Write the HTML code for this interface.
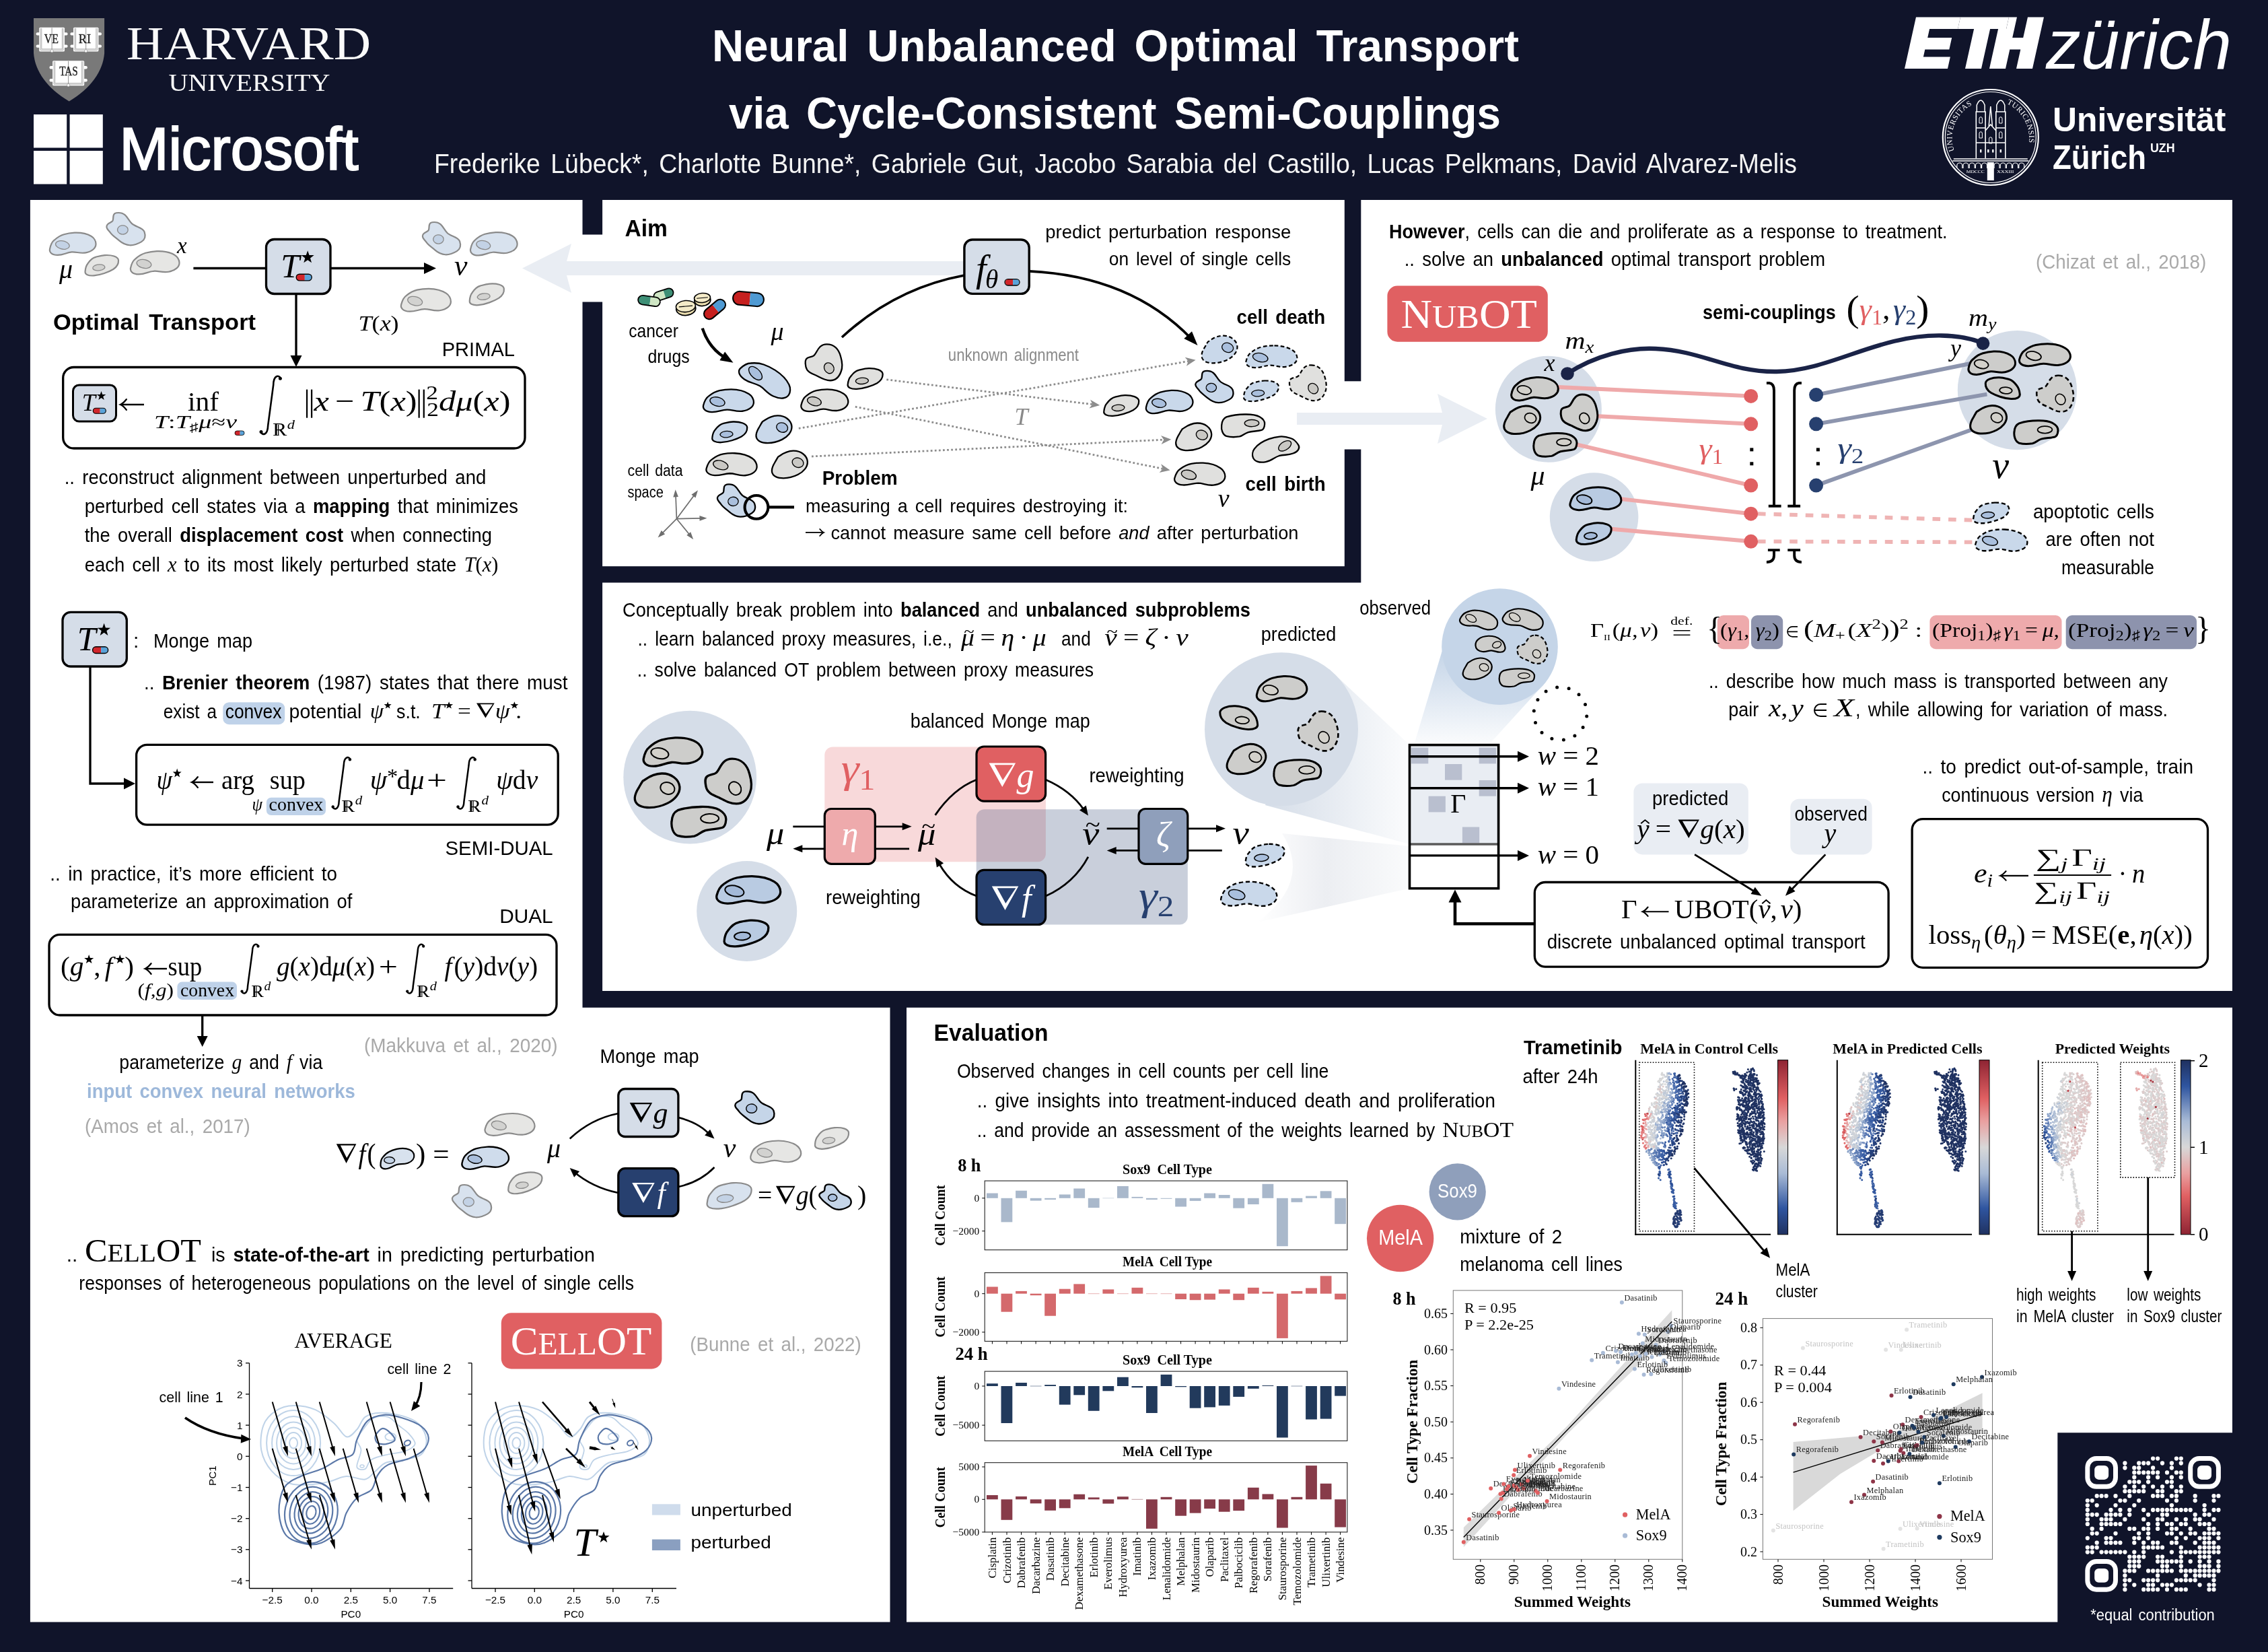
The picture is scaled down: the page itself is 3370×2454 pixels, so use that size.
<!DOCTYPE html>
<html lang="en"><head><meta charset="utf-8"><title>Neural Unbalanced Optimal Transport via Cycle-Consistent Semi-Couplings</title>
<style>
html,body{margin:0;padding:0;background:#10142a;}
body{width:3370px;height:2454px;overflow:hidden;font-family:"Liberation Sans",sans-serif;}
svg{display:block;will-change:transform;transform:translateZ(0);}
text{white-space:pre;}
</style></head><body>
<svg width="3370" height="2454" viewBox="0 0 3370 2454">
<defs></defs>
<path d="M44.9,297 H865.5 V1496.8 H1322.5 V2409.6 H44.9 Z" fill="#ffffff" />
<rect x="895.1" y="297.0" width="1102.7" height="544.2" fill="#ffffff" />
<path d="M2022.3,297 H3317 V1472.1 H895.1 V865.6 H2022.3 Z" fill="#ffffff" />
<rect x="864.5" y="348.5" width="31.6" height="100.0" fill="#ffffff" />
<rect x="1996.8" y="566.3" width="26.5" height="101.2" fill="#ffffff" />
<path d="M1347,1496.8 H3317 V2128.3 H3057.3 V2409.6 H1347 Z" fill="#ffffff" />
<path d="M1435,388 H842 L849,362 L776,398.5 L849,435 L842,409 H1435 Z" fill="#e9edf3" />
<path d="M1927,613 H2143 L2136,585 L2210,622 L2136,659 L2143,631 H1927 Z" fill="#e9edf3" />
<path d="M50,27 H155.1 V79 C153,106 135,131 102.7,150.5 C70,131 52,106 50,79 Z" fill="#797979" />
<rect x="53.6" y="48.2" width="47.0" height="4.4" fill="#fff" rx="2" />
<rect x="53.6" y="66.4" width="47.0" height="4.4" fill="#fff" rx="2" />
<rect x="58.2" y="40.8" width="37.8" height="35.6" fill="#fff" rx="1.5" />
<path d="M60.2,41.8 V74.4 H94.0 V41.8" fill="none" stroke="#8f8f8f" stroke-width="0.7" />
<path d="M61.800000000000004,41.8 V72.80000000000001 H92.4 V41.8" fill="none" stroke="#8f8f8f" stroke-width="0.7" />
<line x1="77.1" y1="41.3" x2="77.1" y2="73.4" stroke="#777" stroke-width="0.8" />
<circle cx="77.1" cy="75.8" r="2.1" fill="#fff" stroke="#888" stroke-width="0.6" />
<text x="65.8" y="63.6" font-family='"Liberation Serif", serif' font-size="19.4" font-weight="normal" font-style="normal" fill="#1c1c1c" text-anchor="start" textLength="21.2" lengthAdjust="spacingAndGlyphs" stroke="#1c1c1c" stroke-width="0.35">VE</text>
<rect x="104.4" y="48.2" width="46.6" height="4.4" fill="#fff" rx="2" />
<rect x="104.4" y="66.4" width="46.6" height="4.4" fill="#fff" rx="2" />
<rect x="109.0" y="40.8" width="37.4" height="35.6" fill="#fff" rx="1.5" />
<path d="M111.0,41.8 V74.4 H144.4 V41.8" fill="none" stroke="#8f8f8f" stroke-width="0.7" />
<path d="M112.6,41.8 V72.80000000000001 H142.8 V41.8" fill="none" stroke="#8f8f8f" stroke-width="0.7" />
<line x1="127.7" y1="41.3" x2="127.7" y2="73.4" stroke="#777" stroke-width="0.8" />
<circle cx="127.7" cy="75.8" r="2.1" fill="#fff" stroke="#888" stroke-width="0.6" />
<text x="116.7" y="63.6" font-family='"Liberation Serif", serif' font-size="19.4" font-weight="normal" font-style="normal" fill="#1c1c1c" text-anchor="start" textLength="18.3" lengthAdjust="spacingAndGlyphs" stroke="#1c1c1c" stroke-width="0.35">RI</text>
<rect x="73.5" y="98.1" width="56.3" height="4.4" fill="#fff" rx="2" />
<rect x="73.5" y="117.0" width="56.3" height="4.4" fill="#fff" rx="2" />
<rect x="78.1" y="90.3" width="47.1" height="36.9" fill="#fff" rx="1.5" />
<path d="M80.1,91.3 V125.19999999999999 H123.19999999999999 V91.3" fill="none" stroke="#8f8f8f" stroke-width="0.7" />
<path d="M81.69999999999999,91.3 V123.6 H121.6 V91.3" fill="none" stroke="#8f8f8f" stroke-width="0.7" />
<line x1="101.6" y1="90.8" x2="101.6" y2="124.2" stroke="#777" stroke-width="0.8" />
<circle cx="101.6" cy="126.6" r="2.1" fill="#fff" stroke="#888" stroke-width="0.6" />
<text x="88.3" y="112.4" font-family='"Liberation Serif", serif' font-size="19.4" font-weight="normal" font-style="normal" fill="#1c1c1c" text-anchor="start" textLength="27.5" lengthAdjust="spacingAndGlyphs" stroke="#1c1c1c" stroke-width="0.35">TAS</text>
<text x="188.0" y="88.0" font-family='"Liberation Serif", serif' font-size="70.5" font-weight="normal" font-style="normal" fill="#fafafa" text-anchor="start" textLength="363.0" lengthAdjust="spacingAndGlyphs" >HARVARD</text>
<text x="250.5" y="134.8" font-family='"Liberation Serif", serif' font-size="36.5" font-weight="normal" font-style="normal" fill="#fafafa" text-anchor="start" textLength="240.0" lengthAdjust="spacingAndGlyphs" >UNIVERSITY</text>
<rect x="50.0" y="170.0" width="49.2" height="49.5" fill="#fff" />
<rect x="50.0" y="224.0" width="49.2" height="49.5" fill="#fff" />
<rect x="103.6" y="170.0" width="49.2" height="49.5" fill="#fff" />
<rect x="103.6" y="224.0" width="49.2" height="49.5" fill="#fff" />
<text x="177.5" y="252.0" font-family='"Liberation Sans", sans-serif' font-size="88.7" font-weight="normal" font-style="normal" fill="#fff" text-anchor="start" textLength="355.0" lengthAdjust="spacingAndGlyphs" stroke="#fff" stroke-width="2.2">Microsoft</text>
<text x="1058.0" y="91.4" font-family='"Liberation Sans", sans-serif' font-size="66.58" font-weight="bold" font-style="normal" fill="#fff" text-anchor="start" textLength="1199.0" lengthAdjust="spacingAndGlyphs" word-spacing="9.0" >Neural Unbalanced Optimal Transport</text>
<text x="1083.0" y="191.4" font-family='"Liberation Sans", sans-serif' font-size="66.58" font-weight="bold" font-style="normal" fill="#fff" text-anchor="start" textLength="1147.0" lengthAdjust="spacingAndGlyphs" word-spacing="9.0" >via Cycle-Consistent Semi-Couplings</text>
<text x="645.0" y="257.0" font-family='"Liberation Sans", sans-serif' font-size="40.05" font-weight="normal" font-style="normal" fill="#f4f4f4" text-anchor="start" textLength="2025.0" lengthAdjust="spacingAndGlyphs" word-spacing="5.4" >Frederike Lübeck*, Charlotte Bunne*, Gabriele Gut, Jacobo Sarabia del Castillo, Lucas Pelkmans, David Alvarez-Melis</text>
<g transform="translate(2830,102) skewX(-12.5)" fill="#fff">
<path d="M0,0 V-76.6 H66 V-59.099999999999994 H24 V-46.05 H60 V-28.549999999999997 H24 V-17.5 H64 V0 Z"/>
<path d="M66,-76.6 H138 V-59.099999999999994 H114 V0 H90 V-59.099999999999994 H66 Z"/>
<path d="M126,-59.099999999999994 V0 H150 V-28.549999999999997 H166 V0 H190 V-76.6 H166 V-46.05 H150 V-76.6 H138 V-59.099999999999994 Z"/>
</g>
<text x="3040.0" y="102.0" font-family='"Liberation Sans", sans-serif' font-size="104" font-weight="normal" font-style="italic" fill="#fff" text-anchor="start" textLength="276.0" lengthAdjust="spacingAndGlyphs" >zürich</text>
<circle cx="2957.8" cy="204.0" r="71.0" fill="none" stroke="#fff" stroke-width="2.2" />
<circle cx="2957.8" cy="204.0" r="67.5" fill="none" stroke="#fff" stroke-width="1.2" />
<path d="M2936.3,235 V166 H2950.1000000000004 V235 M2965.8,235 V166 H2979.8 V235 M2950.1000000000004,235 V194 L2957.8,185 L2965.8,194 V235" fill="none" stroke="#fff" stroke-width="1.6" />
<path d="M2937.3,166 V156 Q2943.2000000000003,142 2949.1000000000004,156 V166 M2966.8,166 V156 Q2972.8,142 2978.8,156 V166 M2955.2000000000003,187 L2957.8,158 L2960.4,187" fill="none" stroke="#fff" stroke-width="1.5" />
<path d="M2936.3,190 H2950.1000000000004 M2965.8,190 H2979.8 M2936.3,212 H2979.8 M2902.8,236 H3012.8 M2901.3,239 H3014.3" fill="none" stroke="#fff" stroke-width="1.3" />
<path d="M2907.8,250 V246 A4,4 0 0 1 2915.8,246 V250" fill="none" stroke="#fff" stroke-width="1.2" />
<path d="M2917.0,250 V246 A4,4 0 0 1 2925.0,246 V250" fill="none" stroke="#fff" stroke-width="1.2" />
<path d="M2926.2000000000003,250 V246 A4,4 0 0 1 2934.2000000000003,246 V250" fill="none" stroke="#fff" stroke-width="1.2" />
<path d="M2935.4,250 V246 A4,4 0 0 1 2943.4,246 V250" fill="none" stroke="#fff" stroke-width="1.2" />
<path d="M2944.6000000000004,250 V246 A4,4 0 0 1 2952.6000000000004,246 V250" fill="none" stroke="#fff" stroke-width="1.2" />
<path d="M2963.0,250 V246 A4,4 0 0 1 2971.0,246 V250" fill="none" stroke="#fff" stroke-width="1.2" />
<path d="M2972.2000000000003,250 V246 A4,4 0 0 1 2980.2000000000003,246 V250" fill="none" stroke="#fff" stroke-width="1.2" />
<path d="M2981.4,250 V246 A4,4 0 0 1 2989.4,246 V250" fill="none" stroke="#fff" stroke-width="1.2" />
<path d="M2990.6000000000004,250 V246 A4,4 0 0 1 2998.6000000000004,246 V250" fill="none" stroke="#fff" stroke-width="1.2" />
<path d="M2999.8,250 V246 A4,4 0 0 1 3007.8,246 V250" fill="none" stroke="#fff" stroke-width="1.2" />
<path d="M2941.0000000000005,183 V176 A2.2,2.2 0 0 1 2945.4,176 V183 Z" fill="none" stroke="#fff" stroke-width="1" />
<path d="M2970.6000000000004,183 V176 A2.2,2.2 0 0 1 2975.0,176 V183 Z" fill="none" stroke="#fff" stroke-width="1" />
<path d="M2941.0000000000005,205 V198 A2.2,2.2 0 0 1 2945.4,198 V205 Z" fill="none" stroke="#fff" stroke-width="1" />
<path d="M2970.6000000000004,205 V198 A2.2,2.2 0 0 1 2975.0,198 V205 Z" fill="none" stroke="#fff" stroke-width="1" />
<path d="M2955.6000000000004,213 V206 A2.2,2.2 0 0 1 2960.0,206 V213 Z" fill="none" stroke="#fff" stroke-width="1" />
<rect x="2942.0" y="222.0" width="2.4" height="4.5" fill="#fff" />
<rect x="2971.6" y="222.0" width="2.4" height="4.5" fill="#fff" />
<rect x="2953.1" y="222.0" width="2.4" height="4.5" fill="#fff" />
<rect x="2960.1" y="222.0" width="2.4" height="4.5" fill="#fff" />
<rect x="2952.8" y="241.0" width="10.0" height="27.0" fill="#fff" />
<path id="uzharc1" d="M2903.8,224 A56,56 0 0 1 2933.8,154" fill="none"/><path id="uzharc2" d="M2981.8,154 A56,56 0 0 1 3011.8,224" fill="none"/>
<text font-family='"Liberation Serif", serif' font-size="11.5" fill="#fff" letter-spacing="0.5"><textPath href="#uzharc1">UNIVERSITAS</textPath></text>
<text font-family='"Liberation Serif", serif' font-size="11.5" fill="#fff" letter-spacing="0.5"><textPath href="#uzharc2">TURICENSIS</textPath></text>
<text x="2921.8" y="256.8" font-family='"Liberation Serif", serif' font-size="6.2" font-weight="normal" font-style="normal" fill="#fff" text-anchor="start" textLength="27.0" lengthAdjust="spacingAndGlyphs" >MDCCC</text>
<text x="2967.3" y="256.8" font-family='"Liberation Serif", serif' font-size="6.2" font-weight="normal" font-style="normal" fill="#fff" text-anchor="start" textLength="25.0" lengthAdjust="spacingAndGlyphs" >XXXIII</text>
<text x="3050.0" y="194.8" font-family='"Liberation Sans", sans-serif' font-size="50.5" font-weight="bold" font-style="normal" fill="#fff" text-anchor="start" textLength="257.4" lengthAdjust="spacingAndGlyphs" >Universität</text>
<text x="3050.0" y="251.0" font-family='"Liberation Sans", sans-serif' font-size="50.5" font-weight="bold" font-style="normal" fill="#fff" text-anchor="start" textLength="139.0" lengthAdjust="spacingAndGlyphs" >Zürich</text>
<text x="3195.0" y="226.0" font-family='"Liberation Sans", sans-serif' font-size="17.5" font-weight="bold" font-style="normal" fill="#fff" text-anchor="start" textLength="36.6" lengthAdjust="spacingAndGlyphs" >UZH</text>
<g transform="translate(108.0,362.0) rotate(-1) scale(34.50,16.50)"><path d="M0.09,-0.99 C0.4,-1.0 0.65,-0.85 0.8,-0.65 C0.92,-0.5 1.0,-0.2 1.0,0.05 C1.0,0.4 0.85,0.72 0.56,0.83 C0.3,0.92 0.15,0.72 -0.05,0.75 C-0.3,0.8 -0.4,1.0 -0.65,1.0 C-0.9,1.0 -1.02,0.75 -0.99,0.45 C-0.96,0.15 -0.92,-0.15 -0.79,-0.35 C-0.68,-0.55 -0.55,-0.75 -0.37,-0.85 C-0.2,-0.95 -0.05,-0.98 0.09,-0.99 Z" fill="#d8e2ee" stroke="#8a8a8a" stroke-width="2.2" vector-effect="non-scaling-stroke" stroke-linejoin="round"/><ellipse cx="-0.44" cy="0.1" rx="0.28" ry="0.4" transform="rotate(-20 -0.44 0.1)" fill="#c3d2e5" stroke="#8a8a8a" stroke-width="1.32" vector-effect="non-scaling-stroke"/></g>
<g transform="translate(187.0,340.0) rotate(0) scale(29.00,24.50)"><path d="M-0.49,-0.97 C-0.3,-1.0 -0.15,-0.95 -0.05,-0.85 C0.1,-0.7 0.15,-0.5 0.3,-0.33 C0.5,-0.1 0.85,-0.1 0.95,0.18 C1.03,0.45 0.98,0.65 0.8,0.78 C0.6,0.92 0.4,1.0 0.2,0.99 C0.0,0.98 -0.2,0.85 -0.33,0.72 C-0.5,0.55 -0.7,0.4 -0.8,0.22 C-0.9,0.05 -1.02,0.0 -0.98,-0.18 C-0.95,-0.35 -0.72,-0.38 -0.67,-0.5 C-0.62,-0.65 -0.7,-0.93 -0.49,-0.97 Z" fill="#d8e2ee" stroke="#8a8a8a" stroke-width="2.2" vector-effect="non-scaling-stroke" stroke-linejoin="round"/><ellipse cx="-0.16" cy="0.06" rx="0.27" ry="0.27" transform="rotate(35 -0.16 0.06)" fill="#c3d2e5" stroke="#8a8a8a" stroke-width="1.32" vector-effect="non-scaling-stroke"/></g>
<g transform="translate(151.0,394.0) rotate(-2) scale(25.50,15.00)"><path d="M0.2,-0.98 C0.6,-1.0 0.98,-0.8 0.99,-0.44 C1.0,-0.1 0.9,0.2 0.67,0.44 C0.4,0.7 -0.1,0.98 -0.47,1.0 C-0.8,1.02 -1.0,0.85 -0.97,0.55 C-0.95,0.25 -0.92,0.0 -0.8,-0.22 C-0.68,-0.5 -0.55,-0.75 -0.33,-0.83 C-0.1,-0.92 0.0,-0.97 0.2,-0.98 Z" fill="#e6e6e4" stroke="#8a8a8a" stroke-width="2.2" vector-effect="non-scaling-stroke" stroke-linejoin="round"/><ellipse cx="-0.17" cy="0.22" rx="0.36" ry="0.3" transform="rotate(-15 -0.17 0.22)" fill="#d2d2d0" stroke="#8a8a8a" stroke-width="1.32" vector-effect="non-scaling-stroke"/></g>
<g transform="translate(230.0,390.0) rotate(-1) scale(36.50,17.00)"><path d="M0.09,-0.99 C0.4,-1.0 0.65,-0.85 0.8,-0.65 C0.92,-0.5 1.0,-0.2 1.0,0.05 C1.0,0.4 0.85,0.72 0.56,0.83 C0.3,0.92 0.15,0.72 -0.05,0.75 C-0.3,0.8 -0.4,1.0 -0.65,1.0 C-0.9,1.0 -1.02,0.75 -0.99,0.45 C-0.96,0.15 -0.92,-0.15 -0.79,-0.35 C-0.68,-0.55 -0.55,-0.75 -0.37,-0.85 C-0.2,-0.95 -0.05,-0.98 0.09,-0.99 Z" fill="#e6e6e4" stroke="#8a8a8a" stroke-width="2.2" vector-effect="non-scaling-stroke" stroke-linejoin="round"/><ellipse cx="-0.44" cy="0.1" rx="0.28" ry="0.4" transform="rotate(-20 -0.44 0.1)" fill="#d2d2d0" stroke="#8a8a8a" stroke-width="1.32" vector-effect="non-scaling-stroke"/></g>
<g transform="translate(263.0,376.0) scale(1.0000,1)"><text x="0.0" y="0.0" font-family='"Liberation Serif", serif' font-size="33" font-weight="normal" font-style="italic" fill="#000" text-anchor="start" >x</text></g>
<g transform="translate(88.0,413.0) scale(1.0000,1)"><text x="0.0" y="0.0" font-family='"Liberation Serif", serif' font-size="40" font-weight="normal" font-style="italic" fill="#000" text-anchor="start" >μ</text></g>
<line x1="287.4" y1="398.5" x2="396.0" y2="398.5" stroke="#000" stroke-width="3.3" />
<line x1="491.0" y1="398.5" x2="633.0" y2="398.5" stroke="#000" stroke-width="3.3" />
<polygon points="648.0,398.5 630.0,407.0 630.0,390.0" fill="#000"/>
<rect x="395.5" y="355.5" width="95.5" height="81.0" fill="#d5dde8" rx="12" stroke="#000" stroke-width="3.3" />
<text x="417.3" y="412.2" font-family='"Liberation Serif", serif' font-size="50" font-weight="normal" font-style="italic" fill="#000" text-anchor="start" >T</text>
<polygon points="457.2,372.2 459.5,379.0 466.7,379.1 461.0,383.4 463.0,390.3 457.2,386.2 451.3,390.3 453.3,383.4 447.6,379.1 454.8,379.0" fill="#000"/>
<g transform="rotate(0 451.7 412.0)"><path d="M445.0,407.2 H452.8 V416.9 H445.0 A4.8,4.8 0 0 1 445.0,407.2 Z" fill="#d1262b"/><path d="M452.8,407.2 H458.3 A4.8,4.8 0 0 1 458.3,416.9 H452.8 Z" fill="#5aa3d9"/><rect x="440.2" y="407.2" width="23.0" height="9.7" rx="4.8" fill="none" stroke="#000" stroke-width="1.38"/></g>
<line x1="440.0" y1="436.0" x2="440.0" y2="530.0" stroke="#000" stroke-width="3.3" />
<polygon points="440.0,545.0 431.5,528.0 448.5,528.0" fill="#000"/>
<g transform="translate(675.0,409.0) scale(1.0000,1)"><text x="0.0" y="0.0" font-family='"Liberation Serif", serif' font-size="44" font-weight="normal" font-style="italic" fill="#000" text-anchor="start" >ν</text></g>
<g transform="translate(656.0,354.0) rotate(0) scale(28.50,24.50)"><path d="M-0.49,-0.97 C-0.3,-1.0 -0.15,-0.95 -0.05,-0.85 C0.1,-0.7 0.15,-0.5 0.3,-0.33 C0.5,-0.1 0.85,-0.1 0.95,0.18 C1.03,0.45 0.98,0.65 0.8,0.78 C0.6,0.92 0.4,1.0 0.2,0.99 C0.0,0.98 -0.2,0.85 -0.33,0.72 C-0.5,0.55 -0.7,0.4 -0.8,0.22 C-0.9,0.05 -1.02,0.0 -0.98,-0.18 C-0.95,-0.35 -0.72,-0.38 -0.67,-0.5 C-0.62,-0.65 -0.7,-0.93 -0.49,-0.97 Z" fill="#d8e2ee" stroke="#8a8a8a" stroke-width="2.2" vector-effect="non-scaling-stroke" stroke-linejoin="round"/><ellipse cx="-0.16" cy="0.06" rx="0.27" ry="0.27" transform="rotate(35 -0.16 0.06)" fill="#c3d2e5" stroke="#8a8a8a" stroke-width="1.32" vector-effect="non-scaling-stroke"/></g>
<g transform="translate(733.6,362.0) rotate(-1) scale(35.00,17.00)"><path d="M0.09,-0.99 C0.4,-1.0 0.65,-0.85 0.8,-0.65 C0.92,-0.5 1.0,-0.2 1.0,0.05 C1.0,0.4 0.85,0.72 0.56,0.83 C0.3,0.92 0.15,0.72 -0.05,0.75 C-0.3,0.8 -0.4,1.0 -0.65,1.0 C-0.9,1.0 -1.02,0.75 -0.99,0.45 C-0.96,0.15 -0.92,-0.15 -0.79,-0.35 C-0.68,-0.55 -0.55,-0.75 -0.37,-0.85 C-0.2,-0.95 -0.05,-0.98 0.09,-0.99 Z" fill="#d8e2ee" stroke="#8a8a8a" stroke-width="2.2" vector-effect="non-scaling-stroke" stroke-linejoin="round"/><ellipse cx="-0.44" cy="0.1" rx="0.28" ry="0.4" transform="rotate(-20 -0.44 0.1)" fill="#c3d2e5" stroke="#8a8a8a" stroke-width="1.32" vector-effect="non-scaling-stroke"/></g>
<g transform="translate(633.0,446.0) rotate(2) scale(37.00,17.50)"><path d="M0.09,-0.99 C0.4,-1.0 0.65,-0.85 0.8,-0.65 C0.92,-0.5 1.0,-0.2 1.0,0.05 C1.0,0.4 0.85,0.72 0.56,0.83 C0.3,0.92 0.15,0.72 -0.05,0.75 C-0.3,0.8 -0.4,1.0 -0.65,1.0 C-0.9,1.0 -1.02,0.75 -0.99,0.45 C-0.96,0.15 -0.92,-0.15 -0.79,-0.35 C-0.68,-0.55 -0.55,-0.75 -0.37,-0.85 C-0.2,-0.95 -0.05,-0.98 0.09,-0.99 Z" fill="#e6e6e4" stroke="#8a8a8a" stroke-width="2.2" vector-effect="non-scaling-stroke" stroke-linejoin="round"/><ellipse cx="-0.44" cy="0.1" rx="0.28" ry="0.4" transform="rotate(-20 -0.44 0.1)" fill="#d2d2d0" stroke="#8a8a8a" stroke-width="1.32" vector-effect="non-scaling-stroke"/></g>
<g transform="translate(723.0,437.0) rotate(-3) scale(26.50,15.50)"><path d="M0.2,-0.98 C0.6,-1.0 0.98,-0.8 0.99,-0.44 C1.0,-0.1 0.9,0.2 0.67,0.44 C0.4,0.7 -0.1,0.98 -0.47,1.0 C-0.8,1.02 -1.0,0.85 -0.97,0.55 C-0.95,0.25 -0.92,0.0 -0.8,-0.22 C-0.68,-0.5 -0.55,-0.75 -0.33,-0.83 C-0.1,-0.92 0.0,-0.97 0.2,-0.98 Z" fill="#e6e6e4" stroke="#8a8a8a" stroke-width="2.2" vector-effect="non-scaling-stroke" stroke-linejoin="round"/><ellipse cx="-0.17" cy="0.22" rx="0.36" ry="0.3" transform="rotate(-15 -0.17 0.22)" fill="#d2d2d0" stroke="#8a8a8a" stroke-width="1.32" vector-effect="non-scaling-stroke"/></g>
<text x="79.0" y="490.0" font-family='"Liberation Sans", sans-serif' font-size="33.77" font-weight="bold" font-style="normal" fill="#000" text-anchor="start" textLength="301.0" lengthAdjust="spacingAndGlyphs" word-spacing="4.5" >Optimal Transport</text>
<g transform="translate(532.6,491.0) scale(1.1617,1)"><text x="0.0" y="0.0" font-family='"Liberation Serif", serif' font-size="31" font-weight="normal" font-style="italic" fill="#000" text-anchor="start" >T</text><text x="17.2" y="0.0" font-family='"Liberation Serif", serif' font-size="31" font-weight="normal" font-style="normal" fill="#000" text-anchor="start" >(</text><text x="27.6" y="0.0" font-family='"Liberation Serif", serif' font-size="31" font-weight="normal" font-style="italic" fill="#000" text-anchor="start" >x</text><text x="41.3" y="0.0" font-family='"Liberation Serif", serif' font-size="31" font-weight="normal" font-style="normal" fill="#000" text-anchor="start" >)</text></g>
<text x="656.7" y="529.0" font-family='"Liberation Sans", sans-serif' font-size="29.6" font-weight="normal" font-style="normal" fill="#000" text-anchor="start" textLength="108.3" lengthAdjust="spacingAndGlyphs" >PRIMAL</text>
<rect x="93.7" y="545.5" width="686.3" height="120.5" fill="#fff" rx="16" stroke="#000" stroke-width="3.3" />
<rect x="108.5" y="572.0" width="64.0" height="54.0" fill="#d5dde8" rx="9" stroke="#000" stroke-width="3" />
<text x="121.8" y="609.8" font-family='"Liberation Serif", serif' font-size="36" font-weight="normal" font-style="italic" fill="#000" text-anchor="start" >T</text>
<polygon points="150.5,581.0 152.2,585.9 157.4,586.0 153.2,589.1 154.7,594.0 150.5,591.1 146.3,594.0 147.8,589.1 143.7,586.0 148.8,585.9" fill="#000"/>
<g transform="rotate(0 147.8 610.2)"><path d="M142.3,606.2 H148.7 V614.2 H142.3 A4.0,4.0 0 0 1 142.3,606.2 Z" fill="#d1262b"/><path d="M148.7,606.2 H153.3 A4.0,4.0 0 0 1 153.3,614.2 H148.7 Z" fill="#5aa3d9"/><rect x="138.3" y="606.2" width="19.0" height="8.0" rx="4.0" fill="none" stroke="#000" stroke-width="1.14"/></g>
<line x1="180.0" y1="601.0" x2="214.0" y2="601.0" stroke="#000" stroke-width="2.4" />
<path d="M187.8,593.3 Q182.8,599.5 179.0,601.0 Q182.8,602.5 187.8,608.7" fill="none" stroke="#000" stroke-width="2.4" stroke-linecap="round"/>
<g transform="translate(279.0,610.4) scale(1.0618,1)"><text x="0.0" y="0.0" font-family='"Liberation Serif", serif' font-size="39" font-weight="normal" font-style="normal" fill="#000" text-anchor="start" >inf</text></g>
<g transform="translate(229.0,636.3) scale(1.4083,1)"><text x="0.0" y="0.0" font-family='"Liberation Serif", serif' font-size="27" font-weight="normal" font-style="italic" fill="#000" text-anchor="start" >T</text><text x="15.0" y="0.0" font-family='"Liberation Serif", serif' font-size="27" font-weight="normal" font-style="normal" fill="#000" text-anchor="start" >:</text><text x="22.5" y="0.0" font-family='"Liberation Serif", serif' font-size="27" font-weight="normal" font-style="italic" fill="#000" text-anchor="start" >T</text><text x="37.5" y="4.6" font-family='"Liberation Serif", serif' font-size="18.9" font-weight="normal" font-style="normal" fill="#000" text-anchor="start" >♯</text><text x="47.0" y="0.0" font-family='"Liberation Serif", serif' font-size="27" font-weight="normal" font-style="italic" fill="#000" text-anchor="start" >μ</text><text x="60.5" y="0.0" font-family='"Liberation Serif", serif' font-size="27" font-weight="normal" font-style="normal" fill="#000" text-anchor="start" >≈</text><text x="75.4" y="0.0" font-family='"Liberation Serif", serif' font-size="27" font-weight="normal" font-style="italic" fill="#000" text-anchor="start" >ν</text></g>
<g transform="rotate(0 356.0 643.2)"><path d="M352.2,640.0 H356.7 V646.5 H352.2 A3.2,3.2 0 0 1 352.2,640.0 Z" fill="#d1262b"/><path d="M356.7,640.0 H359.8 A3.2,3.2 0 0 1 359.8,646.5 H356.7 Z" fill="#5aa3d9"/><rect x="349.0" y="640.0" width="14.0" height="6.5" rx="3.2" fill="none" stroke="#000" stroke-width="0.8"/></g>
<path d="M387.5,641.9 C389.7,646.7 397.7,647.2 398.2,632.1 L406.2,571.6 C406.6,556.5 414.6,557.0 416.8,561.8" fill="none" stroke="#000" stroke-width="2.6" stroke-linecap="round"/>
<circle cx="388.0" cy="641.4" r="2.5" fill="#000" />
<circle cx="416.4" cy="562.3" r="2.5" fill="#000" />
<g transform="translate(405.0,647.4) scale(1.1866,1)"><text x="0.0" y="0.0" font-family='"Liberation Serif", serif' font-size="27" font-weight="normal" font-style="normal" fill="#000" text-anchor="start" >R</text><line x1="7.3" y1="-16.7" x2="7.3" y2="-0.8" stroke="#000" stroke-width="1.08" /><text x="18.4" y="-10.8" font-family='"Liberation Serif", serif' font-size="18.9" font-weight="normal" font-style="italic" fill="#000" text-anchor="start" >d</text></g>
<g transform="translate(453.0,610.4) scale(1.1732,1)"><line x1="2.6" y1="-31.8" x2="2.6" y2="10.3" stroke="#000" stroke-width="1.9349999999999998" /><line x1="8.6" y1="-31.8" x2="8.6" y2="10.3" stroke="#000" stroke-width="1.9349999999999998" /><text x="11.6" y="0.0" font-family='"Liberation Serif", serif' font-size="43" font-weight="normal" font-style="italic" fill="#000" text-anchor="start" >x</text><text x="38.4" y="0.0" font-family='"Liberation Serif", serif' font-size="43" font-weight="normal" font-style="normal" fill="#000" text-anchor="start" >−</text><text x="70.4" y="0.0" font-family='"Liberation Serif", serif' font-size="43" font-weight="normal" font-style="italic" fill="#000" text-anchor="start" >T</text><text x="94.3" y="0.0" font-family='"Liberation Serif", serif' font-size="43" font-weight="normal" font-style="normal" fill="#000" text-anchor="start" >(</text><text x="108.7" y="0.0" font-family='"Liberation Serif", serif' font-size="43" font-weight="normal" font-style="italic" fill="#000" text-anchor="start" >x</text><text x="127.7" y="0.0" font-family='"Liberation Serif", serif' font-size="43" font-weight="normal" font-style="normal" fill="#000" text-anchor="start" >)</text><line x1="144.6" y1="-31.8" x2="144.6" y2="10.3" stroke="#000" stroke-width="1.9349999999999998" /><line x1="150.7" y1="-31.8" x2="150.7" y2="10.3" stroke="#000" stroke-width="1.9349999999999998" /><text x="153.7" y="-17.2" font-family='"Liberation Serif", serif' font-size="30.099999999999998" font-weight="normal" font-style="normal" fill="#000" text-anchor="start" >2</text><text x="154.5" y="7.3" font-family='"Liberation Serif", serif' font-size="30.099999999999998" font-weight="normal" font-style="normal" fill="#000" text-anchor="start" >2</text><text x="169.6" y="0.0" font-family='"Liberation Serif", serif' font-size="43" font-weight="normal" font-style="italic" fill="#000" text-anchor="start" >dμ</text><text x="212.7" y="0.0" font-family='"Liberation Serif", serif' font-size="43" font-weight="normal" font-style="normal" fill="#000" text-anchor="start" >(</text><text x="227.0" y="0.0" font-family='"Liberation Serif", serif' font-size="43" font-weight="normal" font-style="italic" fill="#000" text-anchor="start" >x</text><text x="246.1" y="0.0" font-family='"Liberation Serif", serif' font-size="43" font-weight="normal" font-style="normal" fill="#000" text-anchor="start" >)</text></g>
<text x="95.7" y="719.0" font-family='"Liberation Sans", sans-serif' font-size="28.95" font-weight="normal" font-style="normal" fill="#000" text-anchor="start" textLength="626.6" lengthAdjust="spacingAndGlyphs" word-spacing="3.9" >.. reconstruct alignment between unperturbed and</text>
<text x="125.7" y="762.0" font-family='"Liberation Sans", sans-serif' font-size="28.95" font-weight="normal" font-style="normal" fill="#000" text-anchor="start" textLength="644.3" lengthAdjust="spacingAndGlyphs" word-spacing="3.9" >perturbed cell states via a <tspan font-weight="bold">mapping</tspan> that minimizes</text>
<text x="125.7" y="805.0" font-family='"Liberation Sans", sans-serif' font-size="28.95" font-weight="normal" font-style="normal" fill="#000" text-anchor="start" textLength="605.3" lengthAdjust="spacingAndGlyphs" word-spacing="3.9" >the overall <tspan font-weight="bold">displacement cost</tspan> when connecting</text>
<text x="125.7" y="848.5" font-family='"Liberation Sans", sans-serif' font-size="28.95" font-weight="normal" font-style="normal" fill="#000" text-anchor="start" textLength="614.6" lengthAdjust="spacingAndGlyphs" word-spacing="3.9" >each cell <tspan font-style="italic" font-family='"Liberation Serif", serif' font-size="32">x</tspan> to its most likely perturbed state <tspan font-style="italic" font-family='"Liberation Serif", serif' font-size="32">T</tspan><tspan font-family='"Liberation Serif", serif' font-size="32">(</tspan><tspan font-style="italic" font-family='"Liberation Serif", serif' font-size="32">x</tspan><tspan font-family='"Liberation Serif", serif' font-size="32">)</tspan></text>
<rect x="93.0" y="909.3" width="95.3" height="80.7" fill="#d5dde8" rx="12" stroke="#000" stroke-width="3.3" />
<text x="114.7" y="965.8" font-family='"Liberation Serif", serif' font-size="50" font-weight="normal" font-style="italic" fill="#000" text-anchor="start" >T</text>
<polygon points="154.6,925.8 156.9,932.6 164.1,932.7 158.4,937.0 160.4,943.9 154.6,939.8 148.7,943.9 150.7,937.0 145.0,932.7 152.2,932.6" fill="#000"/>
<g transform="rotate(0 149.1 965.6)"><path d="M142.4,960.8 H150.2 V970.4 H142.4 A4.8,4.8 0 0 1 142.4,960.8 Z" fill="#d1262b"/><path d="M150.2,960.8 H155.7 A4.8,4.8 0 0 1 155.7,970.4 H150.2 Z" fill="#5aa3d9"/><rect x="137.6" y="960.8" width="23.0" height="9.7" rx="4.8" fill="none" stroke="#000" stroke-width="1.38"/></g>
<text x="198.0" y="961.8" font-family='"Liberation Sans", sans-serif' font-size="30" font-weight="normal" font-style="normal" fill="#000" text-anchor="start" >:</text>
<text x="228.0" y="961.8" font-family='"Liberation Sans", sans-serif' font-size="28.95" font-weight="normal" font-style="normal" fill="#000" text-anchor="start" textLength="147.0" lengthAdjust="spacingAndGlyphs" word-spacing="3.9" >Monge map</text>
<path d="M134,990 V1164 H186" fill="none" stroke="#000" stroke-width="3.3" />
<polygon points="201.0,1164.0 184.0,1172.5 184.0,1155.5" fill="#000"/>
<text x="213.9" y="1023.7" font-family='"Liberation Sans", sans-serif' font-size="28.95" font-weight="normal" font-style="normal" fill="#000" text-anchor="start" textLength="629.6" lengthAdjust="spacingAndGlyphs" word-spacing="3.9" >.. <tspan font-weight="bold">Brenier theorem</tspan> (1987) states that there must</text>
<rect x="331.3" y="1043.2" width="91.9" height="33.0" fill="#bfd2e9" rx="9" />
<text x="242.8" y="1066.5" font-family='"Liberation Sans", sans-serif' font-size="28.95" font-weight="normal" font-style="normal" fill="#000" text-anchor="start" textLength="79.2" lengthAdjust="spacingAndGlyphs" word-spacing="3.9" >exist a</text>
<text x="334.7" y="1066.5" font-family='"Liberation Sans", sans-serif' font-size="28.95" font-weight="normal" font-style="normal" fill="#000" text-anchor="start" textLength="83.7" lengthAdjust="spacingAndGlyphs" >convex</text>
<text x="429.6" y="1066.5" font-family='"Liberation Sans", sans-serif' font-size="28.95" font-weight="normal" font-style="normal" fill="#000" text-anchor="start" textLength="107.7" lengthAdjust="spacingAndGlyphs" >potential</text>
<g transform="translate(549.7,1066.5) scale(1.0193,1)"><text x="0.0" y="0.0" font-family='"Liberation Serif", serif' font-size="32" font-weight="normal" font-style="italic" fill="#000" text-anchor="start" >ψ</text><polygon points="26.0,-24.3 27.3,-20.4 31.4,-20.3 28.1,-17.8 29.3,-13.9 26.0,-16.3 22.6,-13.9 23.8,-17.8 20.5,-20.3 24.6,-20.4" fill="#000"/></g>
<text x="589.0" y="1066.5" font-family='"Liberation Sans", sans-serif' font-size="28.95" font-weight="normal" font-style="normal" fill="#000" text-anchor="start" textLength="35.8" lengthAdjust="spacingAndGlyphs" >s.t.</text>
<g transform="translate(640.9,1066.5) scale(1.0987,1)"><text x="0.0" y="0.0" font-family='"Liberation Serif", serif' font-size="32" font-weight="normal" font-style="italic" fill="#000" text-anchor="start" >T</text><polygon points="23.9,-24.3 25.2,-20.4 29.4,-20.3 26.1,-17.8 27.3,-13.9 23.9,-16.3 20.5,-13.9 21.7,-17.8 18.4,-20.3 22.5,-20.4" fill="#000"/><text x="35.7" y="0.0" font-family='"Liberation Serif", serif' font-size="32" font-weight="normal" font-style="normal" fill="#000" text-anchor="start" >=</text><path d="M61.1,-21.9 H85.4 L73.3,0.0 Z M66.1,-20.2 L73.8,-6.1 L83.0,-20.2 Z" fill="#000" fill-rule="evenodd"/><text x="86.4" y="0.0" font-family='"Liberation Serif", serif' font-size="32" font-weight="normal" font-style="italic" fill="#000" text-anchor="start" >ψ</text><polygon points="112.4,-24.3 113.7,-20.4 117.8,-20.3 114.6,-17.8 115.7,-13.9 112.4,-16.3 109.0,-13.9 110.2,-17.8 106.9,-20.3 111.0,-20.4" fill="#000"/><text x="114.0" y="0.0" font-family='"Liberation Serif", serif' font-size="32" font-weight="normal" font-style="normal" fill="#000" text-anchor="start" >.</text></g>
<rect x="202.6" y="1106.3" width="626.6" height="118.9" fill="#fff" rx="16" stroke="#000" stroke-width="3.3" />
<g transform="translate(232.6,1172.0) scale(0.9428,1)"><text x="0.0" y="0.0" font-family='"Liberation Serif", serif' font-size="40" font-weight="normal" font-style="italic" fill="#000" text-anchor="start" >ψ</text><polygon points="32.4,-30.4 34.1,-25.5 39.3,-25.4 35.2,-22.3 36.7,-17.4 32.4,-20.3 28.2,-17.4 29.7,-22.3 25.6,-25.4 30.8,-25.5" fill="#000"/></g>
<line x1="286.0" y1="1162.0" x2="317.0" y2="1162.0" stroke="#000" stroke-width="2.4" />
<path d="M293.8,1154.3 Q288.8,1160.5 285.0,1162.0 Q288.8,1163.5 293.8,1169.7" fill="none" stroke="#000" stroke-width="2.4" stroke-linecap="round"/>
<g transform="translate(329.0,1172.0) scale(0.9732,1)"><text x="0.0" y="0.0" font-family='"Liberation Serif", serif' font-size="40" font-weight="normal" font-style="normal" fill="#000" text-anchor="start" >arg</text></g>
<g transform="translate(400.7,1172.0) scale(0.9592,1)"><text x="0.0" y="0.0" font-family='"Liberation Serif", serif' font-size="40" font-weight="normal" font-style="normal" fill="#000" text-anchor="start" >sup</text></g>
<g transform="translate(374.5,1203.5) scale(0.9243,1)"><text x="0.0" y="0.0" font-family='"Liberation Serif", serif' font-size="27" font-weight="normal" font-style="italic" fill="#000" text-anchor="start" >ψ</text></g>
<rect x="395.9" y="1184.7" width="88.1" height="26.3" fill="#bfd2e9" rx="7" />
<g transform="translate(399.6,1203.5) scale(1.0162,1)"><text x="0.0" y="0.0" font-family='"Liberation Serif", serif' font-size="27.5" font-weight="normal" font-style="normal" fill="#000" text-anchor="start" >convex</text></g>
<path d="M494.3,1198.8 C496.2,1203.1 503.3,1203.5 503.7,1190.1 L510.8,1136.5 C511.2,1123.1 518.3,1123.5 520.3,1127.8" fill="none" stroke="#000" stroke-width="2.5" stroke-linecap="round"/>
<circle cx="494.7" cy="1198.4" r="2.2" fill="#000" />
<circle cx="519.9" cy="1128.2" r="2.2" fill="#000" />
<g transform="translate(507.3,1205.7) scale(1.1576,1)"><text x="0.0" y="0.0" font-family='"Liberation Serif", serif' font-size="26" font-weight="normal" font-style="normal" fill="#000" text-anchor="start" >R</text><line x1="7.0" y1="-16.1" x2="7.0" y2="-0.8" stroke="#000" stroke-width="1.04" /><text x="17.7" y="-10.4" font-family='"Liberation Serif", serif' font-size="18.2" font-weight="normal" font-style="italic" fill="#000" text-anchor="start" >d</text></g>
<g transform="translate(549.7,1172.0) scale(1.0174,1)"><text x="0.0" y="0.0" font-family='"Liberation Serif", serif' font-size="40" font-weight="normal" font-style="italic" fill="#000" text-anchor="start" >ψ</text><text x="24.8" y="-8.0" font-family='"Liberation Serif", serif' font-size="32.0" font-weight="normal" font-style="normal" fill="#000" text-anchor="start" >*</text><text x="39.2" y="0.0" font-family='"Liberation Serif", serif' font-size="40" font-weight="normal" font-style="normal" fill="#000" text-anchor="start" >d</text><text x="59.2" y="0.0" font-family='"Liberation Serif", serif' font-size="40" font-weight="normal" font-style="italic" fill="#000" text-anchor="start" >μ</text></g>
<g transform="translate(634.0,1172.0) scale(1.3299,1)"><text x="0.0" y="0.0" font-family='"Liberation Serif", serif' font-size="40" font-weight="normal" font-style="normal" fill="#000" text-anchor="start" >+</text></g>
<path d="M680.1,1198.8 C682.0,1203.1 689.1,1203.5 689.5,1190.1 L696.6,1136.5 C697.0,1123.1 704.1,1123.5 706.1,1127.8" fill="none" stroke="#000" stroke-width="2.5" stroke-linecap="round"/>
<circle cx="680.5" cy="1198.4" r="2.2" fill="#000" />
<circle cx="705.7" cy="1128.2" r="2.2" fill="#000" />
<g transform="translate(695.0,1205.7) scale(1.1576,1)"><text x="0.0" y="0.0" font-family='"Liberation Serif", serif' font-size="26" font-weight="normal" font-style="normal" fill="#000" text-anchor="start" >R</text><line x1="7.0" y1="-16.1" x2="7.0" y2="-0.8" stroke="#000" stroke-width="1.04" /><text x="17.7" y="-10.4" font-family='"Liberation Serif", serif' font-size="18.2" font-weight="normal" font-style="italic" fill="#000" text-anchor="start" >d</text></g>
<g transform="translate(737.3,1172.0) scale(0.9905,1)"><text x="0.0" y="0.0" font-family='"Liberation Serif", serif' font-size="40" font-weight="normal" font-style="italic" fill="#000" text-anchor="start" >ψ</text><text x="24.8" y="0.0" font-family='"Liberation Serif", serif' font-size="40" font-weight="normal" font-style="normal" fill="#000" text-anchor="start" >d</text><text x="44.8" y="0.0" font-family='"Liberation Serif", serif' font-size="40" font-weight="normal" font-style="italic" fill="#000" text-anchor="start" >ν</text></g>
<text x="661.5" y="1270.2" font-family='"Liberation Sans", sans-serif' font-size="30" font-weight="normal" font-style="normal" fill="#000" text-anchor="start" textLength="160.2" lengthAdjust="spacingAndGlyphs" >SEMI-DUAL</text>
<text x="74.3" y="1307.8" font-family='"Liberation Sans", sans-serif' font-size="28.95" font-weight="normal" font-style="normal" fill="#000" text-anchor="start" textLength="426.7" lengthAdjust="spacingAndGlyphs" word-spacing="3.9" >.. in practice, it’s more efficient to</text>
<text x="105.0" y="1349.0" font-family='"Liberation Sans", sans-serif' font-size="28.95" font-weight="normal" font-style="normal" fill="#000" text-anchor="start" textLength="418.4" lengthAdjust="spacingAndGlyphs" word-spacing="3.9" >parameterize an approximation of</text>
<text x="742.2" y="1370.8" font-family='"Liberation Sans", sans-serif' font-size="30" font-weight="normal" font-style="normal" fill="#000" text-anchor="start" textLength="79.5" lengthAdjust="spacingAndGlyphs" >DUAL</text>
<rect x="73.0" y="1388.4" width="754.0" height="119.6" fill="#fff" rx="16" stroke="#000" stroke-width="3.3" />
<g transform="translate(90.0,1448.5) scale(1.0307,1)"><text x="0.0" y="0.0" font-family='"Liberation Serif", serif' font-size="40" font-weight="normal" font-style="normal" fill="#000" text-anchor="start" >(</text><text x="13.3" y="0.0" font-family='"Liberation Serif", serif' font-size="40" font-weight="normal" font-style="italic" fill="#000" text-anchor="start" >g</text><polygon points="40.9,-30.4 42.6,-25.5 47.8,-25.4 43.7,-22.3 45.2,-17.4 40.9,-20.3 36.7,-17.4 38.2,-22.3 34.1,-25.4 39.2,-25.5" fill="#000"/><text x="47.7" y="0.0" font-family='"Liberation Serif", serif' font-size="40" font-weight="normal" font-style="normal" fill="#000" text-anchor="start" >,</text><text x="63.7" y="0.0" font-family='"Liberation Serif", serif' font-size="40" font-weight="normal" font-style="italic" fill="#000" text-anchor="start" >f</text><polygon points="85.6,-30.4 87.3,-25.5 92.5,-25.4 88.4,-22.3 89.9,-17.4 85.6,-20.3 81.4,-17.4 82.9,-22.3 78.8,-25.4 83.9,-25.5" fill="#000"/><text x="92.4" y="0.0" font-family='"Liberation Serif", serif' font-size="40" font-weight="normal" font-style="normal" fill="#000" text-anchor="start" >)</text></g>
<line x1="216.7" y1="1439.0" x2="248.0" y2="1439.0" stroke="#000" stroke-width="2.4" />
<path d="M224.5,1431.3 Q219.5,1437.5 215.7,1439.0 Q219.5,1440.5 224.5,1446.7" fill="none" stroke="#000" stroke-width="2.4" stroke-linecap="round"/>
<g transform="translate(249.5,1448.5) scale(0.9124,1)"><text x="0.0" y="0.0" font-family='"Liberation Serif", serif' font-size="40" font-weight="normal" font-style="normal" fill="#000" text-anchor="start" >sup</text></g>
<g transform="translate(204.5,1479.6) scale(1.1698,1)"><text x="0.0" y="0.0" font-family='"Liberation Serif", serif' font-size="27" font-weight="normal" font-style="normal" fill="#000" text-anchor="start" >(</text><text x="9.0" y="0.0" font-family='"Liberation Serif", serif' font-size="27" font-weight="normal" font-style="italic" fill="#000" text-anchor="start" >f</text><text x="16.5" y="0.0" font-family='"Liberation Serif", serif' font-size="27" font-weight="normal" font-style="normal" fill="#000" text-anchor="start" >,</text><text x="23.2" y="0.0" font-family='"Liberation Serif", serif' font-size="27" font-weight="normal" font-style="italic" fill="#000" text-anchor="start" >g</text><text x="36.7" y="0.0" font-family='"Liberation Serif", serif' font-size="27" font-weight="normal" font-style="normal" fill="#000" text-anchor="start" >)</text></g>
<rect x="263.4" y="1458.6" width="88.6" height="26.3" fill="#bfd2e9" rx="7" />
<g transform="translate(268.0,1479.6) scale(1.0074,1)"><text x="0.0" y="0.0" font-family='"Liberation Serif", serif' font-size="27.5" font-weight="normal" font-style="normal" fill="#000" text-anchor="start" >convex</text></g>
<path d="M359.1,1472.8 C361.0,1477.0 367.8,1477.3 368.1,1464.6 L374.9,1413.6 C375.2,1400.8 382.0,1401.2 383.9,1405.3" fill="none" stroke="#000" stroke-width="2.5" stroke-linecap="round"/>
<circle cx="359.5" cy="1472.5" r="2.1" fill="#000" />
<circle cx="383.5" cy="1405.7" r="2.1" fill="#000" />
<g transform="translate(373.3,1481.0) scale(1.0829,1)"><text x="0.0" y="0.0" font-family='"Liberation Serif", serif' font-size="26" font-weight="normal" font-style="normal" fill="#000" text-anchor="start" >R</text><line x1="7.0" y1="-16.1" x2="7.0" y2="-0.8" stroke="#000" stroke-width="1.04" /><text x="17.7" y="-10.4" font-family='"Liberation Serif", serif' font-size="18.2" font-weight="normal" font-style="italic" fill="#000" text-anchor="start" >d</text></g>
<g transform="translate(410.9,1448.5) scale(0.9827,1)"><text x="0.0" y="0.0" font-family='"Liberation Serif", serif' font-size="40" font-weight="normal" font-style="italic" fill="#000" text-anchor="start" >g</text><text x="20.0" y="0.0" font-family='"Liberation Serif", serif' font-size="40" font-weight="normal" font-style="normal" fill="#000" text-anchor="start" >(</text><text x="33.3" y="0.0" font-family='"Liberation Serif", serif' font-size="40" font-weight="normal" font-style="italic" fill="#000" text-anchor="start" >x</text><text x="51.1" y="0.0" font-family='"Liberation Serif", serif' font-size="40" font-weight="normal" font-style="normal" fill="#000" text-anchor="start" >)d</text><text x="84.4" y="0.0" font-family='"Liberation Serif", serif' font-size="40" font-weight="normal" font-style="italic" fill="#000" text-anchor="start" >μ</text><text x="104.5" y="0.0" font-family='"Liberation Serif", serif' font-size="40" font-weight="normal" font-style="normal" fill="#000" text-anchor="start" >(</text><text x="117.8" y="0.0" font-family='"Liberation Serif", serif' font-size="40" font-weight="normal" font-style="italic" fill="#000" text-anchor="start" >x</text><text x="135.5" y="0.0" font-family='"Liberation Serif", serif' font-size="40" font-weight="normal" font-style="normal" fill="#000" text-anchor="start" >)</text></g>
<g transform="translate(562.8,1448.5) scale(1.2501,1)"><text x="0.0" y="0.0" font-family='"Liberation Serif", serif' font-size="40" font-weight="normal" font-style="normal" fill="#000" text-anchor="start" >+</text></g>
<path d="M604.8,1472.8 C606.7,1477.0 613.5,1477.3 613.8,1464.6 L620.6,1413.6 C621.0,1400.8 627.7,1401.2 629.6,1405.3" fill="none" stroke="#000" stroke-width="2.5" stroke-linecap="round"/>
<circle cx="605.2" cy="1472.5" r="2.1" fill="#000" />
<circle cx="629.2" cy="1405.7" r="2.1" fill="#000" />
<g transform="translate(619.0,1481.0) scale(1.1202,1)"><text x="0.0" y="0.0" font-family='"Liberation Serif", serif' font-size="26" font-weight="normal" font-style="normal" fill="#000" text-anchor="start" >R</text><line x1="7.0" y1="-16.1" x2="7.0" y2="-0.8" stroke="#000" stroke-width="1.04" /><text x="17.7" y="-10.4" font-family='"Liberation Serif", serif' font-size="18.2" font-weight="normal" font-style="italic" fill="#000" text-anchor="start" >d</text></g>
<g transform="translate(660.4,1448.5) scale(0.9854,1)"><text x="0.0" y="0.0" font-family='"Liberation Serif", serif' font-size="40" font-weight="normal" font-style="italic" fill="#000" text-anchor="start" >f</text><text x="14.3" y="0.0" font-family='"Liberation Serif", serif' font-size="40" font-weight="normal" font-style="normal" fill="#000" text-anchor="start" >(</text><text x="27.6" y="0.0" font-family='"Liberation Serif", serif' font-size="40" font-weight="normal" font-style="italic" fill="#000" text-anchor="start" >y</text><text x="45.4" y="0.0" font-family='"Liberation Serif", serif' font-size="40" font-weight="normal" font-style="normal" fill="#000" text-anchor="start" >)d</text><text x="78.7" y="0.0" font-family='"Liberation Serif", serif' font-size="40" font-weight="normal" font-style="italic" fill="#000" text-anchor="start" >ν</text><text x="96.5" y="0.0" font-family='"Liberation Serif", serif' font-size="40" font-weight="normal" font-style="normal" fill="#000" text-anchor="start" >(</text><text x="109.8" y="0.0" font-family='"Liberation Serif", serif' font-size="40" font-weight="normal" font-style="italic" fill="#000" text-anchor="start" >y</text><text x="127.5" y="0.0" font-family='"Liberation Serif", serif' font-size="40" font-weight="normal" font-style="normal" fill="#000" text-anchor="start" >)</text></g>
<line x1="300.7" y1="1508.0" x2="300.7" y2="1542.0" stroke="#000" stroke-width="3.3" />
<polygon points="300.7,1555.0 292.7,1539.0 308.7,1539.0" fill="#000"/>
<text x="541.0" y="1563.4" font-family='"Liberation Sans", sans-serif' font-size="29.91" font-weight="normal" font-style="normal" fill="#a9a9a9" text-anchor="start" textLength="287.6" lengthAdjust="spacingAndGlyphs" word-spacing="4.0" >(Makkuva et al., 2020)</text>
<text x="177.3" y="1588.4" font-family='"Liberation Sans", sans-serif' font-size="28.95" font-weight="normal" font-style="normal" fill="#000" text-anchor="start" textLength="302.0" lengthAdjust="spacingAndGlyphs" word-spacing="3.9" >parameterize <tspan font-style="italic" font-family='"Liberation Serif", serif' font-size="32">g</tspan> and <tspan font-style="italic" font-family='"Liberation Serif", serif' font-size="32">f</tspan> via</text>
<text x="129.0" y="1631.0" font-family='"Liberation Sans", sans-serif' font-size="28.95" font-weight="bold" font-style="normal" fill="#9db8da" text-anchor="start" textLength="398.7" lengthAdjust="spacingAndGlyphs" word-spacing="3.9" >input convex neural networks</text>
<text x="126.0" y="1683.3" font-family='"Liberation Sans", sans-serif' font-size="29.91" font-weight="normal" font-style="normal" fill="#a9a9a9" text-anchor="start" textLength="245.7" lengthAdjust="spacingAndGlyphs" word-spacing="4.0" >(Amos et al., 2017)</text>
<text x="891.5" y="1578.5" font-family='"Liberation Sans", sans-serif' font-size="28.95" font-weight="normal" font-style="normal" fill="#000" text-anchor="start" textLength="147.2" lengthAdjust="spacingAndGlyphs" word-spacing="3.9" >Monge map</text>
<rect x="918.8" y="1617.5" width="89.1" height="71.0" fill="#d5dde8" rx="10" stroke="#000" stroke-width="3.3" />
<g transform="translate(934.4,1668.0) scale(1.0000,1)"><path d="M1.3,-30.1 H34.8 L18.0,0.0 Z M8.1,-27.7 L18.7,-8.4 L31.5,-27.7 Z" fill="#000" fill-rule="evenodd"/><text x="36.1" y="0.0" font-family='"Liberation Serif", serif' font-size="44" font-weight="normal" font-style="italic" fill="#000" text-anchor="start" >g</text></g>
<rect x="918.8" y="1735.7" width="89.1" height="71.0" fill="#27406f" rx="10" stroke="#000" stroke-width="3.3" />
<g transform="translate(937.9,1787.0) scale(1.0000,1)"><path d="M1.3,-30.1 H34.8 L18.0,0.0 Z M8.1,-27.7 L18.7,-8.4 L31.5,-27.7 Z" fill="#fff" fill-rule="evenodd"/><text x="38.7" y="0.0" font-family='"Liberation Serif", serif' font-size="44" font-weight="normal" font-style="italic" fill="#fff" text-anchor="start" >f</text></g>
<g transform="translate(812.9,1719.4) scale(1.0000,1)"><text x="0.0" y="0.0" font-family='"Liberation Serif", serif' font-size="40" font-weight="normal" font-style="italic" fill="#000" text-anchor="start" >μ</text></g>
<g transform="translate(1074.8,1719.4) scale(1.0000,1)"><text x="0.0" y="0.0" font-family='"Liberation Serif", serif' font-size="42" font-weight="normal" font-style="italic" fill="#000" text-anchor="start" >ν</text></g>
<path d="M846.7,1691.5 Q878,1662 918.8,1654" fill="none" stroke="#000" stroke-width="2.6" />
<path d="M1007.9,1660 Q1040,1668 1056,1687" fill="none" stroke="#000" stroke-width="2.6" />
<polygon points="1061.5,1691.5 1047.1,1686.6 1055.1,1677.7" fill="#000"/>
<path d="M1061.5,1734 Q1040,1756 1007.9,1763" fill="none" stroke="#000" stroke-width="2.6" />
<path d="M918.8,1772 Q880,1764 852,1740" fill="none" stroke="#000" stroke-width="2.6" />
<polygon points="846.7,1735.0 861.1,1739.9 853.1,1748.8" fill="#000"/>
<g transform="translate(498.6,1728.0) scale(0.9271,1)"><path d="M1.3,-28.8 H33.2 L17.2,0.0 Z M7.8,-26.5 L17.9,-8.0 L30.0,-26.5 Z" fill="#000" fill-rule="evenodd"/><text x="36.5" y="0.0" font-family='"Liberation Serif", serif' font-size="42" font-weight="normal" font-style="italic" fill="#000" text-anchor="start" >f</text><text x="50.7" y="0.0" font-family='"Liberation Serif", serif' font-size="42" font-weight="normal" font-style="normal" fill="#000" text-anchor="start" >(</text></g>
<g transform="translate(589.6,1720.0) rotate(-11) scale(26.00,13.00)"><path d="M0.09,-0.99 C0.4,-1.0 0.65,-0.85 0.8,-0.65 C0.92,-0.5 1.0,-0.2 1.0,0.05 C1.0,0.4 0.85,0.72 0.56,0.83 C0.3,0.92 0.15,0.72 -0.05,0.75 C-0.3,0.8 -0.4,1.0 -0.65,1.0 C-0.9,1.0 -1.02,0.75 -0.99,0.45 C-0.96,0.15 -0.92,-0.15 -0.79,-0.35 C-0.68,-0.55 -0.55,-0.75 -0.37,-0.85 C-0.2,-0.95 -0.05,-0.98 0.09,-0.99 Z" fill="#d8e2ee" stroke="#000" stroke-width="2.2" vector-effect="non-scaling-stroke" stroke-linejoin="round"/><ellipse cx="-0.44" cy="0.1" rx="0.28" ry="0.4" transform="rotate(-20 -0.44 0.1)" fill="#c3d2e5" stroke="#000" stroke-width="1.32" vector-effect="non-scaling-stroke"/></g>
<g transform="translate(618.0,1728.0) scale(1.0275,1)"><text x="0.0" y="0.0" font-family='"Liberation Serif", serif' font-size="42" font-weight="normal" font-style="normal" fill="#000" text-anchor="start" >)</text><text x="24.5" y="0.0" font-family='"Liberation Serif", serif' font-size="42" font-weight="normal" font-style="normal" fill="#000" text-anchor="start" >=</text></g>
<g transform="translate(721.0,1720.0) rotate(-1) scale(35.00,16.50)"><path d="M0.09,-0.99 C0.4,-1.0 0.65,-0.85 0.8,-0.65 C0.92,-0.5 1.0,-0.2 1.0,0.05 C1.0,0.4 0.85,0.72 0.56,0.83 C0.3,0.92 0.15,0.72 -0.05,0.75 C-0.3,0.8 -0.4,1.0 -0.65,1.0 C-0.9,1.0 -1.02,0.75 -0.99,0.45 C-0.96,0.15 -0.92,-0.15 -0.79,-0.35 C-0.68,-0.55 -0.55,-0.75 -0.37,-0.85 C-0.2,-0.95 -0.05,-0.98 0.09,-0.99 Z" fill="#cfdcec" stroke="#000" stroke-width="2.4" vector-effect="non-scaling-stroke" stroke-linejoin="round"/><ellipse cx="-0.44" cy="0.1" rx="0.28" ry="0.4" transform="rotate(-20 -0.44 0.1)" fill="#aabfdc" stroke="#000" stroke-width="1.44" vector-effect="non-scaling-stroke"/></g>
<g transform="translate(757.6,1670.7) rotate(2) scale(37.00,17.00)"><path d="M0.09,-0.99 C0.4,-1.0 0.65,-0.85 0.8,-0.65 C0.92,-0.5 1.0,-0.2 1.0,0.05 C1.0,0.4 0.85,0.72 0.56,0.83 C0.3,0.92 0.15,0.72 -0.05,0.75 C-0.3,0.8 -0.4,1.0 -0.65,1.0 C-0.9,1.0 -1.02,0.75 -0.99,0.45 C-0.96,0.15 -0.92,-0.15 -0.79,-0.35 C-0.68,-0.55 -0.55,-0.75 -0.37,-0.85 C-0.2,-0.95 -0.05,-0.98 0.09,-0.99 Z" fill="#e6e6e4" stroke="#8a8a8a" stroke-width="2.2" vector-effect="non-scaling-stroke" stroke-linejoin="round"/><ellipse cx="-0.44" cy="0.1" rx="0.28" ry="0.4" transform="rotate(-20 -0.44 0.1)" fill="#d2d2d0" stroke="#8a8a8a" stroke-width="1.32" vector-effect="non-scaling-stroke"/></g>
<g transform="translate(780.0,1757.0) rotate(-3) scale(26.00,15.50)"><path d="M0.2,-0.98 C0.6,-1.0 0.98,-0.8 0.99,-0.44 C1.0,-0.1 0.9,0.2 0.67,0.44 C0.4,0.7 -0.1,0.98 -0.47,1.0 C-0.8,1.02 -1.0,0.85 -0.97,0.55 C-0.95,0.25 -0.92,0.0 -0.8,-0.22 C-0.68,-0.5 -0.55,-0.75 -0.33,-0.83 C-0.1,-0.92 0.0,-0.97 0.2,-0.98 Z" fill="#e6e6e4" stroke="#8a8a8a" stroke-width="2.2" vector-effect="non-scaling-stroke" stroke-linejoin="round"/><ellipse cx="-0.17" cy="0.22" rx="0.36" ry="0.3" transform="rotate(-15 -0.17 0.22)" fill="#d2d2d0" stroke="#8a8a8a" stroke-width="1.32" vector-effect="non-scaling-stroke"/></g>
<g transform="translate(701.0,1784.0) rotate(0) scale(29.50,24.50)"><path d="M-0.49,-0.97 C-0.3,-1.0 -0.15,-0.95 -0.05,-0.85 C0.1,-0.7 0.15,-0.5 0.3,-0.33 C0.5,-0.1 0.85,-0.1 0.95,0.18 C1.03,0.45 0.98,0.65 0.8,0.78 C0.6,0.92 0.4,1.0 0.2,0.99 C0.0,0.98 -0.2,0.85 -0.33,0.72 C-0.5,0.55 -0.7,0.4 -0.8,0.22 C-0.9,0.05 -1.02,0.0 -0.98,-0.18 C-0.95,-0.35 -0.72,-0.38 -0.67,-0.5 C-0.62,-0.65 -0.7,-0.93 -0.49,-0.97 Z" fill="#d8e2ee" stroke="#8a8a8a" stroke-width="2.2" vector-effect="non-scaling-stroke" stroke-linejoin="round"/><ellipse cx="-0.16" cy="0.06" rx="0.27" ry="0.27" transform="rotate(35 -0.16 0.06)" fill="#c3d2e5" stroke="#8a8a8a" stroke-width="1.32" vector-effect="non-scaling-stroke"/></g>
<g transform="translate(1121.4,1645.2) rotate(0) scale(29.50,24.50)"><path d="M-0.49,-0.97 C-0.3,-1.0 -0.15,-0.95 -0.05,-0.85 C0.1,-0.7 0.15,-0.5 0.3,-0.33 C0.5,-0.1 0.85,-0.1 0.95,0.18 C1.03,0.45 0.98,0.65 0.8,0.78 C0.6,0.92 0.4,1.0 0.2,0.99 C0.0,0.98 -0.2,0.85 -0.33,0.72 C-0.5,0.55 -0.7,0.4 -0.8,0.22 C-0.9,0.05 -1.02,0.0 -0.98,-0.18 C-0.95,-0.35 -0.72,-0.38 -0.67,-0.5 C-0.62,-0.65 -0.7,-0.93 -0.49,-0.97 Z" fill="#c5d5e8" stroke="#000" stroke-width="2.4" vector-effect="non-scaling-stroke" stroke-linejoin="round"/><ellipse cx="-0.16" cy="0.06" rx="0.27" ry="0.27" transform="rotate(35 -0.16 0.06)" fill="#a9bfdd" stroke="#000" stroke-width="1.44" vector-effect="non-scaling-stroke"/></g>
<g transform="translate(1235.7,1690.6) rotate(-3) scale(26.00,15.50)"><path d="M0.2,-0.98 C0.6,-1.0 0.98,-0.8 0.99,-0.44 C1.0,-0.1 0.9,0.2 0.67,0.44 C0.4,0.7 -0.1,0.98 -0.47,1.0 C-0.8,1.02 -1.0,0.85 -0.97,0.55 C-0.95,0.25 -0.92,0.0 -0.8,-0.22 C-0.68,-0.5 -0.55,-0.75 -0.33,-0.83 C-0.1,-0.92 0.0,-0.97 0.2,-0.98 Z" fill="#e6e6e4" stroke="#8a8a8a" stroke-width="2.2" vector-effect="non-scaling-stroke" stroke-linejoin="round"/><ellipse cx="-0.17" cy="0.22" rx="0.36" ry="0.3" transform="rotate(-15 -0.17 0.22)" fill="#d2d2d0" stroke="#8a8a8a" stroke-width="1.32" vector-effect="non-scaling-stroke"/></g>
<g transform="translate(1152.8,1711.2) rotate(2) scale(37.50,17.00)"><path d="M0.09,-0.99 C0.4,-1.0 0.65,-0.85 0.8,-0.65 C0.92,-0.5 1.0,-0.2 1.0,0.05 C1.0,0.4 0.85,0.72 0.56,0.83 C0.3,0.92 0.15,0.72 -0.05,0.75 C-0.3,0.8 -0.4,1.0 -0.65,1.0 C-0.9,1.0 -1.02,0.75 -0.99,0.45 C-0.96,0.15 -0.92,-0.15 -0.79,-0.35 C-0.68,-0.55 -0.55,-0.75 -0.37,-0.85 C-0.2,-0.95 -0.05,-0.98 0.09,-0.99 Z" fill="#e6e6e4" stroke="#8a8a8a" stroke-width="2.2" vector-effect="non-scaling-stroke" stroke-linejoin="round"/><ellipse cx="-0.44" cy="0.1" rx="0.28" ry="0.4" transform="rotate(-20 -0.44 0.1)" fill="#d2d2d0" stroke="#8a8a8a" stroke-width="1.32" vector-effect="non-scaling-stroke"/></g>
<g transform="translate(1083.2,1776.0) rotate(-2) scale(34.00,19.00)"><path d="M0.2,-0.98 C0.6,-1.0 0.98,-0.8 0.99,-0.44 C1.0,-0.1 0.9,0.2 0.67,0.44 C0.4,0.7 -0.1,0.98 -0.47,1.0 C-0.8,1.02 -1.0,0.85 -0.97,0.55 C-0.95,0.25 -0.92,0.0 -0.8,-0.22 C-0.68,-0.5 -0.55,-0.75 -0.33,-0.83 C-0.1,-0.92 0.0,-0.97 0.2,-0.98 Z" fill="#d8e2ee" stroke="#8a8a8a" stroke-width="2.2" vector-effect="non-scaling-stroke" stroke-linejoin="round"/><ellipse cx="-0.17" cy="0.22" rx="0.36" ry="0.3" transform="rotate(-15 -0.17 0.22)" fill="#c3d2e5" stroke="#8a8a8a" stroke-width="1.32" vector-effect="non-scaling-stroke"/></g>
<g transform="translate(1126.0,1789.2) scale(0.9414,1)"><text x="0.0" y="0.0" font-family='"Liberation Serif", serif' font-size="40" font-weight="normal" font-style="normal" fill="#000" text-anchor="start" >=</text><path d="M28.6,-27.4 H59.0 L43.8,0.0 Z M34.8,-25.2 L44.4,-7.6 L56.0,-25.2 Z" fill="#000" fill-rule="evenodd"/><text x="60.2" y="0.0" font-family='"Liberation Serif", serif' font-size="40" font-weight="normal" font-style="italic" fill="#000" text-anchor="start" >g</text><text x="80.2" y="0.0" font-family='"Liberation Serif", serif' font-size="40" font-weight="normal" font-style="normal" fill="#000" text-anchor="start" >(</text></g>
<g transform="translate(1241.0,1778.0) rotate(0) scale(24.00,19.00)"><path d="M-0.49,-0.97 C-0.3,-1.0 -0.15,-0.95 -0.05,-0.85 C0.1,-0.7 0.15,-0.5 0.3,-0.33 C0.5,-0.1 0.85,-0.1 0.95,0.18 C1.03,0.45 0.98,0.65 0.8,0.78 C0.6,0.92 0.4,1.0 0.2,0.99 C0.0,0.98 -0.2,0.85 -0.33,0.72 C-0.5,0.55 -0.7,0.4 -0.8,0.22 C-0.9,0.05 -1.02,0.0 -0.98,-0.18 C-0.95,-0.35 -0.72,-0.38 -0.67,-0.5 C-0.62,-0.65 -0.7,-0.93 -0.49,-0.97 Z" fill="#c5d5e8" stroke="#000" stroke-width="2.4" vector-effect="non-scaling-stroke" stroke-linejoin="round"/><ellipse cx="-0.16" cy="0.06" rx="0.27" ry="0.27" transform="rotate(35 -0.16 0.06)" fill="#a9bfdd" stroke="#000" stroke-width="1.44" vector-effect="non-scaling-stroke"/></g>
<g transform="translate(1274.0,1789.2) scale(1.0000,1)"><text x="0.0" y="0.0" font-family='"Liberation Serif", serif' font-size="40" font-weight="normal" font-style="normal" fill="#000" text-anchor="start" >)</text></g>
<text x="98.7" y="1873.6" font-family='"Liberation Sans", sans-serif' font-size="30" font-weight="normal" font-style="normal" fill="#000" text-anchor="start" >..</text>
<text x="126.0" y="1873.6" font-family='"Liberation Serif", serif' font-size="49" font-weight="normal" font-style="normal" fill="#000" text-anchor="start" textLength="172.9" lengthAdjust="spacingAndGlyphs" >C<tspan font-size="38.5">ELL</tspan>OT</text>
<text x="314.0" y="1873.6" font-family='"Liberation Sans", sans-serif' font-size="28.95" font-weight="normal" font-style="normal" fill="#000" text-anchor="start" textLength="569.9" lengthAdjust="spacingAndGlyphs" word-spacing="3.9" >is <tspan font-weight="bold">state-of-the-art</tspan> in predicting perturbation</text>
<text x="117.3" y="1916.0" font-family='"Liberation Sans", sans-serif' font-size="28.95" font-weight="normal" font-style="normal" fill="#000" text-anchor="start" textLength="824.7" lengthAdjust="spacingAndGlyphs" word-spacing="3.9" >responses of heterogeneous populations on the level of single cells</text>
<text x="437.5" y="2001.5" font-family='"Liberation Serif", serif' font-size="31" font-weight="normal" font-style="normal" fill="#000" text-anchor="start" textLength="145.5" lengthAdjust="spacingAndGlyphs" >AVERAGE</text>
<rect x="744.8" y="1950.3" width="238.6" height="83.2" fill="#e06062" rx="15" />
<text x="758.7" y="2012.0" font-family='"Liberation Serif", serif' font-size="60" font-weight="normal" font-style="normal" fill="#fff" text-anchor="start" textLength="209.6" lengthAdjust="spacingAndGlyphs" >C<tspan font-size="47">ELL</tspan>OT</text>
<text x="1025.3" y="2007.3" font-family='"Liberation Sans", sans-serif' font-size="29.91" font-weight="normal" font-style="normal" fill="#a9a9a9" text-anchor="start" textLength="254.4" lengthAdjust="spacingAndGlyphs" word-spacing="4.0" >(Bunne et al., 2022)</text>
<line x1="370.5" y1="2024.8" x2="370.5" y2="2359.5" stroke="#000" stroke-width="1.3" />
<line x1="370.5" y1="2359.5" x2="673.2" y2="2359.5" stroke="#000" stroke-width="1.3" />
<line x1="365.0" y1="2348.0" x2="370.5" y2="2348.0" stroke="#000" stroke-width="1.3" />
<text x="360.5" y="2353.5" font-family='"Liberation Sans", sans-serif' font-size="15.3" font-weight="normal" font-style="normal" fill="#000" text-anchor="end" >−4</text>
<line x1="365.0" y1="2301.8" x2="370.5" y2="2301.8" stroke="#000" stroke-width="1.3" />
<text x="360.5" y="2307.3" font-family='"Liberation Sans", sans-serif' font-size="15.3" font-weight="normal" font-style="normal" fill="#000" text-anchor="end" >−3</text>
<line x1="365.0" y1="2255.7" x2="370.5" y2="2255.7" stroke="#000" stroke-width="1.3" />
<text x="360.5" y="2261.2" font-family='"Liberation Sans", sans-serif' font-size="15.3" font-weight="normal" font-style="normal" fill="#000" text-anchor="end" >−2</text>
<line x1="365.0" y1="2209.5" x2="370.5" y2="2209.5" stroke="#000" stroke-width="1.3" />
<text x="360.5" y="2215.0" font-family='"Liberation Sans", sans-serif' font-size="15.3" font-weight="normal" font-style="normal" fill="#000" text-anchor="end" >−1</text>
<line x1="365.0" y1="2163.3" x2="370.5" y2="2163.3" stroke="#000" stroke-width="1.3" />
<text x="360.5" y="2168.8" font-family='"Liberation Sans", sans-serif' font-size="15.3" font-weight="normal" font-style="normal" fill="#000" text-anchor="end" >0</text>
<line x1="365.0" y1="2117.1" x2="370.5" y2="2117.1" stroke="#000" stroke-width="1.3" />
<text x="360.5" y="2122.6" font-family='"Liberation Sans", sans-serif' font-size="15.3" font-weight="normal" font-style="normal" fill="#000" text-anchor="end" >1</text>
<line x1="365.0" y1="2071.0" x2="370.5" y2="2071.0" stroke="#000" stroke-width="1.3" />
<text x="360.5" y="2076.5" font-family='"Liberation Sans", sans-serif' font-size="15.3" font-weight="normal" font-style="normal" fill="#000" text-anchor="end" >2</text>
<line x1="365.0" y1="2024.8" x2="370.5" y2="2024.8" stroke="#000" stroke-width="1.3" />
<text x="360.5" y="2030.3" font-family='"Liberation Sans", sans-serif' font-size="15.3" font-weight="normal" font-style="normal" fill="#000" text-anchor="end" >3</text>
<line x1="404.7" y1="2359.5" x2="404.7" y2="2365.0" stroke="#000" stroke-width="1.3" />
<text x="404.7" y="2381.6" font-family='"Liberation Sans", sans-serif' font-size="15.3" font-weight="normal" font-style="normal" fill="#000" text-anchor="middle" >−2.5</text>
<line x1="463.0" y1="2359.5" x2="463.0" y2="2365.0" stroke="#000" stroke-width="1.3" />
<text x="463.0" y="2381.6" font-family='"Liberation Sans", sans-serif' font-size="15.3" font-weight="normal" font-style="normal" fill="#000" text-anchor="middle" >0.0</text>
<line x1="521.3" y1="2359.5" x2="521.3" y2="2365.0" stroke="#000" stroke-width="1.3" />
<text x="521.3" y="2381.6" font-family='"Liberation Sans", sans-serif' font-size="15.3" font-weight="normal" font-style="normal" fill="#000" text-anchor="middle" >2.5</text>
<line x1="579.6" y1="2359.5" x2="579.6" y2="2365.0" stroke="#000" stroke-width="1.3" />
<text x="579.6" y="2381.6" font-family='"Liberation Sans", sans-serif' font-size="15.3" font-weight="normal" font-style="normal" fill="#000" text-anchor="middle" >5.0</text>
<line x1="638.0" y1="2359.5" x2="638.0" y2="2365.0" stroke="#000" stroke-width="1.3" />
<text x="638.0" y="2381.6" font-family='"Liberation Sans", sans-serif' font-size="15.3" font-weight="normal" font-style="normal" fill="#000" text-anchor="middle" >7.5</text>
<text x="521.3" y="2403.0" font-family='"Liberation Sans", sans-serif' font-size="15.3" font-weight="normal" font-style="normal" fill="#000" text-anchor="middle" >PC0</text>
<ellipse cx="436.1" cy="2143.5" rx="6" ry="8" fill="none" stroke="#bfd3e8" stroke-width="2"/>
<ellipse cx="436.1" cy="2143.5" rx="12" ry="15.5" fill="none" stroke="#bfd3e8" stroke-width="2"/>
<ellipse cx="436.1" cy="2143.5" rx="18.5" ry="23" fill="none" stroke="#bfd3e8" stroke-width="2"/>
<ellipse cx="436.1" cy="2143.5" rx="25" ry="31" fill="none" stroke="#bfd3e8" stroke-width="2"/>
<ellipse cx="436.1" cy="2143.5" rx="32" ry="39.5" fill="none" stroke="#bfd3e8" stroke-width="2"/>
<ellipse cx="436.1" cy="2143.5" rx="40" ry="48.5" fill="none" stroke="#bfd3e8" stroke-width="2"/>
<path d="M436.1,2088.0 C445.9,2087.7 458.5,2089.8 468.6,2094.1 C478.6,2098.5 488.6,2107.5 496.3,2114.2 C504.0,2120.9 509.2,2132.7 514.9,2134.3 C520.5,2135.8 525.7,2128.3 530.3,2123.5 C534.9,2118.6 537.0,2109.1 542.6,2104.9 C548.3,2100.8 555.0,2099.0 564.2,2098.8 C573.5,2098.5 588.4,2100.6 598.2,2103.4 C608.0,2106.2 617.0,2109.8 622.9,2115.7 C628.8,2121.7 633.2,2131.4 633.7,2138.9 C634.2,2146.3 631.4,2155.6 626.0,2160.5 C620.6,2165.4 610.0,2166.1 601.3,2168.2 C592.5,2170.3 580.7,2170.0 573.5,2172.8 C566.3,2175.7 563.2,2181.1 558.1,2185.2 C552.9,2189.3 549.8,2196.2 542.6,2197.5 C535.4,2198.8 523.6,2192.4 514.9,2192.9 C506.1,2193.4 498.9,2198.6 490.2,2200.6 C481.4,2202.7 472.2,2204.7 462.4,2205.2 C452.6,2205.8 441.3,2207.0 431.5,2203.7 C421.7,2200.4 410.9,2193.4 403.7,2185.2 C396.5,2177.0 390.4,2165.6 388.3,2154.3 C386.3,2143.0 387.8,2127.1 391.4,2117.3 C395.0,2107.5 402.5,2100.6 409.9,2095.7 C417.4,2090.8 426.4,2088.2 436.1,2088.0 Z" fill="none" stroke="#bfd3e8" stroke-width="2" />
<path d="M539.5,2123.5 C543.7,2118.1 548.8,2109.6 555.0,2106.5 C561.1,2103.4 570.4,2103.1 576.6,2104.9 C582.8,2106.7 586.9,2113.2 592.0,2117.3 C597.2,2121.4 603.3,2125.0 607.4,2129.6 C611.6,2134.3 617.7,2140.7 616.7,2145.1 C615.7,2149.4 608.0,2153.3 601.3,2155.9 C594.6,2158.4 584.8,2158.4 576.6,2160.5 C568.3,2162.5 557.5,2164.6 551.9,2168.2 C546.2,2171.8 546.2,2180.3 542.6,2182.1 C539.0,2183.9 531.3,2183.6 530.3,2179.0 C529.3,2174.4 536.5,2161.0 536.5,2154.3 C536.5,2147.6 529.8,2144.0 530.3,2138.9 C530.8,2133.7 535.4,2128.9 539.5,2123.5 Z" fill="none" stroke="#bfd3e8" stroke-width="1.8" />
<ellipse cx="580.3" cy="2134.3" rx="8" ry="5.5" fill="none" stroke="#bfd3e8" stroke-width="1.8"/>
<ellipse cx="538.0" cy="2178.1" rx="3" ry="2" fill="none" stroke="#bfd3e8" stroke-width="1.5"/>
<ellipse cx="462.4" cy="2246.9" rx="7" ry="10" fill="none" stroke="#5b78a8" stroke-width="2.2" transform="rotate(12 462.4 2246.9)"/>
<ellipse cx="462.4" cy="2246.9" rx="12.5" ry="17" fill="none" stroke="#5b78a8" stroke-width="2.2" transform="rotate(12 462.4 2246.9)"/>
<ellipse cx="462.4" cy="2246.9" rx="18.5" ry="24" fill="none" stroke="#5b78a8" stroke-width="2.2" transform="rotate(12 462.4 2246.9)"/>
<ellipse cx="462.4" cy="2246.9" rx="24.5" ry="31" fill="none" stroke="#5b78a8" stroke-width="2.2" transform="rotate(12 462.4 2246.9)"/>
<ellipse cx="462.4" cy="2246.9" rx="31.5" ry="38.5" fill="none" stroke="#5b78a8" stroke-width="2.2" transform="rotate(12 462.4 2246.9)"/>
<ellipse cx="462.4" cy="2246.9" rx="39" ry="46" fill="none" stroke="#5b78a8" stroke-width="2.2" transform="rotate(12 462.4 2246.9)"/>
<path d="M414.5,2246.9 C414.0,2235.1 416.9,2218.9 422.3,2209.9 C427.7,2200.9 437.7,2197.5 447.0,2192.9 C456.2,2188.3 468.6,2186.2 477.8,2182.1 C487.1,2178.0 494.8,2171.8 502.5,2168.2 C510.2,2164.6 519.5,2165.4 524.1,2160.5 C528.7,2155.6 526.7,2147.1 530.3,2138.9 C533.9,2130.7 539.0,2117.3 545.7,2111.1 C552.4,2104.9 561.7,2102.6 570.4,2101.8 C579.2,2101.1 588.9,2103.6 598.2,2106.5 C607.4,2109.3 619.5,2113.9 626.0,2118.8 C632.4,2123.7 636.3,2129.9 636.8,2135.8 C637.3,2141.7 633.9,2149.2 629.0,2154.3 C624.2,2159.5 616.2,2163.1 607.4,2166.7 C598.7,2170.3 584.3,2171.8 576.6,2175.9 C568.9,2180.0 565.3,2185.2 561.1,2191.4 C557.0,2197.5 557.0,2207.3 551.9,2213.0 C546.7,2218.6 536.5,2219.6 530.3,2225.3 C524.1,2231.0 519.0,2239.2 514.9,2246.9 C510.7,2254.6 511.8,2264.1 505.6,2271.6 C499.4,2279.1 486.6,2288.1 477.8,2291.7 C469.1,2295.3 461.9,2295.0 453.1,2293.2 C444.4,2291.4 431.8,2288.6 425.3,2280.9 C418.9,2273.1 415.1,2258.7 414.5,2246.9 Z" fill="none" stroke="#5b78a8" stroke-width="2.2" />
<path d="M559.6,2129.6 C561.5,2127.3 565.3,2121.9 568.9,2121.9 C572.5,2121.9 578.3,2126.7 581.2,2129.6 C584.1,2132.6 587.7,2136.9 586.5,2139.5 C585.2,2142.1 577.7,2144.4 573.5,2145.1 C569.3,2145.7 563.8,2145.1 561.1,2143.5 C558.5,2142.0 557.7,2138.1 557.4,2135.8 C557.2,2133.5 557.7,2131.9 559.6,2129.6 Z" fill="none" stroke="#5b78a8" stroke-width="2.2" />
<ellipse cx="605.3" cy="2143.5" rx="4.8" ry="3.6" fill="none" stroke="#5b78a8" stroke-width="2" transform="rotate(-30 605.3 2143.5)"/>
<line x1="404.7" y1="2082.5" x2="424.7" y2="2151.8" stroke="#000" stroke-width="2.0" />
<polygon points="428.0,2163.3 420.2,2149.9 427.4,2147.9" fill="#000"/>
<line x1="439.7" y1="2082.5" x2="459.7" y2="2151.8" stroke="#000" stroke-width="2.0" />
<polygon points="463.0,2163.3 455.2,2149.9 462.4,2147.9" fill="#000"/>
<line x1="474.7" y1="2082.5" x2="494.7" y2="2151.8" stroke="#000" stroke-width="2.0" />
<polygon points="498.0,2163.3 490.2,2149.9 497.4,2147.9" fill="#000"/>
<line x1="544.7" y1="2082.5" x2="564.7" y2="2151.8" stroke="#000" stroke-width="2.0" />
<polygon points="568.0,2163.3 560.2,2149.9 567.4,2147.9" fill="#000"/>
<line x1="579.6" y1="2082.5" x2="599.7" y2="2151.8" stroke="#000" stroke-width="2.0" />
<polygon points="603.0,2163.3 595.2,2149.9 602.4,2147.9" fill="#000"/>
<line x1="404.7" y1="2151.8" x2="424.7" y2="2221.0" stroke="#000" stroke-width="2.0" />
<polygon points="428.0,2232.6 420.2,2219.2 427.4,2217.1" fill="#000"/>
<line x1="439.7" y1="2151.8" x2="459.7" y2="2221.0" stroke="#000" stroke-width="2.0" />
<polygon points="463.0,2232.6 455.2,2219.2 462.4,2217.1" fill="#000"/>
<line x1="474.7" y1="2151.8" x2="494.7" y2="2221.0" stroke="#000" stroke-width="2.0" />
<polygon points="498.0,2232.6 490.2,2219.2 497.4,2217.1" fill="#000"/>
<line x1="509.7" y1="2151.8" x2="529.7" y2="2221.0" stroke="#000" stroke-width="2.0" />
<polygon points="533.0,2232.6 525.2,2219.2 532.4,2217.1" fill="#000"/>
<line x1="544.7" y1="2151.8" x2="564.7" y2="2221.0" stroke="#000" stroke-width="2.0" />
<polygon points="568.0,2232.6 560.2,2219.2 567.4,2217.1" fill="#000"/>
<line x1="579.6" y1="2151.8" x2="599.7" y2="2221.0" stroke="#000" stroke-width="2.0" />
<polygon points="603.0,2232.6 595.2,2219.2 602.4,2217.1" fill="#000"/>
<line x1="614.6" y1="2151.8" x2="634.6" y2="2221.0" stroke="#000" stroke-width="2.0" />
<polygon points="638.0,2232.6 630.2,2219.2 637.4,2217.1" fill="#000"/>
<line x1="439.7" y1="2221.0" x2="459.7" y2="2290.3" stroke="#000" stroke-width="2.0" />
<polygon points="463.0,2301.8 455.2,2288.4 462.4,2286.4" fill="#000"/>
<line x1="474.7" y1="2221.0" x2="494.7" y2="2290.3" stroke="#000" stroke-width="2.0" />
<polygon points="498.0,2301.8 490.2,2288.4 497.4,2286.4" fill="#000"/>
<line x1="701.0" y1="2024.8" x2="701.0" y2="2359.5" stroke="#000" stroke-width="1.3" />
<line x1="701.0" y1="2359.5" x2="1005.0" y2="2359.5" stroke="#000" stroke-width="1.3" />
<line x1="695.5" y1="2348.0" x2="701.0" y2="2348.0" stroke="#000" stroke-width="1.3" />
<line x1="695.5" y1="2301.8" x2="701.0" y2="2301.8" stroke="#000" stroke-width="1.3" />
<line x1="695.5" y1="2255.7" x2="701.0" y2="2255.7" stroke="#000" stroke-width="1.3" />
<line x1="695.5" y1="2209.5" x2="701.0" y2="2209.5" stroke="#000" stroke-width="1.3" />
<line x1="695.5" y1="2163.3" x2="701.0" y2="2163.3" stroke="#000" stroke-width="1.3" />
<line x1="695.5" y1="2117.1" x2="701.0" y2="2117.1" stroke="#000" stroke-width="1.3" />
<line x1="695.5" y1="2071.0" x2="701.0" y2="2071.0" stroke="#000" stroke-width="1.3" />
<line x1="695.5" y1="2024.8" x2="701.0" y2="2024.8" stroke="#000" stroke-width="1.3" />
<line x1="736.0" y1="2359.5" x2="736.0" y2="2365.0" stroke="#000" stroke-width="1.3" />
<text x="736.0" y="2381.6" font-family='"Liberation Sans", sans-serif' font-size="15.3" font-weight="normal" font-style="normal" fill="#000" text-anchor="middle" >−2.5</text>
<line x1="794.3" y1="2359.5" x2="794.3" y2="2365.0" stroke="#000" stroke-width="1.3" />
<text x="794.3" y="2381.6" font-family='"Liberation Sans", sans-serif' font-size="15.3" font-weight="normal" font-style="normal" fill="#000" text-anchor="middle" >0.0</text>
<line x1="852.6" y1="2359.5" x2="852.6" y2="2365.0" stroke="#000" stroke-width="1.3" />
<text x="852.6" y="2381.6" font-family='"Liberation Sans", sans-serif' font-size="15.3" font-weight="normal" font-style="normal" fill="#000" text-anchor="middle" >2.5</text>
<line x1="910.9" y1="2359.5" x2="910.9" y2="2365.0" stroke="#000" stroke-width="1.3" />
<text x="910.9" y="2381.6" font-family='"Liberation Sans", sans-serif' font-size="15.3" font-weight="normal" font-style="normal" fill="#000" text-anchor="middle" >5.0</text>
<line x1="969.3" y1="2359.5" x2="969.3" y2="2365.0" stroke="#000" stroke-width="1.3" />
<text x="969.3" y="2381.6" font-family='"Liberation Sans", sans-serif' font-size="15.3" font-weight="normal" font-style="normal" fill="#000" text-anchor="middle" >7.5</text>
<text x="852.6" y="2403.0" font-family='"Liberation Sans", sans-serif' font-size="15.3" font-weight="normal" font-style="normal" fill="#000" text-anchor="middle" >PC0</text>
<ellipse cx="767.4" cy="2143.5" rx="6" ry="8" fill="none" stroke="#bfd3e8" stroke-width="2"/>
<ellipse cx="767.4" cy="2143.5" rx="12" ry="15.5" fill="none" stroke="#bfd3e8" stroke-width="2"/>
<ellipse cx="767.4" cy="2143.5" rx="18.5" ry="23" fill="none" stroke="#bfd3e8" stroke-width="2"/>
<ellipse cx="767.4" cy="2143.5" rx="25" ry="31" fill="none" stroke="#bfd3e8" stroke-width="2"/>
<ellipse cx="767.4" cy="2143.5" rx="32" ry="39.5" fill="none" stroke="#bfd3e8" stroke-width="2"/>
<ellipse cx="767.4" cy="2143.5" rx="40" ry="48.5" fill="none" stroke="#bfd3e8" stroke-width="2"/>
<path d="M767.4,2088.0 C777.2,2087.7 789.8,2089.8 799.9,2094.1 C809.9,2098.5 819.9,2107.5 827.6,2114.2 C835.3,2120.9 840.5,2132.7 846.2,2134.3 C851.8,2135.8 857.0,2128.3 861.6,2123.5 C866.2,2118.6 868.3,2109.1 873.9,2104.9 C879.6,2100.8 886.3,2099.0 895.5,2098.8 C904.8,2098.5 919.7,2100.6 929.5,2103.4 C939.3,2106.2 948.3,2109.8 954.2,2115.7 C960.1,2121.7 964.5,2131.4 965.0,2138.9 C965.5,2146.3 962.7,2155.6 957.3,2160.5 C951.9,2165.4 941.3,2166.1 932.6,2168.2 C923.8,2170.3 912.0,2170.0 904.8,2172.8 C897.6,2175.7 894.5,2181.1 889.4,2185.2 C884.2,2189.3 881.1,2196.2 873.9,2197.5 C866.7,2198.8 854.9,2192.4 846.2,2192.9 C837.4,2193.4 830.2,2198.6 821.5,2200.6 C812.7,2202.7 803.5,2204.7 793.7,2205.2 C783.9,2205.8 772.6,2207.0 762.8,2203.7 C753.0,2200.4 742.2,2193.4 735.0,2185.2 C727.8,2177.0 721.7,2165.6 719.6,2154.3 C717.6,2143.0 719.1,2127.1 722.7,2117.3 C726.3,2107.5 733.8,2100.6 741.2,2095.7 C748.7,2090.8 757.7,2088.2 767.4,2088.0 Z" fill="none" stroke="#bfd3e8" stroke-width="2" />
<path d="M870.8,2123.5 C875.0,2118.1 880.1,2109.6 886.3,2106.5 C892.4,2103.4 901.7,2103.1 907.9,2104.9 C914.1,2106.7 918.2,2113.2 923.3,2117.3 C928.5,2121.4 934.6,2125.0 938.7,2129.6 C942.9,2134.3 949.0,2140.7 948.0,2145.1 C947.0,2149.4 939.3,2153.3 932.6,2155.9 C925.9,2158.4 916.1,2158.4 907.9,2160.5 C899.6,2162.5 888.8,2164.6 883.2,2168.2 C877.5,2171.8 877.5,2180.3 873.9,2182.1 C870.3,2183.9 862.6,2183.6 861.6,2179.0 C860.6,2174.4 867.8,2161.0 867.8,2154.3 C867.8,2147.6 861.1,2144.0 861.6,2138.9 C862.1,2133.7 866.7,2128.9 870.8,2123.5 Z" fill="none" stroke="#bfd3e8" stroke-width="1.8" />
<ellipse cx="911.6" cy="2134.3" rx="8" ry="5.5" fill="none" stroke="#bfd3e8" stroke-width="1.8"/>
<ellipse cx="869.3" cy="2178.1" rx="3" ry="2" fill="none" stroke="#bfd3e8" stroke-width="1.5"/>
<ellipse cx="793.7" cy="2246.9" rx="7" ry="10" fill="none" stroke="#5b78a8" stroke-width="2.2" transform="rotate(12 793.7 2246.9)"/>
<ellipse cx="793.7" cy="2246.9" rx="12.5" ry="17" fill="none" stroke="#5b78a8" stroke-width="2.2" transform="rotate(12 793.7 2246.9)"/>
<ellipse cx="793.7" cy="2246.9" rx="18.5" ry="24" fill="none" stroke="#5b78a8" stroke-width="2.2" transform="rotate(12 793.7 2246.9)"/>
<ellipse cx="793.7" cy="2246.9" rx="24.5" ry="31" fill="none" stroke="#5b78a8" stroke-width="2.2" transform="rotate(12 793.7 2246.9)"/>
<ellipse cx="793.7" cy="2246.9" rx="31.5" ry="38.5" fill="none" stroke="#5b78a8" stroke-width="2.2" transform="rotate(12 793.7 2246.9)"/>
<ellipse cx="793.7" cy="2246.9" rx="39" ry="46" fill="none" stroke="#5b78a8" stroke-width="2.2" transform="rotate(12 793.7 2246.9)"/>
<path d="M745.8,2246.9 C745.3,2235.1 748.2,2218.9 753.6,2209.9 C759.0,2200.9 769.0,2197.5 778.3,2192.9 C787.5,2188.3 799.9,2186.2 809.1,2182.1 C818.4,2178.0 826.1,2171.8 833.8,2168.2 C841.5,2164.6 850.8,2165.4 855.4,2160.5 C860.0,2155.6 858.0,2147.1 861.6,2138.9 C865.2,2130.7 870.3,2117.3 877.0,2111.1 C883.7,2104.9 893.0,2102.6 901.7,2101.8 C910.5,2101.1 920.2,2103.6 929.5,2106.5 C938.7,2109.3 950.8,2113.9 957.3,2118.8 C963.7,2123.7 967.6,2129.9 968.1,2135.8 C968.6,2141.7 965.2,2149.2 960.3,2154.3 C955.5,2159.5 947.5,2163.1 938.7,2166.7 C930.0,2170.3 915.6,2171.8 907.9,2175.9 C900.2,2180.0 896.6,2185.2 892.4,2191.4 C888.3,2197.5 888.3,2207.3 883.2,2213.0 C878.0,2218.6 867.8,2219.6 861.6,2225.3 C855.4,2231.0 850.3,2239.2 846.2,2246.9 C842.0,2254.6 843.1,2264.1 836.9,2271.6 C830.7,2279.1 817.9,2288.1 809.1,2291.7 C800.4,2295.3 793.2,2295.0 784.4,2293.2 C775.7,2291.4 763.1,2288.6 756.6,2280.9 C750.2,2273.1 746.4,2258.7 745.8,2246.9 Z" fill="none" stroke="#5b78a8" stroke-width="2.2" />
<path d="M890.9,2129.6 C892.8,2127.3 896.6,2121.9 900.2,2121.9 C903.8,2121.9 909.6,2126.7 912.5,2129.6 C915.4,2132.6 919.0,2136.9 917.8,2139.5 C916.5,2142.1 909.0,2144.4 904.8,2145.1 C900.6,2145.7 895.1,2145.1 892.4,2143.5 C889.8,2142.0 889.0,2138.1 888.7,2135.8 C888.5,2133.5 889.0,2131.9 890.9,2129.6 Z" fill="none" stroke="#5b78a8" stroke-width="2.2" />
<ellipse cx="936.6" cy="2143.5" rx="4.8" ry="3.6" fill="none" stroke="#5b78a8" stroke-width="2" transform="rotate(-30 936.6 2143.5)"/>
<line x1="736.0" y1="2082.5" x2="758.2" y2="2169.2" stroke="#000" stroke-width="2.0" />
<polygon points="761.2,2180.9 753.8,2167.3 761.1,2165.4" fill="#000"/>
<line x1="771.0" y1="2082.5" x2="795.5" y2="2163.4" stroke="#000" stroke-width="2.0" />
<polygon points="799.0,2174.9 791.0,2161.6 798.2,2159.4" fill="#000"/>
<line x1="736.0" y1="2151.8" x2="757.0" y2="2239.4" stroke="#000" stroke-width="2.0" />
<polygon points="759.8,2251.0 752.6,2237.3 759.9,2235.6" fill="#000"/>
<line x1="771.0" y1="2151.8" x2="792.2" y2="2233.9" stroke="#000" stroke-width="2.0" />
<polygon points="795.2,2245.5 787.8,2231.9 795.1,2230.0" fill="#000"/>
<line x1="806.0" y1="2151.8" x2="828.8" y2="2215.7" stroke="#000" stroke-width="2.0" />
<polygon points="832.8,2227.0 824.2,2214.2 831.3,2211.6" fill="#000"/>
<line x1="771.0" y1="2221.0" x2="787.8" y2="2297.5" stroke="#000" stroke-width="2.0" />
<polygon points="790.3,2309.2 783.5,2295.4 790.8,2293.8" fill="#000"/>
<line x1="806.0" y1="2221.0" x2="820.2" y2="2279.5" stroke="#000" stroke-width="2.0" />
<polygon points="823.0,2291.2 815.8,2277.5 823.1,2275.7" fill="#000"/>
<line x1="806.0" y1="2082.5" x2="843.6" y2="2126.1" stroke="#000" stroke-width="2.6" />
<polygon points="851.5,2135.1 838.8,2126.3 844.5,2121.3" fill="#000"/>
<line x1="841.0" y1="2151.8" x2="861.3" y2="2171.6" stroke="#000" stroke-width="2.6" />
<polygon points="869.9,2179.9 856.5,2172.2 861.8,2166.8" fill="#000"/>
<line x1="876.0" y1="2082.5" x2="884.2" y2="2092.9" stroke="#000" stroke-width="3" />
<polygon points="891.6,2102.4 879.4,2092.9 885.3,2088.3" fill="#000"/>
<line x1="876.0" y1="2150.4" x2="885.1" y2="2152.1" stroke="#000" stroke-width="4.5" />
<polygon points="893.0,2153.6 882.7,2154.2 883.6,2149.3" fill="#000"/>
<line x1="909.8" y1="2077.9" x2="912.4" y2="2085.7" stroke="#000" stroke-width="1" />
<polygon points="914.4,2091.7 910.0,2084.8 913.8,2083.5" fill="#000"/>
<line x1="907.5" y1="2149.5" x2="909.8" y2="2151.0" stroke="#000" stroke-width="1" />
<polygon points="914.4,2154.1 907.6,2151.7 909.6,2148.8" fill="#000"/>
<line x1="941.3" y1="2142.5" x2="945.4" y2="2149.3" stroke="#000" stroke-width="1" />
<polygon points="948.3,2154.1 943.2,2149.0 946.1,2147.2" fill="#000"/>
<text x="321.0" y="2192.0" font-family='"Liberation Sans", sans-serif' font-size="15.3" font-weight="normal" font-style="normal" fill="#000" text-anchor="middle" transform="rotate(-90 321 2192)">PC1</text>
<text x="236.6" y="2083.0" font-family='"Liberation Sans", sans-serif' font-size="22.68" font-weight="normal" font-style="normal" fill="#000" text-anchor="start" textLength="95.0" lengthAdjust="spacingAndGlyphs" word-spacing="3.1" >cell line 1</text>
<text x="575.4" y="2040.5" font-family='"Liberation Sans", sans-serif' font-size="22.68" font-weight="normal" font-style="normal" fill="#000" text-anchor="start" textLength="95.0" lengthAdjust="spacingAndGlyphs" word-spacing="3.1" >cell line 2</text>
<path d="M275,2106 Q310,2130 362,2137" fill="none" stroke="#000" stroke-width="3.6" />
<polygon points="373.0,2138.0 357.7,2143.7 358.4,2130.7" fill="#000"/>
<path d="M626,2053 Q626,2075 616,2090" fill="none" stroke="#000" stroke-width="3.2" />
<polygon points="611.0,2096.0 614.9,2081.3 624.3,2088.7" fill="#000"/>
<g transform="translate(852.5,2311.0) scale(1.0000,1)"><text x="0.0" y="0.0" font-family='"Liberation Serif", serif' font-size="60" font-weight="normal" font-style="italic" fill="#000" text-anchor="start" >T</text></g>
<polygon points="897.0,2275.0 899.1,2281.1 905.6,2281.2 900.4,2285.1 902.3,2291.3 897.0,2287.6 891.7,2291.3 893.6,2285.1 888.4,2281.2 894.9,2281.1" fill="#000"/>
<rect x="968.9" y="2234.3" width="42.0" height="16.3" fill="#cfdcec" />
<text x="1026.5" y="2251.8" font-family='"Liberation Sans", sans-serif' font-size="26.54" font-weight="normal" font-style="normal" fill="#000" text-anchor="start" textLength="150.2" lengthAdjust="spacingAndGlyphs" >unperturbed</text>
<rect x="968.9" y="2286.7" width="42.0" height="16.3" fill="#8a9fc0" />
<text x="1026.5" y="2299.5" font-family='"Liberation Sans", sans-serif' font-size="26.54" font-weight="normal" font-style="normal" fill="#000" text-anchor="start" textLength="119.3" lengthAdjust="spacingAndGlyphs" >perturbed</text>
<text x="928.5" y="351.0" font-family='"Liberation Sans", sans-serif' font-size="34.26" font-weight="bold" font-style="normal" fill="#000" text-anchor="start" textLength="63.4" lengthAdjust="spacingAndGlyphs" >Aim</text>
<g transform="rotate(-18 986.0 437.5)"><path d="M977.5,431.0 H987.5 V444.0 H977.5 A6.5,6.5 0 0 1 977.5,431.0 Z" fill="#cfe6c4"/><path d="M987.5,431.0 H994.5 A6.5,6.5 0 0 1 994.5,444.0 H987.5 Z" fill="#3e8f76"/><rect x="971.0" y="431.0" width="30.0" height="13.0" rx="6.5" fill="none" stroke="#000" stroke-width="1.8"/></g>
<g transform="rotate(8 964.5 447.0)"><path d="M954.8,440.2 H966.1 V453.8 H954.8 A6.8,6.8 0 0 1 954.8,440.2 Z" fill="#3e8f76"/><path d="M966.1,440.2 H974.2 A6.8,6.8 0 0 1 974.2,453.8 H966.1 Z" fill="#cfe6c4"/><rect x="948.0" y="440.2" width="33.0" height="13.5" rx="6.8" fill="none" stroke="#000" stroke-width="1.8"/></g>
<g transform="rotate(-5 1043.6 443.5)"><ellipse cx="1043.6" cy="446.0" rx="12" ry="8.5" fill="#e9dcae" stroke="#000" stroke-width="1.8"/><ellipse cx="1043.6" cy="442.5" rx="12" ry="7.0" fill="#f4ebc8" stroke="#000" stroke-width="1.6"/><line x1="1035.1999999999998" y1="442.5" x2="1052.0" y2="442.5" stroke="#000" stroke-width="1.2"/></g>
<g transform="rotate(-5 1019 456)"><ellipse cx="1019" cy="458.5" rx="14.5" ry="10" fill="#e9dcae" stroke="#000" stroke-width="1.8"/><ellipse cx="1019" cy="455" rx="14.5" ry="8.5" fill="#f4ebc8" stroke="#000" stroke-width="1.6"/><line x1="1008.85" y1="455" x2="1029.15" y2="455" stroke="#000" stroke-width="1.2"/></g>
<g transform="rotate(-40 1062.0 459.5)"><path d="M1051.5,451.5 H1063.8 V467.5 H1051.5 A8.0,8.0 0 0 1 1051.5,451.5 Z" fill="#c6201f"/><path d="M1063.8,451.5 H1072.5 A8.0,8.0 0 0 1 1072.5,467.5 H1063.8 Z" fill="#4f9ad3"/><rect x="1043.5" y="451.5" width="37.0" height="16.0" rx="8.0" fill="none" stroke="#000" stroke-width="2"/></g>
<g transform="rotate(5 1112.0 444.0)"><path d="M1099.0,434.0 H1114.3 V454.0 H1099.0 A10.0,10.0 0 0 1 1099.0,434.0 Z" fill="#c6201f"/><path d="M1114.3,434.0 H1125.0 A10.0,10.0 0 0 1 1125.0,454.0 H1114.3 Z" fill="#4f9ad3"/><rect x="1089.0" y="434.0" width="46.0" height="20.0" rx="10.0" fill="none" stroke="#000" stroke-width="2"/></g>
<text x="934.2" y="500.8" font-family='"Liberation Sans", sans-serif' font-size="27.5" font-weight="normal" font-style="normal" fill="#000" text-anchor="start" textLength="73.8" lengthAdjust="spacingAndGlyphs" >cancer</text>
<text x="962.4" y="538.5" font-family='"Liberation Sans", sans-serif' font-size="27.5" font-weight="normal" font-style="normal" fill="#000" text-anchor="start" textLength="62.3" lengthAdjust="spacingAndGlyphs" >drugs</text>
<path d="M1043.7,487.6 Q1053,516 1076,530.5" fill="none" stroke="#000" stroke-width="4.4" />
<polygon points="1089.5,538.7 1069.4,535.3 1077.1,522.5" fill="#000"/>
<g transform="translate(1145.4,505.0) scale(1.0000,1)"><text x="0.0" y="0.0" font-family='"Liberation Serif", serif' font-size="38" font-weight="normal" font-style="italic" fill="#000" text-anchor="start" >μ</text></g>
<path d="M1251,501 Q1330,428 1433,409" fill="none" stroke="#000" stroke-width="3.7" />
<path d="M1529,402.9 Q1680,410 1770,503" fill="none" stroke="#000" stroke-width="3.7" />
<polygon points="1779.5,513.0 1759.3,503.1 1771.0,492.2" fill="#000"/>
<rect x="1432.9" y="356.0" width="96.3" height="80.4" fill="#d5dde8" rx="12" stroke="#000" stroke-width="3.4" />
<g transform="translate(1450.0,418.0) scale(1.0000,1)"><text x="0.0" y="0.0" font-family='"Liberation Serif", serif' font-size="56" font-weight="normal" font-style="italic" fill="#000" text-anchor="start" >f</text><text x="13.9" y="9.5" font-family='"Liberation Serif", serif' font-size="39.199999999999996" font-weight="normal" font-style="italic" fill="#000" text-anchor="start" >θ</text></g>
<g transform="rotate(0 1504.0 419.3)"><path d="M1497.7,414.7 H1505.1 V424.0 H1497.7 A4.7,4.7 0 0 1 1497.7,414.7 Z" fill="#d1262b"/><path d="M1505.1,414.7 H1510.3 A4.7,4.7 0 0 1 1510.3,424.0 H1505.1 Z" fill="#5aa3d9"/><rect x="1493.0" y="414.7" width="22.0" height="9.3" rx="4.7" fill="none" stroke="#000" stroke-width="1.3"/></g>
<text x="1553.2" y="353.7" font-family='"Liberation Sans", sans-serif' font-size="28.47" font-weight="normal" font-style="normal" fill="#000" text-anchor="start" textLength="365.1" lengthAdjust="spacingAndGlyphs" word-spacing="3.8" >predict perturbation response</text>
<text x="1647.8" y="394.4" font-family='"Liberation Sans", sans-serif' font-size="28.47" font-weight="normal" font-style="normal" fill="#000" text-anchor="start" textLength="270.5" lengthAdjust="spacingAndGlyphs" word-spacing="3.8" >on level of single cells</text>
<text x="1837.6" y="480.8" font-family='"Liberation Sans", sans-serif' font-size="28.95" font-weight="bold" font-style="normal" fill="#000" text-anchor="start" textLength="131.6" lengthAdjust="spacingAndGlyphs" word-spacing="3.9" >cell death</text>
<text x="1850.5" y="729.0" font-family='"Liberation Sans", sans-serif' font-size="28.95" font-weight="bold" font-style="normal" fill="#000" text-anchor="start" textLength="119.3" lengthAdjust="spacingAndGlyphs" word-spacing="3.9" >cell birth</text>
<text x="1408.8" y="536.4" font-family='"Liberation Sans", sans-serif' font-size="25.09" font-weight="normal" font-style="normal" fill="#8a8a8a" text-anchor="start" textLength="194.2" lengthAdjust="spacingAndGlyphs" word-spacing="3.4" >unknown alignment</text>
<g transform="translate(1507.5,630.7) scale(1.0000,1)"><text x="0.0" y="0.0" font-family='"Liberation Serif", serif' font-size="36" font-weight="normal" font-style="italic" fill="#8a8a8a" text-anchor="start" >T</text></g>
<g transform="translate(1809.8,752.7) scale(1.0000,1)"><text x="0.0" y="0.0" font-family='"Liberation Serif", serif' font-size="38" font-weight="normal" font-style="italic" fill="#000" text-anchor="start" >ν</text></g>
<line x1="1186.8" y1="636.4" x2="1765.8" y2="536.6" stroke="#8c8c8c" stroke-width="2.8" stroke-dasharray="2.8 3.3"/>
<g transform="translate(1776.6,534.7) rotate(-9.8)"><path d="M0,0 L-15,-6.5 L-11,0 L-15,6.5 Z" fill="#8c8c8c"/></g>
<line x1="1317.3" y1="563.9" x2="1623.3" y2="600.6" stroke="#8c8c8c" stroke-width="2.8" stroke-dasharray="2.8 3.3"/>
<g transform="translate(1634.2,601.9) rotate(6.8)"><path d="M0,0 L-15,-6.5 L-11,0 L-15,6.5 Z" fill="#8c8c8c"/></g>
<line x1="1206.0" y1="678.0" x2="1729.3" y2="653.2" stroke="#8c8c8c" stroke-width="2.8" stroke-dasharray="2.8 3.3"/>
<g transform="translate(1740.3,652.7) rotate(-2.7)"><path d="M0,0 L-15,-6.5 L-11,0 L-15,6.5 Z" fill="#8c8c8c"/></g>
<line x1="1270.8" y1="604.2" x2="1727.8" y2="696.3" stroke="#8c8c8c" stroke-width="2.8" stroke-dasharray="2.8 3.3"/>
<g transform="translate(1738.6,698.5) rotate(11.4)"><path d="M0,0 L-15,-6.5 L-11,0 L-15,6.5 Z" fill="#8c8c8c"/></g>
<g transform="translate(1224.0,538.0) rotate(0) scale(28.00,27.50)"><path d="M0.16,-0.97 C0.55,-0.97 0.8,-0.7 0.9,-0.3 C1.0,0.05 1.0,0.3 0.92,0.5 C0.8,0.85 0.6,0.99 0.34,0.99 C0.05,0.99 -0.15,0.85 -0.4,0.72 C-0.7,0.6 -0.9,0.5 -0.95,0.25 C-1.0,0.0 -1.0,-0.15 -0.88,-0.22 C-0.75,-0.3 -0.62,-0.28 -0.52,-0.36 C-0.35,-0.5 -0.3,-0.97 0.16,-0.97 Z" fill="#e0e0de" stroke="#000" stroke-width="2.3" vector-effect="non-scaling-stroke" stroke-linejoin="round"/><ellipse cx="0.28" cy="0.32" rx="0.25" ry="0.3" transform="rotate(-30 0.28 0.32)" fill="#c9c8c4" stroke="#000" stroke-width="1.38" vector-effect="non-scaling-stroke"/></g>
<g transform="translate(1285.4,562.4) rotate(0) scale(26.50,15.50)"><path d="M0.2,-0.98 C0.6,-1.0 0.98,-0.8 0.99,-0.44 C1.0,-0.1 0.9,0.2 0.67,0.44 C0.4,0.7 -0.1,0.98 -0.47,1.0 C-0.8,1.02 -1.0,0.85 -0.97,0.55 C-0.95,0.25 -0.92,0.0 -0.8,-0.22 C-0.68,-0.5 -0.55,-0.75 -0.33,-0.83 C-0.1,-0.92 0.0,-0.97 0.2,-0.98 Z" fill="#e0e0de" stroke="#000" stroke-width="2.3" vector-effect="non-scaling-stroke" stroke-linejoin="round"/><ellipse cx="-0.17" cy="0.22" rx="0.36" ry="0.3" transform="rotate(-15 -0.17 0.22)" fill="#c9c8c4" stroke="#000" stroke-width="1.38" vector-effect="non-scaling-stroke"/></g>
<g transform="translate(1138.5,563.0) rotate(34) scale(41.00,18.50)"><path d="M0.09,-0.99 C0.4,-1.0 0.65,-0.85 0.8,-0.65 C0.92,-0.5 1.0,-0.2 1.0,0.05 C1.0,0.4 0.85,0.72 0.56,0.83 C0.3,0.92 0.15,0.72 -0.05,0.75 C-0.3,0.8 -0.4,1.0 -0.65,1.0 C-0.9,1.0 -1.02,0.75 -0.99,0.45 C-0.96,0.15 -0.92,-0.15 -0.79,-0.35 C-0.68,-0.55 -0.55,-0.75 -0.37,-0.85 C-0.2,-0.95 -0.05,-0.98 0.09,-0.99 Z" fill="#c9d8ea" stroke="#000" stroke-width="2.3" vector-effect="non-scaling-stroke" stroke-linejoin="round"/><ellipse cx="-0.44" cy="0.1" rx="0.28" ry="0.4" transform="rotate(-20 -0.44 0.1)" fill="#a9bfdd" stroke="#000" stroke-width="1.38" vector-effect="non-scaling-stroke"/></g>
<g transform="translate(1082.5,595.5) rotate(2) scale(37.50,17.50)"><path d="M0.09,-0.99 C0.4,-1.0 0.65,-0.85 0.8,-0.65 C0.92,-0.5 1.0,-0.2 1.0,0.05 C1.0,0.4 0.85,0.72 0.56,0.83 C0.3,0.92 0.15,0.72 -0.05,0.75 C-0.3,0.8 -0.4,1.0 -0.65,1.0 C-0.9,1.0 -1.02,0.75 -0.99,0.45 C-0.96,0.15 -0.92,-0.15 -0.79,-0.35 C-0.68,-0.55 -0.55,-0.75 -0.37,-0.85 C-0.2,-0.95 -0.05,-0.98 0.09,-0.99 Z" fill="#c9d8ea" stroke="#000" stroke-width="2.3" vector-effect="non-scaling-stroke" stroke-linejoin="round"/><ellipse cx="-0.44" cy="0.1" rx="0.28" ry="0.4" transform="rotate(-20 -0.44 0.1)" fill="#a9bfdd" stroke="#000" stroke-width="1.38" vector-effect="non-scaling-stroke"/></g>
<g transform="translate(1225.4,595.0) rotate(2) scale(35.00,17.00)"><path d="M0.09,-0.99 C0.4,-1.0 0.65,-0.85 0.8,-0.65 C0.92,-0.5 1.0,-0.2 1.0,0.05 C1.0,0.4 0.85,0.72 0.56,0.83 C0.3,0.92 0.15,0.72 -0.05,0.75 C-0.3,0.8 -0.4,1.0 -0.65,1.0 C-0.9,1.0 -1.02,0.75 -0.99,0.45 C-0.96,0.15 -0.92,-0.15 -0.79,-0.35 C-0.68,-0.55 -0.55,-0.75 -0.37,-0.85 C-0.2,-0.95 -0.05,-0.98 0.09,-0.99 Z" fill="#e0e0de" stroke="#000" stroke-width="2.3" vector-effect="non-scaling-stroke" stroke-linejoin="round"/><ellipse cx="-0.44" cy="0.1" rx="0.28" ry="0.4" transform="rotate(-20 -0.44 0.1)" fill="#c9c8c4" stroke="#000" stroke-width="1.38" vector-effect="non-scaling-stroke"/></g>
<g transform="translate(1084.0,641.7) rotate(0) scale(26.50,15.50)"><path d="M0.2,-0.98 C0.6,-1.0 0.98,-0.8 0.99,-0.44 C1.0,-0.1 0.9,0.2 0.67,0.44 C0.4,0.7 -0.1,0.98 -0.47,1.0 C-0.8,1.02 -1.0,0.85 -0.97,0.55 C-0.95,0.25 -0.92,0.0 -0.8,-0.22 C-0.68,-0.5 -0.55,-0.75 -0.33,-0.83 C-0.1,-0.92 0.0,-0.97 0.2,-0.98 Z" fill="#c9d8ea" stroke="#000" stroke-width="2.3" vector-effect="non-scaling-stroke" stroke-linejoin="round"/><ellipse cx="-0.17" cy="0.22" rx="0.36" ry="0.3" transform="rotate(-15 -0.17 0.22)" fill="#a9bfdd" stroke="#000" stroke-width="1.38" vector-effect="non-scaling-stroke"/></g>
<g transform="translate(1150.0,637.5) rotate(0) scale(27.00,20.50)"><path d="M0.19,-0.98 C0.6,-1.0 0.95,-0.65 0.98,-0.2 C1.0,0.2 0.75,0.55 0.45,0.75 C0.15,0.95 -0.2,1.02 -0.45,1.0 C-0.8,0.97 -1.0,0.75 -0.98,0.42 C-0.96,0.15 -0.88,0.0 -0.8,-0.17 C-0.72,-0.35 -0.7,-0.42 -0.63,-0.55 C-0.5,-0.62 -0.3,-0.95 0.19,-0.98 Z" fill="#c9d8ea" stroke="#000" stroke-width="2.3" vector-effect="non-scaling-stroke" stroke-linejoin="round"/><ellipse cx="0.45" cy="-0.12" rx="0.3" ry="0.36" transform="rotate(-25 0.45 -0.12)" fill="#a9bfdd" stroke="#000" stroke-width="1.38" vector-effect="non-scaling-stroke"/></g>
<g transform="translate(1087.3,690.3) rotate(4) scale(37.50,17.50)"><path d="M0.09,-0.99 C0.4,-1.0 0.65,-0.85 0.8,-0.65 C0.92,-0.5 1.0,-0.2 1.0,0.05 C1.0,0.4 0.85,0.72 0.56,0.83 C0.3,0.92 0.15,0.72 -0.05,0.75 C-0.3,0.8 -0.4,1.0 -0.65,1.0 C-0.9,1.0 -1.02,0.75 -0.99,0.45 C-0.96,0.15 -0.92,-0.15 -0.79,-0.35 C-0.68,-0.55 -0.55,-0.75 -0.37,-0.85 C-0.2,-0.95 -0.05,-0.98 0.09,-0.99 Z" fill="#e0e0de" stroke="#000" stroke-width="2.3" vector-effect="non-scaling-stroke" stroke-linejoin="round"/><ellipse cx="-0.44" cy="0.1" rx="0.28" ry="0.4" transform="rotate(-20 -0.44 0.1)" fill="#c9c8c4" stroke="#000" stroke-width="1.38" vector-effect="non-scaling-stroke"/></g>
<g transform="translate(1173.4,689.7) rotate(0) scale(27.00,20.50)"><path d="M0.19,-0.98 C0.6,-1.0 0.95,-0.65 0.98,-0.2 C1.0,0.2 0.75,0.55 0.45,0.75 C0.15,0.95 -0.2,1.02 -0.45,1.0 C-0.8,0.97 -1.0,0.75 -0.98,0.42 C-0.96,0.15 -0.88,0.0 -0.8,-0.17 C-0.72,-0.35 -0.7,-0.42 -0.63,-0.55 C-0.5,-0.62 -0.3,-0.95 0.19,-0.98 Z" fill="#e0e0de" stroke="#000" stroke-width="2.3" vector-effect="non-scaling-stroke" stroke-linejoin="round"/><ellipse cx="0.45" cy="-0.12" rx="0.3" ry="0.36" transform="rotate(-25 0.45 -0.12)" fill="#c9c8c4" stroke="#000" stroke-width="1.38" vector-effect="non-scaling-stroke"/></g>
<g transform="translate(1094.0,743.4) rotate(0) scale(28.50,24.50)"><path d="M-0.49,-0.97 C-0.3,-1.0 -0.15,-0.95 -0.05,-0.85 C0.1,-0.7 0.15,-0.5 0.3,-0.33 C0.5,-0.1 0.85,-0.1 0.95,0.18 C1.03,0.45 0.98,0.65 0.8,0.78 C0.6,0.92 0.4,1.0 0.2,0.99 C0.0,0.98 -0.2,0.85 -0.33,0.72 C-0.5,0.55 -0.7,0.4 -0.8,0.22 C-0.9,0.05 -1.02,0.0 -0.98,-0.18 C-0.95,-0.35 -0.72,-0.38 -0.67,-0.5 C-0.62,-0.65 -0.7,-0.93 -0.49,-0.97 Z" fill="#c9d8ea" stroke="#000" stroke-width="2.3" vector-effect="non-scaling-stroke" stroke-linejoin="round"/><ellipse cx="-0.16" cy="0.06" rx="0.27" ry="0.27" transform="rotate(35 -0.16 0.06)" fill="#a9bfdd" stroke="#000" stroke-width="1.38" vector-effect="non-scaling-stroke"/></g>
<circle cx="1124.0" cy="753.4" r="17.4" fill="none" stroke="#000" stroke-width="4.1" />
<line x1="1142.7" y1="753.4" x2="1180.0" y2="753.4" stroke="#000" stroke-width="4.1" />
<text x="932.5" y="707.0" font-family='"Liberation Sans", sans-serif' font-size="24.61" font-weight="normal" font-style="normal" fill="#000" text-anchor="start" textLength="82.1" lengthAdjust="spacingAndGlyphs" word-spacing="3.3" >cell data</text>
<text x="932.5" y="739.2" font-family='"Liberation Sans", sans-serif' font-size="24.61" font-weight="normal" font-style="normal" fill="#000" text-anchor="start" textLength="53.3" lengthAdjust="spacingAndGlyphs" >space</text>
<line x1="1005.4" y1="770.7" x2="1004.0" y2="735.3" stroke="#6e6e6e" stroke-width="1.7" />
<polygon points="1003.7,727.3 1007.9,738.1 1000.3,738.4" fill="#6e6e6e"/>
<line x1="1005.4" y1="770.7" x2="1032.2" y2="734.7" stroke="#6e6e6e" stroke-width="1.7" />
<polygon points="1037.0,728.3 1033.5,739.4 1027.4,734.8" fill="#6e6e6e"/>
<line x1="1005.4" y1="770.7" x2="1042.5" y2="769.9" stroke="#6e6e6e" stroke-width="1.7" />
<polygon points="1050.5,769.7 1039.6,773.7 1039.4,766.1" fill="#6e6e6e"/>
<line x1="1005.4" y1="770.7" x2="983.3" y2="792.8" stroke="#6e6e6e" stroke-width="1.7" />
<polygon points="977.6,798.5 982.7,788.0 988.1,793.4" fill="#6e6e6e"/>
<line x1="1005.4" y1="770.7" x2="1025.2" y2="795.0" stroke="#6e6e6e" stroke-width="1.7" />
<polygon points="1030.2,801.2 1020.3,795.1 1026.2,790.3" fill="#6e6e6e"/>
<text x="1221.7" y="719.8" font-family='"Liberation Sans", sans-serif' font-size="28.95" font-weight="bold" font-style="normal" fill="#000" text-anchor="start" textLength="111.9" lengthAdjust="spacingAndGlyphs" >Problem</text>
<text x="1197.0" y="760.5" font-family='"Liberation Sans", sans-serif' font-size="28.47" font-weight="normal" font-style="normal" fill="#000" text-anchor="start" textLength="479.0" lengthAdjust="spacingAndGlyphs" word-spacing="3.8" >measuring a cell requires destroying it:</text>
<line x1="1197.0" y1="791.0" x2="1223.0" y2="791.0" stroke="#000" stroke-width="1.8" />
<path d="M1218.2,786.0 Q1221.5,790.0 1224.0,791.0 Q1221.5,792.0 1218.2,796.0" fill="none" stroke="#000" stroke-width="1.8" stroke-linecap="round"/>
<text x="1234.5" y="801.2" font-family='"Liberation Sans", sans-serif' font-size="28.47" font-weight="normal" font-style="normal" fill="#000" text-anchor="start" textLength="695.0" lengthAdjust="spacingAndGlyphs" word-spacing="3.8" >cannot measure same cell before <tspan font-style="italic">and</tspan> after perturbation</text>
<g transform="translate(1812.0,518.8) rotate(0) scale(27.00,20.50)"><path d="M0.19,-0.98 C0.6,-1.0 0.95,-0.65 0.98,-0.2 C1.0,0.2 0.75,0.55 0.45,0.75 C0.15,0.95 -0.2,1.02 -0.45,1.0 C-0.8,0.97 -1.0,0.75 -0.98,0.42 C-0.96,0.15 -0.88,0.0 -0.8,-0.17 C-0.72,-0.35 -0.7,-0.42 -0.63,-0.55 C-0.5,-0.62 -0.3,-0.95 0.19,-0.98 Z" fill="#c9d8ea" stroke="#000" stroke-width="2.2" vector-effect="non-scaling-stroke" stroke-linejoin="round" stroke-dasharray="5.7 3.5"/><ellipse cx="0.45" cy="-0.12" rx="0.3" ry="0.36" transform="rotate(-25 0.45 -0.12)" fill="#a9bfdd" stroke="#000" stroke-width="1.32" vector-effect="non-scaling-stroke"/></g>
<g transform="translate(1889.5,530.0) rotate(2) scale(38.00,17.00)"><path d="M0.09,-0.99 C0.4,-1.0 0.65,-0.85 0.8,-0.65 C0.92,-0.5 1.0,-0.2 1.0,0.05 C1.0,0.4 0.85,0.72 0.56,0.83 C0.3,0.92 0.15,0.72 -0.05,0.75 C-0.3,0.8 -0.4,1.0 -0.65,1.0 C-0.9,1.0 -1.02,0.75 -0.99,0.45 C-0.96,0.15 -0.92,-0.15 -0.79,-0.35 C-0.68,-0.55 -0.55,-0.75 -0.37,-0.85 C-0.2,-0.95 -0.05,-0.98 0.09,-0.99 Z" fill="#c9d8ea" stroke="#000" stroke-width="2.2" vector-effect="non-scaling-stroke" stroke-linejoin="round" stroke-dasharray="5.7 3.5"/><ellipse cx="-0.44" cy="0.1" rx="0.28" ry="0.4" transform="rotate(-20 -0.44 0.1)" fill="#a9bfdd" stroke="#000" stroke-width="1.32" vector-effect="non-scaling-stroke"/></g>
<g transform="translate(1943.4,568.5) rotate(0) scale(28.00,27.00)"><path d="M0.16,-0.97 C0.55,-0.97 0.8,-0.7 0.9,-0.3 C1.0,0.05 1.0,0.3 0.92,0.5 C0.8,0.85 0.6,0.99 0.34,0.99 C0.05,0.99 -0.15,0.85 -0.4,0.72 C-0.7,0.6 -0.9,0.5 -0.95,0.25 C-1.0,0.0 -1.0,-0.15 -0.88,-0.22 C-0.75,-0.3 -0.62,-0.28 -0.52,-0.36 C-0.35,-0.5 -0.3,-0.97 0.16,-0.97 Z" fill="#e0e0de" stroke="#000" stroke-width="2.2" vector-effect="non-scaling-stroke" stroke-linejoin="round" stroke-dasharray="5.7 3.5"/><ellipse cx="0.28" cy="0.32" rx="0.25" ry="0.3" transform="rotate(-30 0.28 0.32)" fill="#c9c8c4" stroke="#000" stroke-width="1.32" vector-effect="non-scaling-stroke"/></g>
<g transform="translate(1804.4,574.4) rotate(0) scale(28.50,24.00)"><path d="M-0.49,-0.97 C-0.3,-1.0 -0.15,-0.95 -0.05,-0.85 C0.1,-0.7 0.15,-0.5 0.3,-0.33 C0.5,-0.1 0.85,-0.1 0.95,0.18 C1.03,0.45 0.98,0.65 0.8,0.78 C0.6,0.92 0.4,1.0 0.2,0.99 C0.0,0.98 -0.2,0.85 -0.33,0.72 C-0.5,0.55 -0.7,0.4 -0.8,0.22 C-0.9,0.05 -1.02,0.0 -0.98,-0.18 C-0.95,-0.35 -0.72,-0.38 -0.67,-0.5 C-0.62,-0.65 -0.7,-0.93 -0.49,-0.97 Z" fill="#c9d8ea" stroke="#000" stroke-width="2.3" vector-effect="non-scaling-stroke" stroke-linejoin="round"/><ellipse cx="-0.16" cy="0.06" rx="0.27" ry="0.27" transform="rotate(35 -0.16 0.06)" fill="#a9bfdd" stroke="#000" stroke-width="1.38" vector-effect="non-scaling-stroke"/></g>
<g transform="translate(1873.7,580.7) rotate(0) scale(26.50,15.50)"><path d="M0.2,-0.98 C0.6,-1.0 0.98,-0.8 0.99,-0.44 C1.0,-0.1 0.9,0.2 0.67,0.44 C0.4,0.7 -0.1,0.98 -0.47,1.0 C-0.8,1.02 -1.0,0.85 -0.97,0.55 C-0.95,0.25 -0.92,0.0 -0.8,-0.22 C-0.68,-0.5 -0.55,-0.75 -0.33,-0.83 C-0.1,-0.92 0.0,-0.97 0.2,-0.98 Z" fill="#c9d8ea" stroke="#000" stroke-width="2.2" vector-effect="non-scaling-stroke" stroke-linejoin="round" stroke-dasharray="5.7 3.5"/><ellipse cx="-0.17" cy="0.22" rx="0.36" ry="0.3" transform="rotate(-15 -0.17 0.22)" fill="#a9bfdd" stroke="#000" stroke-width="1.32" vector-effect="non-scaling-stroke"/></g>
<g transform="translate(1666.0,602.4) rotate(0) scale(26.50,15.50)"><path d="M0.2,-0.98 C0.6,-1.0 0.98,-0.8 0.99,-0.44 C1.0,-0.1 0.9,0.2 0.67,0.44 C0.4,0.7 -0.1,0.98 -0.47,1.0 C-0.8,1.02 -1.0,0.85 -0.97,0.55 C-0.95,0.25 -0.92,0.0 -0.8,-0.22 C-0.68,-0.5 -0.55,-0.75 -0.33,-0.83 C-0.1,-0.92 0.0,-0.97 0.2,-0.98 Z" fill="#e0e0de" stroke="#000" stroke-width="2.3" vector-effect="non-scaling-stroke" stroke-linejoin="round"/><ellipse cx="-0.17" cy="0.22" rx="0.36" ry="0.3" transform="rotate(-15 -0.17 0.22)" fill="#c9c8c4" stroke="#000" stroke-width="1.38" vector-effect="non-scaling-stroke"/></g>
<g transform="translate(1737.5,596.8) rotate(-1) scale(35.00,17.00)"><path d="M0.09,-0.99 C0.4,-1.0 0.65,-0.85 0.8,-0.65 C0.92,-0.5 1.0,-0.2 1.0,0.05 C1.0,0.4 0.85,0.72 0.56,0.83 C0.3,0.92 0.15,0.72 -0.05,0.75 C-0.3,0.8 -0.4,1.0 -0.65,1.0 C-0.9,1.0 -1.02,0.75 -0.99,0.45 C-0.96,0.15 -0.92,-0.15 -0.79,-0.35 C-0.68,-0.55 -0.55,-0.75 -0.37,-0.85 C-0.2,-0.95 -0.05,-0.98 0.09,-0.99 Z" fill="#c9d8ea" stroke="#000" stroke-width="2.3" vector-effect="non-scaling-stroke" stroke-linejoin="round"/><ellipse cx="-0.44" cy="0.1" rx="0.28" ry="0.4" transform="rotate(-20 -0.44 0.1)" fill="#a9bfdd" stroke="#000" stroke-width="1.38" vector-effect="non-scaling-stroke"/></g>
<g transform="translate(1773.7,648.6) rotate(0) scale(27.00,20.50)"><path d="M0.19,-0.98 C0.6,-1.0 0.95,-0.65 0.98,-0.2 C1.0,0.2 0.75,0.55 0.45,0.75 C0.15,0.95 -0.2,1.02 -0.45,1.0 C-0.8,0.97 -1.0,0.75 -0.98,0.42 C-0.96,0.15 -0.88,0.0 -0.8,-0.17 C-0.72,-0.35 -0.7,-0.42 -0.63,-0.55 C-0.5,-0.62 -0.3,-0.95 0.19,-0.98 Z" fill="#e0e0de" stroke="#000" stroke-width="2.3" vector-effect="non-scaling-stroke" stroke-linejoin="round"/><ellipse cx="0.45" cy="-0.12" rx="0.3" ry="0.36" transform="rotate(-25 0.45 -0.12)" fill="#c9c8c4" stroke="#000" stroke-width="1.38" vector-effect="non-scaling-stroke"/></g>
<g transform="translate(1847.0,632.0) rotate(0) scale(32.50,17.00)"><path d="M-0.76,-0.74 C-0.5,-0.9 -0.2,-0.97 0.08,-0.97 C0.35,-0.98 0.6,-0.92 0.75,-0.76 C0.9,-0.6 1.0,-0.35 0.99,-0.12 C0.98,0.15 0.95,0.35 0.85,0.41 C0.65,0.52 0.45,0.48 0.24,0.59 C0.05,0.7 0.0,0.9 -0.16,0.97 C-0.35,1.03 -0.6,1.02 -0.76,0.94 C-0.95,0.8 -1.0,0.3 -0.98,0.0 C-0.97,-0.3 -0.92,-0.6 -0.76,-0.74 Z" fill="#e0e0de" stroke="#000" stroke-width="2.3" vector-effect="non-scaling-stroke" stroke-linejoin="round"/><ellipse cx="0.4" cy="-0.2" rx="0.33" ry="0.3" transform="rotate(-5 0.4 -0.2)" fill="#c9c8c4" stroke="#000" stroke-width="1.38" vector-effect="non-scaling-stroke"/></g>
<g transform="translate(1894.2,666.3) rotate(-21) scale(-35.00,16.50)"><path d="M0.09,-0.99 C0.4,-1.0 0.65,-0.85 0.8,-0.65 C0.92,-0.5 1.0,-0.2 1.0,0.05 C1.0,0.4 0.85,0.72 0.56,0.83 C0.3,0.92 0.15,0.72 -0.05,0.75 C-0.3,0.8 -0.4,1.0 -0.65,1.0 C-0.9,1.0 -1.02,0.75 -0.99,0.45 C-0.96,0.15 -0.92,-0.15 -0.79,-0.35 C-0.68,-0.55 -0.55,-0.75 -0.37,-0.85 C-0.2,-0.95 -0.05,-0.98 0.09,-0.99 Z" fill="#e0e0de" stroke="#000" stroke-width="2.3" vector-effect="non-scaling-stroke" stroke-linejoin="round"/><ellipse cx="-0.44" cy="0.1" rx="0.28" ry="0.4" transform="rotate(-20 -0.44 0.1)" fill="#c9c8c4" stroke="#000" stroke-width="1.38" vector-effect="non-scaling-stroke"/></g>
<g transform="translate(1783.0,704.7) rotate(4) scale(37.50,17.50)"><path d="M0.09,-0.99 C0.4,-1.0 0.65,-0.85 0.8,-0.65 C0.92,-0.5 1.0,-0.2 1.0,0.05 C1.0,0.4 0.85,0.72 0.56,0.83 C0.3,0.92 0.15,0.72 -0.05,0.75 C-0.3,0.8 -0.4,1.0 -0.65,1.0 C-0.9,1.0 -1.02,0.75 -0.99,0.45 C-0.96,0.15 -0.92,-0.15 -0.79,-0.35 C-0.68,-0.55 -0.55,-0.75 -0.37,-0.85 C-0.2,-0.95 -0.05,-0.98 0.09,-0.99 Z" fill="#e0e0de" stroke="#000" stroke-width="2.3" vector-effect="non-scaling-stroke" stroke-linejoin="round"/><ellipse cx="-0.44" cy="0.1" rx="0.28" ry="0.4" transform="rotate(-20 -0.44 0.1)" fill="#c9c8c4" stroke="#000" stroke-width="1.38" vector-effect="non-scaling-stroke"/></g>
<text x="2063.9" y="353.9" font-family='"Liberation Sans", sans-serif' font-size="28.95" font-weight="normal" font-style="normal" fill="#000" text-anchor="start" textLength="829.6" lengthAdjust="spacingAndGlyphs" word-spacing="3.9" ><tspan font-weight="bold">However</tspan>, cells can die and proliferate as a response to treatment.</text>
<text x="2086.7" y="395.3" font-family='"Liberation Sans", sans-serif' font-size="28.95" font-weight="normal" font-style="normal" fill="#000" text-anchor="start" textLength="625.3" lengthAdjust="spacingAndGlyphs" word-spacing="3.9" >.. solve an <tspan font-weight="bold">unbalanced</tspan> optimal transport problem</text>
<text x="3025.1" y="398.8" font-family='"Liberation Sans", sans-serif' font-size="29.91" font-weight="normal" font-style="normal" fill="#a9a9a9" text-anchor="start" textLength="253.1" lengthAdjust="spacingAndGlyphs" word-spacing="4.0" >(Chizat et al., 2018)</text>
<rect x="2061.4" y="424.5" width="238.4" height="83.2" fill="#e06062" rx="15" />
<text x="2081.4" y="487.3" font-family='"Liberation Serif", serif' font-size="61.6" font-weight="normal" font-style="normal" fill="#fff" text-anchor="start" textLength="202.6" lengthAdjust="spacingAndGlyphs" >N<tspan font-size="48">UB</tspan>OT</text>
<text x="2530.1" y="474.3" font-family='"Liberation Sans", sans-serif' font-size="28.95" font-weight="bold" font-style="normal" fill="#000" text-anchor="start" textLength="197.7" lengthAdjust="spacingAndGlyphs" >semi-couplings</text>
<g transform="translate(2743.6,474.3) scale(1.0450,1)"><text x="0.0" y="2.2" font-family='"Liberation Serif", serif' font-size="55.0" font-weight="normal" font-style="normal" fill="#000" text-anchor="start" >(</text><text x="18.3" y="0.0" font-family='"Liberation Serif", serif' font-size="44" font-weight="normal" font-style="italic" fill="#e06062" text-anchor="start" >γ</text><text x="35.7" y="7.5" font-family='"Liberation Serif", serif' font-size="30.799999999999997" font-weight="normal" font-style="normal" fill="#e06062" text-anchor="start" >1</text><text x="51.1" y="0.0" font-family='"Liberation Serif", serif' font-size="44" font-weight="normal" font-style="normal" fill="#000" text-anchor="start" >,</text><text x="66.5" y="0.0" font-family='"Liberation Serif", serif' font-size="44" font-weight="normal" font-style="italic" fill="#27406f" text-anchor="start" >γ</text><text x="83.8" y="7.5" font-family='"Liberation Serif", serif' font-size="30.799999999999997" font-weight="normal" font-style="normal" fill="#27406f" text-anchor="start" >2</text><text x="99.2" y="2.2" font-family='"Liberation Serif", serif' font-size="55.0" font-weight="normal" font-style="normal" fill="#000" text-anchor="start" >)</text></g>
<circle cx="2300.9" cy="607.7" r="79.0" fill="#d5dde8" />
<circle cx="2368.6" cy="768.1" r="65.8" fill="#d5dde8" />
<circle cx="2997.4" cy="579.6" r="88.6" fill="#d5dde8" />
<line x1="2314.9" y1="575.0" x2="2601.7" y2="588.4" stroke="#efa9aa" stroke-width="5.9" />
<line x1="2374.6" y1="618.2" x2="2601.7" y2="629.8" stroke="#efa9aa" stroke-width="5.9" />
<line x1="2343.0" y1="660.4" x2="2601.7" y2="721.1" stroke="#efa9aa" stroke-width="5.9" />
<line x1="2407.9" y1="741.1" x2="2601.7" y2="763.2" stroke="#efa9aa" stroke-width="5.9" />
<line x1="2393.9" y1="785.7" x2="2601.7" y2="804.3" stroke="#efa9aa" stroke-width="5.9" />
<line x1="2698.6" y1="586.6" x2="2927.9" y2="540.0" stroke="#8d95ae" stroke-width="5.9" />
<line x1="2698.6" y1="629.8" x2="2952.4" y2="585.6" stroke="#8d95ae" stroke-width="5.9" />
<line x1="2698.6" y1="721.1" x2="2932.0" y2="637.5" stroke="#8d95ae" stroke-width="5.9" />
<line x1="2612" y1="763.2" x2="2934" y2="772.7" stroke="#efb4b4" stroke-width="5.8" stroke-dasharray="11.6 12"/>
<line x1="2612" y1="804.3" x2="2938" y2="805.4" stroke="#efb4b4" stroke-width="5.8" stroke-dasharray="11.6 12"/>
<circle cx="2601.7" cy="588.4" r="10.5" fill="#e06062" />
<circle cx="2601.7" cy="629.8" r="10.5" fill="#e06062" />
<circle cx="2601.7" cy="721.1" r="10.5" fill="#e06062" />
<circle cx="2601.7" cy="763.2" r="10.5" fill="#e06062" />
<circle cx="2601.7" cy="804.3" r="10.5" fill="#e06062" />
<circle cx="2698.6" cy="586.6" r="10.5" fill="#27406f" />
<circle cx="2698.6" cy="629.8" r="10.5" fill="#27406f" />
<circle cx="2698.6" cy="721.1" r="10.5" fill="#27406f" />
<rect x="2600.3" y="665.4" width="5.0" height="5.0" fill="#000" />
<rect x="2600.3" y="686.3" width="5.0" height="5.0" fill="#000" />
<rect x="2698.9" y="665.4" width="5.0" height="5.0" fill="#000" />
<rect x="2698.9" y="686.3" width="5.0" height="5.0" fill="#000" />
<path d="M2624.9,569 H2629 Q2636,570 2636,580 V751.8 M2627.8,751.8 H2646.6" fill="none" stroke="#000" stroke-width="3.9" />
<path d="M2676.9,569 H2673 Q2666.2,570 2666.2,580 V751.8 M2656.3,751.8 H2675.1" fill="none" stroke="#000" stroke-width="3.9" />
<path d="M2626.9,817.1 H2644.7 M2636,817.1 V825 Q2636,835 2624.9,835" fill="none" stroke="#000" stroke-width="3.9" />
<path d="M2656.3,817.1 H2675.1 M2666.2,817.1 V825 Q2666.2,835 2676.9,835" fill="none" stroke="#000" stroke-width="3.9" />
<g transform="translate(2524.5,681.4) scale(1.0996,1)"><text x="0.0" y="0.0" font-family='"Liberation Serif", serif' font-size="44" font-weight="normal" font-style="italic" fill="#e06062" text-anchor="start" >γ</text><text x="17.3" y="7.5" font-family='"Liberation Serif", serif' font-size="30.799999999999997" font-weight="normal" font-style="normal" fill="#e06062" text-anchor="start" >1</text></g>
<g transform="translate(2730.6,680.4) scale(1.1791,1)"><text x="0.0" y="0.0" font-family='"Liberation Serif", serif' font-size="44" font-weight="normal" font-style="italic" fill="#27406f" text-anchor="start" >γ</text><text x="17.3" y="7.5" font-family='"Liberation Serif", serif' font-size="30.799999999999997" font-weight="normal" font-style="normal" fill="#27406f" text-anchor="start" >2</text></g>
<path d="M2329,555 C2370,528 2420,516 2460,518 C2530,521 2570,553 2640,552 C2720,551 2790,497 2885,498.5 C2915,499 2935,505 2946.5,510" fill="none" stroke="#1a2347" stroke-width="6.3" />
<circle cx="2329.0" cy="555.0" r="9.8" fill="#1a2347" />
<circle cx="2946.5" cy="510.1" r="9.8" fill="#1a2347" />
<g transform="translate(2325.4,518.2) scale(1.1564,1)"><text x="0.0" y="0.0" font-family='"Liberation Serif", serif' font-size="36" font-weight="normal" font-style="italic" fill="#000" text-anchor="start" >m</text><text x="26.0" y="6.1" font-family='"Liberation Serif", serif' font-size="25.2" font-weight="normal" font-style="italic" fill="#000" text-anchor="start" >x</text></g>
<g transform="translate(2294.5,550.5) scale(1.0000,1)"><text x="0.0" y="0.0" font-family='"Liberation Serif", serif' font-size="36" font-weight="normal" font-style="italic" fill="#000" text-anchor="start" >x</text></g>
<g transform="translate(2925.0,483.8) scale(1.1161,1)"><text x="0.0" y="0.0" font-family='"Liberation Serif", serif' font-size="36" font-weight="normal" font-style="italic" fill="#000" text-anchor="start" >m</text><text x="26.0" y="6.1" font-family='"Liberation Serif", serif' font-size="25.2" font-weight="normal" font-style="italic" fill="#000" text-anchor="start" >y</text></g>
<g transform="translate(2898.0,528.5) scale(1.0000,1)"><text x="0.0" y="0.0" font-family='"Liberation Serif", serif' font-size="36" font-weight="normal" font-style="italic" fill="#000" text-anchor="start" >y</text></g>
<g transform="translate(2274.5,720.0) scale(1.0000,1)"><text x="0.0" y="0.0" font-family='"Liberation Serif", serif' font-size="42" font-weight="normal" font-style="italic" fill="#000" text-anchor="start" >μ</text></g>
<g transform="translate(2960.2,709.5) scale(1.0000,1)"><text x="0.0" y="0.0" font-family='"Liberation Serif", serif' font-size="56" font-weight="normal" font-style="italic" fill="#000" text-anchor="start" >ν</text></g>
<g transform="translate(2280.3,577.5) rotate(-1) scale(35.00,17.00)"><path d="M0.09,-0.99 C0.4,-1.0 0.65,-0.85 0.8,-0.65 C0.92,-0.5 1.0,-0.2 1.0,0.05 C1.0,0.4 0.85,0.72 0.56,0.83 C0.3,0.92 0.15,0.72 -0.05,0.75 C-0.3,0.8 -0.4,1.0 -0.65,1.0 C-0.9,1.0 -1.02,0.75 -0.99,0.45 C-0.96,0.15 -0.92,-0.15 -0.79,-0.35 C-0.68,-0.55 -0.55,-0.75 -0.37,-0.85 C-0.2,-0.95 -0.05,-0.98 0.09,-0.99 Z" fill="#cdcdcb" stroke="#000" stroke-width="3.0" vector-effect="non-scaling-stroke" stroke-linejoin="round"/><ellipse cx="-0.44" cy="0.1" rx="0.28" ry="0.4" transform="rotate(-20 -0.44 0.1)" fill="#d3d1cb" stroke="#000" stroke-width="1.80" vector-effect="non-scaling-stroke"/></g>
<g transform="translate(2261.7,623.5) rotate(0) scale(27.50,21.00)"><path d="M0.19,-0.98 C0.6,-1.0 0.95,-0.65 0.98,-0.2 C1.0,0.2 0.75,0.55 0.45,0.75 C0.15,0.95 -0.2,1.02 -0.45,1.0 C-0.8,0.97 -1.0,0.75 -0.98,0.42 C-0.96,0.15 -0.88,0.0 -0.8,-0.17 C-0.72,-0.35 -0.7,-0.42 -0.63,-0.55 C-0.5,-0.62 -0.3,-0.95 0.19,-0.98 Z" fill="#cdcdcb" stroke="#000" stroke-width="3.0" vector-effect="non-scaling-stroke" stroke-linejoin="round"/><ellipse cx="0.45" cy="-0.12" rx="0.3" ry="0.36" transform="rotate(-25 0.45 -0.12)" fill="#d3d1cb" stroke="#000" stroke-width="1.80" vector-effect="non-scaling-stroke"/></g>
<g transform="translate(2346.5,612.6) rotate(0) scale(28.00,27.50)"><path d="M0.16,-0.97 C0.55,-0.97 0.8,-0.7 0.9,-0.3 C1.0,0.05 1.0,0.3 0.92,0.5 C0.8,0.85 0.6,0.99 0.34,0.99 C0.05,0.99 -0.15,0.85 -0.4,0.72 C-0.7,0.6 -0.9,0.5 -0.95,0.25 C-1.0,0.0 -1.0,-0.15 -0.88,-0.22 C-0.75,-0.3 -0.62,-0.28 -0.52,-0.36 C-0.35,-0.5 -0.3,-0.97 0.16,-0.97 Z" fill="#cdcdcb" stroke="#000" stroke-width="3.0" vector-effect="non-scaling-stroke" stroke-linejoin="round"/><ellipse cx="0.28" cy="0.32" rx="0.25" ry="0.3" transform="rotate(-30 0.28 0.32)" fill="#d3d1cb" stroke="#000" stroke-width="1.80" vector-effect="non-scaling-stroke"/></g>
<g transform="translate(2310.8,660.4) rotate(0) scale(32.50,17.50)"><path d="M-0.76,-0.74 C-0.5,-0.9 -0.2,-0.97 0.08,-0.97 C0.35,-0.98 0.6,-0.92 0.75,-0.76 C0.9,-0.6 1.0,-0.35 0.99,-0.12 C0.98,0.15 0.95,0.35 0.85,0.41 C0.65,0.52 0.45,0.48 0.24,0.59 C0.05,0.7 0.0,0.9 -0.16,0.97 C-0.35,1.03 -0.6,1.02 -0.76,0.94 C-0.95,0.8 -1.0,0.3 -0.98,0.0 C-0.97,-0.3 -0.92,-0.6 -0.76,-0.74 Z" fill="#cdcdcb" stroke="#000" stroke-width="3.0" vector-effect="non-scaling-stroke" stroke-linejoin="round"/><ellipse cx="0.4" cy="-0.2" rx="0.33" ry="0.3" transform="rotate(-5 0.4 -0.2)" fill="#d3d1cb" stroke="#000" stroke-width="1.80" vector-effect="non-scaling-stroke"/></g>
<g transform="translate(2371.0,741.0) rotate(2) scale(38.00,17.50)"><path d="M0.09,-0.99 C0.4,-1.0 0.65,-0.85 0.8,-0.65 C0.92,-0.5 1.0,-0.2 1.0,0.05 C1.0,0.4 0.85,0.72 0.56,0.83 C0.3,0.92 0.15,0.72 -0.05,0.75 C-0.3,0.8 -0.4,1.0 -0.65,1.0 C-0.9,1.0 -1.02,0.75 -0.99,0.45 C-0.96,0.15 -0.92,-0.15 -0.79,-0.35 C-0.68,-0.55 -0.55,-0.75 -0.37,-0.85 C-0.2,-0.95 -0.05,-0.98 0.09,-0.99 Z" fill="#b9cbe2" stroke="#000" stroke-width="3.0" vector-effect="non-scaling-stroke" stroke-linejoin="round"/><ellipse cx="-0.44" cy="0.1" rx="0.28" ry="0.4" transform="rotate(-20 -0.44 0.1)" fill="#a3b9d8" stroke="#000" stroke-width="1.80" vector-effect="non-scaling-stroke"/></g>
<g transform="translate(2368.0,792.5) rotate(0) scale(26.50,16.00)"><path d="M0.2,-0.98 C0.6,-1.0 0.98,-0.8 0.99,-0.44 C1.0,-0.1 0.9,0.2 0.67,0.44 C0.4,0.7 -0.1,0.98 -0.47,1.0 C-0.8,1.02 -1.0,0.85 -0.97,0.55 C-0.95,0.25 -0.92,0.0 -0.8,-0.22 C-0.68,-0.5 -0.55,-0.75 -0.33,-0.83 C-0.1,-0.92 0.0,-0.97 0.2,-0.98 Z" fill="#b9cbe2" stroke="#000" stroke-width="3.0" vector-effect="non-scaling-stroke" stroke-linejoin="round"/><ellipse cx="-0.17" cy="0.22" rx="0.36" ry="0.3" transform="rotate(-15 -0.17 0.22)" fill="#a3b9d8" stroke="#000" stroke-width="1.80" vector-effect="non-scaling-stroke"/></g>
<g transform="translate(2959.5,539.0) rotate(-1) scale(35.00,17.00)"><path d="M0.09,-0.99 C0.4,-1.0 0.65,-0.85 0.8,-0.65 C0.92,-0.5 1.0,-0.2 1.0,0.05 C1.0,0.4 0.85,0.72 0.56,0.83 C0.3,0.92 0.15,0.72 -0.05,0.75 C-0.3,0.8 -0.4,1.0 -0.65,1.0 C-0.9,1.0 -1.02,0.75 -0.99,0.45 C-0.96,0.15 -0.92,-0.15 -0.79,-0.35 C-0.68,-0.55 -0.55,-0.75 -0.37,-0.85 C-0.2,-0.95 -0.05,-0.98 0.09,-0.99 Z" fill="#cdcdcb" stroke="#000" stroke-width="3.0" vector-effect="non-scaling-stroke" stroke-linejoin="round"/><ellipse cx="-0.44" cy="0.1" rx="0.28" ry="0.4" transform="rotate(-20 -0.44 0.1)" fill="#d3d1cb" stroke="#000" stroke-width="1.80" vector-effect="non-scaling-stroke"/></g>
<g transform="translate(3038.5,527.5) rotate(2) scale(38.00,17.00)"><path d="M0.09,-0.99 C0.4,-1.0 0.65,-0.85 0.8,-0.65 C0.92,-0.5 1.0,-0.2 1.0,0.05 C1.0,0.4 0.85,0.72 0.56,0.83 C0.3,0.92 0.15,0.72 -0.05,0.75 C-0.3,0.8 -0.4,1.0 -0.65,1.0 C-0.9,1.0 -1.02,0.75 -0.99,0.45 C-0.96,0.15 -0.92,-0.15 -0.79,-0.35 C-0.68,-0.55 -0.55,-0.75 -0.37,-0.85 C-0.2,-0.95 -0.05,-0.98 0.09,-0.99 Z" fill="#cdcdcb" stroke="#000" stroke-width="3.0" vector-effect="non-scaling-stroke" stroke-linejoin="round"/><ellipse cx="-0.44" cy="0.1" rx="0.28" ry="0.4" transform="rotate(-20 -0.44 0.1)" fill="#d3d1cb" stroke="#000" stroke-width="1.80" vector-effect="non-scaling-stroke"/></g>
<g transform="translate(2976.0,576.5) rotate(0) scale(-26.00,16.00)"><path d="M0.2,-0.98 C0.6,-1.0 0.98,-0.8 0.99,-0.44 C1.0,-0.1 0.9,0.2 0.67,0.44 C0.4,0.7 -0.1,0.98 -0.47,1.0 C-0.8,1.02 -1.0,0.85 -0.97,0.55 C-0.95,0.25 -0.92,0.0 -0.8,-0.22 C-0.68,-0.5 -0.55,-0.75 -0.33,-0.83 C-0.1,-0.92 0.0,-0.97 0.2,-0.98 Z" fill="#cdcdcb" stroke="#000" stroke-width="3.0" vector-effect="non-scaling-stroke" stroke-linejoin="round"/><ellipse cx="-0.17" cy="0.22" rx="0.36" ry="0.3" transform="rotate(-15 -0.17 0.22)" fill="#d3d1cb" stroke="#000" stroke-width="1.80" vector-effect="non-scaling-stroke"/></g>
<g transform="translate(3053.7,584.4) rotate(0) scale(28.00,27.50)"><path d="M0.16,-0.97 C0.55,-0.97 0.8,-0.7 0.9,-0.3 C1.0,0.05 1.0,0.3 0.92,0.5 C0.8,0.85 0.6,0.99 0.34,0.99 C0.05,0.99 -0.15,0.85 -0.4,0.72 C-0.7,0.6 -0.9,0.5 -0.95,0.25 C-1.0,0.0 -1.0,-0.15 -0.88,-0.22 C-0.75,-0.3 -0.62,-0.28 -0.52,-0.36 C-0.35,-0.5 -0.3,-0.97 0.16,-0.97 Z" fill="#cdcdcb" stroke="#000" stroke-width="2.6" vector-effect="non-scaling-stroke" stroke-linejoin="round" stroke-dasharray="6.8 4.2"/><ellipse cx="0.28" cy="0.32" rx="0.25" ry="0.3" transform="rotate(-30 0.28 0.32)" fill="#d3d1cb" stroke="#000" stroke-width="1.56" vector-effect="non-scaling-stroke"/></g>
<g transform="translate(2954.6,623.0) rotate(0) scale(27.50,21.00)"><path d="M0.19,-0.98 C0.6,-1.0 0.95,-0.65 0.98,-0.2 C1.0,0.2 0.75,0.55 0.45,0.75 C0.15,0.95 -0.2,1.02 -0.45,1.0 C-0.8,0.97 -1.0,0.75 -0.98,0.42 C-0.96,0.15 -0.88,0.0 -0.8,-0.17 C-0.72,-0.35 -0.7,-0.42 -0.63,-0.55 C-0.5,-0.62 -0.3,-0.95 0.19,-0.98 Z" fill="#cdcdcb" stroke="#000" stroke-width="3.0" vector-effect="non-scaling-stroke" stroke-linejoin="round"/><ellipse cx="0.45" cy="-0.12" rx="0.3" ry="0.36" transform="rotate(-25 0.45 -0.12)" fill="#d3d1cb" stroke="#000" stroke-width="1.80" vector-effect="non-scaling-stroke"/></g>
<g transform="translate(3025.3,641.8) rotate(0) scale(33.00,17.50)"><path d="M-0.76,-0.74 C-0.5,-0.9 -0.2,-0.97 0.08,-0.97 C0.35,-0.98 0.6,-0.92 0.75,-0.76 C0.9,-0.6 1.0,-0.35 0.99,-0.12 C0.98,0.15 0.95,0.35 0.85,0.41 C0.65,0.52 0.45,0.48 0.24,0.59 C0.05,0.7 0.0,0.9 -0.16,0.97 C-0.35,1.03 -0.6,1.02 -0.76,0.94 C-0.95,0.8 -1.0,0.3 -0.98,0.0 C-0.97,-0.3 -0.92,-0.6 -0.76,-0.74 Z" fill="#cdcdcb" stroke="#000" stroke-width="3.0" vector-effect="non-scaling-stroke" stroke-linejoin="round"/><ellipse cx="0.4" cy="-0.2" rx="0.33" ry="0.3" transform="rotate(-5 0.4 -0.2)" fill="#d3d1cb" stroke="#000" stroke-width="1.80" vector-effect="non-scaling-stroke"/></g>
<g transform="translate(2958.4,761.8) rotate(0) scale(27.00,15.50)"><path d="M0.2,-0.98 C0.6,-1.0 0.98,-0.8 0.99,-0.44 C1.0,-0.1 0.9,0.2 0.67,0.44 C0.4,0.7 -0.1,0.98 -0.47,1.0 C-0.8,1.02 -1.0,0.85 -0.97,0.55 C-0.95,0.25 -0.92,0.0 -0.8,-0.22 C-0.68,-0.5 -0.55,-0.75 -0.33,-0.83 C-0.1,-0.92 0.0,-0.97 0.2,-0.98 Z" fill="#c9d8ea" stroke="#000" stroke-width="2.4" vector-effect="non-scaling-stroke" stroke-linejoin="round" stroke-dasharray="6.2 3.8"/><ellipse cx="-0.17" cy="0.22" rx="0.36" ry="0.3" transform="rotate(-15 -0.17 0.22)" fill="#a9bfdd" stroke="#000" stroke-width="1.44" vector-effect="non-scaling-stroke"/></g>
<g transform="translate(2974.0,803.0) rotate(4) scale(38.50,17.00)"><path d="M0.09,-0.99 C0.4,-1.0 0.65,-0.85 0.8,-0.65 C0.92,-0.5 1.0,-0.2 1.0,0.05 C1.0,0.4 0.85,0.72 0.56,0.83 C0.3,0.92 0.15,0.72 -0.05,0.75 C-0.3,0.8 -0.4,1.0 -0.65,1.0 C-0.9,1.0 -1.02,0.75 -0.99,0.45 C-0.96,0.15 -0.92,-0.15 -0.79,-0.35 C-0.68,-0.55 -0.55,-0.75 -0.37,-0.85 C-0.2,-0.95 -0.05,-0.98 0.09,-0.99 Z" fill="#c9d8ea" stroke="#000" stroke-width="2.4" vector-effect="non-scaling-stroke" stroke-linejoin="round" stroke-dasharray="6.2 3.8"/><ellipse cx="-0.44" cy="0.1" rx="0.28" ry="0.4" transform="rotate(-20 -0.44 0.1)" fill="#a9bfdd" stroke="#000" stroke-width="1.44" vector-effect="non-scaling-stroke"/></g>
<text x="3020.9" y="770.2" font-family='"Liberation Sans", sans-serif' font-size="28.95" font-weight="normal" font-style="normal" fill="#000" text-anchor="start" textLength="180.1" lengthAdjust="spacingAndGlyphs" word-spacing="3.9" >apoptotic cells</text>
<text x="3039.5" y="811.3" font-family='"Liberation Sans", sans-serif' font-size="28.95" font-weight="normal" font-style="normal" fill="#000" text-anchor="start" textLength="161.5" lengthAdjust="spacingAndGlyphs" word-spacing="3.9" >are often not</text>
<text x="3063.0" y="852.7" font-family='"Liberation Sans", sans-serif' font-size="28.95" font-weight="normal" font-style="normal" fill="#000" text-anchor="start" textLength="138.0" lengthAdjust="spacingAndGlyphs" >measurable</text>
<text x="925.0" y="916.3" font-family='"Liberation Sans", sans-serif' font-size="28.95" font-weight="normal" font-style="normal" fill="#000" text-anchor="start" textLength="932.8" lengthAdjust="spacingAndGlyphs" word-spacing="3.9" >Conceptually break problem into <tspan font-weight="bold">balanced</tspan> and <tspan font-weight="bold">unbalanced subproblems</tspan></text>
<text x="947.5" y="959.4" font-family='"Liberation Sans", sans-serif' font-size="28.95" font-weight="normal" font-style="normal" fill="#000" text-anchor="start" textLength="467.3" lengthAdjust="spacingAndGlyphs" word-spacing="3.9" >.. learn balanced proxy measures, i.e.,</text>
<g transform="translate(1428.0,959.4) scale(1.1000,1)"><text x="0.0" y="0.0" font-family='"Liberation Serif", serif' font-size="36" font-weight="normal" font-style="italic" fill="#000" text-anchor="start" >μ</text><text x="10.8" y="-13.0" font-family='"Liberation Serif", serif' font-size="25.919999999999998" font-weight="normal" font-style="normal" fill="#000" text-anchor="middle" >~</text><text x="26.0" y="0.0" font-family='"Liberation Serif", serif' font-size="36" font-weight="normal" font-style="normal" fill="#000" text-anchor="start" >=</text><text x="54.2" y="0.0" font-family='"Liberation Serif", serif' font-size="36" font-weight="normal" font-style="italic" fill="#000" text-anchor="start" >η</text><text x="78.6" y="0.0" font-family='"Liberation Serif", serif' font-size="36" font-weight="normal" font-style="normal" fill="#000" text-anchor="start" >·</text><text x="97.0" y="0.0" font-family='"Liberation Serif", serif' font-size="36" font-weight="normal" font-style="italic" fill="#000" text-anchor="start" >μ</text></g>
<text x="1577.0" y="959.4" font-family='"Liberation Sans", sans-serif' font-size="28.95" font-weight="normal" font-style="normal" fill="#000" text-anchor="start" textLength="43.7" lengthAdjust="spacingAndGlyphs" >and</text>
<g transform="translate(1641.3,959.4) scale(1.1578,1)"><text x="0.0" y="0.0" font-family='"Liberation Serif", serif' font-size="36" font-weight="normal" font-style="italic" fill="#000" text-anchor="start" >ν</text><text x="9.8" y="-13.0" font-family='"Liberation Serif", serif' font-size="25.919999999999998" font-weight="normal" font-style="normal" fill="#000" text-anchor="middle" >~</text><text x="23.9" y="0.0" font-family='"Liberation Serif", serif' font-size="36" font-weight="normal" font-style="normal" fill="#000" text-anchor="start" >=</text><text x="52.1" y="0.0" font-family='"Liberation Serif", serif' font-size="36" font-weight="normal" font-style="italic" fill="#000" text-anchor="start" >ζ</text><text x="73.2" y="0.0" font-family='"Liberation Serif", serif' font-size="36" font-weight="normal" font-style="normal" fill="#000" text-anchor="start" >·</text><text x="91.6" y="0.0" font-family='"Liberation Serif", serif' font-size="36" font-weight="normal" font-style="italic" fill="#000" text-anchor="start" >ν</text></g>
<text x="946.8" y="1004.5" font-family='"Liberation Sans", sans-serif' font-size="28.95" font-weight="normal" font-style="normal" fill="#000" text-anchor="start" textLength="678.4" lengthAdjust="spacingAndGlyphs" word-spacing="3.9" >.. solve balanced OT problem between proxy measures</text>
<defs><linearGradient id="cone1" x1="0" y1="0" x2="1" y2="0"><stop offset="0" stop-color="#d5dde8"/><stop offset="1" stop-color="#fbfcfd"/></linearGradient><linearGradient id="cone2" x1="0" y1="0" x2="0" y2="1"><stop offset="0" stop-color="#c5d5e8"/><stop offset="1" stop-color="#fbfcfd"/></linearGradient><linearGradient id="cone3" x1="0" y1="0" x2="1" y2="0"><stop offset="0" stop-color="#ffffff"/><stop offset="0.45" stop-color="#eceef2"/><stop offset="1" stop-color="#fafbfc"/></linearGradient></defs>
<path d="M1975,994 L2094.5,1106.6 V1254 L1880,1196 Z" fill="url(#cone1)" />
<path d="M2142.5,968 L2101,1106.6 H2212 L2297,1013 Z" fill="url(#cone2)" />
<path d="M1905,1238 L2094.5,1257 V1319.7 L1868,1370 Q1950,1310 1905,1238 Z" fill="url(#cone3)" />
<circle cx="1025.2" cy="1154.6" r="98.9" fill="#d5dde8" />
<circle cx="1109.7" cy="1353.5" r="74.5" fill="#d5dde8" />
<circle cx="1904.0" cy="1083.3" r="114.0" fill="#d5dde8" />
<circle cx="2228.5" cy="960.6" r="86.3" fill="#c5d5e8" />
<g transform="translate(999.7,1116.7) rotate(-1) scale(44.00,21.00)"><path d="M0.09,-0.99 C0.4,-1.0 0.65,-0.85 0.8,-0.65 C0.92,-0.5 1.0,-0.2 1.0,0.05 C1.0,0.4 0.85,0.72 0.56,0.83 C0.3,0.92 0.15,0.72 -0.05,0.75 C-0.3,0.8 -0.4,1.0 -0.65,1.0 C-0.9,1.0 -1.02,0.75 -0.99,0.45 C-0.96,0.15 -0.92,-0.15 -0.79,-0.35 C-0.68,-0.55 -0.55,-0.75 -0.37,-0.85 C-0.2,-0.95 -0.05,-0.98 0.09,-0.99 Z" fill="#cdcdcb" stroke="#000" stroke-width="3.3" vector-effect="non-scaling-stroke" stroke-linejoin="round"/><ellipse cx="-0.44" cy="0.1" rx="0.28" ry="0.4" transform="rotate(-20 -0.44 0.1)" fill="#d3d1cb" stroke="#000" stroke-width="1.98" vector-effect="non-scaling-stroke"/></g>
<g transform="translate(976.6,1174.0) rotate(0) scale(34.00,25.50)"><path d="M0.19,-0.98 C0.6,-1.0 0.95,-0.65 0.98,-0.2 C1.0,0.2 0.75,0.55 0.45,0.75 C0.15,0.95 -0.2,1.02 -0.45,1.0 C-0.8,0.97 -1.0,0.75 -0.98,0.42 C-0.96,0.15 -0.88,0.0 -0.8,-0.17 C-0.72,-0.35 -0.7,-0.42 -0.63,-0.55 C-0.5,-0.62 -0.3,-0.95 0.19,-0.98 Z" fill="#cdcdcb" stroke="#000" stroke-width="3.3" vector-effect="non-scaling-stroke" stroke-linejoin="round"/><ellipse cx="0.45" cy="-0.12" rx="0.3" ry="0.36" transform="rotate(-25 0.45 -0.12)" fill="#d3d1cb" stroke="#000" stroke-width="1.98" vector-effect="non-scaling-stroke"/></g>
<g transform="translate(1082.3,1160.2) rotate(0) scale(35.00,34.00)"><path d="M0.16,-0.97 C0.55,-0.97 0.8,-0.7 0.9,-0.3 C1.0,0.05 1.0,0.3 0.92,0.5 C0.8,0.85 0.6,0.99 0.34,0.99 C0.05,0.99 -0.15,0.85 -0.4,0.72 C-0.7,0.6 -0.9,0.5 -0.95,0.25 C-1.0,0.0 -1.0,-0.15 -0.88,-0.22 C-0.75,-0.3 -0.62,-0.28 -0.52,-0.36 C-0.35,-0.5 -0.3,-0.97 0.16,-0.97 Z" fill="#cdcdcb" stroke="#000" stroke-width="3.3" vector-effect="non-scaling-stroke" stroke-linejoin="round"/><ellipse cx="0.28" cy="0.32" rx="0.25" ry="0.3" transform="rotate(-30 0.28 0.32)" fill="#d3d1cb" stroke="#000" stroke-width="1.98" vector-effect="non-scaling-stroke"/></g>
<g transform="translate(1038.2,1220.3) rotate(0) scale(41.00,22.50)"><path d="M-0.76,-0.74 C-0.5,-0.9 -0.2,-0.97 0.08,-0.97 C0.35,-0.98 0.6,-0.92 0.75,-0.76 C0.9,-0.6 1.0,-0.35 0.99,-0.12 C0.98,0.15 0.95,0.35 0.85,0.41 C0.65,0.52 0.45,0.48 0.24,0.59 C0.05,0.7 0.0,0.9 -0.16,0.97 C-0.35,1.03 -0.6,1.02 -0.76,0.94 C-0.95,0.8 -1.0,0.3 -0.98,0.0 C-0.97,-0.3 -0.92,-0.6 -0.76,-0.74 Z" fill="#cdcdcb" stroke="#000" stroke-width="3.3" vector-effect="non-scaling-stroke" stroke-linejoin="round"/><ellipse cx="0.4" cy="-0.2" rx="0.33" ry="0.3" transform="rotate(-5 0.4 -0.2)" fill="#d3d1cb" stroke="#000" stroke-width="1.98" vector-effect="non-scaling-stroke"/></g>
<g transform="translate(1112.3,1322.2) rotate(2) scale(47.50,21.00)"><path d="M0.09,-0.99 C0.4,-1.0 0.65,-0.85 0.8,-0.65 C0.92,-0.5 1.0,-0.2 1.0,0.05 C1.0,0.4 0.85,0.72 0.56,0.83 C0.3,0.92 0.15,0.72 -0.05,0.75 C-0.3,0.8 -0.4,1.0 -0.65,1.0 C-0.9,1.0 -1.02,0.75 -0.99,0.45 C-0.96,0.15 -0.92,-0.15 -0.79,-0.35 C-0.68,-0.55 -0.55,-0.75 -0.37,-0.85 C-0.2,-0.95 -0.05,-0.98 0.09,-0.99 Z" fill="#b9cbe2" stroke="#000" stroke-width="3.3" vector-effect="non-scaling-stroke" stroke-linejoin="round"/><ellipse cx="-0.44" cy="0.1" rx="0.28" ry="0.4" transform="rotate(-20 -0.44 0.1)" fill="#a3b9d8" stroke="#000" stroke-width="1.98" vector-effect="non-scaling-stroke"/></g>
<g transform="translate(1108.7,1386.3) rotate(0) scale(33.50,19.50)"><path d="M0.2,-0.98 C0.6,-1.0 0.98,-0.8 0.99,-0.44 C1.0,-0.1 0.9,0.2 0.67,0.44 C0.4,0.7 -0.1,0.98 -0.47,1.0 C-0.8,1.02 -1.0,0.85 -0.97,0.55 C-0.95,0.25 -0.92,0.0 -0.8,-0.22 C-0.68,-0.5 -0.55,-0.75 -0.33,-0.83 C-0.1,-0.92 0.0,-0.97 0.2,-0.98 Z" fill="#b9cbe2" stroke="#000" stroke-width="3.3" vector-effect="non-scaling-stroke" stroke-linejoin="round"/><ellipse cx="-0.17" cy="0.22" rx="0.36" ry="0.3" transform="rotate(-15 -0.17 0.22)" fill="#a3b9d8" stroke="#000" stroke-width="1.98" vector-effect="non-scaling-stroke"/></g>
<g transform="translate(1904.4,1022.9) rotate(-1) scale(37.50,18.50)"><path d="M0.09,-0.99 C0.4,-1.0 0.65,-0.85 0.8,-0.65 C0.92,-0.5 1.0,-0.2 1.0,0.05 C1.0,0.4 0.85,0.72 0.56,0.83 C0.3,0.92 0.15,0.72 -0.05,0.75 C-0.3,0.8 -0.4,1.0 -0.65,1.0 C-0.9,1.0 -1.02,0.75 -0.99,0.45 C-0.96,0.15 -0.92,-0.15 -0.79,-0.35 C-0.68,-0.55 -0.55,-0.75 -0.37,-0.85 C-0.2,-0.95 -0.05,-0.98 0.09,-0.99 Z" fill="#cdcdcb" stroke="#000" stroke-width="3.0" vector-effect="non-scaling-stroke" stroke-linejoin="round"/><ellipse cx="-0.44" cy="0.1" rx="0.28" ry="0.4" transform="rotate(-20 -0.44 0.1)" fill="#d3d1cb" stroke="#000" stroke-width="1.80" vector-effect="non-scaling-stroke"/></g>
<g transform="translate(1841.0,1066.0) rotate(0) scale(-28.50,17.50)"><path d="M0.2,-0.98 C0.6,-1.0 0.98,-0.8 0.99,-0.44 C1.0,-0.1 0.9,0.2 0.67,0.44 C0.4,0.7 -0.1,0.98 -0.47,1.0 C-0.8,1.02 -1.0,0.85 -0.97,0.55 C-0.95,0.25 -0.92,0.0 -0.8,-0.22 C-0.68,-0.5 -0.55,-0.75 -0.33,-0.83 C-0.1,-0.92 0.0,-0.97 0.2,-0.98 Z" fill="#cdcdcb" stroke="#000" stroke-width="3.0" vector-effect="non-scaling-stroke" stroke-linejoin="round"/><ellipse cx="-0.17" cy="0.22" rx="0.36" ry="0.3" transform="rotate(-15 -0.17 0.22)" fill="#d3d1cb" stroke="#000" stroke-width="1.80" vector-effect="non-scaling-stroke"/></g>
<g transform="translate(1958.6,1085.7) rotate(0) scale(30.50,30.00)"><path d="M0.16,-0.97 C0.55,-0.97 0.8,-0.7 0.9,-0.3 C1.0,0.05 1.0,0.3 0.92,0.5 C0.8,0.85 0.6,0.99 0.34,0.99 C0.05,0.99 -0.15,0.85 -0.4,0.72 C-0.7,0.6 -0.9,0.5 -0.95,0.25 C-1.0,0.0 -1.0,-0.15 -0.88,-0.22 C-0.75,-0.3 -0.62,-0.28 -0.52,-0.36 C-0.35,-0.5 -0.3,-0.97 0.16,-0.97 Z" fill="#cdcdcb" stroke="#000" stroke-width="2.7" vector-effect="non-scaling-stroke" stroke-linejoin="round" stroke-dasharray="7.0 4.3"/><ellipse cx="0.28" cy="0.32" rx="0.25" ry="0.3" transform="rotate(-30 0.28 0.32)" fill="#d3d1cb" stroke="#000" stroke-width="1.62" vector-effect="non-scaling-stroke"/></g>
<g transform="translate(1852.0,1127.2) rotate(0) scale(29.50,22.50)"><path d="M0.19,-0.98 C0.6,-1.0 0.95,-0.65 0.98,-0.2 C1.0,0.2 0.75,0.55 0.45,0.75 C0.15,0.95 -0.2,1.02 -0.45,1.0 C-0.8,0.97 -1.0,0.75 -0.98,0.42 C-0.96,0.15 -0.88,0.0 -0.8,-0.17 C-0.72,-0.35 -0.7,-0.42 -0.63,-0.55 C-0.5,-0.62 -0.3,-0.95 0.19,-0.98 Z" fill="#cdcdcb" stroke="#000" stroke-width="3.0" vector-effect="non-scaling-stroke" stroke-linejoin="round"/><ellipse cx="0.45" cy="-0.12" rx="0.3" ry="0.36" transform="rotate(-25 0.45 -0.12)" fill="#d3d1cb" stroke="#000" stroke-width="1.80" vector-effect="non-scaling-stroke"/></g>
<g transform="translate(1927.7,1147.7) rotate(0) scale(35.50,19.50)"><path d="M-0.76,-0.74 C-0.5,-0.9 -0.2,-0.97 0.08,-0.97 C0.35,-0.98 0.6,-0.92 0.75,-0.76 C0.9,-0.6 1.0,-0.35 0.99,-0.12 C0.98,0.15 0.95,0.35 0.85,0.41 C0.65,0.52 0.45,0.48 0.24,0.59 C0.05,0.7 0.0,0.9 -0.16,0.97 C-0.35,1.03 -0.6,1.02 -0.76,0.94 C-0.95,0.8 -1.0,0.3 -0.98,0.0 C-0.97,-0.3 -0.92,-0.6 -0.76,-0.74 Z" fill="#cdcdcb" stroke="#000" stroke-width="3.0" vector-effect="non-scaling-stroke" stroke-linejoin="round"/><ellipse cx="0.4" cy="-0.2" rx="0.33" ry="0.3" transform="rotate(-5 0.4 -0.2)" fill="#d3d1cb" stroke="#000" stroke-width="1.80" vector-effect="non-scaling-stroke"/></g>
<g transform="translate(2198.0,920.4) rotate(15) scale(28.00,13.50)"><path d="M0.09,-0.99 C0.4,-1.0 0.65,-0.85 0.8,-0.65 C0.92,-0.5 1.0,-0.2 1.0,0.05 C1.0,0.4 0.85,0.72 0.56,0.83 C0.3,0.92 0.15,0.72 -0.05,0.75 C-0.3,0.8 -0.4,1.0 -0.65,1.0 C-0.9,1.0 -1.02,0.75 -0.99,0.45 C-0.96,0.15 -0.92,-0.15 -0.79,-0.35 C-0.68,-0.55 -0.55,-0.75 -0.37,-0.85 C-0.2,-0.95 -0.05,-0.98 0.09,-0.99 Z" fill="#cdcdcb" stroke="#000" stroke-width="2.2" vector-effect="non-scaling-stroke" stroke-linejoin="round"/><ellipse cx="-0.44" cy="0.1" rx="0.28" ry="0.4" transform="rotate(-20 -0.44 0.1)" fill="#d3d1cb" stroke="#000" stroke-width="1.32" vector-effect="non-scaling-stroke"/></g>
<g transform="translate(2263.7,919.3) rotate(17) scale(30.00,14.50)"><path d="M0.09,-0.99 C0.4,-1.0 0.65,-0.85 0.8,-0.65 C0.92,-0.5 1.0,-0.2 1.0,0.05 C1.0,0.4 0.85,0.72 0.56,0.83 C0.3,0.92 0.15,0.72 -0.05,0.75 C-0.3,0.8 -0.4,1.0 -0.65,1.0 C-0.9,1.0 -1.02,0.75 -0.99,0.45 C-0.96,0.15 -0.92,-0.15 -0.79,-0.35 C-0.68,-0.55 -0.55,-0.75 -0.37,-0.85 C-0.2,-0.95 -0.05,-0.98 0.09,-0.99 Z" fill="#cdcdcb" stroke="#000" stroke-width="2.2" vector-effect="non-scaling-stroke" stroke-linejoin="round"/><ellipse cx="-0.44" cy="0.1" rx="0.28" ry="0.4" transform="rotate(-20 -0.44 0.1)" fill="#d3d1cb" stroke="#000" stroke-width="1.32" vector-effect="non-scaling-stroke"/></g>
<g transform="translate(2214.4,957.0) rotate(-3) scale(-22.00,12.50)"><path d="M0.09,-0.99 C0.4,-1.0 0.65,-0.85 0.8,-0.65 C0.92,-0.5 1.0,-0.2 1.0,0.05 C1.0,0.4 0.85,0.72 0.56,0.83 C0.3,0.92 0.15,0.72 -0.05,0.75 C-0.3,0.8 -0.4,1.0 -0.65,1.0 C-0.9,1.0 -1.02,0.75 -0.99,0.45 C-0.96,0.15 -0.92,-0.15 -0.79,-0.35 C-0.68,-0.55 -0.55,-0.75 -0.37,-0.85 C-0.2,-0.95 -0.05,-0.98 0.09,-0.99 Z" fill="#cdcdcb" stroke="#000" stroke-width="2.2" vector-effect="non-scaling-stroke" stroke-linejoin="round"/><ellipse cx="-0.44" cy="0.1" rx="0.28" ry="0.4" transform="rotate(-20 -0.44 0.1)" fill="#d3d1cb" stroke="#000" stroke-width="1.32" vector-effect="non-scaling-stroke"/></g>
<g transform="translate(2277.0,964.5) rotate(0) scale(23.00,21.50)"><path d="M0.16,-0.97 C0.55,-0.97 0.8,-0.7 0.9,-0.3 C1.0,0.05 1.0,0.3 0.92,0.5 C0.8,0.85 0.6,0.99 0.34,0.99 C0.05,0.99 -0.15,0.85 -0.4,0.72 C-0.7,0.6 -0.9,0.5 -0.95,0.25 C-1.0,0.0 -1.0,-0.15 -0.88,-0.22 C-0.75,-0.3 -0.62,-0.28 -0.52,-0.36 C-0.35,-0.5 -0.3,-0.97 0.16,-0.97 Z" fill="#cdcdcb" stroke="#000" stroke-width="2.2" vector-effect="non-scaling-stroke" stroke-linejoin="round" stroke-dasharray="5.7 3.5"/><ellipse cx="0.28" cy="0.32" rx="0.25" ry="0.3" transform="rotate(-30 0.28 0.32)" fill="#d3d1cb" stroke="#000" stroke-width="1.32" vector-effect="non-scaling-stroke"/></g>
<g transform="translate(2195.2,993.2) rotate(0) scale(22.00,16.00)"><path d="M0.19,-0.98 C0.6,-1.0 0.95,-0.65 0.98,-0.2 C1.0,0.2 0.75,0.55 0.45,0.75 C0.15,0.95 -0.2,1.02 -0.45,1.0 C-0.8,0.97 -1.0,0.75 -0.98,0.42 C-0.96,0.15 -0.88,0.0 -0.8,-0.17 C-0.72,-0.35 -0.7,-0.42 -0.63,-0.55 C-0.5,-0.62 -0.3,-0.95 0.19,-0.98 Z" fill="#cdcdcb" stroke="#000" stroke-width="2.2" vector-effect="non-scaling-stroke" stroke-linejoin="round"/><ellipse cx="0.45" cy="-0.12" rx="0.3" ry="0.36" transform="rotate(-25 0.45 -0.12)" fill="#d3d1cb" stroke="#000" stroke-width="1.32" vector-effect="non-scaling-stroke"/></g>
<g transform="translate(2253.8,1006.4) rotate(0) scale(26.50,13.50)"><path d="M-0.76,-0.74 C-0.5,-0.9 -0.2,-0.97 0.08,-0.97 C0.35,-0.98 0.6,-0.92 0.75,-0.76 C0.9,-0.6 1.0,-0.35 0.99,-0.12 C0.98,0.15 0.95,0.35 0.85,0.41 C0.65,0.52 0.45,0.48 0.24,0.59 C0.05,0.7 0.0,0.9 -0.16,0.97 C-0.35,1.03 -0.6,1.02 -0.76,0.94 C-0.95,0.8 -1.0,0.3 -0.98,0.0 C-0.97,-0.3 -0.92,-0.6 -0.76,-0.74 Z" fill="#cdcdcb" stroke="#000" stroke-width="2.2" vector-effect="non-scaling-stroke" stroke-linejoin="round"/><ellipse cx="0.4" cy="-0.2" rx="0.33" ry="0.3" transform="rotate(-5 0.4 -0.2)" fill="#d3d1cb" stroke="#000" stroke-width="1.32" vector-effect="non-scaling-stroke"/></g>
<circle cx="2357.7" cy="1063.9" r="2.5" fill="#000" />
<circle cx="2352.1" cy="1080.6" r="2.5" fill="#000" />
<circle cx="2339.9" cy="1093.1" r="2.5" fill="#000" />
<circle cx="2323.4" cy="1099.1" r="2.5" fill="#000" />
<circle cx="2305.9" cy="1097.3" r="2.5" fill="#000" />
<circle cx="2291.0" cy="1088.2" r="2.5" fill="#000" />
<circle cx="2281.5" cy="1073.5" r="2.5" fill="#000" />
<circle cx="2279.3" cy="1056.1" r="2.5" fill="#000" />
<circle cx="2284.9" cy="1039.4" r="2.5" fill="#000" />
<circle cx="2297.1" cy="1026.9" r="2.5" fill="#000" />
<circle cx="2313.6" cy="1020.9" r="2.5" fill="#000" />
<circle cx="2331.1" cy="1022.7" r="2.5" fill="#000" />
<circle cx="2346.0" cy="1031.8" r="2.5" fill="#000" />
<circle cx="2355.5" cy="1046.5" r="2.5" fill="#000" />
<text x="2020.2" y="912.5" font-family='"Liberation Sans", sans-serif' font-size="28.95" font-weight="normal" font-style="normal" fill="#000" text-anchor="start" textLength="105.8" lengthAdjust="spacingAndGlyphs" >observed</text>
<text x="1873.8" y="952.0" font-family='"Liberation Sans", sans-serif' font-size="28.95" font-weight="normal" font-style="normal" fill="#000" text-anchor="start" textLength="111.5" lengthAdjust="spacingAndGlyphs" >predicted</text>
<g transform="translate(1879.4,1270.5) rotate(0) scale(29.50,17.00)"><path d="M0.2,-0.98 C0.6,-1.0 0.98,-0.8 0.99,-0.44 C1.0,-0.1 0.9,0.2 0.67,0.44 C0.4,0.7 -0.1,0.98 -0.47,1.0 C-0.8,1.02 -1.0,0.85 -0.97,0.55 C-0.95,0.25 -0.92,0.0 -0.8,-0.22 C-0.68,-0.5 -0.55,-0.75 -0.33,-0.83 C-0.1,-0.92 0.0,-0.97 0.2,-0.98 Z" fill="#c9d8ea" stroke="#000" stroke-width="2.4" vector-effect="non-scaling-stroke" stroke-linejoin="round" stroke-dasharray="6.2 3.8"/><ellipse cx="-0.17" cy="0.22" rx="0.36" ry="0.3" transform="rotate(-15 -0.17 0.22)" fill="#a9bfdd" stroke="#000" stroke-width="1.44" vector-effect="non-scaling-stroke"/></g>
<g transform="translate(1856.0,1328.4) rotate(4) scale(41.50,19.00)"><path d="M0.09,-0.99 C0.4,-1.0 0.65,-0.85 0.8,-0.65 C0.92,-0.5 1.0,-0.2 1.0,0.05 C1.0,0.4 0.85,0.72 0.56,0.83 C0.3,0.92 0.15,0.72 -0.05,0.75 C-0.3,0.8 -0.4,1.0 -0.65,1.0 C-0.9,1.0 -1.02,0.75 -0.99,0.45 C-0.96,0.15 -0.92,-0.15 -0.79,-0.35 C-0.68,-0.55 -0.55,-0.75 -0.37,-0.85 C-0.2,-0.95 -0.05,-0.98 0.09,-0.99 Z" fill="#c9d8ea" stroke="#000" stroke-width="2.4" vector-effect="non-scaling-stroke" stroke-linejoin="round" stroke-dasharray="6.2 3.8"/><ellipse cx="-0.44" cy="0.1" rx="0.28" ry="0.4" transform="rotate(-20 -0.44 0.1)" fill="#a9bfdd" stroke="#000" stroke-width="1.44" vector-effect="non-scaling-stroke"/></g>
<rect x="1225.3" y="1109.6" width="328.6" height="170.7" fill="#f8d9da" rx="12" />
<rect x="1450.7" y="1202.3" width="314.1" height="171.1" rx="12" fill="#27406f" fill-opacity="0.25"/>
<text x="1352.7" y="1081.4" font-family='"Liberation Sans", sans-serif' font-size="28.95" font-weight="normal" font-style="normal" fill="#000" text-anchor="start" textLength="267.2" lengthAdjust="spacingAndGlyphs" word-spacing="3.9" >balanced Monge map</text>
<text x="1618.4" y="1162.1" font-family='"Liberation Sans", sans-serif' font-size="28.95" font-weight="normal" font-style="normal" fill="#000" text-anchor="start" textLength="141.1" lengthAdjust="spacingAndGlyphs" >reweighting</text>
<text x="1227.1" y="1343.4" font-family='"Liberation Sans", sans-serif' font-size="28.95" font-weight="normal" font-style="normal" fill="#000" text-anchor="start" textLength="140.8" lengthAdjust="spacingAndGlyphs" >reweighting</text>
<g transform="translate(1249.7,1162.1) scale(1.0969,1)"><text x="0.0" y="0.0" font-family='"Liberation Serif", serif' font-size="62" font-weight="normal" font-style="italic" fill="#e06062" text-anchor="start" >γ</text><text x="24.4" y="10.5" font-family='"Liberation Serif", serif' font-size="43.4" font-weight="normal" font-style="normal" fill="#e06062" text-anchor="start" >1</text></g>
<g transform="translate(1692.0,1350.9) scale(1.1381,1)"><text x="0.0" y="0.0" font-family='"Liberation Serif", serif' font-size="62" font-weight="normal" font-style="italic" fill="#27406f" text-anchor="start" >γ</text><text x="24.4" y="10.5" font-family='"Liberation Serif", serif' font-size="43.4" font-weight="normal" font-style="normal" fill="#27406f" text-anchor="start" >2</text></g>
<path d="M1389.6,1210.9 Q1416,1172 1451,1158.3" fill="none" stroke="#000" stroke-width="2.8" />
<path d="M1553.9,1158.3 Q1590,1174 1610,1202" fill="none" stroke="#000" stroke-width="2.8" />
<polygon points="1616.9,1211.5 1604.0,1203.5 1613.8,1196.6" fill="#000"/>
<path d="M1616.9,1272.8 Q1596,1312 1553.9,1331" fill="none" stroke="#000" stroke-width="2.8" />
<path d="M1451,1331 Q1416,1318 1396,1284" fill="none" stroke="#000" stroke-width="2.8" />
<polygon points="1389.6,1273.5 1402.1,1282.2 1391.9,1288.6" fill="#000"/>
<rect x="1451.0" y="1109.0" width="102.6" height="81.2" fill="#e06062" rx="11" stroke="#000" stroke-width="3.2" />
<g transform="translate(1468.0,1169.0) scale(1.0000,1)"><path d="M1.6,-35.6 H41.1 L21.3,0.0 Z M9.6,-32.8 L22.1,-9.9 L37.2,-32.8 Z" fill="#fff" fill-rule="evenodd"/><text x="42.6" y="0.0" font-family='"Liberation Serif", serif' font-size="52" font-weight="normal" font-style="italic" fill="#fff" text-anchor="start" >g</text></g>
<rect x="1451.0" y="1292.3" width="102.6" height="81.2" fill="#27406f" rx="11" stroke="#000" stroke-width="3.2" />
<g transform="translate(1472.2,1352.0) scale(1.0000,1)"><path d="M1.6,-35.6 H41.1 L21.3,0.0 Z M9.6,-32.8 L22.1,-9.9 L37.2,-32.8 Z" fill="#fff" fill-rule="evenodd"/><text x="45.8" y="0.0" font-family='"Liberation Serif", serif' font-size="52" font-weight="normal" font-style="italic" fill="#fff" text-anchor="start" >f</text></g>
<line x1="1178.3" y1="1227.8" x2="1226.0" y2="1227.8" stroke="#000" stroke-width="2.8" />
<line x1="1300.0" y1="1227.8" x2="1343.0" y2="1227.8" stroke="#000" stroke-width="2.8" />
<polygon points="1354.7,1227.8 1340.7,1233.3 1340.7,1222.3" fill="#000"/>
<line x1="1190.0" y1="1260.8" x2="1226.0" y2="1260.8" stroke="#000" stroke-width="2.8" />
<polygon points="1178.3,1260.8 1192.3,1255.3 1192.3,1266.3" fill="#000"/>
<line x1="1300.0" y1="1260.8" x2="1351.0" y2="1260.8" stroke="#000" stroke-width="2.8" />
<rect x="1225.3" y="1201.5" width="75.0" height="81.8" fill="#eeaaac" rx="10" stroke="#000" stroke-width="3.2" />
<g transform="translate(1250.4,1255.0) scale(1.0000,1)"><text x="0.0" y="0.0" font-family='"Liberation Serif", serif' font-size="50" font-weight="normal" font-style="italic" fill="#fff" text-anchor="start" >η</text></g>
<g transform="translate(1138.9,1254.0) scale(1.0916,1)"><text x="0.0" y="0.0" font-family='"Liberation Serif", serif' font-size="48" font-weight="normal" font-style="italic" fill="#000" text-anchor="start" >μ</text></g>
<g transform="translate(1364.0,1254.8) scale(1.0957,1)"><text x="0.0" y="0.0" font-family='"Liberation Serif", serif' font-size="48" font-weight="normal" font-style="italic" fill="#000" text-anchor="start" >μ</text><text x="14.4" y="-17.3" font-family='"Liberation Serif", serif' font-size="34.56" font-weight="normal" font-style="normal" fill="#000" text-anchor="middle" >~</text></g>
<line x1="1644.7" y1="1230.8" x2="1692.0" y2="1230.8" stroke="#000" stroke-width="2.8" />
<line x1="1764.8" y1="1230.8" x2="1809.0" y2="1230.8" stroke="#000" stroke-width="2.8" />
<polygon points="1821.0,1230.8 1807.0,1236.3 1807.0,1225.3" fill="#000"/>
<line x1="1656.0" y1="1263.4" x2="1692.0" y2="1263.4" stroke="#000" stroke-width="2.8" />
<polygon points="1644.7,1263.4 1658.7,1257.9 1658.7,1268.9" fill="#000"/>
<line x1="1764.8" y1="1263.4" x2="1815.8" y2="1263.4" stroke="#000" stroke-width="2.8" />
<rect x="1692.0" y="1201.5" width="72.8" height="81.8" fill="#8f9fbb" rx="10" stroke="#000" stroke-width="3.2" />
<g transform="translate(1717.9,1257.0) scale(1.0000,1)"><text x="0.0" y="0.0" font-family='"Liberation Serif", serif' font-size="52" font-weight="normal" font-style="italic" fill="#fff" text-anchor="start" >ζ</text></g>
<g transform="translate(1608.3,1254.8) scale(1.1310,1)"><text x="0.0" y="0.0" font-family='"Liberation Serif", serif' font-size="50" font-weight="normal" font-style="italic" fill="#000" text-anchor="start" >ν</text><text x="13.6" y="-18.0" font-family='"Liberation Serif", serif' font-size="36.0" font-weight="normal" font-style="normal" fill="#000" text-anchor="middle" >~</text></g>
<g transform="translate(1831.6,1254.0) scale(1.0995,1)"><text x="0.0" y="0.0" font-family='"Liberation Serif", serif' font-size="50" font-weight="normal" font-style="italic" fill="#000" text-anchor="start" >ν</text></g>
<rect x="2094.5" y="1106.6" width="132.1" height="147.4" fill="#e9edf3" />
<rect x="2097.0" y="1110.7" width="25.3" height="23.7" fill="#b9bfcf" />
<rect x="2197.7" y="1110.7" width="25.3" height="23.7" fill="#b9bfcf" />
<rect x="2147.0" y="1135.0" width="25.3" height="23.7" fill="#b9bfcf" />
<rect x="2197.7" y="1159.0" width="25.3" height="23.7" fill="#b9bfcf" />
<rect x="2122.6" y="1182.7" width="25.3" height="23.7" fill="#b9bfcf" />
<rect x="2172.9" y="1228.5" width="25.3" height="23.7" fill="#b9bfcf" />
<line x1="2094.5" y1="1254.0" x2="2226.6" y2="1254.0" stroke="#5a5a5a" stroke-width="3.6" />
<rect x="2094.5" y="1106.6" width="132.1" height="213.1" fill="none" stroke="#000" stroke-width="3.6" />
<line x1="2094.5" y1="1123.8" x2="2258.0" y2="1123.8" stroke="#000" stroke-width="3.4" />
<polygon points="2272.0,1123.8 2255.0,1131.8 2255.0,1115.8" fill="#000"/>
<line x1="2094.5" y1="1170.7" x2="2258.0" y2="1170.7" stroke="#000" stroke-width="3.4" />
<polygon points="2272.0,1170.7 2255.0,1178.7 2255.0,1162.7" fill="#000"/>
<line x1="2094.5" y1="1270.9" x2="2258.0" y2="1270.9" stroke="#000" stroke-width="3.4" />
<polygon points="2272.0,1270.9 2255.0,1278.9 2255.0,1262.9" fill="#000"/>
<g transform="translate(2155.3,1207.0) scale(1.0000,1)"><text x="0.0" y="0.0" font-family='"Liberation Serif", serif' font-size="40" font-weight="normal" font-style="normal" fill="#000" text-anchor="start" >Γ</text></g>
<g transform="translate(2284.7,1135.8) scale(1.0231,1)"><text x="0.0" y="0.0" font-family='"Liberation Serif", serif' font-size="40" font-weight="normal" font-style="italic" fill="#000" text-anchor="start" >w</text><text x="36.7" y="0.0" font-family='"Liberation Serif", serif' font-size="40" font-weight="normal" font-style="normal" fill="#000" text-anchor="start" >=</text><text x="69.2" y="0.0" font-family='"Liberation Serif", serif' font-size="40" font-weight="normal" font-style="normal" fill="#000" text-anchor="start" >2</text></g>
<g transform="translate(2284.7,1182.0) scale(1.0231,1)"><text x="0.0" y="0.0" font-family='"Liberation Serif", serif' font-size="40" font-weight="normal" font-style="italic" fill="#000" text-anchor="start" >w</text><text x="36.7" y="0.0" font-family='"Liberation Serif", serif' font-size="40" font-weight="normal" font-style="normal" fill="#000" text-anchor="start" >=</text><text x="69.2" y="0.0" font-family='"Liberation Serif", serif' font-size="40" font-weight="normal" font-style="normal" fill="#000" text-anchor="start" >1</text></g>
<g transform="translate(2284.7,1283.0) scale(1.0231,1)"><text x="0.0" y="0.0" font-family='"Liberation Serif", serif' font-size="40" font-weight="normal" font-style="italic" fill="#000" text-anchor="start" >w</text><text x="36.7" y="0.0" font-family='"Liberation Serif", serif' font-size="40" font-weight="normal" font-style="normal" fill="#000" text-anchor="start" >=</text><text x="69.2" y="0.0" font-family='"Liberation Serif", serif' font-size="40" font-weight="normal" font-style="normal" fill="#000" text-anchor="start" >0</text></g>
<path d="M2281,1372.3 H2162 V1338" fill="none" stroke="#000" stroke-width="4.6" />
<polygon points="2162.0,1321.5 2171.5,1340.5 2152.5,1340.5" fill="#000"/>
<rect x="2427.4" y="1163.4" width="170.4" height="106.0" fill="#e9edf3" rx="13" />
<text x="2455.0" y="1195.8" font-family='"Liberation Sans", sans-serif' font-size="28.95" font-weight="normal" font-style="normal" fill="#000" text-anchor="start" textLength="113.3" lengthAdjust="spacingAndGlyphs" >predicted</text>
<g transform="translate(2432.3,1244.9) scale(1.0354,1)"><text x="0.0" y="0.0" font-family='"Liberation Serif", serif' font-size="40" font-weight="normal" font-style="italic" fill="#000" text-anchor="start" >y</text><path d="M5.7,-21.6 L11.7,-26.8 L17.7,-21.6" fill="none" stroke="#000" stroke-width="1.7999999999999998" /><text x="26.6" y="0.0" font-family='"Liberation Serif", serif' font-size="40" font-weight="normal" font-style="normal" fill="#000" text-anchor="start" >=</text><path d="M59.1,-27.4 H89.5 L74.3,0.0 Z M65.3,-25.2 L74.9,-7.6 L86.5,-25.2 Z" fill="#000" fill-rule="evenodd"/><text x="90.7" y="0.0" font-family='"Liberation Serif", serif' font-size="40" font-weight="normal" font-style="italic" fill="#000" text-anchor="start" >g</text><text x="110.7" y="0.0" font-family='"Liberation Serif", serif' font-size="40" font-weight="normal" font-style="normal" fill="#000" text-anchor="start" >(</text><text x="124.0" y="0.0" font-family='"Liberation Serif", serif' font-size="40" font-weight="normal" font-style="italic" fill="#000" text-anchor="start" >x</text><text x="141.8" y="0.0" font-family='"Liberation Serif", serif' font-size="40" font-weight="normal" font-style="normal" fill="#000" text-anchor="start" >)</text></g>
<rect x="2660.3" y="1186.7" width="121.3" height="82.7" fill="#e9edf3" rx="13" />
<text x="2666.4" y="1218.5" font-family='"Liberation Sans", sans-serif' font-size="28.95" font-weight="normal" font-style="normal" fill="#000" text-anchor="start" textLength="108.5" lengthAdjust="spacingAndGlyphs" >observed</text>
<g transform="translate(2710.5,1251.0) scale(1.0000,1)"><text x="0.0" y="0.0" font-family='"Liberation Serif", serif' font-size="40" font-weight="normal" font-style="italic" fill="#000" text-anchor="start" >y</text></g>
<line x1="2518.1" y1="1269.4" x2="2606.0" y2="1323.7" stroke="#000" stroke-width="2.8" />
<polygon points="2617.4,1330.7 2601.5,1327.9 2607.8,1317.7" fill="#000"/>
<line x1="2712.4" y1="1269.4" x2="2661.0" y2="1322.5" stroke="#000" stroke-width="2.8" />
<polygon points="2652.9,1330.7 2659.0,1315.7 2667.6,1324.1" fill="#000"/>
<rect x="2280.3" y="1310.5" width="525.8" height="125.6" fill="none" rx="16" stroke="#000" stroke-width="3.3" />
<g transform="translate(2409.0,1363.8) scale(1.0207,1)"><text x="0.0" y="0.0" font-family='"Liberation Serif", serif' font-size="40" font-weight="normal" font-style="normal" fill="#000" text-anchor="start" >Γ</text><line x1="32.1" y1="-9.6" x2="69.1" y2="-9.6" stroke="#000" stroke-width="2.08" /><path d="M38.8,-16.3 Q34.5,-10.9 31.1,-9.6 Q34.5,-8.3 38.8,-2.9" fill="none" stroke="#000" stroke-width="2.08" stroke-linecap="round"/><text x="77.1" y="0.0" font-family='"Liberation Serif", serif' font-size="40" font-weight="normal" font-style="normal" fill="#000" text-anchor="start" >UBOT(</text><text x="199.3" y="0.0" font-family='"Liberation Serif", serif' font-size="40" font-weight="normal" font-style="italic" fill="#000" text-anchor="start" >ν</text><path d="M205.0,-21.6 L211.0,-26.8 L217.0,-21.6" fill="none" stroke="#000" stroke-width="1.7999999999999998" /><text x="217.1" y="0.0" font-family='"Liberation Serif", serif' font-size="40" font-weight="normal" font-style="normal" fill="#000" text-anchor="start" >,</text><text x="231.9" y="0.0" font-family='"Liberation Serif", serif' font-size="40" font-weight="normal" font-style="italic" fill="#000" text-anchor="start" >ν</text><text x="249.6" y="0.0" font-family='"Liberation Serif", serif' font-size="40" font-weight="normal" font-style="normal" fill="#000" text-anchor="start" >)</text></g>
<text x="2298.7" y="1408.5" font-family='"Liberation Sans", sans-serif' font-size="28.95" font-weight="normal" font-style="normal" fill="#000" text-anchor="start" textLength="473.1" lengthAdjust="spacingAndGlyphs" word-spacing="3.9" >discrete unbalanced optimal transport</text>
<rect x="2551.8" y="914.0" width="47.2" height="50.2" fill="#eeaaac" rx="9" />
<rect x="2602.0" y="914.0" width="47.2" height="50.2" fill="#8d93ad" rx="9" />
<rect x="2867.4" y="914.0" width="196.1" height="50.2" fill="#eeaaac" rx="9" />
<rect x="3069.7" y="914.0" width="194.3" height="50.2" fill="#8d93ad" rx="9" />
<g transform="translate(2363.0,945.8) scale(1.1633,1)"><text x="0.0" y="0.0" font-family='"Liberation Serif", serif' font-size="30" font-weight="normal" font-style="normal" fill="#000" text-anchor="start" >Γ</text><text x="17.3" y="5.1" font-family='"Liberation Serif", serif' font-size="12.6" font-weight="normal" font-style="normal" fill="#000" text-anchor="start" >II</text><text x="28.1" y="0.0" font-family='"Liberation Serif", serif' font-size="30" font-weight="normal" font-style="normal" fill="#000" text-anchor="start" >(</text><text x="38.1" y="0.0" font-family='"Liberation Serif", serif' font-size="30" font-weight="normal" font-style="italic" fill="#000" text-anchor="start" >μ</text><text x="53.2" y="0.0" font-family='"Liberation Serif", serif' font-size="30" font-weight="normal" font-style="normal" fill="#000" text-anchor="start" >,</text><text x="63.7" y="0.0" font-family='"Liberation Serif", serif' font-size="30" font-weight="normal" font-style="italic" fill="#000" text-anchor="start" >ν</text><text x="77.0" y="0.0" font-family='"Liberation Serif", serif' font-size="30" font-weight="normal" font-style="normal" fill="#000" text-anchor="start" >)</text></g>
<text x="2498.8" y="927.5" font-family='"Liberation Serif", serif' font-size="17.5" font-weight="normal" font-style="normal" fill="#000" text-anchor="middle" textLength="33.0" lengthAdjust="spacingAndGlyphs" >def.</text>
<g transform="translate(2484.0,950.5) scale(1.6623,1)"><text x="0.0" y="0.0" font-family='"Liberation Serif", serif' font-size="32" font-weight="normal" font-style="normal" fill="#000" text-anchor="start" >=</text></g>
<g transform="translate(2536.0,947.0) scale(1.0000,1)"><text x="0.0" y="2.9" font-family='"Liberation Serif", serif' font-size="48.0" font-weight="normal" font-style="normal" fill="#000" text-anchor="start" >{</text></g>
<g transform="translate(2556.0,945.8) scale(1.0928,1)"><text x="0.0" y="0.0" font-family='"Liberation Serif", serif' font-size="30" font-weight="normal" font-style="normal" fill="#000" text-anchor="start" >(</text><text x="10.0" y="0.0" font-family='"Liberation Serif", serif' font-size="30" font-weight="normal" font-style="italic" fill="#000" text-anchor="start" >γ</text><text x="21.8" y="5.1" font-family='"Liberation Serif", serif' font-size="21.0" font-weight="normal" font-style="normal" fill="#000" text-anchor="start" >1</text><text x="32.3" y="0.0" font-family='"Liberation Serif", serif' font-size="30" font-weight="normal" font-style="normal" fill="#000" text-anchor="start" >,</text><text x="48.2" y="0.0" font-family='"Liberation Serif", serif' font-size="30" font-weight="normal" font-style="italic" fill="#000" text-anchor="start" >γ</text><text x="60.0" y="5.1" font-family='"Liberation Serif", serif' font-size="21.0" font-weight="normal" font-style="normal" fill="#000" text-anchor="start" >2</text><text x="70.5" y="0.0" font-family='"Liberation Serif", serif' font-size="30" font-weight="normal" font-style="normal" fill="#000" text-anchor="start" >)</text></g>
<path d="M2671.0,930.8 H2663.5 A7.5,7.5 0 0 0 2663.5,945.8 H2671.0 M2656.0,938.3 H2671.0" fill="none" stroke="#000" stroke-width="1.65"/>
<g transform="translate(2680.0,945.8) scale(1.2666,1)"><text x="0.0" y="0.0" font-family='"Liberation Serif", serif' font-size="36.0" font-weight="normal" font-style="normal" fill="#000" text-anchor="start" >(</text><text x="12.0" y="0.0" font-family='"Liberation Serif", serif' font-size="30" font-weight="normal" font-style="italic" fill="#000" text-anchor="start" >M</text><text x="37.0" y="5.1" font-family='"Liberation Serif", serif' font-size="21.0" font-weight="normal" font-style="normal" fill="#000" text-anchor="start" >+</text><text x="51.8" y="0.0" font-family='"Liberation Serif", serif' font-size="30" font-weight="normal" font-style="normal" fill="#000" text-anchor="start" >(</text><text x="61.8" y="0.0" font-family='"Liberation Serif", serif' font-size="30" font-weight="normal" font-style="italic" fill="#000" text-anchor="start" >X</text><text x="80.1" y="-12.0" font-family='"Liberation Serif", serif' font-size="21.0" font-weight="normal" font-style="normal" fill="#000" text-anchor="start" >2</text><text x="90.6" y="0.0" font-family='"Liberation Serif", serif' font-size="30" font-weight="normal" font-style="normal" fill="#000" text-anchor="start" >)</text><text x="100.6" y="0.0" font-family='"Liberation Serif", serif' font-size="36.0" font-weight="normal" font-style="normal" fill="#000" text-anchor="start" >)</text><text x="112.6" y="-12.0" font-family='"Liberation Serif", serif' font-size="21.0" font-weight="normal" font-style="normal" fill="#000" text-anchor="start" >2</text><text x="130.6" y="0.0" font-family='"Liberation Serif", serif' font-size="30" font-weight="normal" font-style="normal" fill="#000" text-anchor="start" >:</text></g>
<g transform="translate(2871.0,945.8) scale(1.1224,1)"><text x="0.0" y="0.0" font-family='"Liberation Serif", serif' font-size="30" font-weight="normal" font-style="normal" fill="#000" text-anchor="start" >(Proj</text><text x="60.0" y="5.1" font-family='"Liberation Serif", serif' font-size="21.0" font-weight="normal" font-style="normal" fill="#000" text-anchor="start" >1</text><text x="70.5" y="0.0" font-family='"Liberation Serif", serif' font-size="30" font-weight="normal" font-style="normal" fill="#000" text-anchor="start" >)</text><text x="80.5" y="5.1" font-family='"Liberation Serif", serif' font-size="21.0" font-weight="normal" font-style="normal" fill="#000" text-anchor="start" >♯</text><text x="94.6" y="0.0" font-family='"Liberation Serif", serif' font-size="30" font-weight="normal" font-style="italic" fill="#000" text-anchor="start" >γ</text><text x="106.4" y="5.1" font-family='"Liberation Serif", serif' font-size="21.0" font-weight="normal" font-style="normal" fill="#000" text-anchor="start" >1</text><text x="122.9" y="0.0" font-family='"Liberation Serif", serif' font-size="30" font-weight="normal" font-style="normal" fill="#000" text-anchor="start" >=</text><text x="145.8" y="0.0" font-family='"Liberation Serif", serif' font-size="30" font-weight="normal" font-style="italic" fill="#000" text-anchor="start" >μ</text><text x="160.9" y="0.0" font-family='"Liberation Serif", serif' font-size="30" font-weight="normal" font-style="normal" fill="#000" text-anchor="start" >,</text></g>
<g transform="translate(3073.0,945.8) scale(1.1750,1)"><text x="0.0" y="0.0" font-family='"Liberation Serif", serif' font-size="30" font-weight="normal" font-style="normal" fill="#000" text-anchor="start" >(Proj</text><text x="60.0" y="5.1" font-family='"Liberation Serif", serif' font-size="21.0" font-weight="normal" font-style="normal" fill="#000" text-anchor="start" >2</text><text x="70.5" y="0.0" font-family='"Liberation Serif", serif' font-size="30" font-weight="normal" font-style="normal" fill="#000" text-anchor="start" >)</text><text x="80.5" y="5.1" font-family='"Liberation Serif", serif' font-size="21.0" font-weight="normal" font-style="normal" fill="#000" text-anchor="start" >♯</text><text x="94.6" y="0.0" font-family='"Liberation Serif", serif' font-size="30" font-weight="normal" font-style="italic" fill="#000" text-anchor="start" >γ</text><text x="106.4" y="5.1" font-family='"Liberation Serif", serif' font-size="21.0" font-weight="normal" font-style="normal" fill="#000" text-anchor="start" >2</text><text x="122.9" y="0.0" font-family='"Liberation Serif", serif' font-size="30" font-weight="normal" font-style="normal" fill="#000" text-anchor="start" >=</text><text x="145.8" y="0.0" font-family='"Liberation Serif", serif' font-size="30" font-weight="normal" font-style="italic" fill="#000" text-anchor="start" >ν</text></g>
<g transform="translate(3262.0,947.0) scale(1.0000,1)"><text x="0.0" y="2.9" font-family='"Liberation Serif", serif' font-size="48.0" font-weight="normal" font-style="normal" fill="#000" text-anchor="start" >}</text></g>
<text x="2538.9" y="1022.4" font-family='"Liberation Sans", sans-serif' font-size="28.95" font-weight="normal" font-style="normal" fill="#000" text-anchor="start" textLength="682.1" lengthAdjust="spacingAndGlyphs" word-spacing="3.9" >.. describe how much mass is transported between any</text>
<text x="2568.3" y="1064.1" font-family='"Liberation Sans", sans-serif' font-size="28.95" font-weight="normal" font-style="normal" fill="#000" text-anchor="start" textLength="45.0" lengthAdjust="spacingAndGlyphs" >pair</text>
<g transform="translate(2628.0,1064.1) scale(1.1423,1)"><text x="0.0" y="0.0" font-family='"Liberation Serif", serif' font-size="36" font-weight="normal" font-style="italic" fill="#000" text-anchor="start" >x</text><text x="16.0" y="0.0" font-family='"Liberation Serif", serif' font-size="36" font-weight="normal" font-style="normal" fill="#000" text-anchor="start" >,</text><text x="29.3" y="0.0" font-family='"Liberation Serif", serif' font-size="36" font-weight="normal" font-style="italic" fill="#000" text-anchor="start" >y</text></g>
<path d="M2714.0,1046.1 H2705.0 A9.0,9.0 0 0 0 2705.0,1064.1 H2714.0 M2696.0,1055.1 H2714.0" fill="none" stroke="#000" stroke-width="1.98"/>
<g transform="translate(2725.0,1064.1) scale(1.2924,1)"><text x="0.0" y="0.0" font-family='"Liberation Serif", serif' font-size="38" font-weight="normal" font-style="italic" fill="#000" text-anchor="start" >X</text></g>
<text x="2757.0" y="1064.1" font-family='"Liberation Sans", sans-serif' font-size="28.95" font-weight="normal" font-style="normal" fill="#000" text-anchor="start" textLength="464.0" lengthAdjust="spacingAndGlyphs" word-spacing="3.9" >, while allowing for variation of mass.</text>
<text x="2856.4" y="1149.3" font-family='"Liberation Sans", sans-serif' font-size="28.95" font-weight="normal" font-style="normal" fill="#000" text-anchor="start" textLength="402.6" lengthAdjust="spacingAndGlyphs" word-spacing="3.9" >.. to predict out-of-sample, train</text>
<text x="2885.2" y="1191.0" font-family='"Liberation Sans", sans-serif' font-size="28.95" font-weight="normal" font-style="normal" fill="#000" text-anchor="start" textLength="299.1" lengthAdjust="spacingAndGlyphs" word-spacing="3.9" >continuous version <tspan font-style="italic" font-family='"Liberation Serif", serif' font-size="34">η</tspan> via</text>
<rect x="2841.1" y="1216.7" width="439.4" height="220.6" fill="none" rx="16" stroke="#000" stroke-width="3.3" />
<g transform="translate(2933.0,1310.5) scale(1.1015,1)"><text x="0.0" y="0.0" font-family='"Liberation Serif", serif' font-size="40" font-weight="normal" font-style="italic" fill="#000" text-anchor="start" >e</text><text x="17.8" y="6.8" font-family='"Liberation Serif", serif' font-size="28.0" font-weight="normal" font-style="italic" fill="#000" text-anchor="start" >i</text><line x1="36.5" y1="-9.6" x2="73.5" y2="-9.6" stroke="#000" stroke-width="2.08" /><path d="M43.2,-16.3 Q38.9,-10.9 35.5,-9.6 Q38.9,-8.3 43.2,-2.9" fill="none" stroke="#000" stroke-width="2.08" stroke-linecap="round"/></g>
<g transform="translate(3024.9,1285.9) scale(1.4512,1)"><text x="0.0" y="0.0" font-family='"Liberation Serif", serif' font-size="36" font-weight="normal" font-style="normal" fill="#000" text-anchor="start" >∑</text><text x="25.7" y="6.1" font-family='"Liberation Serif", serif' font-size="25.2" font-weight="normal" font-style="italic" fill="#000" text-anchor="start" >j</text><text x="37.0" y="0.0" font-family='"Liberation Serif", serif' font-size="36" font-weight="normal" font-style="normal" fill="#000" text-anchor="start" >Γ</text><text x="57.8" y="6.1" font-family='"Liberation Serif", serif' font-size="25.2" font-weight="normal" font-style="italic" fill="#000" text-anchor="start" >ij</text></g>
<line x1="3021.9" y1="1300.0" x2="3137.1" y2="1300.0" stroke="#000" stroke-width="2" />
<g transform="translate(3021.9,1335.0) scale(1.4391,1)"><text x="0.0" y="0.0" font-family='"Liberation Serif", serif' font-size="36" font-weight="normal" font-style="normal" fill="#000" text-anchor="start" >∑</text><text x="25.7" y="6.1" font-family='"Liberation Serif", serif' font-size="25.2" font-weight="normal" font-style="italic" fill="#000" text-anchor="start" >ij</text><text x="44.0" y="0.0" font-family='"Liberation Serif", serif' font-size="36" font-weight="normal" font-style="normal" fill="#000" text-anchor="start" >Γ</text><text x="64.8" y="6.1" font-family='"Liberation Serif", serif' font-size="25.2" font-weight="normal" font-style="italic" fill="#000" text-anchor="start" >ij</text></g>
<g transform="translate(3147.5,1310.5) scale(0.9632,1)"><text x="0.0" y="0.0" font-family='"Liberation Serif", serif' font-size="40" font-weight="normal" font-style="normal" fill="#000" text-anchor="start" >·</text><text x="21.3" y="0.0" font-family='"Liberation Serif", serif' font-size="40" font-weight="normal" font-style="italic" fill="#000" text-anchor="start" >n</text></g>
<g transform="translate(2865.6,1402.4) scale(1.0199,1)"><text x="0.0" y="0.0" font-family='"Liberation Serif", serif' font-size="40" font-weight="normal" font-style="normal" fill="#000" text-anchor="start" >loss</text><text x="62.2" y="6.8" font-family='"Liberation Serif", serif' font-size="28.0" font-weight="normal" font-style="italic" fill="#000" text-anchor="start" >η</text><text x="80.9" y="0.0" font-family='"Liberation Serif", serif' font-size="40" font-weight="normal" font-style="normal" fill="#000" text-anchor="start" >(</text><text x="94.3" y="0.0" font-family='"Liberation Serif", serif' font-size="40" font-weight="normal" font-style="italic" fill="#000" text-anchor="start" >θ</text><text x="113.9" y="6.8" font-family='"Liberation Serif", serif' font-size="28.0" font-weight="normal" font-style="italic" fill="#000" text-anchor="start" >η</text><text x="127.8" y="0.0" font-family='"Liberation Serif", serif' font-size="40" font-weight="normal" font-style="normal" fill="#000" text-anchor="start" >)</text><text x="149.1" y="0.0" font-family='"Liberation Serif", serif' font-size="40" font-weight="normal" font-style="normal" fill="#000" text-anchor="start" >=</text><text x="179.7" y="0.0" font-family='"Liberation Serif", serif' font-size="40" font-weight="normal" font-style="normal" fill="#000" text-anchor="start" >MSE(</text><text x="275.2" y="0.0" font-family='"Liberation Serif", serif' font-size="40" font-weight="bold" font-style="normal" fill="#000" text-anchor="start" >e</text><text x="293.0" y="0.0" font-family='"Liberation Serif", serif' font-size="40" font-weight="normal" font-style="normal" fill="#000" text-anchor="start" >,</text><text x="307.0" y="0.0" font-family='"Liberation Serif", serif' font-size="40" font-weight="normal" font-style="italic" fill="#000" text-anchor="start" >η</text><text x="326.8" y="0.0" font-family='"Liberation Serif", serif' font-size="40" font-weight="normal" font-style="normal" fill="#000" text-anchor="start" >(</text><text x="340.2" y="0.0" font-family='"Liberation Serif", serif' font-size="40" font-weight="normal" font-style="italic" fill="#000" text-anchor="start" >x</text><text x="357.9" y="0.0" font-family='"Liberation Serif", serif' font-size="40" font-weight="normal" font-style="normal" fill="#000" text-anchor="start" >))</text></g>
<text x="1387.6" y="1545.6" font-family='"Liberation Sans", sans-serif' font-size="34.74" font-weight="bold" font-style="normal" fill="#000" text-anchor="start" textLength="169.9" lengthAdjust="spacingAndGlyphs" >Evaluation</text>
<text x="1421.9" y="1600.5" font-family='"Liberation Sans", sans-serif' font-size="28.95" font-weight="normal" font-style="normal" fill="#000" text-anchor="start" textLength="552.4" lengthAdjust="spacingAndGlyphs" word-spacing="3.9" >Observed changes in cell counts per cell line</text>
<text x="1451.7" y="1644.6" font-family='"Liberation Sans", sans-serif' font-size="28.95" font-weight="normal" font-style="normal" fill="#000" text-anchor="start" textLength="770.3" lengthAdjust="spacingAndGlyphs" word-spacing="3.9" >.. give insights into treatment-induced death and proliferation</text>
<text x="1451.7" y="1689.0" font-family='"Liberation Sans", sans-serif' font-size="28.95" font-weight="normal" font-style="normal" fill="#000" text-anchor="start" textLength="680.7" lengthAdjust="spacingAndGlyphs" word-spacing="3.9" >.. and provide an assessment of the weights learned by</text>
<text x="2143.2" y="1689.0" font-family='"Liberation Serif", serif' font-size="32" font-weight="normal" font-style="normal" fill="#000" text-anchor="start" textLength="105.8" lengthAdjust="spacingAndGlyphs" >N<tspan font-size="25">UB</tspan>OT</text>
<text x="1423.2" y="1739.8" font-family='"Liberation Serif", serif' font-size="27" font-weight="bold" font-style="normal" fill="#000" text-anchor="start" textLength="34.3" lengthAdjust="spacingAndGlyphs" >8 h</text>
<rect x="1466.0" y="1772.5" width="16.8" height="7.3" fill="#a9b8cb" />
<rect x="1487.5" y="1779.8" width="16.8" height="35.6" fill="#a9b8cb" />
<rect x="1509.1" y="1768.7" width="16.8" height="11.1" fill="#a9b8cb" />
<rect x="1530.7" y="1779.8" width="16.8" height="3.8" fill="#a9b8cb" />
<rect x="1552.2" y="1779.8" width="16.8" height="2.2" fill="#a9b8cb" />
<rect x="1573.8" y="1774.4" width="16.8" height="5.4" fill="#a9b8cb" />
<rect x="1595.3" y="1765.5" width="16.8" height="14.3" fill="#a9b8cb" />
<rect x="1616.8" y="1779.8" width="16.8" height="14.3" fill="#a9b8cb" />
<rect x="1638.4" y="1779.3" width="16.8" height="1.0" fill="#a9b8cb" opacity="0.5"/>
<rect x="1660.0" y="1762.0" width="16.8" height="17.8" fill="#a9b8cb" />
<rect x="1681.5" y="1777.9" width="16.8" height="1.9" fill="#a9b8cb" />
<rect x="1703.0" y="1779.8" width="16.8" height="2.2" fill="#a9b8cb" />
<rect x="1724.6" y="1779.8" width="16.8" height="1.0" fill="#a9b8cb" />
<rect x="1746.2" y="1779.8" width="16.8" height="12.7" fill="#a9b8cb" />
<rect x="1767.7" y="1779.8" width="16.8" height="4.1" fill="#a9b8cb" />
<rect x="1789.2" y="1772.5" width="16.8" height="7.3" fill="#a9b8cb" />
<rect x="1810.8" y="1775.0" width="16.8" height="4.8" fill="#a9b8cb" />
<rect x="1832.3" y="1779.8" width="16.8" height="14.9" fill="#a9b8cb" />
<rect x="1853.9" y="1779.8" width="16.8" height="9.2" fill="#a9b8cb" />
<rect x="1875.5" y="1758.8" width="16.8" height="21.0" fill="#a9b8cb" />
<rect x="1897.0" y="1779.8" width="16.8" height="71.4" fill="#a9b8cb" />
<rect x="1918.5" y="1779.8" width="16.8" height="6.0" fill="#a9b8cb" />
<rect x="1940.1" y="1776.6" width="16.8" height="3.2" fill="#a9b8cb" />
<rect x="1961.7" y="1769.3" width="16.8" height="10.5" fill="#a9b8cb" />
<rect x="1983.2" y="1779.8" width="16.8" height="38.4" fill="#a9b8cb" />
<rect x="1463.2" y="1754.1" width="538.7" height="102.6" fill="none" stroke="#222" stroke-width="1.1" />
<line x1="1459.2" y1="1779.8" x2="1463.2" y2="1779.8" stroke="#000" stroke-width="1" />
<text x="1455.2" y="1784.8" font-family='"Liberation Serif", serif' font-size="15.5" font-weight="normal" font-style="normal" fill="#000" text-anchor="end" >0</text>
<line x1="1459.2" y1="1828.7" x2="1463.2" y2="1828.7" stroke="#000" stroke-width="1" />
<text x="1455.2" y="1833.7" font-family='"Liberation Serif", serif' font-size="15.5" font-weight="normal" font-style="normal" fill="#000" text-anchor="end" >−2000</text>
<text x="1734.5" y="1744.0" font-family='"Liberation Serif", serif' font-size="20" font-weight="bold" font-style="normal" fill="#000" text-anchor="middle" textLength="133.0" lengthAdjust="spacingAndGlyphs" >Sox9  Cell Type</text>
<text x="1404.0" y="1805.4" font-family='"Liberation Serif", serif' font-size="20.5" font-weight="bold" font-style="normal" fill="#000" text-anchor="middle" textLength="90.5" lengthAdjust="spacingAndGlyphs" transform="rotate(-90 1404 1805.4)">Cell Count</text>
<rect x="1466.0" y="1911.5" width="16.8" height="10.2" fill="#d4696c" />
<rect x="1487.5" y="1921.7" width="16.8" height="27.0" fill="#d4696c" />
<rect x="1509.1" y="1917.9" width="16.8" height="3.8" fill="#d4696c" />
<rect x="1530.7" y="1921.7" width="16.8" height="2.5" fill="#d4696c" />
<rect x="1552.2" y="1921.7" width="16.8" height="33.0" fill="#d4696c" />
<rect x="1573.8" y="1914.7" width="16.8" height="7.0" fill="#d4696c" />
<rect x="1595.3" y="1907.4" width="16.8" height="14.3" fill="#d4696c" />
<rect x="1616.8" y="1921.2" width="16.8" height="1.0" fill="#d4696c" opacity="0.5"/>
<rect x="1638.4" y="1915.4" width="16.8" height="6.3" fill="#d4696c" />
<rect x="1660.0" y="1921.2" width="16.8" height="1.0" fill="#d4696c" opacity="0.5"/>
<rect x="1681.5" y="1912.8" width="16.8" height="8.9" fill="#d4696c" />
<rect x="1703.0" y="1921.2" width="16.8" height="1.0" fill="#d4696c" opacity="0.5"/>
<rect x="1724.6" y="1921.2" width="16.8" height="1.0" fill="#d4696c" opacity="0.5"/>
<rect x="1746.2" y="1921.7" width="16.8" height="8.3" fill="#d4696c" />
<rect x="1767.7" y="1921.7" width="16.8" height="9.5" fill="#d4696c" />
<rect x="1789.2" y="1921.7" width="16.8" height="8.9" fill="#d4696c" />
<rect x="1810.8" y="1915.4" width="16.8" height="6.3" fill="#d4696c" />
<rect x="1832.3" y="1921.7" width="16.8" height="9.5" fill="#d4696c" />
<rect x="1853.9" y="1912.8" width="16.8" height="8.9" fill="#d4696c" />
<rect x="1875.5" y="1918.8" width="16.8" height="2.9" fill="#d4696c" />
<rect x="1897.0" y="1921.7" width="16.8" height="66.2" fill="#d4696c" />
<rect x="1918.5" y="1917.9" width="16.8" height="3.8" fill="#d4696c" />
<rect x="1940.1" y="1913.4" width="16.8" height="8.3" fill="#d4696c" />
<rect x="1961.7" y="1895.4" width="16.8" height="26.3" fill="#d4696c" />
<rect x="1983.2" y="1921.7" width="16.8" height="8.6" fill="#d4696c" />
<rect x="1463.2" y="1890.6" width="538.7" height="101.8" fill="none" stroke="#222" stroke-width="1.1" />
<line x1="1459.2" y1="1921.7" x2="1463.2" y2="1921.7" stroke="#000" stroke-width="1" />
<text x="1455.2" y="1926.7" font-family='"Liberation Serif", serif' font-size="15.5" font-weight="normal" font-style="normal" fill="#000" text-anchor="end" >0</text>
<line x1="1459.2" y1="1978.9" x2="1463.2" y2="1978.9" stroke="#000" stroke-width="1" />
<text x="1455.2" y="1983.9" font-family='"Liberation Serif", serif' font-size="15.5" font-weight="normal" font-style="normal" fill="#000" text-anchor="end" >−2000</text>
<line x1="1474.4" y1="1992.4" x2="1474.4" y2="1996.4" stroke="#000" stroke-width="1" />
<line x1="1496.0" y1="1992.4" x2="1496.0" y2="1996.4" stroke="#000" stroke-width="1" />
<line x1="1517.5" y1="1992.4" x2="1517.5" y2="1996.4" stroke="#000" stroke-width="1" />
<line x1="1539.1" y1="1992.4" x2="1539.1" y2="1996.4" stroke="#000" stroke-width="1" />
<line x1="1560.6" y1="1992.4" x2="1560.6" y2="1996.4" stroke="#000" stroke-width="1" />
<line x1="1582.2" y1="1992.4" x2="1582.2" y2="1996.4" stroke="#000" stroke-width="1" />
<line x1="1603.7" y1="1992.4" x2="1603.7" y2="1996.4" stroke="#000" stroke-width="1" />
<line x1="1625.2" y1="1992.4" x2="1625.2" y2="1996.4" stroke="#000" stroke-width="1" />
<line x1="1646.8" y1="1992.4" x2="1646.8" y2="1996.4" stroke="#000" stroke-width="1" />
<line x1="1668.4" y1="1992.4" x2="1668.4" y2="1996.4" stroke="#000" stroke-width="1" />
<line x1="1689.9" y1="1992.4" x2="1689.9" y2="1996.4" stroke="#000" stroke-width="1" />
<line x1="1711.5" y1="1992.4" x2="1711.5" y2="1996.4" stroke="#000" stroke-width="1" />
<line x1="1733.0" y1="1992.4" x2="1733.0" y2="1996.4" stroke="#000" stroke-width="1" />
<line x1="1754.6" y1="1992.4" x2="1754.6" y2="1996.4" stroke="#000" stroke-width="1" />
<line x1="1776.1" y1="1992.4" x2="1776.1" y2="1996.4" stroke="#000" stroke-width="1" />
<line x1="1797.7" y1="1992.4" x2="1797.7" y2="1996.4" stroke="#000" stroke-width="1" />
<line x1="1819.2" y1="1992.4" x2="1819.2" y2="1996.4" stroke="#000" stroke-width="1" />
<line x1="1840.8" y1="1992.4" x2="1840.8" y2="1996.4" stroke="#000" stroke-width="1" />
<line x1="1862.3" y1="1992.4" x2="1862.3" y2="1996.4" stroke="#000" stroke-width="1" />
<line x1="1883.9" y1="1992.4" x2="1883.9" y2="1996.4" stroke="#000" stroke-width="1" />
<line x1="1905.4" y1="1992.4" x2="1905.4" y2="1996.4" stroke="#000" stroke-width="1" />
<line x1="1927.0" y1="1992.4" x2="1927.0" y2="1996.4" stroke="#000" stroke-width="1" />
<line x1="1948.5" y1="1992.4" x2="1948.5" y2="1996.4" stroke="#000" stroke-width="1" />
<line x1="1970.1" y1="1992.4" x2="1970.1" y2="1996.4" stroke="#000" stroke-width="1" />
<line x1="1991.6" y1="1992.4" x2="1991.6" y2="1996.4" stroke="#000" stroke-width="1" />
<text x="1734.5" y="1880.5" font-family='"Liberation Serif", serif' font-size="20" font-weight="bold" font-style="normal" fill="#000" text-anchor="middle" textLength="133.0" lengthAdjust="spacingAndGlyphs" >MelA  Cell Type</text>
<text x="1404.0" y="1941.5" font-family='"Liberation Serif", serif' font-size="20.5" font-weight="bold" font-style="normal" fill="#000" text-anchor="middle" textLength="90.5" lengthAdjust="spacingAndGlyphs" transform="rotate(-90 1404 1941.5)">Cell Count</text>
<text x="1419.4" y="2020.3" font-family='"Liberation Serif", serif' font-size="27" font-weight="bold" font-style="normal" fill="#000" text-anchor="start" textLength="48.2" lengthAdjust="spacingAndGlyphs" >24 h</text>
<rect x="1466.0" y="2055.2" width="16.8" height="3.8" fill="#223a5c" />
<rect x="1487.5" y="2059.0" width="16.8" height="55.0" fill="#223a5c" />
<rect x="1509.1" y="2054.0" width="16.8" height="5.0" fill="#223a5c" />
<rect x="1530.7" y="2058.5" width="16.8" height="1.0" fill="#223a5c" opacity="0.5"/>
<rect x="1552.2" y="2057.1" width="16.8" height="1.9" fill="#223a5c" />
<rect x="1573.8" y="2059.0" width="16.8" height="27.6" fill="#223a5c" />
<rect x="1595.3" y="2059.0" width="16.8" height="13.3" fill="#223a5c" />
<rect x="1616.8" y="2059.0" width="16.8" height="36.8" fill="#223a5c" />
<rect x="1638.4" y="2059.0" width="16.8" height="7.3" fill="#223a5c" />
<rect x="1660.0" y="2045.7" width="16.8" height="13.3" fill="#223a5c" />
<rect x="1681.5" y="2059.0" width="16.8" height="2.2" fill="#223a5c" />
<rect x="1703.0" y="2059.0" width="16.8" height="40.0" fill="#223a5c" />
<rect x="1724.6" y="2041.9" width="16.8" height="17.1" fill="#223a5c" />
<rect x="1746.2" y="2059.0" width="16.8" height="1.3" fill="#223a5c" />
<rect x="1767.7" y="2059.0" width="16.8" height="32.7" fill="#223a5c" />
<rect x="1789.2" y="2059.0" width="16.8" height="31.4" fill="#223a5c" />
<rect x="1810.8" y="2059.0" width="16.8" height="28.9" fill="#223a5c" />
<rect x="1832.3" y="2059.0" width="16.8" height="15.9" fill="#223a5c" />
<rect x="1853.9" y="2059.0" width="16.8" height="3.8" fill="#223a5c" />
<rect x="1875.5" y="2058.0" width="16.8" height="1.0" fill="#223a5c" />
<rect x="1897.0" y="2059.0" width="16.8" height="76.5" fill="#223a5c" />
<rect x="1918.5" y="2058.5" width="16.8" height="1.0" fill="#223a5c" opacity="0.5"/>
<rect x="1940.1" y="2059.0" width="16.8" height="49.5" fill="#223a5c" />
<rect x="1961.7" y="2059.0" width="16.8" height="48.6" fill="#223a5c" />
<rect x="1983.2" y="2059.0" width="16.8" height="14.6" fill="#223a5c" />
<rect x="1463.2" y="2037.1" width="538.7" height="103.2" fill="none" stroke="#222" stroke-width="1.1" />
<line x1="1459.2" y1="2059.0" x2="1463.2" y2="2059.0" stroke="#000" stroke-width="1" />
<text x="1455.2" y="2064.0" font-family='"Liberation Serif", serif' font-size="15.5" font-weight="normal" font-style="normal" fill="#000" text-anchor="end" >0</text>
<line x1="1459.2" y1="2117.1" x2="1463.2" y2="2117.1" stroke="#000" stroke-width="1" />
<text x="1455.2" y="2122.1" font-family='"Liberation Serif", serif' font-size="15.5" font-weight="normal" font-style="normal" fill="#000" text-anchor="end" >−5000</text>
<text x="1734.5" y="2026.7" font-family='"Liberation Serif", serif' font-size="20" font-weight="bold" font-style="normal" fill="#000" text-anchor="middle" textLength="133.0" lengthAdjust="spacingAndGlyphs" >Sox9  Cell Type</text>
<text x="1404.0" y="2088.7" font-family='"Liberation Serif", serif' font-size="20.5" font-weight="bold" font-style="normal" fill="#000" text-anchor="middle" textLength="90.5" lengthAdjust="spacingAndGlyphs" transform="rotate(-90 1404 2088.7)">Cell Count</text>
<rect x="1466.0" y="2221.0" width="16.8" height="6.3" fill="#873b49" />
<rect x="1487.5" y="2227.3" width="16.8" height="30.5" fill="#873b49" />
<rect x="1509.1" y="2222.9" width="16.8" height="4.4" fill="#873b49" />
<rect x="1530.7" y="2227.3" width="16.8" height="6.0" fill="#873b49" />
<rect x="1552.2" y="2227.3" width="16.8" height="16.5" fill="#873b49" />
<rect x="1573.8" y="2227.3" width="16.8" height="13.0" fill="#873b49" />
<rect x="1595.3" y="2219.7" width="16.8" height="7.6" fill="#873b49" />
<rect x="1616.8" y="2224.4" width="16.8" height="2.9" fill="#873b49" />
<rect x="1638.4" y="2227.3" width="16.8" height="6.3" fill="#873b49" />
<rect x="1660.0" y="2223.2" width="16.8" height="4.1" fill="#873b49" />
<rect x="1681.5" y="2226.8" width="16.8" height="1.0" fill="#873b49" opacity="0.5"/>
<rect x="1703.0" y="2227.3" width="16.8" height="43.5" fill="#873b49" />
<rect x="1724.6" y="2223.8" width="16.8" height="3.5" fill="#873b49" />
<rect x="1746.2" y="2227.3" width="16.8" height="24.4" fill="#873b49" />
<rect x="1767.7" y="2227.3" width="16.8" height="20.3" fill="#873b49" />
<rect x="1789.2" y="2227.3" width="16.8" height="13.7" fill="#873b49" />
<rect x="1810.8" y="2227.3" width="16.8" height="18.4" fill="#873b49" />
<rect x="1832.3" y="2227.3" width="16.8" height="16.8" fill="#873b49" />
<rect x="1853.9" y="2209.8" width="16.8" height="17.5" fill="#873b49" />
<rect x="1875.5" y="2219.4" width="16.8" height="7.9" fill="#873b49" />
<rect x="1897.0" y="2227.3" width="16.8" height="42.2" fill="#873b49" />
<rect x="1918.5" y="2223.8" width="16.8" height="3.5" fill="#873b49" />
<rect x="1940.1" y="2177.1" width="16.8" height="50.2" fill="#873b49" />
<rect x="1961.7" y="2203.8" width="16.8" height="23.5" fill="#873b49" />
<rect x="1983.2" y="2227.3" width="16.8" height="41.3" fill="#873b49" />
<rect x="1463.2" y="2172.7" width="538.7" height="103.2" fill="none" stroke="#222" stroke-width="1.1" />
<line x1="1459.2" y1="2179.0" x2="1463.2" y2="2179.0" stroke="#000" stroke-width="1" />
<text x="1455.2" y="2184.0" font-family='"Liberation Serif", serif' font-size="15.5" font-weight="normal" font-style="normal" fill="#000" text-anchor="end" >5000</text>
<line x1="1459.2" y1="2227.3" x2="1463.2" y2="2227.3" stroke="#000" stroke-width="1" />
<text x="1455.2" y="2232.3" font-family='"Liberation Serif", serif' font-size="15.5" font-weight="normal" font-style="normal" fill="#000" text-anchor="end" >0</text>
<line x1="1459.2" y1="2275.9" x2="1463.2" y2="2275.9" stroke="#000" stroke-width="1" />
<text x="1455.2" y="2280.9" font-family='"Liberation Serif", serif' font-size="15.5" font-weight="normal" font-style="normal" fill="#000" text-anchor="end" >−5000</text>
<line x1="1474.4" y1="2275.9" x2="1474.4" y2="2279.9" stroke="#000" stroke-width="1" />
<line x1="1496.0" y1="2275.9" x2="1496.0" y2="2279.9" stroke="#000" stroke-width="1" />
<line x1="1517.5" y1="2275.9" x2="1517.5" y2="2279.9" stroke="#000" stroke-width="1" />
<line x1="1539.1" y1="2275.9" x2="1539.1" y2="2279.9" stroke="#000" stroke-width="1" />
<line x1="1560.6" y1="2275.9" x2="1560.6" y2="2279.9" stroke="#000" stroke-width="1" />
<line x1="1582.2" y1="2275.9" x2="1582.2" y2="2279.9" stroke="#000" stroke-width="1" />
<line x1="1603.7" y1="2275.9" x2="1603.7" y2="2279.9" stroke="#000" stroke-width="1" />
<line x1="1625.2" y1="2275.9" x2="1625.2" y2="2279.9" stroke="#000" stroke-width="1" />
<line x1="1646.8" y1="2275.9" x2="1646.8" y2="2279.9" stroke="#000" stroke-width="1" />
<line x1="1668.4" y1="2275.9" x2="1668.4" y2="2279.9" stroke="#000" stroke-width="1" />
<line x1="1689.9" y1="2275.9" x2="1689.9" y2="2279.9" stroke="#000" stroke-width="1" />
<line x1="1711.5" y1="2275.9" x2="1711.5" y2="2279.9" stroke="#000" stroke-width="1" />
<line x1="1733.0" y1="2275.9" x2="1733.0" y2="2279.9" stroke="#000" stroke-width="1" />
<line x1="1754.6" y1="2275.9" x2="1754.6" y2="2279.9" stroke="#000" stroke-width="1" />
<line x1="1776.1" y1="2275.9" x2="1776.1" y2="2279.9" stroke="#000" stroke-width="1" />
<line x1="1797.7" y1="2275.9" x2="1797.7" y2="2279.9" stroke="#000" stroke-width="1" />
<line x1="1819.2" y1="2275.9" x2="1819.2" y2="2279.9" stroke="#000" stroke-width="1" />
<line x1="1840.8" y1="2275.9" x2="1840.8" y2="2279.9" stroke="#000" stroke-width="1" />
<line x1="1862.3" y1="2275.9" x2="1862.3" y2="2279.9" stroke="#000" stroke-width="1" />
<line x1="1883.9" y1="2275.9" x2="1883.9" y2="2279.9" stroke="#000" stroke-width="1" />
<line x1="1905.4" y1="2275.9" x2="1905.4" y2="2279.9" stroke="#000" stroke-width="1" />
<line x1="1927.0" y1="2275.9" x2="1927.0" y2="2279.9" stroke="#000" stroke-width="1" />
<line x1="1948.5" y1="2275.9" x2="1948.5" y2="2279.9" stroke="#000" stroke-width="1" />
<line x1="1970.1" y1="2275.9" x2="1970.1" y2="2279.9" stroke="#000" stroke-width="1" />
<line x1="1991.6" y1="2275.9" x2="1991.6" y2="2279.9" stroke="#000" stroke-width="1" />
<text x="1734.5" y="2163.2" font-family='"Liberation Serif", serif' font-size="20" font-weight="bold" font-style="normal" fill="#000" text-anchor="middle" textLength="133.0" lengthAdjust="spacingAndGlyphs" >MelA  Cell Type</text>
<text x="1404.0" y="2224.3" font-family='"Liberation Serif", serif' font-size="20.5" font-weight="bold" font-style="normal" fill="#000" text-anchor="middle" textLength="90.5" lengthAdjust="spacingAndGlyphs" transform="rotate(-90 1404 2224.3)">Cell Count</text>
<text x="1479.9" y="2283.5" font-family='"Liberation Serif", serif' font-size="16.9" font-weight="normal" font-style="normal" fill="#000" text-anchor="end" transform="rotate(-90 1479.9 2283.5)">Cisplatin</text>
<text x="1501.5" y="2283.5" font-family='"Liberation Serif", serif' font-size="16.9" font-weight="normal" font-style="normal" fill="#000" text-anchor="end" transform="rotate(-90 1501.5 2283.5)">Crizotinib</text>
<text x="1523.0" y="2283.5" font-family='"Liberation Serif", serif' font-size="16.9" font-weight="normal" font-style="normal" fill="#000" text-anchor="end" transform="rotate(-90 1523.0 2283.5)">Dabrafenib</text>
<text x="1544.6" y="2283.5" font-family='"Liberation Serif", serif' font-size="16.9" font-weight="normal" font-style="normal" fill="#000" text-anchor="end" transform="rotate(-90 1544.6 2283.5)">Dacarbazine</text>
<text x="1566.1" y="2283.5" font-family='"Liberation Serif", serif' font-size="16.9" font-weight="normal" font-style="normal" fill="#000" text-anchor="end" transform="rotate(-90 1566.1 2283.5)">Dasatinib</text>
<text x="1587.7" y="2283.5" font-family='"Liberation Serif", serif' font-size="16.9" font-weight="normal" font-style="normal" fill="#000" text-anchor="end" transform="rotate(-90 1587.7 2283.5)">Decitabine</text>
<text x="1609.2" y="2283.5" font-family='"Liberation Serif", serif' font-size="16.9" font-weight="normal" font-style="normal" fill="#000" text-anchor="end" transform="rotate(-90 1609.2 2283.5)">Dexamethasone</text>
<text x="1630.8" y="2283.5" font-family='"Liberation Serif", serif' font-size="16.9" font-weight="normal" font-style="normal" fill="#000" text-anchor="end" transform="rotate(-90 1630.8 2283.5)">Erlotinib</text>
<text x="1652.3" y="2283.5" font-family='"Liberation Serif", serif' font-size="16.9" font-weight="normal" font-style="normal" fill="#000" text-anchor="end" transform="rotate(-90 1652.3 2283.5)">Everolimus</text>
<text x="1673.9" y="2283.5" font-family='"Liberation Serif", serif' font-size="16.9" font-weight="normal" font-style="normal" fill="#000" text-anchor="end" transform="rotate(-90 1673.9 2283.5)">Hydroxyurea</text>
<text x="1695.4" y="2283.5" font-family='"Liberation Serif", serif' font-size="16.9" font-weight="normal" font-style="normal" fill="#000" text-anchor="end" transform="rotate(-90 1695.4 2283.5)">Imatinib</text>
<text x="1717.0" y="2283.5" font-family='"Liberation Serif", serif' font-size="16.9" font-weight="normal" font-style="normal" fill="#000" text-anchor="end" transform="rotate(-90 1717.0 2283.5)">Ixazomib</text>
<text x="1738.5" y="2283.5" font-family='"Liberation Serif", serif' font-size="16.9" font-weight="normal" font-style="normal" fill="#000" text-anchor="end" transform="rotate(-90 1738.5 2283.5)">Lenalidomide</text>
<text x="1760.1" y="2283.5" font-family='"Liberation Serif", serif' font-size="16.9" font-weight="normal" font-style="normal" fill="#000" text-anchor="end" transform="rotate(-90 1760.1 2283.5)">Melphalan</text>
<text x="1781.6" y="2283.5" font-family='"Liberation Serif", serif' font-size="16.9" font-weight="normal" font-style="normal" fill="#000" text-anchor="end" transform="rotate(-90 1781.6 2283.5)">Midostaurin</text>
<text x="1803.2" y="2283.5" font-family='"Liberation Serif", serif' font-size="16.9" font-weight="normal" font-style="normal" fill="#000" text-anchor="end" transform="rotate(-90 1803.2 2283.5)">Olaparib</text>
<text x="1824.7" y="2283.5" font-family='"Liberation Serif", serif' font-size="16.9" font-weight="normal" font-style="normal" fill="#000" text-anchor="end" transform="rotate(-90 1824.7 2283.5)">Paclitaxel</text>
<text x="1846.2" y="2283.5" font-family='"Liberation Serif", serif' font-size="16.9" font-weight="normal" font-style="normal" fill="#000" text-anchor="end" transform="rotate(-90 1846.2 2283.5)">Palbociclib</text>
<text x="1867.8" y="2283.5" font-family='"Liberation Serif", serif' font-size="16.9" font-weight="normal" font-style="normal" fill="#000" text-anchor="end" transform="rotate(-90 1867.8 2283.5)">Regorafenib</text>
<text x="1889.4" y="2283.5" font-family='"Liberation Serif", serif' font-size="16.9" font-weight="normal" font-style="normal" fill="#000" text-anchor="end" transform="rotate(-90 1889.4 2283.5)">Sorafenib</text>
<text x="1910.9" y="2283.5" font-family='"Liberation Serif", serif' font-size="16.9" font-weight="normal" font-style="normal" fill="#000" text-anchor="end" transform="rotate(-90 1910.9 2283.5)">Staurosporine</text>
<text x="1932.5" y="2283.5" font-family='"Liberation Serif", serif' font-size="16.9" font-weight="normal" font-style="normal" fill="#000" text-anchor="end" transform="rotate(-90 1932.5 2283.5)">Temozolomide</text>
<text x="1954.0" y="2283.5" font-family='"Liberation Serif", serif' font-size="16.9" font-weight="normal" font-style="normal" fill="#000" text-anchor="end" transform="rotate(-90 1954.0 2283.5)">Trametinib</text>
<text x="1975.6" y="2283.5" font-family='"Liberation Serif", serif' font-size="16.9" font-weight="normal" font-style="normal" fill="#000" text-anchor="end" transform="rotate(-90 1975.6 2283.5)">Ulixertinib</text>
<text x="1997.1" y="2283.5" font-family='"Liberation Serif", serif' font-size="16.9" font-weight="normal" font-style="normal" fill="#000" text-anchor="end" transform="rotate(-90 1997.1 2283.5)">Vindesine</text>
<circle cx="2165.7" cy="1770.3" r="42.1" fill="#8f9fbb" />
<text x="2136.0" y="1779.0" font-family='"Liberation Sans", sans-serif' font-size="29.91" font-weight="normal" font-style="normal" fill="#fff" text-anchor="start" textLength="59.0" lengthAdjust="spacingAndGlyphs" >Sox9</text>
<circle cx="2080.6" cy="1839.5" r="49.7" fill="#e06062" />
<text x="2048.2" y="1849.0" font-family='"Liberation Sans", sans-serif' font-size="30.88" font-weight="normal" font-style="normal" fill="#fff" text-anchor="start" textLength="65.7" lengthAdjust="spacingAndGlyphs" >MelA</text>
<text x="2169.2" y="1847.3" font-family='"Liberation Sans", sans-serif' font-size="28.95" font-weight="normal" font-style="normal" fill="#000" text-anchor="start" textLength="152.0" lengthAdjust="spacingAndGlyphs" word-spacing="3.9" >mixture of 2</text>
<text x="2169.2" y="1888.3" font-family='"Liberation Sans", sans-serif' font-size="28.95" font-weight="normal" font-style="normal" fill="#000" text-anchor="start" textLength="241.7" lengthAdjust="spacingAndGlyphs" word-spacing="3.9" >melanoma cell lines</text>
<line x1="2430.3" y1="1574.7" x2="2430.3" y2="1834.8" stroke="#000" stroke-width="2" />
<line x1="2429.3" y1="1833.8" x2="2631.1" y2="1833.8" stroke="#000" stroke-width="2" />
<text x="2437.3" y="1564.8" font-family='"Liberation Serif", serif' font-size="20.5" font-weight="bold" font-style="normal" fill="#000" text-anchor="start" textLength="204.8" lengthAdjust="spacingAndGlyphs" >MelA in Control Cells</text>
<path d="M2477.2,1626.4h0M2463.4,1687.4h0M2462.9,1705.0h0M2462.6,1678.2h0M2477.2,1647.6h0M2463.5,1700.2h0M2474.9,1647.3h0M2476.7,1607.5h0M2461.0,1702.7h0M2473.7,1646.0h0M2465.8,1698.0h0M2470.6,1656.4h0M2476.4,1633.4h0M2462.6,1685.4h0M2479.7,1614.4h0M2461.0,1706.3h0M2477.0,1654.5h0M2479.0,1640.1h0M2475.4,1632.4h0M2472.3,1644.1h0M2466.7,1676.8h0M2463.7,1660.3h0M2483.0,1625.1h0M2471.0,1652.2h0M2464.0,1700.2h0M2460.3,1668.4h0M2461.1,1704.0h0M2464.7,1700.1h0M2471.5,1642.3h0M2463.1,1672.7h0M2480.1,1633.5h0M2477.4,1639.3h0M2469.4,1652.9h0M2478.6,1602.2h0M2480.4,1604.2h0M2474.8,1639.4h0M2463.9,1678.6h0M2474.0,1650.9h0M2482.0,1623.2h0M2467.3,1691.2h0M2475.1,1630.3h0M2468.6,1650.9h0" stroke="#aebed6" stroke-width="3.1" stroke-linecap="round" fill="none"/>
<path d="M2442.8,1680.0h0M2440.3,1678.2h0M2451.0,1660.3h0M2449.2,1662.7h0M2442.6,1675.4h0M2445.7,1696.6h0M2448.5,1660.9h0" stroke="#e89898" stroke-width="3.1" stroke-linecap="round" fill="none"/>
<path d="M2472.3,1709.1h0M2469.4,1727.0h0M2482.6,1670.8h0M2493.7,1613.4h0M2492.2,1678.7h0M2471.7,1726.3h0M2486.6,1692.7h0M2496.6,1630.3h0M2480.2,1682.6h0M2497.7,1624.3h0M2493.4,1621.7h0M2493.1,1666.1h0M2491.1,1660.5h0M2481.5,1686.0h0M2485.7,1676.7h0M2484.2,1677.3h0M2480.7,1684.0h0M2499.0,1617.1h0M2489.5,1658.8h0M2482.5,1690.1h0M2495.4,1618.5h0M2486.2,1652.9h0M2481.5,1691.9h0M2498.1,1617.6h0M2491.9,1626.9h0M2471.3,1710.1h0M2488.1,1657.7h0M2485.9,1664.3h0M2484.0,1664.7h0M2492.7,1632.1h0M2499.1,1632.4h0M2495.0,1653.0h0M2472.0,1720.8h0M2469.8,1727.1h0M2494.2,1597.4h0M2492.1,1607.4h0M2485.1,1672.2h0M2472.8,1710.4h0M2479.8,1696.0h0M2489.8,1647.5h0M2489.2,1648.5h0M2473.1,1715.7h0M2491.7,1657.7h0M2482.2,1664.3h0M2485.8,1671.4h0M2495.3,1630.3h0M2489.2,1663.6h0M2483.4,1659.6h0M2472.0,1725.7h0M2493.3,1628.9h0M2493.0,1659.0h0M2492.0,1600.1h0M2491.8,1601.4h0M2484.9,1701.2h0M2484.4,1693.7h0M2478.9,1677.5h0M2494.5,1672.6h0M2495.3,1612.8h0M2479.7,1695.5h0M2487.7,1660.3h0M2496.6,1676.7h0M2471.3,1719.6h0M2473.1,1721.7h0M2470.0,1722.7h0M2479.6,1679.9h0M2473.8,1712.8h0M2493.0,1602.4h0M2474.6,1685.3h0M2486.6,1661.9h0M2497.4,1650.6h0M2492.5,1639.3h0M2471.1,1717.2h0M2484.2,1683.3h0M2465.8,1735.9h0M2466.6,1733.5h0M2466.3,1741.5h0M2466.0,1746.1h0M2465.6,1734.6h0M2465.3,1746.2h0M2481.3,1742.3h0M2488.7,1791.1h0M2488.7,1785.7h0M2488.9,1793.3h0M2482.3,1749.4h0M2480.5,1743.5h0M2488.3,1788.6h0M2480.8,1746.1h0M2480.4,1748.7h0M2486.0,1770.0h0M2484.9,1767.0h0M2483.4,1757.8h0M2487.7,1777.0h0M2480.8,1747.2h0M2488.7,1794.3h0M2482.6,1757.9h0M2484.2,1758.3h0M2490.4,1795.0h0M2480.8,1740.7h0M2486.9,1767.8h0M2486.9,1792.1h0M2484.8,1760.1h0M2488.2,1786.4h0M2486.1,1777.5h0M2484.6,1771.2h0M2483.3,1759.7h0M2487.5,1787.0h0M2487.7,1783.9h0M2488.1,1780.6h0M2479.3,1737.2h0M2482.4,1744.6h0" stroke="#2d5199" stroke-width="3.1" stroke-linecap="round" fill="none"/>
<path d="M2475.7,1713.5h0M2492.5,1602.4h0M2506.9,1636.9h0M2489.8,1653.1h0M2494.3,1659.5h0M2472.6,1730.5h0M2485.6,1700.0h0M2484.5,1662.7h0M2492.4,1654.0h0M2492.5,1657.7h0M2480.9,1666.7h0M2490.4,1600.7h0M2495.8,1659.5h0M2486.7,1698.4h0M2480.8,1709.0h0M2499.2,1650.5h0M2476.8,1712.0h0M2493.3,1642.6h0M2502.6,1630.7h0M2492.8,1606.5h0M2494.5,1605.0h0M2501.5,1628.8h0M2498.2,1634.8h0M2493.2,1654.0h0M2488.2,1699.5h0M2484.3,1653.7h0M2492.3,1658.9h0M2495.0,1624.7h0M2495.5,1610.9h0M2497.9,1633.9h0M2482.1,1665.4h0M2503.6,1628.3h0M2486.6,1664.1h0M2497.9,1639.5h0M2499.8,1654.2h0M2490.1,1628.1h0M2491.6,1648.9h0M2483.7,1686.7h0M2489.0,1645.3h0M2485.1,1674.8h0M2500.3,1651.0h0M2493.3,1647.8h0M2494.6,1607.8h0M2490.8,1664.5h0M2505.0,1651.8h0M2491.1,1652.8h0M2495.6,1642.1h0M2489.1,1658.3h0M2496.6,1606.0h0M2486.8,1697.6h0M2494.4,1619.4h0M2488.8,1654.8h0M2476.1,1713.6h0M2471.9,1730.7h0M2505.5,1624.2h0M2486.4,1691.6h0M2496.6,1667.3h0M2493.9,1672.8h0M2476.3,1712.6h0M2488.4,1597.3h0M2493.5,1658.9h0M2475.3,1723.7h0M2499.2,1628.4h0M2493.3,1643.5h0M2491.3,1672.0h0M2491.8,1646.4h0M2485.1,1697.5h0M2495.3,1651.0h0M2493.6,1601.0h0M2492.2,1682.9h0M2489.1,1656.4h0M2489.7,1650.4h0M2487.2,1652.9h0M2496.7,1642.3h0M2474.4,1721.7h0M2487.1,1655.6h0M2484.1,1695.3h0M2485.9,1696.3h0M2479.0,1712.4h0M2503.1,1630.2h0M2497.3,1634.0h0M2493.3,1644.7h0M2487.2,1696.7h0M2485.0,1699.9h0M2491.6,1686.9h0M2498.7,1638.7h0M2499.5,1644.9h0M2499.0,1615.2h0M2465.7,1733.4h0M2464.6,1734.5h0M2465.9,1740.8h0M2483.6,1765.7h0M2482.4,1755.2h0M2479.8,1741.7h0M2480.5,1745.5h0M2480.3,1747.1h0M2483.7,1763.4h0" stroke="#2a498b" stroke-width="3.1" stroke-linecap="round" fill="none"/>
<path d="M2465.8,1663.7h0M2467.5,1651.6h0M2458.7,1674.9h0M2478.0,1610.7h0M2473.7,1645.0h0M2479.0,1608.1h0M2455.4,1683.3h0M2472.9,1641.4h0M2458.4,1682.7h0M2466.8,1663.4h0M2479.1,1619.3h0M2459.4,1700.9h0M2452.7,1691.9h0M2464.2,1670.0h0M2477.4,1615.1h0M2474.3,1623.5h0M2461.0,1692.8h0M2459.0,1690.3h0M2463.2,1669.7h0M2474.6,1621.4h0M2478.4,1612.1h0M2473.8,1644.5h0M2450.5,1697.2h0M2469.5,1648.2h0M2476.0,1628.3h0M2461.2,1693.8h0M2470.8,1657.7h0M2475.9,1642.7h0M2478.6,1632.3h0M2458.3,1700.3h0M2463.9,1652.0h0M2466.1,1641.1h0M2470.4,1652.0h0M2461.6,1695.2h0M2463.6,1661.7h0M2479.6,1617.3h0M2457.7,1691.0h0M2462.6,1638.5h0M2480.5,1612.0h0M2457.0,1687.1h0M2472.0,1625.3h0M2460.3,1702.2h0M2464.4,1652.5h0M2478.2,1595.2h0M2479.0,1631.1h0M2459.2,1680.4h0M2470.7,1648.7h0M2454.8,1686.0h0M2463.2,1666.0h0M2477.0,1599.1h0M2473.8,1635.6h0" stroke="#b9c5d7" stroke-width="3.1" stroke-linecap="round" fill="none"/>
<path d="M2453.3,1692.2h0M2451.8,1666.7h0M2476.0,1630.7h0M2464.0,1674.6h0M2463.3,1648.4h0M2460.7,1674.5h0M2472.5,1596.8h0M2462.0,1642.5h0M2476.8,1604.3h0M2472.2,1606.6h0M2462.9,1653.3h0M2459.5,1705.1h0M2456.1,1671.9h0M2453.3,1682.1h0M2460.0,1686.9h0M2456.6,1658.9h0M2454.5,1678.5h0M2456.6,1666.2h0M2472.3,1640.6h0M2456.7,1663.4h0M2465.0,1654.3h0M2459.3,1678.9h0M2475.8,1614.5h0M2461.6,1654.7h0M2476.7,1624.3h0M2454.5,1651.8h0M2457.6,1689.3h0M2464.6,1650.3h0M2468.7,1611.5h0M2454.6,1678.3h0M2457.9,1639.6h0M2475.4,1628.8h0M2472.8,1627.2h0M2452.1,1692.6h0M2478.6,1601.9h0M2466.5,1615.3h0M2474.4,1599.3h0M2471.7,1641.8h0M2459.8,1650.8h0M2474.6,1620.4h0M2469.2,1637.8h0M2468.7,1631.7h0M2471.4,1637.1h0M2463.2,1678.6h0M2469.4,1632.6h0M2469.2,1644.7h0M2459.1,1685.7h0M2477.3,1623.2h0M2459.8,1654.4h0M2459.3,1688.9h0M2461.5,1655.6h0M2470.2,1596.0h0M2468.9,1638.5h0M2459.4,1703.2h0M2450.2,1681.6h0M2475.0,1625.0h0M2453.0,1694.0h0M2457.9,1699.8h0M2470.3,1637.0h0M2468.3,1625.8h0M2469.8,1632.8h0M2471.7,1623.1h0M2458.7,1630.0h0M2463.5,1665.1h0M2453.7,1652.5h0M2462.7,1624.0h0" stroke="#c3cbd7" stroke-width="3.1" stroke-linecap="round" fill="none"/>
<path d="M2495.6,1605.8h0M2490.9,1672.2h0M2496.7,1667.4h0M2493.2,1598.6h0M2485.2,1716.5h0M2495.8,1597.7h0M2488.0,1713.9h0M2502.5,1655.7h0M2502.2,1621.1h0M2507.1,1632.6h0M2501.3,1610.2h0M2490.9,1687.3h0M2495.8,1652.7h0M2504.5,1627.8h0M2498.9,1611.3h0M2501.1,1648.3h0M2497.4,1672.9h0M2492.2,1666.3h0M2492.4,1703.0h0M2502.5,1635.6h0M2497.4,1684.9h0M2488.6,1703.9h0M2502.1,1618.5h0M2490.1,1694.8h0M2494.4,1602.8h0M2492.0,1692.8h0M2493.8,1693.3h0M2478.8,1724.0h0M2501.7,1610.1h0M2501.8,1668.9h0M2502.3,1640.8h0M2504.8,1625.6h0M2508.9,1629.7h0M2488.1,1708.8h0M2495.1,1656.4h0M2499.8,1673.5h0M2493.9,1667.4h0M2505.7,1628.1h0M2506.0,1637.3h0M2495.3,1598.2h0M2498.9,1647.3h0M2499.6,1650.2h0M2497.3,1659.9h0M2502.7,1658.7h0M2501.6,1650.5h0M2508.2,1619.1h0M2505.3,1623.1h0M2499.3,1605.8h0M2498.3,1612.6h0M2497.3,1681.0h0M2488.0,1690.4h0M2500.7,1644.6h0M2494.5,1666.3h0M2488.1,1704.6h0M2498.7,1660.0h0M2492.7,1666.2h0M2494.2,1655.8h0M2496.1,1648.9h0M2504.6,1639.4h0M2483.2,1720.8h0M2501.0,1669.8h0M2500.6,1647.2h0M2494.4,1679.8h0M2491.6,1654.6h0M2493.5,1598.7h0M2499.4,1673.4h0M2490.3,1695.1h0M2482.5,1716.2h0M2476.4,1729.5h0M2496.5,1671.1h0M2498.9,1673.3h0M2497.9,1812.4h0M2492.3,1798.9h0M2497.3,1803.5h0M2497.5,1800.5h0M2487.2,1808.7h0M2492.9,1815.7h0M2486.9,1818.6h0M2494.6,1814.9h0M2486.5,1811.0h0M2486.8,1809.2h0M2494.9,1815.0h0M2496.2,1805.1h0M2488.1,1813.3h0M2498.3,1812.6h0M2489.8,1802.1h0M2495.8,1799.5h0M2486.8,1816.9h0M2498.0,1804.4h0M2489.7,1804.3h0M2492.2,1821.1h0M2495.1,1818.3h0M2491.9,1811.5h0M2488.4,1820.9h0M2488.2,1816.6h0M2491.0,1811.3h0M2488.4,1811.9h0M2493.7,1804.0h0M2497.8,1812.3h0M2492.8,1808.6h0M2492.6,1821.4h0M2489.9,1817.0h0M2489.3,1803.4h0M2492.5,1808.6h0M2486.3,1817.9h0M2491.1,1802.7h0M2492.2,1800.4h0M2497.7,1813.3h0M2492.8,1818.6h0M2492.4,1812.5h0M2493.5,1818.1h0M2493.5,1802.3h0M2486.6,1816.2h0M2490.2,1803.5h0M2490.9,1806.5h0M2496.3,1808.1h0M2491.9,1822.6h0M2487.0,1814.0h0M2489.8,1810.5h0M2489.0,1815.7h0M2488.5,1813.8h0M2495.3,1810.8h0M2492.9,1801.8h0M2490.7,1822.0h0M2491.0,1822.8h0M2497.4,1809.4h0M2486.5,1816.3h0M2492.2,1808.0h0M2487.9,1807.0h0M2495.0,1798.8h0M2489.6,1822.8h0M2494.4,1802.6h0M2495.3,1802.3h0M2496.9,1798.2h0M2496.0,1797.9h0M2593.1,1652.5h0M2620.0,1698.6h0M2593.2,1654.9h0M2589.5,1615.1h0M2599.4,1667.3h0M2588.1,1677.3h0M2592.1,1654.9h0M2616.3,1710.9h0M2618.4,1669.3h0M2597.5,1641.2h0M2612.0,1660.6h0M2606.9,1667.6h0M2603.3,1609.5h0M2613.2,1636.8h0M2591.4,1661.4h0M2601.1,1612.3h0M2600.6,1605.5h0M2613.5,1696.2h0M2594.9,1646.1h0M2590.5,1627.6h0M2617.5,1643.5h0M2596.2,1674.9h0M2610.5,1617.5h0M2610.9,1681.7h0M2582.8,1656.4h0M2609.0,1654.8h0M2607.0,1596.2h0M2604.0,1604.4h0M2609.2,1678.6h0M2595.3,1655.1h0M2598.4,1644.0h0M2589.4,1694.8h0M2619.0,1694.2h0M2605.6,1738.5h0M2605.1,1687.2h0M2612.2,1677.9h0M2610.5,1733.2h0M2594.1,1621.8h0M2589.8,1601.7h0M2602.7,1693.4h0M2587.3,1688.8h0M2601.3,1715.0h0M2606.0,1691.4h0M2608.6,1721.9h0M2613.9,1640.3h0M2616.0,1637.0h0M2593.8,1658.6h0M2585.0,1675.4h0M2606.5,1638.4h0M2605.7,1670.9h0M2611.1,1722.1h0M2592.4,1642.3h0M2599.2,1647.4h0M2588.3,1659.9h0M2604.6,1723.7h0M2616.0,1706.8h0M2589.3,1625.5h0M2611.2,1723.0h0M2601.3,1608.0h0M2617.3,1699.3h0M2590.8,1688.5h0M2615.9,1667.7h0M2588.3,1666.4h0M2602.7,1644.7h0M2586.9,1698.2h0M2613.9,1655.5h0M2619.1,1643.6h0M2595.0,1637.9h0M2594.8,1644.9h0M2597.2,1626.8h0M2604.9,1644.4h0M2582.4,1634.1h0M2605.2,1640.7h0M2613.1,1665.5h0M2610.9,1641.6h0M2607.5,1700.4h0M2616.7,1667.9h0M2606.1,1718.0h0M2594.4,1647.9h0M2608.6,1729.1h0M2604.8,1610.3h0M2616.5,1728.5h0M2607.6,1650.2h0M2617.1,1665.3h0M2581.2,1645.1h0M2613.5,1656.2h0M2599.3,1647.8h0M2608.8,1662.8h0M2615.8,1668.2h0M2606.1,1711.9h0M2610.8,1699.4h0M2596.1,1689.2h0M2586.6,1684.8h0M2587.6,1649.6h0M2587.5,1606.8h0M2609.6,1661.5h0M2617.2,1625.9h0M2603.4,1631.1h0M2595.6,1636.8h0M2586.8,1648.0h0M2609.4,1684.7h0M2601.9,1697.3h0M2599.3,1622.0h0M2619.4,1652.5h0M2614.4,1669.6h0M2588.8,1651.6h0M2602.4,1588.2h0M2601.1,1609.4h0M2609.8,1683.1h0M2585.0,1678.9h0M2620.7,1692.5h0M2610.7,1672.4h0M2608.6,1626.6h0M2605.7,1734.1h0M2606.2,1652.5h0M2618.0,1647.7h0M2608.4,1691.8h0M2611.2,1701.0h0M2596.1,1643.1h0M2602.1,1719.9h0M2598.9,1698.2h0M2590.1,1651.9h0M2591.7,1690.5h0M2593.5,1689.9h0M2613.9,1632.2h0M2605.2,1607.6h0M2594.1,1654.8h0M2591.0,1661.1h0M2598.8,1638.4h0M2598.1,1662.6h0M2601.8,1594.8h0M2615.1,1689.4h0M2608.2,1633.1h0M2611.5,1688.7h0M2593.9,1658.2h0M2613.3,1629.4h0M2614.1,1671.8h0M2608.8,1680.0h0M2580.6,1646.1h0M2592.3,1669.9h0M2588.9,1679.7h0M2584.3,1630.5h0M2605.9,1589.0h0M2598.1,1602.2h0M2618.5,1646.4h0M2596.7,1616.5h0M2596.8,1605.8h0M2602.5,1708.3h0M2611.1,1672.3h0M2600.6,1662.9h0M2601.7,1608.3h0M2596.3,1708.0h0M2578.0,1591.9h0M2578.3,1594.2h0M2587.1,1599.0h0" stroke="#23396e" stroke-width="3.1" stroke-linecap="round" fill="none"/>
<path d="M2493.3,1634.2h0M2469.6,1708.7h0M2491.9,1608.3h0M2481.3,1660.5h0M2489.1,1614.8h0M2490.0,1606.8h0M2486.1,1607.7h0M2478.7,1654.7h0M2480.0,1694.8h0M2476.8,1659.6h0M2486.5,1605.0h0M2469.4,1718.8h0M2468.4,1708.2h0M2478.3,1668.5h0M2469.6,1717.8h0M2479.5,1671.1h0M2483.1,1673.6h0M2491.6,1651.4h0M2479.8,1665.1h0M2469.9,1714.3h0M2497.1,1620.0h0M2478.8,1660.3h0M2470.6,1711.2h0M2468.0,1715.5h0M2492.8,1628.8h0M2480.5,1669.0h0M2474.6,1702.3h0M2491.6,1649.4h0M2490.6,1622.3h0M2475.9,1667.8h0M2481.0,1663.6h0M2477.5,1664.4h0M2478.9,1675.3h0M2487.7,1609.3h0M2491.8,1614.2h0M2495.2,1633.3h0M2489.0,1658.6h0M2489.9,1630.8h0M2480.1,1677.7h0M2489.3,1649.7h0M2474.6,1696.8h0M2479.0,1653.7h0M2487.6,1594.9h0M2492.3,1629.8h0M2498.8,1620.1h0M2484.7,1646.8h0M2469.5,1718.6h0M2466.5,1709.5h0M2467.8,1716.3h0M2481.1,1654.5h0M2467.9,1731.1h0M2468.8,1714.6h0M2490.2,1659.1h0M2489.6,1683.5h0M2495.7,1641.2h0M2488.7,1594.6h0M2492.6,1613.2h0M2490.7,1643.7h0M2482.3,1668.4h0M2483.9,1679.7h0M2482.2,1705.1h0M2466.5,1708.5h0M2487.6,1600.4h0M2493.1,1642.7h0M2491.0,1615.7h0M2487.6,1645.6h0M2470.4,1714.4h0M2481.4,1689.1h0M2493.5,1652.0h0M2482.9,1660.8h0M2480.2,1663.4h0M2485.6,1651.5h0M2468.0,1723.0h0M2484.3,1662.2h0M2470.3,1710.5h0M2481.7,1660.2h0M2477.9,1680.4h0M2473.8,1700.8h0M2481.7,1672.1h0M2468.9,1710.0h0M2476.5,1667.2h0M2487.6,1662.6h0M2467.2,1752.8h0M2466.2,1740.0h0M2465.5,1744.1h0M2465.0,1733.6h0M2464.5,1750.1h0M2466.2,1742.2h0M2465.7,1734.6h0M2466.7,1743.3h0M2487.0,1782.6h0M2483.6,1762.4h0M2482.9,1753.5h0M2480.0,1737.1h0M2485.7,1767.8h0M2486.5,1772.1h0M2487.6,1780.4h0M2486.6,1789.4h0M2484.5,1765.7h0M2489.0,1788.8h0M2484.0,1770.2h0M2481.9,1740.2h0M2488.3,1791.8h0M2486.5,1772.2h0M2478.8,1744.8h0M2487.7,1785.9h0M2491.2,1787.3h0M2484.8,1761.7h0M2490.1,1791.5h0M2482.9,1750.2h0" stroke="#395ea4" stroke-width="3.1" stroke-linecap="round" fill="none"/>
<path d="M2441.4,1678.5h0M2440.8,1692.5h0M2442.4,1663.9h0" stroke="#cc5157" stroke-width="3.1" stroke-linecap="round" fill="none"/>
<path d="M2440.4,1676.4h0M2438.6,1686.9h0M2441.8,1679.7h0M2445.3,1662.7h0M2439.7,1681.7h0M2438.8,1672.9h0M2441.1,1663.3h0M2443.4,1703.4h0M2438.8,1689.9h0M2446.1,1705.1h0M2441.4,1673.9h0M2440.6,1682.8h0" stroke="#e16768" stroke-width="3.1" stroke-linecap="round" fill="none"/>
<path d="M2449.3,1677.9h0M2465.2,1635.1h0M2460.7,1637.2h0M2461.2,1643.4h0M2457.2,1704.9h0M2474.4,1599.4h0M2451.4,1694.1h0M2467.9,1643.7h0M2469.2,1595.4h0M2458.2,1660.9h0M2457.4,1660.3h0M2450.8,1698.5h0M2477.5,1623.2h0M2457.5,1685.8h0M2478.1,1599.6h0M2450.4,1690.1h0M2454.6,1641.3h0M2479.0,1620.7h0M2460.3,1652.5h0M2466.5,1621.2h0M2465.8,1637.4h0M2447.9,1686.1h0M2448.8,1673.6h0M2460.4,1674.3h0M2450.3,1699.4h0M2459.9,1671.1h0M2453.4,1688.7h0M2460.3,1680.0h0M2453.7,1667.8h0M2476.0,1605.7h0M2457.8,1663.5h0M2470.7,1631.1h0M2460.2,1675.2h0M2458.0,1680.0h0M2459.1,1655.0h0M2452.6,1700.9h0M2465.8,1607.6h0M2455.5,1689.4h0M2460.5,1672.0h0M2464.6,1614.3h0M2451.3,1676.9h0M2451.7,1677.9h0M2469.6,1617.8h0M2455.4,1684.9h0M2466.5,1652.6h0M2464.1,1639.7h0M2465.1,1632.9h0M2447.6,1688.9h0M2465.7,1646.4h0M2453.7,1683.6h0M2459.2,1700.1h0M2463.3,1645.2h0M2454.8,1682.9h0M2458.2,1700.4h0M2455.2,1699.7h0M2477.4,1596.4h0M2455.6,1654.3h0M2450.2,1649.8h0M2449.9,1692.0h0M2475.6,1606.6h0M2477.3,1594.1h0M2452.8,1692.2h0M2467.4,1627.0h0M2453.9,1679.6h0M2463.0,1653.2h0M2452.4,1671.4h0M2476.8,1623.2h0M2466.7,1602.2h0M2458.4,1638.7h0M2474.3,1631.0h0M2457.9,1665.5h0M2461.3,1639.1h0M2448.8,1668.1h0M2472.1,1631.8h0M2471.6,1619.9h0M2478.7,1620.9h0M2451.5,1697.6h0M2457.3,1643.7h0M2464.9,1625.9h0M2468.3,1624.9h0M2466.1,1630.7h0M2472.5,1620.4h0M2475.9,1619.4h0M2458.3,1691.5h0M2477.1,1615.9h0M2462.9,1628.2h0M2462.1,1647.2h0M2450.6,1696.4h0M2477.5,1606.6h0M2468.3,1602.6h0M2467.8,1645.2h0M2475.8,1605.5h0M2455.7,1658.6h0M2453.5,1655.4h0M2455.3,1657.5h0M2455.9,1701.3h0M2464.9,1646.9h0M2461.8,1666.6h0M2449.7,1673.7h0M2455.1,1663.9h0M2454.8,1665.8h0M2458.0,1664.1h0M2464.6,1644.3h0M2452.1,1684.8h0M2460.6,1648.3h0" stroke="#ced2d8" stroke-width="3.1" stroke-linecap="round" fill="none"/>
<path d="M2475.5,1657.2h0M2471.2,1689.5h0M2459.4,1725.3h0M2484.5,1618.7h0M2487.1,1606.5h0M2475.3,1650.8h0M2450.2,1709.6h0M2469.8,1666.6h0M2453.6,1714.0h0M2479.5,1650.0h0M2461.6,1728.2h0M2457.2,1718.6h0M2471.0,1683.4h0M2451.9,1708.4h0M2473.8,1674.4h0M2473.3,1674.7h0M2482.2,1658.7h0M2457.0,1722.1h0M2476.9,1663.7h0M2457.1,1718.2h0M2483.0,1631.0h0M2470.5,1667.3h0M2481.0,1603.9h0M2478.0,1651.7h0M2479.8,1667.8h0M2450.8,1708.9h0M2478.4,1642.4h0M2458.1,1720.3h0M2460.2,1727.6h0M2468.8,1674.3h0M2449.5,1708.1h0M2453.3,1707.0h0M2456.5,1713.6h0M2456.9,1721.4h0M2460.8,1730.7h0M2461.9,1730.2h0M2487.0,1637.7h0M2484.1,1641.6h0M2468.1,1668.1h0M2478.4,1662.9h0M2482.7,1595.8h0M2458.8,1725.8h0M2462.8,1731.2h0M2472.8,1666.9h0M2459.7,1727.8h0M2479.4,1643.7h0M2455.8,1718.3h0M2461.6,1730.7h0M2459.6,1721.2h0M2491.3,1628.1h0M2483.0,1610.0h0M2481.4,1608.0h0M2475.3,1662.9h0M2470.4,1656.6h0M2486.7,1614.3h0M2457.8,1722.7h0" stroke="#7690c0" stroke-width="3.1" stroke-linecap="round" fill="none"/>
<path d="M2475.5,1728.7h0M2479.5,1717.9h0M2501.3,1607.3h0M2480.1,1711.5h0M2492.3,1692.5h0M2496.0,1641.0h0M2489.1,1677.3h0M2484.2,1710.1h0M2476.6,1722.3h0M2488.4,1699.0h0M2497.8,1663.9h0M2483.4,1709.4h0M2497.9,1667.4h0M2480.1,1714.5h0M2476.5,1720.9h0M2492.0,1690.8h0M2495.9,1647.2h0M2493.3,1666.9h0M2479.8,1711.2h0M2499.7,1615.9h0M2496.9,1605.1h0M2501.8,1651.8h0M2501.8,1631.9h0M2500.8,1624.8h0M2497.8,1680.0h0M2499.4,1651.1h0M2496.1,1620.5h0M2497.4,1628.9h0M2484.1,1710.1h0M2480.1,1704.8h0M2505.1,1633.0h0M2474.4,1726.2h0M2485.2,1698.3h0M2489.1,1662.5h0M2487.0,1684.3h0M2481.9,1712.1h0M2488.1,1645.6h0M2497.4,1652.1h0M2489.8,1678.2h0M2493.6,1660.0h0M2504.8,1620.1h0M2484.7,1697.9h0M2484.5,1708.7h0M2480.2,1713.2h0M2494.2,1664.3h0M2499.5,1644.5h0M2495.7,1635.5h0M2490.0,1706.1h0M2498.2,1647.4h0M2477.3,1722.2h0M2494.4,1618.6h0M2503.0,1649.1h0M2483.0,1713.6h0M2507.6,1624.2h0M2498.9,1630.3h0M2504.7,1614.5h0M2500.3,1639.9h0M2481.7,1701.0h0M2482.1,1712.1h0M2483.4,1715.2h0M2478.0,1721.1h0M2478.6,1708.5h0M2479.2,1719.1h0M2500.0,1622.3h0M2491.7,1690.1h0M2480.7,1717.3h0M2495.1,1642.5h0M2481.4,1715.9h0M2496.0,1647.0h0M2488.4,1668.0h0M2505.1,1629.1h0M2481.6,1710.3h0M2464.4,1744.4h0M2493.2,1809.5h0M2493.6,1814.6h0M2494.5,1818.1h0M2493.8,1804.8h0M2491.8,1820.5h0M2496.6,1799.7h0" stroke="#26417c" stroke-width="3.1" stroke-linecap="round" fill="none"/>
<path d="M2479.8,1650.9h0M2484.8,1640.1h0M2475.8,1685.2h0M2487.7,1615.8h0M2460.6,1713.1h0M2459.1,1708.8h0M2476.6,1686.5h0M2458.6,1711.4h0M2458.7,1709.0h0M2476.3,1659.6h0M2482.2,1644.8h0M2458.7,1716.6h0M2480.0,1651.4h0M2462.0,1718.1h0M2458.3,1712.3h0M2481.2,1642.1h0M2489.8,1623.1h0M2470.3,1674.9h0M2459.8,1710.9h0M2477.7,1655.2h0M2475.5,1679.9h0M2462.0,1718.1h0M2474.2,1664.6h0M2488.1,1611.7h0M2460.4,1710.7h0M2458.8,1708.9h0M2477.1,1655.8h0M2460.7,1717.4h0M2473.7,1664.2h0M2475.1,1661.5h0M2492.1,1626.9h0M2481.5,1658.6h0M2459.1,1712.4h0M2454.2,1706.6h0M2459.0,1717.5h0M2478.0,1641.7h0M2462.0,1727.5h0M2477.2,1660.4h0M2478.9,1644.4h0M2488.4,1613.4h0M2477.3,1670.3h0M2454.0,1706.6h0M2483.7,1637.2h0M2484.4,1629.8h0M2461.5,1715.2h0M2481.6,1648.8h0M2485.6,1635.4h0M2479.6,1648.2h0M2471.7,1686.6h0M2488.0,1616.2h0M2474.1,1704.3h0M2461.7,1727.6h0M2457.0,1712.6h0M2478.4,1674.2h0M2476.3,1654.9h0M2481.6,1672.2h0M2472.4,1703.3h0M2458.7,1710.9h0M2489.0,1614.2h0M2487.0,1617.6h0M2479.1,1665.6h0M2478.1,1661.8h0M2489.5,1598.6h0M2477.5,1655.5h0" stroke="#6280b6" stroke-width="3.1" stroke-linecap="round" fill="none"/>
<path d="M2442.4,1680.9h0M2444.9,1669.0h0M2444.2,1676.3h0M2444.1,1689.1h0M2449.2,1701.9h0M2447.7,1697.2h0M2446.3,1677.4h0M2445.1,1666.7h0M2447.7,1659.5h0M2445.7,1688.6h0M2444.8,1684.2h0M2444.4,1694.4h0M2445.2,1669.5h0M2451.3,1658.4h0M2453.1,1654.8h0M2442.5,1682.4h0" stroke="#e7a6a6" stroke-width="3.1" stroke-linecap="round" fill="none"/>
<path d="M2470.9,1628.3h0M2460.6,1643.9h0M2455.3,1704.6h0M2462.6,1633.5h0M2468.6,1603.5h0M2471.4,1629.8h0M2453.2,1660.7h0M2459.3,1698.2h0M2457.2,1643.2h0M2452.6,1672.1h0M2470.3,1596.7h0M2474.1,1610.6h0M2458.4,1637.9h0M2450.5,1693.7h0M2452.6,1660.2h0M2454.3,1638.7h0M2459.0,1639.7h0M2469.7,1593.8h0M2454.1,1650.9h0M2451.6,1675.4h0M2464.9,1618.0h0M2467.1,1612.4h0M2452.1,1691.3h0M2463.3,1698.1h0M2463.8,1606.6h0M2470.9,1600.7h0M2476.3,1630.8h0M2468.7,1639.1h0M2466.2,1604.5h0M2457.3,1686.9h0M2467.0,1620.3h0M2449.8,1689.6h0M2460.0,1649.9h0M2469.0,1596.4h0M2465.6,1605.1h0M2452.5,1689.0h0M2457.5,1676.9h0M2467.1,1610.5h0M2460.4,1637.1h0M2450.1,1695.9h0M2470.1,1601.8h0M2463.9,1643.3h0M2456.0,1692.5h0M2454.7,1656.8h0M2468.2,1624.8h0M2462.2,1642.3h0M2471.8,1597.2h0M2470.7,1610.1h0M2463.7,1617.5h0M2454.7,1673.8h0M2462.1,1644.9h0M2462.9,1626.6h0M2464.9,1645.6h0M2466.5,1603.4h0M2460.9,1625.4h0M2462.0,1625.6h0M2468.2,1627.1h0M2464.4,1605.8h0M2463.4,1618.1h0M2467.6,1633.8h0M2451.5,1644.8h0M2455.2,1702.9h0M2464.8,1627.6h0M2467.7,1605.0h0M2476.0,1605.2h0M2455.6,1658.9h0M2453.5,1703.4h0M2467.0,1633.3h0M2453.5,1683.2h0M2456.1,1694.0h0M2473.2,1629.5h0M2457.1,1671.8h0M2449.9,1652.2h0" stroke="#d8d8d8" stroke-width="3.1" stroke-linecap="round" fill="none"/>
<path d="M2445.4,1690.0h0M2446.2,1685.5h0M2452.0,1657.2h0M2446.5,1670.6h0M2442.6,1681.2h0M2446.4,1700.1h0M2449.6,1703.6h0M2445.5,1672.5h0M2448.5,1704.1h0M2444.5,1695.2h0" stroke="#e3b3b3" stroke-width="3.1" stroke-linecap="round" fill="none"/>
<path d="M2457.6,1703.3h0M2467.1,1617.2h0M2444.3,1672.9h0M2460.0,1631.9h0M2450.3,1647.1h0" stroke="#e0bfbf" stroke-width="3.1" stroke-linecap="round" fill="none"/>
<path d="M2500.0,1680.4h0M2506.8,1626.2h0M2506.4,1642.5h0M2498.9,1652.4h0M2502.3,1651.9h0M2503.7,1610.1h0M2505.7,1637.0h0M2508.8,1624.4h0M2507.8,1638.9h0M2492.0,1694.8h0M2504.3,1621.3h0M2498.9,1664.8h0M2500.3,1609.4h0M2506.8,1621.1h0M2497.1,1679.5h0M2489.4,1707.2h0M2503.3,1652.9h0M2487.4,1710.8h0M2499.2,1677.9h0M2500.3,1678.4h0M2505.6,1613.6h0M2503.5,1613.6h0M2495.6,1596.9h0M2496.1,1687.2h0M2506.2,1631.1h0M2496.6,1601.5h0M2498.1,1684.4h0M2488.1,1710.8h0M2498.3,1684.9h0M2507.4,1640.3h0M2484.7,1714.3h0M2503.5,1634.8h0M2502.1,1616.1h0M2488.8,1710.7h0M2502.5,1662.7h0M2501.6,1614.1h0M2505.2,1632.9h0M2503.3,1642.3h0M2484.4,1716.5h0M2494.5,1698.4h0M2492.3,1706.1h0M2502.0,1634.4h0M2505.6,1641.8h0M2493.0,1692.0h0M2502.2,1607.9h0M2506.1,1635.8h0M2505.3,1652.1h0M2600.3,1644.8h0M2594.9,1677.1h0M2614.1,1708.1h0M2610.7,1631.9h0M2611.7,1678.3h0M2604.4,1705.0h0M2620.7,1652.5h0M2600.8,1646.8h0M2616.5,1723.3h0M2608.6,1629.1h0M2609.9,1604.0h0M2607.7,1701.6h0M2604.2,1710.5h0M2608.6,1698.7h0M2590.0,1606.1h0M2612.4,1617.4h0M2597.1,1646.7h0M2610.6,1631.1h0M2615.9,1660.7h0M2589.0,1653.7h0M2599.6,1657.8h0M2606.3,1607.3h0M2582.1,1668.4h0M2604.0,1630.3h0M2607.8,1736.2h0M2590.7,1641.6h0M2590.8,1683.3h0M2589.3,1623.6h0M2619.6,1688.8h0M2588.9,1671.6h0M2609.6,1728.4h0M2594.0,1634.1h0M2595.0,1710.0h0M2588.2,1692.7h0M2587.5,1622.9h0M2597.7,1610.8h0M2591.7,1687.2h0M2603.9,1673.3h0M2602.2,1590.3h0M2595.4,1660.2h0M2612.3,1709.7h0M2602.7,1642.4h0M2596.8,1649.4h0M2599.7,1647.7h0M2610.4,1710.4h0M2608.4,1642.1h0M2616.6,1651.8h0M2600.4,1678.6h0M2613.0,1647.5h0M2605.6,1615.5h0M2612.8,1645.8h0M2602.4,1685.7h0M2593.4,1695.5h0M2621.0,1647.8h0M2593.9,1659.3h0M2598.8,1643.3h0M2591.0,1614.2h0M2613.1,1669.9h0M2611.5,1683.1h0M2593.4,1597.3h0M2620.1,1695.1h0M2589.7,1603.8h0M2597.6,1675.4h0M2597.0,1652.2h0M2615.7,1685.1h0M2618.5,1690.9h0M2589.4,1684.8h0M2591.9,1649.5h0M2612.6,1714.3h0M2603.4,1640.8h0M2599.6,1634.5h0M2595.3,1697.6h0M2611.2,1650.2h0M2613.9,1679.2h0M2619.5,1683.7h0M2600.3,1700.8h0M2605.8,1613.6h0M2595.8,1709.7h0M2612.2,1729.3h0M2611.9,1673.1h0M2613.8,1721.8h0M2590.8,1664.4h0M2618.6,1705.1h0M2583.2,1636.6h0M2597.4,1641.2h0M2602.9,1601.1h0M2620.4,1663.4h0M2604.4,1629.0h0M2617.0,1691.9h0M2580.7,1644.8h0M2602.2,1678.8h0M2594.6,1699.6h0M2594.6,1662.1h0M2581.3,1644.5h0M2602.1,1597.2h0M2607.6,1638.5h0M2598.3,1628.1h0M2613.8,1643.8h0M2608.5,1606.3h0M2591.9,1657.8h0M2582.7,1678.7h0M2598.3,1599.4h0M2603.6,1707.7h0M2615.7,1699.0h0M2605.1,1595.5h0M2594.8,1696.9h0M2594.1,1606.7h0M2588.2,1649.6h0M2589.3,1642.3h0M2599.9,1636.9h0M2609.6,1607.0h0M2588.5,1693.1h0M2596.9,1635.8h0M2602.9,1715.4h0M2590.8,1664.4h0M2601.0,1654.1h0M2614.1,1692.8h0M2585.6,1642.1h0M2598.4,1610.2h0M2593.0,1630.9h0M2616.4,1702.7h0M2593.1,1673.0h0M2596.1,1681.9h0M2603.1,1680.2h0M2602.7,1613.1h0M2614.3,1609.0h0M2602.6,1666.3h0M2606.6,1651.4h0M2604.9,1673.1h0M2598.9,1707.9h0M2606.7,1652.5h0M2594.6,1667.9h0M2616.0,1647.0h0M2590.0,1705.1h0M2615.9,1716.3h0M2610.0,1620.1h0M2594.9,1622.5h0M2611.7,1720.7h0M2619.7,1677.7h0M2604.0,1704.0h0M2616.2,1726.3h0M2597.6,1605.1h0M2614.8,1655.7h0M2613.4,1708.3h0M2596.6,1644.3h0M2593.3,1595.4h0M2600.4,1689.6h0M2614.4,1691.5h0M2584.9,1682.6h0M2604.2,1728.4h0M2613.8,1671.9h0M2609.4,1635.6h0M2612.2,1617.5h0M2619.9,1663.6h0M2598.4,1632.0h0M2593.7,1645.7h0M2620.2,1661.4h0M2612.9,1688.1h0M2600.0,1635.5h0M2602.0,1645.1h0M2586.7,1634.0h0M2594.1,1648.5h0M2619.3,1665.7h0M2605.3,1603.0h0M2595.2,1696.9h0M2598.0,1623.6h0M2616.1,1695.2h0M2605.6,1727.3h0M2605.8,1687.8h0M2613.3,1639.8h0M2588.4,1664.0h0M2593.3,1626.0h0M2596.9,1683.4h0M2606.9,1603.6h0M2594.4,1612.8h0M2612.1,1732.7h0M2598.7,1608.7h0M2593.3,1634.4h0M2602.8,1671.5h0M2601.4,1599.3h0M2604.0,1705.0h0M2611.6,1664.1h0M2591.1,1687.8h0M2595.0,1656.2h0M2620.7,1684.6h0M2588.0,1640.8h0M2617.7,1681.4h0M2612.3,1716.7h0M2591.2,1615.4h0M2605.5,1661.8h0M2600.0,1628.2h0M2604.1,1703.2h0M2605.3,1605.2h0M2590.6,1668.6h0M2594.0,1637.5h0M2603.9,1704.0h0M2607.0,1613.0h0M2613.6,1646.3h0M2605.0,1609.3h0M2603.6,1704.5h0M2592.1,1665.0h0M2601.3,1655.7h0M2596.8,1673.0h0M2595.1,1597.5h0M2585.8,1687.1h0M2600.6,1695.2h0M2584.0,1665.2h0M2608.3,1625.1h0M2589.3,1623.4h0M2600.0,1616.6h0M2584.6,1680.5h0M2610.1,1689.3h0M2607.3,1651.3h0M2609.6,1670.7h0M2621.6,1668.7h0M2605.9,1682.5h0M2619.7,1693.9h0M2591.2,1686.4h0M2606.6,1603.7h0M2607.3,1647.6h0M2597.7,1646.5h0M2583.4,1640.5h0M2580.6,1646.8h0M2589.9,1694.9h0M2583.1,1656.5h0M2593.9,1614.6h0M2597.7,1640.1h0M2597.4,1588.5h0M2598.4,1635.1h0M2619.8,1652.3h0M2590.1,1635.8h0M2602.5,1683.3h0M2602.9,1601.3h0M2589.5,1685.2h0M2583.8,1661.9h0M2602.9,1635.4h0M2607.7,1729.9h0M2599.2,1622.4h0M2606.5,1732.7h0M2581.8,1647.0h0M2610.0,1681.2h0M2586.8,1621.2h0M2598.1,1629.6h0M2613.0,1645.2h0M2608.7,1716.1h0M2596.3,1676.0h0M2615.2,1655.3h0M2608.3,1615.0h0M2614.9,1702.2h0M2584.9,1663.7h0M2594.9,1655.3h0M2613.6,1728.5h0M2609.4,1639.3h0M2613.3,1730.8h0M2588.1,1623.5h0M2604.9,1653.8h0M2611.9,1625.0h0M2601.2,1604.1h0M2590.9,1619.9h0M2608.8,1738.5h0M2601.2,1601.2h0M2621.3,1710.5h0M2604.5,1658.7h0M2614.9,1653.7h0M2593.3,1624.9h0M2595.1,1640.5h0M2611.7,1694.2h0M2584.8,1698.8h0M2606.8,1652.7h0M2612.1,1692.2h0M2600.8,1685.2h0M2585.9,1623.5h0M2609.2,1669.4h0M2610.3,1643.3h0M2584.8,1634.8h0M2598.6,1626.3h0M2603.3,1651.4h0M2602.6,1600.0h0M2591.6,1635.3h0M2596.5,1608.0h0M2620.1,1687.3h0M2617.5,1667.3h0M2615.9,1719.4h0M2613.8,1670.4h0M2607.9,1687.9h0M2586.4,1689.4h0M2602.7,1635.2h0M2606.9,1595.3h0M2604.4,1737.4h0M2590.5,1608.3h0M2586.3,1663.6h0M2603.6,1705.6h0M2588.3,1640.1h0M2597.2,1646.0h0M2584.8,1645.9h0M2584.6,1670.7h0M2599.9,1671.7h0M2583.9,1673.0h0M2586.8,1612.2h0M2618.8,1672.5h0M2609.3,1678.2h0M2615.2,1714.7h0M2592.0,1692.2h0M2614.5,1715.1h0M2604.0,1640.7h0M2619.3,1698.1h0M2595.1,1685.4h0M2592.1,1690.5h0M2610.7,1739.3h0M2593.1,1673.6h0M2601.5,1616.2h0M2600.6,1682.4h0M2612.8,1657.8h0M2610.3,1672.9h0M2611.0,1729.8h0M2619.9,1667.4h0M2618.6,1698.5h0M2607.7,1628.6h0M2606.7,1641.1h0M2591.6,1693.5h0M2613.9,1727.1h0M2588.7,1631.6h0M2594.9,1683.4h0M2602.7,1599.8h0M2611.1,1721.5h0M2605.7,1682.1h0M2582.8,1660.6h0M2597.8,1607.6h0M2602.8,1600.7h0M2615.0,1696.8h0M2614.0,1619.9h0M2611.8,1732.5h0M2589.2,1641.5h0M2599.7,1713.5h0M2618.1,1704.9h0M2597.3,1704.5h0M2606.8,1736.5h0M2598.2,1648.3h0M2614.3,1697.6h0M2609.7,1605.8h0M2603.5,1699.6h0M2614.6,1675.7h0M2619.2,1658.6h0M2596.9,1686.0h0M2587.0,1672.9h0M2606.1,1641.2h0M2619.4,1640.8h0M2586.8,1694.2h0M2617.4,1684.3h0M2596.3,1699.7h0M2598.3,1688.8h0M2608.6,1655.1h0M2620.2,1658.1h0M2590.9,1604.7h0M2619.7,1645.7h0M2606.5,1624.3h0M2610.5,1686.0h0M2618.3,1675.0h0M2598.6,1612.1h0M2592.8,1631.8h0M2606.5,1612.2h0M2622.0,1669.8h0M2594.5,1604.1h0M2594.0,1630.2h0M2587.1,1691.5h0M2606.8,1725.1h0M2584.5,1672.3h0M2598.9,1611.3h0M2602.3,1597.1h0M2610.4,1680.9h0M2593.2,1619.2h0M2601.5,1595.9h0M2585.2,1679.4h0M2605.7,1734.0h0M2609.9,1681.6h0M2612.4,1720.1h0M2612.3,1679.5h0M2584.4,1633.5h0M2591.8,1669.1h0M2614.0,1689.3h0M2581.3,1661.9h0M2586.2,1658.8h0M2616.2,1716.0h0M2601.3,1627.1h0M2614.1,1649.0h0M2604.6,1596.6h0M2608.3,1626.6h0M2604.8,1647.6h0M2594.2,1641.8h0M2596.0,1621.0h0M2601.5,1706.0h0M2592.2,1600.1h0M2605.7,1686.2h0M2619.2,1692.7h0M2601.8,1590.5h0M2601.1,1685.0h0M2604.9,1616.3h0M2590.3,1643.5h0M2593.9,1697.2h0M2590.4,1676.9h0M2610.4,1615.9h0M2589.3,1696.5h0M2602.0,1604.4h0M2606.4,1590.9h0M2600.0,1703.4h0M2606.8,1710.0h0M2613.5,1624.9h0M2589.7,1694.0h0M2609.3,1735.9h0M2609.7,1732.9h0M2593.4,1658.8h0M2612.1,1707.4h0M2594.1,1662.5h0M2597.6,1668.4h0M2607.2,1676.8h0M2589.4,1658.7h0M2587.3,1679.4h0M2606.0,1625.7h0M2605.2,1597.4h0M2609.5,1722.8h0M2614.7,1689.3h0M2604.3,1634.8h0M2580.9,1648.1h0M2590.7,1651.8h0M2594.9,1639.7h0M2599.0,1626.3h0M2599.7,1635.4h0M2602.0,1715.7h0M2612.6,1690.0h0M2607.4,1622.4h0M2604.2,1714.6h0M2587.6,1689.4h0M2619.0,1643.4h0M2613.1,1610.3h0M2592.8,1705.1h0M2614.9,1696.5h0M2614.9,1626.1h0M2610.9,1646.4h0M2589.0,1681.9h0M2604.6,1685.0h0M2604.3,1705.8h0M2613.5,1637.0h0M2611.9,1718.1h0M2589.1,1666.8h0M2597.1,1685.4h0M2603.6,1726.8h0M2584.2,1683.6h0M2606.6,1717.6h0M2605.1,1600.8h0M2599.1,1678.8h0M2609.0,1728.4h0M2613.6,1700.7h0M2582.8,1682.2h0M2614.9,1681.6h0M2621.7,1660.8h0M2598.3,1707.5h0M2596.5,1707.9h0M2582.7,1629.9h0M2615.4,1669.8h0M2594.5,1684.1h0M2610.4,1696.2h0M2617.7,1669.9h0M2611.2,1652.7h0M2603.0,1709.7h0M2614.9,1673.0h0M2611.5,1615.5h0M2591.2,1704.4h0M2595.8,1708.6h0M2606.7,1633.1h0M2605.3,1645.0h0M2599.6,1708.2h0M2606.3,1639.5h0M2607.5,1694.0h0M2598.3,1709.1h0M2594.3,1659.3h0M2591.4,1625.9h0M2611.9,1607.0h0M2618.3,1695.0h0M2600.5,1607.0h0M2582.3,1672.2h0M2619.3,1639.7h0M2600.5,1602.4h0M2613.0,1727.3h0M2599.5,1697.1h0M2602.3,1720.5h0M2606.6,1619.5h0M2601.9,1618.5h0M2600.0,1697.3h0M2581.5,1655.1h0M2617.5,1682.0h0M2587.5,1655.8h0M2585.0,1669.7h0M2596.9,1712.6h0M2599.6,1675.4h0M2588.0,1661.8h0M2601.7,1631.0h0M2617.9,1653.2h0M2604.5,1587.1h0M2606.7,1650.2h0M2606.6,1706.1h0M2585.2,1648.7h0M2608.9,1713.8h0M2606.1,1700.7h0M2609.7,1644.4h0M2584.2,1662.7h0M2611.8,1615.9h0M2612.4,1605.2h0M2609.1,1718.4h0M2605.9,1701.1h0M2605.2,1714.7h0M2596.8,1704.2h0M2609.7,1664.6h0M2591.1,1637.1h0M2599.7,1668.9h0M2587.0,1668.9h0M2592.2,1610.1h0M2608.3,1633.8h0M2603.6,1667.1h0M2619.3,1657.3h0M2595.2,1631.2h0M2612.5,1671.3h0M2603.5,1613.1h0M2619.5,1682.0h0M2609.1,1713.8h0M2591.8,1682.5h0M2608.0,1658.4h0M2599.9,1615.7h0M2611.5,1608.9h0M2613.7,1723.9h0M2620.6,1687.6h0M2594.8,1607.1h0M2616.2,1678.2h0M2593.6,1666.6h0M2591.1,1655.6h0M2617.8,1639.2h0M2608.6,1623.3h0M2586.0,1691.3h0M2591.4,1694.1h0M2621.7,1673.8h0M2613.7,1720.3h0M2609.9,1659.7h0M2607.5,1641.7h0M2600.4,1595.8h0M2603.5,1708.3h0M2596.8,1676.8h0M2592.0,1620.8h0M2580.7,1662.7h0M2591.8,1688.1h0M2599.3,1667.9h0M2606.3,1672.7h0M2602.0,1661.3h0M2614.8,1656.8h0M2616.6,1629.7h0M2600.0,1678.4h0M2585.3,1621.7h0M2601.9,1588.4h0M2593.0,1660.0h0M2613.5,1697.7h0M2602.7,1641.5h0M2599.2,1598.1h0M2616.5,1676.5h0M2587.9,1679.0h0M2604.9,1675.6h0M2590.4,1681.0h0M2592.6,1595.6h0M2602.9,1671.6h0M2602.4,1689.6h0M2604.0,1690.8h0M2606.4,1712.6h0M2603.3,1694.7h0M2609.2,1675.9h0M2615.6,1712.5h0M2600.8,1595.5h0M2600.8,1688.6h0M2614.9,1681.2h0M2600.0,1625.1h0M2607.6,1731.0h0M2609.3,1602.8h0M2619.1,1683.1h0M2586.5,1687.3h0M2585.6,1669.7h0M2616.4,1654.5h0M2600.0,1692.0h0M2591.6,1679.6h0M2590.7,1682.3h0M2607.2,1731.9h0M2608.8,1630.2h0M2618.1,1701.9h0M2604.7,1604.6h0M2601.2,1616.3h0M2610.5,1642.4h0M2591.1,1626.1h0M2590.6,1706.0h0M2591.3,1687.2h0M2596.1,1614.5h0M2621.4,1677.8h0M2581.7,1645.9h0M2593.0,1708.7h0M2614.6,1627.3h0M2591.7,1683.7h0M2605.6,1638.6h0M2615.5,1651.8h0M2589.2,1674.7h0M2581.5,1658.3h0M2607.6,1653.5h0M2590.2,1676.8h0M2596.8,1712.9h0M2616.8,1720.0h0M2587.8,1662.3h0M2612.3,1625.0h0M2591.9,1635.3h0M2591.6,1661.9h0M2609.9,1638.7h0M2599.5,1617.2h0M2610.4,1697.1h0M2604.6,1714.3h0M2618.1,1721.2h0M2594.6,1691.5h0M2616.1,1694.5h0M2600.1,1668.0h0M2588.7,1613.5h0M2606.8,1611.7h0M2613.5,1690.0h0M2612.9,1703.3h0M2599.7,1618.5h0M2605.9,1707.0h0M2616.0,1668.7h0M2617.4,1632.3h0M2609.9,1736.0h0M2586.4,1635.3h0M2613.4,1660.8h0M2611.6,1611.1h0M2607.5,1676.1h0M2618.6,1649.5h0M2607.0,1643.4h0M2595.6,1654.1h0M2593.2,1684.7h0M2593.7,1669.8h0M2588.8,1607.9h0M2598.9,1661.8h0M2596.5,1666.3h0M2592.6,1643.4h0M2604.3,1671.0h0M2592.8,1661.5h0M2611.6,1703.1h0M2619.8,1675.9h0M2602.5,1678.0h0M2604.9,1639.4h0M2608.9,1622.6h0M2584.1,1640.7h0M2602.2,1685.1h0M2608.6,1623.2h0M2618.2,1636.6h0M2583.0,1679.2h0M2596.0,1657.0h0M2604.9,1712.5h0M2609.0,1703.5h0M2614.6,1693.7h0M2608.5,1703.4h0M2602.7,1654.4h0M2604.9,1617.7h0M2601.3,1619.7h0M2595.0,1617.3h0M2618.4,1684.6h0M2587.7,1681.7h0M2612.1,1606.2h0M2599.0,1591.9h0M2596.6,1645.3h0M2610.1,1619.8h0M2600.6,1620.9h0M2611.5,1610.3h0M2615.2,1699.8h0M2603.7,1671.9h0M2607.4,1636.4h0M2589.8,1652.5h0M2593.7,1617.2h0M2588.3,1670.2h0M2586.5,1663.7h0M2611.1,1716.0h0M2610.4,1601.9h0M2617.6,1670.1h0M2591.6,1633.9h0M2596.5,1703.6h0M2598.2,1685.7h0M2611.0,1714.5h0M2616.5,1670.3h0M2587.2,1618.2h0M2606.2,1713.9h0M2616.4,1635.4h0M2613.1,1634.1h0M2597.6,1713.5h0M2603.6,1702.0h0M2608.4,1634.2h0M2592.6,1611.6h0M2590.3,1607.9h0M2611.5,1681.4h0M2586.1,1682.9h0M2612.9,1712.3h0M2612.1,1724.0h0M2617.2,1723.9h0M2585.6,1660.8h0M2600.9,1675.0h0M2615.7,1732.3h0M2603.5,1632.6h0M2590.8,1705.5h0M2604.4,1685.8h0M2595.9,1593.1h0M2600.5,1699.5h0M2589.1,1679.2h0M2597.5,1651.9h0M2604.4,1611.8h0M2598.7,1601.2h0M2592.1,1602.3h0M2608.3,1601.6h0M2611.9,1646.8h0M2603.0,1588.7h0M2604.4,1599.1h0M2600.4,1628.3h0M2613.7,1668.5h0M2604.4,1597.0h0M2616.6,1675.3h0M2612.3,1616.6h0M2610.2,1645.9h0M2605.5,1600.2h0M2606.3,1698.8h0M2603.2,1621.6h0M2621.4,1690.7h0M2608.8,1695.5h0M2616.7,1646.3h0M2620.7,1655.6h0M2609.4,1618.4h0M2613.8,1656.4h0M2602.3,1695.4h0M2597.0,1708.6h0M2602.9,1725.7h0M2594.7,1636.9h0M2597.6,1633.0h0M2604.7,1712.4h0M2614.2,1639.5h0M2611.3,1733.3h0M2613.3,1653.6h0M2612.6,1691.0h0M2618.9,1681.4h0M2618.9,1669.2h0M2599.9,1596.7h0M2618.8,1671.2h0M2587.2,1691.5h0M2608.6,1694.7h0M2592.4,1690.1h0M2604.1,1701.2h0M2601.9,1681.7h0M2599.2,1685.2h0M2603.1,1710.9h0M2598.9,1625.1h0M2599.6,1718.2h0M2590.8,1643.7h0M2603.7,1645.7h0M2593.4,1688.3h0M2583.0,1659.0h0M2616.4,1656.2h0M2610.7,1698.1h0M2592.9,1670.2h0M2606.1,1666.0h0M2601.8,1724.9h0M2601.7,1592.5h0M2600.4,1655.6h0M2612.0,1712.5h0M2609.8,1625.4h0M2587.1,1640.2h0M2584.3,1638.2h0M2612.7,1696.9h0M2617.8,1632.4h0M2601.7,1665.6h0M2597.7,1650.2h0M2589.5,1634.9h0M2615.4,1627.8h0M2608.1,1640.6h0M2609.8,1627.1h0M2595.2,1700.5h0M2618.0,1627.5h0M2604.1,1715.1h0M2619.8,1694.7h0M2610.5,1597.1h0M2617.5,1659.6h0M2605.7,1700.7h0M2614.7,1658.2h0M2601.8,1628.0h0M2616.0,1621.7h0M2611.5,1614.8h0M2612.3,1615.9h0M2616.9,1720.2h0M2606.1,1669.2h0M2590.4,1638.1h0M2616.4,1705.4h0M2604.6,1693.9h0M2590.2,1637.1h0M2614.2,1673.2h0M2583.9,1645.8h0M2584.0,1596.9h0M2581.2,1595.9h0M2586.0,1600.7h0M2583.3,1596.7h0M2578.6,1593.4h0M2588.2,1601.3h0M2592.1,1600.1h0M2575.1,1592.4h0M2587.5,1598.2h0M2575.6,1594.6h0M2585.4,1597.9h0M2588.6,1598.3h0M2593.5,1599.9h0M2588.0,1600.5h0M2578.1,1595.7h0M2577.1,1592.1h0M2587.3,1598.3h0M2587.3,1601.2h0M2589.0,1597.5h0M2580.2,1596.1h0M2581.6,1594.0h0M2592.3,1598.6h0M2578.0,1596.0h0M2584.3,1597.7h0M2590.8,1598.6h0M2576.6,1617.3h0M2576.8,1619.6h0M2576.6,1618.2h0M2576.9,1618.7h0M2576.1,1616.7h0M2579.8,1617.8h0" stroke="#1f3160" stroke-width="3.1" stroke-linecap="round" fill="none"/>
<path d="M2465.0,1723.0h0M2489.7,1642.2h0M2484.6,1670.2h0M2494.3,1622.4h0M2464.9,1714.6h0M2486.6,1680.3h0M2497.6,1646.5h0M2465.7,1711.6h0M2476.1,1685.0h0M2480.0,1661.6h0M2470.5,1697.9h0M2485.7,1632.3h0M2488.7,1623.2h0M2490.6,1620.4h0M2481.3,1650.0h0M2483.2,1690.7h0M2464.9,1707.2h0M2464.5,1719.6h0M2463.4,1718.6h0M2463.2,1707.4h0M2465.0,1710.8h0M2492.5,1605.4h0M2490.7,1626.4h0M2464.9,1729.1h0M2490.6,1618.7h0M2478.9,1671.0h0M2465.7,1715.5h0M2463.1,1709.0h0M2487.6,1613.6h0M2465.3,1712.2h0M2464.7,1716.6h0M2478.8,1664.0h0M2466.5,1717.5h0M2489.7,1622.3h0M2464.5,1707.8h0M2465.6,1718.1h0M2490.6,1600.4h0M2486.7,1611.7h0M2486.2,1635.4h0M2466.2,1715.2h0M2492.7,1619.6h0M2464.8,1712.4h0M2468.4,1686.7h0M2490.0,1622.4h0M2466.1,1713.2h0M2481.6,1674.1h0M2461.7,1712.2h0M2490.6,1682.7h0M2486.7,1632.0h0M2463.1,1717.8h0M2473.7,1699.2h0M2485.2,1602.6h0M2477.9,1687.7h0M2487.5,1666.3h0M2478.7,1664.1h0M2488.2,1616.5h0M2495.4,1637.3h0M2475.4,1660.1h0M2477.4,1676.6h0M2487.1,1633.8h0M2481.2,1666.1h0M2466.5,1722.3h0M2463.0,1719.5h0M2496.6,1620.3h0M2480.7,1655.7h0M2490.8,1626.5h0M2492.9,1626.1h0M2465.1,1708.7h0M2478.6,1665.1h0M2478.7,1737.7h0M2482.8,1762.9h0M2487.5,1783.6h0" stroke="#4e6fae" stroke-width="3.1" stroke-linecap="round" fill="none"/>
<path d="M2446.8,1709.8h0M2472.8,1665.0h0M2446.4,1711.0h0M2468.2,1671.3h0M2471.4,1668.1h0M2475.9,1657.6h0M2469.4,1684.7h0M2486.3,1623.3h0M2466.4,1697.3h0M2466.0,1674.5h0M2479.2,1637.2h0M2469.6,1679.7h0M2472.5,1668.8h0M2473.7,1678.9h0M2485.5,1633.6h0M2473.0,1683.2h0M2485.0,1622.1h0M2483.1,1617.3h0M2479.7,1637.8h0M2466.7,1675.3h0M2469.7,1652.8h0M2478.9,1642.7h0M2450.7,1715.7h0M2484.8,1631.0h0M2470.2,1687.7h0M2458.8,1729.1h0M2484.5,1618.7h0M2454.7,1719.7h0M2463.7,1698.0h0M2450.9,1712.5h0M2460.0,1729.7h0M2450.8,1711.6h0M2484.8,1623.9h0M2483.8,1634.0h0M2474.1,1662.2h0M2454.5,1723.3h0M2468.2,1652.0h0M2455.6,1720.4h0M2456.6,1727.0h0M2449.5,1712.7h0M2454.5,1717.1h0M2464.9,1699.3h0M2465.5,1681.7h0M2482.1,1636.1h0M2472.0,1663.5h0M2474.0,1651.6h0M2462.9,1687.9h0M2472.9,1638.2h0M2465.4,1662.5h0M2468.6,1697.2h0M2469.1,1682.6h0M2474.4,1685.2h0M2456.1,1723.8h0M2474.5,1649.4h0M2469.0,1665.4h0M2455.8,1721.8h0M2470.7,1689.7h0" stroke="#8aa2c8" stroke-width="3.1" stroke-linecap="round" fill="none"/>
<path d="M2478.6,1638.4h0M2469.9,1665.0h0M2477.8,1646.5h0M2468.4,1667.8h0M2470.8,1642.2h0M2464.9,1663.5h0M2462.5,1689.5h0M2466.6,1664.8h0M2469.3,1659.4h0M2466.2,1671.0h0M2480.1,1626.7h0M2452.1,1720.0h0M2461.0,1690.1h0M2463.6,1706.1h0M2463.1,1675.1h0M2466.8,1665.6h0M2465.1,1697.1h0M2466.0,1674.6h0M2464.0,1705.1h0M2480.7,1595.1h0M2479.2,1642.8h0M2482.3,1627.2h0M2467.9,1678.2h0M2460.2,1670.4h0M2462.2,1677.5h0M2480.3,1647.7h0M2468.5,1661.1h0M2463.3,1705.6h0M2479.0,1594.6h0M2480.1,1599.6h0M2479.7,1601.2h0M2470.9,1658.6h0M2474.2,1650.9h0M2480.5,1594.1h0M2465.1,1677.3h0M2481.4,1629.7h0M2462.7,1671.3h0M2466.5,1674.6h0M2480.1,1609.3h0M2476.6,1654.1h0M2480.4,1610.5h0M2472.2,1647.6h0M2481.8,1622.4h0M2475.8,1648.1h0" stroke="#9fb2d2" stroke-width="3.1" stroke-linecap="round" fill="none"/>
<path d="M2466.7,1613.8h0M2457.5,1660.0h0M2452.7,1695.5h0M2450.9,1647.3h0M2471.1,1614.0h0M2468.3,1622.4h0M2450.1,1674.7h0M2460.5,1645.8h0M2461.9,1637.8h0M2466.5,1618.9h0M2458.4,1644.5h0M2464.3,1618.0h0M2461.1,1631.0h0M2468.9,1622.6h0M2461.0,1642.4h0" stroke="#dccccc" stroke-width="3.1" stroke-linecap="round" fill="none"/>
<path d="M2441.0,1681.9h0M2439.9,1673.1h0M2444.4,1655.0h0M2445.1,1657.7h0M2440.4,1678.0h0M2439.3,1682.4h0" stroke="#d95b5e" stroke-width="3.1" stroke-linecap="round" fill="none"/>
<path d="M2448.6,1654.5h0M2440.0,1682.2h0M2443.7,1703.9h0M2439.9,1685.5h0M2443.6,1662.9h0M2439.3,1681.6h0" stroke="#e68788" stroke-width="3.1" stroke-linecap="round" fill="none"/>
<path d="M2446.8,1657.3h0M2442.2,1690.3h0M2443.7,1663.7h0M2441.9,1668.6h0M2444.4,1701.5h0M2441.5,1698.1h0M2445.4,1706.3h0M2447.0,1661.7h0M2439.9,1689.7h0" stroke="#e37778" stroke-width="3.1" stroke-linecap="round" fill="none"/>
<path d="M2447.6,1654.3h0" stroke="#c0484f" stroke-width="3.1" stroke-linecap="round" fill="none"/>
<line x1="2729.8" y1="1574.7" x2="2729.8" y2="1834.8" stroke="#000" stroke-width="2" />
<line x1="2728.8" y1="1833.8" x2="2930.0" y2="1833.8" stroke="#000" stroke-width="2" />
<text x="2723.3" y="1564.8" font-family='"Liberation Serif", serif' font-size="20.5" font-weight="bold" font-style="normal" fill="#000" text-anchor="start" textLength="222.2" lengthAdjust="spacingAndGlyphs" >MelA in Predicted Cells</text>
<path d="M2776.7,1626.4h0M2773.2,1645.0h0M2760.2,1674.5h0M2778.5,1608.1h0M2772.4,1641.4h0M2762.4,1653.3h0M2766.1,1664.8h0M2777.6,1599.6h0M2779.6,1626.7h0M2760.5,1702.7h0M2763.7,1670.0h0M2762.6,1675.1h0M2759.4,1671.1h0M2773.2,1646.0h0M2759.8,1680.0h0M2771.8,1640.6h0M2762.8,1698.1h0M2766.3,1665.6h0M2758.5,1690.3h0M2770.1,1656.4h0M2765.5,1674.6h0M2779.2,1614.4h0M2777.9,1612.1h0M2777.9,1642.4h0M2775.5,1628.3h0M2760.7,1693.8h0M2774.9,1632.4h0M2754.7,1699.7h0M2776.9,1596.4h0M2778.1,1632.3h0M2782.5,1625.1h0M2768.0,1661.1h0M2779.6,1599.6h0M2779.1,1617.3h0M2776.9,1639.3h0M2768.9,1652.9h0M2764.4,1699.3h0M2780.0,1612.0h0M2765.0,1681.7h0M2757.8,1691.5h0M2774.3,1639.4h0M2762.7,1666.0h0M2771.7,1647.6h0M2774.0,1649.4h0M2763.0,1665.1h0M2772.7,1629.5h0" stroke="#aebed6" stroke-width="3.1" stroke-linecap="round" fill="none"/>
<path d="M2742.3,1680.0h0M2751.5,1657.2h0M2744.4,1669.0h0M2742.1,1681.2h0M2748.7,1662.7h0M2743.2,1703.9h0M2746.5,1661.7h0M2744.7,1669.5h0" stroke="#e89898" stroke-width="3.1" stroke-linecap="round" fill="none"/>
<path d="M2771.8,1709.1h0M2768.9,1727.0h0M2792.8,1634.2h0M2782.1,1670.8h0M2787.2,1615.8h0M2771.2,1726.3h0M2784.1,1670.2h0M2795.5,1641.0h0M2791.9,1654.0h0M2796.1,1630.3h0M2801.7,1621.1h0M2797.2,1624.3h0M2789.5,1606.8h0M2792.8,1642.6h0M2802.1,1630.7h0M2779.5,1694.8h0M2792.3,1606.5h0M2785.2,1676.7h0M2792.7,1654.0h0M2799.2,1615.9h0M2797.4,1633.9h0M2782.7,1690.7h0M2781.6,1665.4h0M2781.7,1658.7h0M2770.8,1710.1h0M2792.0,1605.4h0M2791.1,1648.9h0M2778.4,1675.3h0M2793.9,1602.8h0M2787.2,1609.3h0M2783.2,1686.7h0M2778.4,1671.0h0M2786.5,1684.3h0M2771.5,1720.8h0M2794.7,1633.3h0M2788.5,1658.6h0M2788.5,1645.3h0M2784.6,1674.8h0M2769.3,1727.1h0M2791.6,1607.4h0M2772.3,1710.4h0M2794.1,1607.8h0M2788.8,1649.7h0M2779.3,1696.0h0M2790.6,1652.8h0M2795.1,1642.1h0M2787.1,1594.9h0M2788.7,1648.5h0M2791.8,1629.8h0M2772.6,1715.7h0M2794.8,1630.3h0M2788.7,1663.6h0M2795.2,1635.5h0M2771.5,1725.7h0M2787.9,1597.3h0M2790.8,1672.0h0M2795.2,1641.2h0M2792.8,1628.9h0M2788.2,1594.6h0M2790.1,1682.7h0M2783.4,1679.7h0M2783.9,1693.7h0M2777.9,1662.9h0M2778.4,1677.5h0M2789.2,1650.4h0M2770.8,1719.6h0M2792.6,1642.7h0M2769.5,1722.7h0M2773.3,1712.8h0M2794.9,1637.3h0M2776.9,1676.6h0M2780.9,1689.1h0M2793.0,1652.0h0M2783.6,1695.3h0M2786.6,1633.8h0M2785.4,1696.3h0M2792.8,1644.7h0M2770.6,1717.2h0M2794.6,1642.5h0M2789.8,1695.1h0M2781.2,1672.1h0M2792.4,1626.1h0M2798.5,1615.2h0M2764.5,1733.6h0M2765.8,1741.5h0M2765.5,1746.1h0M2765.2,1733.4h0M2765.7,1742.2h0M2764.1,1734.5h0M2765.2,1734.6h0M2764.8,1746.2h0M2765.4,1740.8h0M2780.8,1742.3h0M2786.0,1772.1h0M2788.2,1791.1h0M2786.1,1789.4h0M2781.9,1755.2h0M2785.5,1770.0h0M2779.3,1741.7h0M2782.9,1757.8h0M2780.3,1747.2h0M2783.7,1758.3h0M2778.3,1744.8h0M2787.0,1783.6h0M2786.4,1767.8h0M2787.2,1785.9h0M2782.8,1759.7h0M2784.3,1761.7h0M2787.0,1787.0h0M2787.2,1783.9h0M2778.8,1737.2h0M2781.9,1744.6h0M2783.2,1763.4h0M2789.6,1791.5h0" stroke="#2d5199" stroke-width="3.1" stroke-linecap="round" fill="none"/>
<path d="M2775.2,1713.5h0M2792.0,1602.4h0M2796.2,1667.4h0M2791.7,1678.7h0M2779.6,1711.5h0M2772.1,1730.5h0M2791.8,1692.5h0M2797.4,1667.4h0M2776.0,1720.9h0M2776.3,1712.0h0M2805.2,1637.0h0M2790.6,1660.5h0M2795.4,1647.2h0M2804.0,1627.8h0M2798.5,1617.1h0M2798.4,1611.3h0M2779.3,1711.2h0M2782.0,1690.1h0M2791.8,1658.9h0M2796.4,1605.1h0M2795.0,1610.9h0M2791.1,1651.4h0M2797.6,1617.6h0M2800.3,1624.8h0M2796.6,1620.0h0M2786.1,1664.1h0M2795.6,1620.5h0M2791.1,1649.4h0M2784.7,1698.3h0M2791.5,1692.8h0M2794.5,1653.0h0M2792.8,1647.8h0M2805.7,1631.1h0M2796.1,1601.5h0M2788.6,1658.3h0M2794.6,1656.4h0M2798.3,1620.1h0M2791.2,1657.7h0M2786.3,1697.6h0M2793.9,1619.4h0M2788.3,1654.8h0M2775.6,1713.6h0M2771.4,1730.7h0M2796.1,1667.3h0M2803.0,1634.8h0M2775.8,1712.6h0M2793.0,1658.9h0M2774.8,1723.7h0M2789.7,1659.1h0M2790.1,1600.4h0M2801.6,1616.1h0M2797.7,1647.4h0M2790.2,1643.7h0M2791.5,1600.1h0M2791.3,1601.4h0M2788.6,1656.4h0M2781.7,1705.1h0M2784.4,1701.2h0M2798.4,1630.3h0M2794.8,1612.8h0M2787.2,1660.3h0M2787.0,1666.3h0M2772.6,1721.7h0M2792.2,1666.2h0M2781.2,1701.0h0M2796.2,1642.3h0M2773.9,1721.7h0M2786.6,1655.6h0M2800.1,1647.2h0M2793.9,1679.8h0M2796.8,1634.0h0M2778.1,1708.5h0M2799.5,1622.3h0M2791.2,1690.1h0M2784.5,1699.9h0M2795.5,1647.0h0M2787.9,1668.0h0M2789.0,1598.6h0M2763.9,1744.4h0M2765.3,1735.9h0M2786.5,1782.6h0M2783.1,1762.4h0M2779.5,1737.1h0M2784.0,1765.7h0M2781.8,1749.4h0M2780.3,1746.1h0M2788.2,1794.3h0M2780.0,1745.5h0M2786.4,1792.1h0M2784.1,1771.2h0M2782.4,1750.2h0" stroke="#2a498b" stroke-width="3.1" stroke-linecap="round" fill="none"/>
<path d="M2765.3,1663.7h0M2762.4,1705.0h0M2762.1,1678.2h0M2758.8,1698.2h0M2763.0,1700.2h0M2768.9,1684.7h0M2762.0,1689.5h0M2765.9,1697.3h0M2751.6,1720.0h0M2772.0,1668.8h0M2760.5,1690.1h0M2780.7,1642.1h0M2782.6,1617.3h0M2766.2,1675.3h0M2769.2,1652.8h0M2764.6,1697.1h0M2778.4,1642.7h0M2765.3,1698.0h0M2770.0,1667.3h0M2775.9,1633.4h0M2780.5,1603.9h0M2780.2,1595.1h0M2778.7,1642.8h0M2784.0,1618.7h0M2766.2,1676.8h0M2770.3,1657.7h0M2775.4,1642.7h0M2769.9,1652.0h0M2767.9,1686.7h0M2763.1,1661.7h0M2773.7,1650.9h0M2780.0,1594.1h0M2773.5,1651.6h0M2779.9,1604.2h0M2763.4,1678.6h0M2779.6,1609.3h0M2770.2,1648.7h0M2769.9,1656.6h0M2768.5,1665.4h0" stroke="#9fb2d2" stroke-width="3.1" stroke-linecap="round" fill="none"/>
<path d="M2752.8,1692.2h0M2751.3,1666.7h0M2767.0,1651.6h0M2760.2,1637.2h0M2768.1,1603.5h0M2772.0,1596.8h0M2752.7,1660.7h0M2761.5,1642.5h0M2769.8,1596.7h0M2754.9,1683.3h0M2756.9,1660.3h0M2757.9,1682.7h0M2776.2,1607.5h0M2753.8,1638.7h0M2759.8,1652.5h0M2754.0,1678.5h0M2756.1,1666.2h0M2751.1,1675.4h0M2751.6,1691.3h0M2775.5,1605.7h0M2757.3,1663.5h0M2763.3,1606.6h0M2770.4,1600.7h0M2774.1,1621.4h0M2764.1,1614.3h0M2759.5,1631.9h0M2763.6,1639.7h0M2756.8,1686.9h0M2754.0,1651.8h0M2770.6,1614.0h0M2765.2,1646.4h0M2749.6,1674.7h0M2757.4,1639.6h0M2760.0,1645.8h0M2755.1,1654.3h0M2749.7,1649.8h0M2765.1,1605.1h0M2752.0,1689.0h0M2753.4,1679.6h0M2766.6,1610.5h0M2762.5,1653.2h0M2751.9,1671.4h0M2759.9,1637.1h0M2749.6,1695.9h0M2769.6,1601.8h0M2766.2,1602.2h0M2759.3,1650.8h0M2768.2,1631.7h0M2761.7,1642.3h0M2771.3,1597.2h0M2757.9,1644.5h0M2771.1,1619.9h0M2760.6,1631.0h0M2762.4,1626.6h0M2766.0,1603.4h0M2751.0,1697.6h0M2756.8,1643.7h0M2764.4,1625.9h0M2767.8,1624.9h0M2775.4,1619.4h0M2767.7,1627.1h0M2762.4,1628.2h0M2761.6,1647.2h0M2763.9,1605.8h0M2762.9,1618.1h0M2750.1,1696.4h0M2767.2,1605.0h0M2767.8,1602.6h0M2755.2,1658.6h0M2755.1,1658.9h0M2754.3,1686.0h0M2753.2,1652.5h0" stroke="#d8d8d8" stroke-width="3.1" stroke-linecap="round" fill="none"/>
<path d="M2795.1,1605.8h0M2775.0,1728.7h0M2779.0,1717.9h0M2793.8,1659.5h0M2793.2,1613.4h0M2784.7,1716.5h0M2795.3,1659.5h0M2797.3,1663.9h0M2798.7,1650.5h0M2806.3,1626.2h0M2801.8,1651.9h0M2808.3,1624.4h0M2794.0,1605.0h0M2792.8,1666.9h0M2801.0,1628.8h0M2791.5,1694.8h0M2783.7,1677.3h0M2803.8,1621.3h0M2799.8,1609.4h0M2801.3,1651.8h0M2796.6,1679.5h0M2788.9,1707.2h0M2797.3,1680.0h0M2797.4,1639.5h0M2802.8,1652.9h0M2786.9,1710.8h0M2804.6,1633.0h0M2801.6,1618.5h0M2789.6,1694.8h0M2803.0,1613.6h0M2793.3,1693.3h0M2795.1,1596.9h0M2778.3,1724.0h0M2801.2,1610.1h0M2790.3,1664.5h0M2796.9,1652.1h0M2804.5,1651.8h0M2801.8,1640.8h0M2793.1,1660.0h0M2804.3,1620.1h0M2784.2,1697.9h0M2793.4,1667.4h0M2793.4,1672.8h0M2789.1,1683.5h0M2807.7,1619.1h0M2797.8,1612.6h0M2802.5,1649.1h0M2796.8,1681.0h0M2804.7,1632.9h0M2807.1,1624.2h0M2794.0,1672.6h0M2800.2,1644.6h0M2804.2,1614.5h0M2795.6,1648.9h0M2804.1,1639.4h0M2794.0,1698.4h0M2791.8,1706.1h0M2778.7,1719.1h0M2792.5,1692.0h0M2786.7,1696.7h0M2780.2,1717.3h0M2798.2,1638.7h0M2793.0,1598.7h0M2798.9,1673.4h0M2799.0,1644.9h0M2787.1,1662.6h0M2782.0,1716.2h0M2775.9,1729.5h0M2801.7,1607.9h0M2796.0,1671.1h0M2805.6,1635.8h0M2804.8,1652.1h0M2797.4,1812.4h0M2791.8,1798.9h0M2796.8,1803.5h0M2797.0,1800.5h0M2786.7,1808.7h0M2792.4,1815.7h0M2794.1,1814.9h0M2786.0,1811.0h0M2786.3,1809.2h0M2794.4,1815.0h0M2795.7,1805.1h0M2787.6,1813.3h0M2789.3,1802.1h0M2794.0,1818.1h0M2795.3,1799.5h0M2786.3,1816.9h0M2797.5,1804.4h0M2793.3,1804.8h0M2789.2,1804.3h0M2791.7,1821.1h0M2794.6,1818.3h0M2791.4,1811.5h0M2787.9,1820.9h0M2787.7,1816.6h0M2790.5,1811.3h0M2787.9,1811.9h0M2792.3,1808.6h0M2789.4,1817.0h0M2788.8,1803.4h0M2792.0,1808.6h0M2785.8,1817.9h0M2790.6,1802.7h0M2791.7,1800.4h0M2797.2,1813.3h0M2792.3,1818.6h0M2791.9,1812.5h0M2793.0,1802.3h0M2786.1,1816.2h0M2789.7,1803.5h0M2791.4,1822.6h0M2786.5,1814.0h0M2789.3,1810.5h0M2788.5,1815.7h0M2794.8,1810.8h0M2792.4,1801.8h0M2790.5,1822.8h0M2796.9,1809.4h0M2786.0,1816.3h0M2791.7,1808.0h0M2787.4,1807.0h0M2794.5,1798.8h0M2789.1,1822.8h0M2793.9,1802.6h0M2794.8,1802.3h0M2791.3,1820.5h0M2796.1,1799.7h0M2795.5,1797.9h0M2899.8,1644.8h0M2900.3,1646.8h0M2915.4,1660.7h0M2888.5,1653.7h0M2905.8,1607.3h0M2881.6,1668.4h0M2903.5,1630.3h0M2907.3,1736.2h0M2919.1,1688.8h0M2897.2,1610.8h0M2911.8,1709.7h0M2899.2,1647.7h0M2909.9,1710.4h0M2899.9,1678.6h0M2890.5,1614.2h0M2912.6,1669.9h0M2892.9,1597.3h0M2919.6,1695.1h0M2910.7,1650.2h0M2901.6,1597.2h0M2894.3,1696.9h0M2902.4,1715.4h0M2897.9,1610.2h0M2915.9,1702.7h0M2895.6,1681.9h0M2902.6,1680.2h0M2902.2,1613.1h0M2913.0,1696.2h0M2911.2,1720.7h0M2903.5,1704.0h0M2915.7,1726.3h0M2897.1,1605.1h0M2914.3,1655.7h0M2899.9,1689.6h0M2908.9,1635.6h0M2908.5,1654.8h0M2893.6,1648.5h0M2915.6,1695.2h0M2903.5,1705.0h0M2894.5,1656.2h0M2920.2,1684.6h0M2890.1,1668.6h0M2903.4,1704.0h0M2908.7,1678.6h0M2906.8,1647.6h0M2893.6,1621.8h0M2880.1,1646.8h0M2889.6,1635.8h0M2906.0,1732.7h0M2886.3,1621.2h0M2913.1,1728.5h0M2912.8,1730.8h0M2911.4,1625.0h0M2900.7,1604.1h0M2915.5,1637.0h0M2920.8,1710.5h0M2884.5,1675.4h0M2906.3,1652.7h0M2911.6,1692.2h0M2898.1,1626.3h0M2896.0,1608.0h0M2886.3,1612.2h0M2914.7,1714.7h0M2904.1,1723.7h0M2906.2,1641.1h0M2894.4,1683.4h0M2890.3,1688.5h0M2911.3,1732.5h0M2915.4,1667.7h0M2884.0,1672.3h0M2909.9,1680.9h0M2911.8,1679.5h0M2891.3,1669.1h0M2891.7,1600.1h0M2905.2,1686.2h0M2901.3,1590.5h0M2908.8,1735.9h0M2906.7,1676.8h0M2907.0,1700.4h0M2908.1,1729.1h0M2904.3,1610.3h0M2906.9,1622.4h0M2892.3,1705.1h0M2904.1,1685.0h0M2911.4,1718.1h0M2904.6,1600.8h0M2896.0,1707.9h0M2882.2,1629.9h0M2917.2,1669.9h0M2902.5,1709.7h0M2897.8,1709.1h0M2890.9,1625.9h0M2905.6,1711.9h0M2881.8,1672.2h0M2910.3,1699.4h0M2887.0,1606.8h0M2884.5,1669.7h0M2901.2,1631.0h0M2895.1,1636.8h0M2891.7,1610.1h0M2907.8,1633.8h0M2898.8,1622.0h0M2918.9,1652.5h0M2896.3,1676.8h0M2891.5,1620.8h0M2901.5,1661.3h0M2916.1,1629.7h0M2899.5,1678.4h0M2898.7,1598.1h0M2908.7,1675.9h0M2900.7,1616.3h0M2895.6,1614.5h0M2905.1,1638.6h0M2889.7,1676.8h0M2895.6,1643.1h0M2909.4,1736.0h0M2907.0,1676.1h0M2892.7,1684.7h0M2892.3,1661.5h0M2904.4,1712.5h0M2911.6,1606.2h0M2904.7,1607.6h0M2911.0,1610.3h0M2903.2,1671.9h0M2906.9,1636.4h0M2886.0,1663.7h0M2917.1,1670.1h0M2910.5,1714.5h0M2916.0,1670.3h0M2886.7,1618.2h0M2885.6,1682.9h0M2907.7,1633.1h0M2911.0,1688.7h0M2913.2,1668.5h0M2911.8,1616.6h0M2909.7,1645.9h0M2905.8,1698.8h0M2913.3,1656.4h0M2904.2,1712.4h0M2886.7,1691.5h0M2891.9,1690.1h0M2899.1,1718.2h0M2903.2,1645.7h0M2917.3,1632.4h0M2903.6,1715.1h0M2910.0,1597.1h0M2917.0,1659.6h0M2887.0,1598.2h0M2888.5,1597.5h0" stroke="#23396e" stroke-width="3.1" stroke-linecap="round" fill="none"/>
<path d="M2740.9,1678.5h0M2746.3,1657.3h0M2738.3,1672.9h0M2741.4,1668.6h0M2743.9,1694.4h0M2739.4,1685.5h0M2740.9,1673.9h0" stroke="#e68788" stroke-width="3.1" stroke-linecap="round" fill="none"/>
<path d="M2739.9,1676.4h0M2741.9,1680.9h0M2743.6,1689.1h0M2746.0,1670.6h0M2742.1,1675.4h0M2744.6,1666.7h0M2745.2,1688.6h0M2744.3,1684.2h0M2749.1,1703.6h0M2752.6,1654.8h0M2742.0,1682.4h0" stroke="#e7a6a6" stroke-width="3.1" stroke-linecap="round" fill="none"/>
<path d="M2748.8,1677.9h0M2758.2,1674.9h0M2763.5,1674.6h0M2756.7,1704.9h0M2776.3,1604.3h0M2757.0,1660.0h0M2759.0,1705.1h0M2777.0,1623.2h0M2766.3,1663.4h0M2752.2,1695.5h0M2755.6,1671.9h0M2758.9,1700.9h0M2752.2,1691.9h0M2759.9,1674.3h0M2766.6,1612.4h0M2753.2,1667.8h0M2764.5,1654.3h0M2773.8,1623.5h0M2757.5,1680.0h0M2760.5,1692.8h0M2752.1,1700.9h0M2758.8,1678.9h0M2775.3,1614.5h0M2775.8,1630.8h0M2762.1,1685.4h0M2776.2,1624.3h0M2765.7,1604.5h0M2766.0,1652.6h0M2750.0,1697.2h0M2769.0,1648.2h0M2754.1,1678.3h0M2758.7,1700.1h0M2759.7,1670.4h0M2774.9,1628.8h0M2763.2,1660.3h0M2763.4,1652.0h0M2761.4,1637.8h0M2752.3,1692.2h0M2761.7,1677.5h0M2757.0,1676.9h0M2773.9,1599.3h0M2773.8,1631.0h0M2778.5,1594.6h0M2768.7,1637.8h0M2760.8,1639.1h0M2778.1,1602.2h0M2778.2,1620.9h0M2765.6,1630.7h0M2768.7,1644.7h0M2776.8,1623.2h0M2771.5,1625.3h0M2758.9,1703.2h0M2749.7,1681.6h0M2763.9,1652.5h0M2762.2,1671.3h0M2754.7,1702.9h0M2777.0,1606.6h0M2757.4,1699.8h0M2769.8,1637.0h0M2767.8,1625.8h0M2758.7,1680.4h0M2754.8,1657.5h0M2755.4,1701.3h0M2761.3,1666.6h0M2776.5,1599.1h0M2766.5,1633.3h0M2774.6,1630.3h0M2768.1,1650.9h0M2764.1,1644.3h0M2751.6,1684.8h0M2749.4,1652.2h0" stroke="#c3cbd7" stroke-width="3.1" stroke-linecap="round" fill="none"/>
<path d="M2806.4,1636.9h0M2799.5,1680.4h0M2800.8,1607.3h0M2795.3,1597.7h0M2787.5,1713.9h0M2788.6,1677.3h0M2802.0,1655.7h0M2806.6,1632.6h0M2805.9,1642.5h0M2798.4,1652.4h0M2800.8,1610.2h0M2803.2,1610.1h0M2791.5,1690.8h0M2807.3,1638.9h0M2806.3,1621.1h0M2800.6,1648.3h0M2791.9,1703.0h0M2798.9,1651.1h0M2796.9,1684.9h0M2783.6,1710.1h0M2788.1,1703.9h0M2799.8,1678.4h0M2805.1,1613.6h0M2795.6,1687.2h0M2799.8,1651.0h0M2793.7,1597.4h0M2801.3,1668.9h0M2797.6,1684.4h0M2808.4,1629.7h0M2787.6,1710.8h0M2797.8,1684.9h0M2787.6,1708.8h0M2806.9,1640.3h0M2784.2,1714.3h0M2799.3,1673.5h0M2805.2,1628.1h0M2805.5,1637.3h0M2789.5,1706.1h0M2788.3,1710.7h0M2802.2,1658.7h0M2801.1,1650.5h0M2802.0,1662.7h0M2804.8,1623.1h0M2798.8,1605.8h0M2801.1,1614.1h0M2782.9,1715.2h0M2782.7,1720.8h0M2800.5,1669.8h0M2783.9,1716.5h0M2805.1,1641.8h0M2798.4,1673.3h0M2892.6,1652.5h0M2894.4,1677.1h0M2913.6,1708.1h0M2910.2,1631.9h0M2911.2,1678.3h0M2903.9,1705.0h0M2919.5,1698.6h0M2920.2,1652.5h0M2916.0,1723.3h0M2908.1,1629.1h0M2909.4,1604.0h0M2907.2,1701.6h0M2903.7,1710.5h0M2908.1,1698.7h0M2889.5,1606.1h0M2911.9,1617.4h0M2896.6,1646.7h0M2910.1,1631.1h0M2899.1,1657.8h0M2892.7,1654.9h0M2890.2,1641.6h0M2890.3,1683.3h0M2889.0,1615.1h0M2888.8,1623.6h0M2888.4,1671.6h0M2909.1,1728.4h0M2898.9,1667.3h0M2893.5,1634.1h0M2887.6,1677.3h0M2894.5,1710.0h0M2891.6,1654.9h0M2915.8,1710.9h0M2887.7,1692.7h0M2887.0,1622.9h0M2891.2,1687.2h0M2903.4,1673.3h0M2901.7,1590.3h0M2894.9,1660.2h0M2902.2,1642.4h0M2896.3,1649.4h0M2907.9,1642.1h0M2916.1,1651.8h0M2912.5,1647.5h0M2905.1,1615.5h0M2912.3,1645.8h0M2901.9,1685.7h0M2892.9,1695.5h0M2920.5,1647.8h0M2893.4,1659.3h0M2898.3,1643.3h0M2917.9,1669.3h0M2911.0,1683.1h0M2889.2,1603.8h0M2897.1,1675.4h0M2896.5,1652.2h0M2915.2,1685.1h0M2918.0,1690.9h0M2888.9,1684.8h0M2891.4,1649.5h0M2897.0,1641.2h0M2912.1,1714.3h0M2911.5,1660.6h0M2902.9,1640.8h0M2899.1,1634.5h0M2894.8,1697.6h0M2913.4,1679.2h0M2906.4,1667.6h0M2919.0,1683.7h0M2899.8,1700.8h0M2905.3,1613.6h0M2895.3,1709.7h0M2911.7,1729.3h0M2911.4,1673.1h0M2902.8,1609.5h0M2913.3,1721.8h0M2890.3,1664.4h0M2918.1,1705.1h0M2882.7,1636.6h0M2896.9,1641.2h0M2902.4,1601.1h0M2919.9,1663.4h0M2912.7,1636.8h0M2903.9,1629.0h0M2890.9,1661.4h0M2916.5,1691.9h0M2880.2,1644.8h0M2901.7,1678.8h0M2894.1,1699.6h0M2900.6,1612.3h0M2894.1,1662.1h0M2880.8,1644.5h0M2907.1,1638.5h0M2897.8,1628.1h0M2913.3,1643.8h0M2908.0,1606.3h0M2891.4,1657.8h0M2882.2,1678.7h0M2900.1,1605.5h0M2897.8,1599.4h0M2903.1,1707.7h0M2915.2,1699.0h0M2904.6,1595.5h0M2893.6,1606.7h0M2887.7,1649.6h0M2888.8,1642.3h0M2899.4,1636.9h0M2909.1,1607.0h0M2888.0,1693.1h0M2896.4,1635.8h0M2890.3,1664.4h0M2900.5,1654.1h0M2913.6,1692.8h0M2885.1,1642.1h0M2892.5,1630.9h0M2892.6,1673.0h0M2913.8,1609.0h0M2902.1,1666.3h0M2906.1,1651.4h0M2904.4,1673.1h0M2898.4,1707.9h0M2906.2,1652.5h0M2894.1,1667.9h0M2915.5,1647.0h0M2889.5,1705.1h0M2915.4,1716.3h0M2894.4,1646.1h0M2909.5,1620.1h0M2894.4,1622.5h0M2919.2,1677.7h0M2912.9,1708.3h0M2890.0,1627.6h0M2917.0,1643.5h0M2895.7,1674.9h0M2910.0,1617.5h0M2896.1,1644.3h0M2892.8,1595.4h0M2913.9,1691.5h0M2884.4,1682.6h0M2903.7,1728.4h0M2913.3,1671.9h0M2911.7,1617.5h0M2919.4,1663.6h0M2897.9,1632.0h0M2893.2,1645.7h0M2919.7,1661.4h0M2912.4,1688.1h0M2899.5,1635.5h0M2910.4,1681.7h0M2901.5,1645.1h0M2886.2,1634.0h0M2882.3,1656.4h0M2918.8,1665.7h0M2906.5,1596.2h0M2904.8,1603.0h0M2894.7,1696.9h0M2897.5,1623.6h0M2905.1,1727.3h0M2905.3,1687.8h0M2912.8,1639.8h0M2887.9,1664.0h0M2892.8,1626.0h0M2896.4,1683.4h0M2906.4,1603.6h0M2893.9,1612.8h0M2911.6,1732.7h0M2903.5,1604.4h0M2898.2,1608.7h0M2892.8,1634.4h0M2902.3,1671.5h0M2900.9,1599.3h0M2911.1,1664.1h0M2890.6,1687.8h0M2887.5,1640.8h0M2917.2,1681.4h0M2911.8,1716.7h0M2890.7,1615.4h0M2905.0,1661.8h0M2899.5,1628.2h0M2903.6,1703.2h0M2904.8,1605.2h0M2893.5,1637.5h0M2906.5,1613.0h0M2913.1,1646.3h0M2904.5,1609.3h0M2903.1,1704.5h0M2894.8,1655.1h0M2891.6,1665.0h0M2897.9,1644.0h0M2888.9,1694.8h0M2918.5,1694.2h0M2905.1,1738.5h0M2900.8,1655.7h0M2896.3,1673.0h0M2894.6,1597.5h0M2885.3,1687.1h0M2900.1,1695.2h0M2883.5,1665.2h0M2904.6,1687.2h0M2907.8,1625.1h0M2888.8,1623.4h0M2899.5,1616.6h0M2884.1,1680.5h0M2909.6,1689.3h0M2906.8,1651.3h0M2909.1,1670.7h0M2921.1,1668.7h0M2905.4,1682.5h0M2919.2,1693.9h0M2911.7,1677.9h0M2910.0,1733.2h0M2890.7,1686.4h0M2906.1,1603.7h0M2897.2,1646.5h0M2882.9,1640.5h0M2889.4,1694.9h0M2882.6,1656.5h0M2893.4,1614.6h0M2897.2,1640.1h0M2896.9,1588.5h0M2897.9,1635.1h0M2919.3,1652.3h0M2902.0,1683.3h0M2902.4,1601.3h0M2889.0,1685.2h0M2883.3,1661.9h0M2902.4,1635.4h0M2907.2,1729.9h0M2898.7,1622.4h0M2889.3,1601.7h0M2881.3,1647.0h0M2909.5,1681.2h0M2902.2,1693.4h0M2886.8,1688.8h0M2897.6,1629.6h0M2900.8,1715.0h0M2905.5,1691.4h0M2912.5,1645.2h0M2908.2,1716.1h0M2895.8,1676.0h0M2914.7,1655.3h0M2908.1,1721.9h0M2907.8,1615.0h0M2914.4,1702.2h0M2884.4,1663.7h0M2894.4,1655.3h0M2908.9,1639.3h0M2887.6,1623.5h0M2913.4,1640.3h0M2904.4,1653.8h0M2890.4,1619.9h0M2908.3,1738.5h0M2900.7,1601.2h0M2904.0,1658.7h0M2914.4,1653.7h0M2892.8,1624.9h0M2893.3,1658.6h0M2894.6,1640.5h0M2911.2,1694.2h0M2884.3,1698.8h0M2900.3,1685.2h0M2885.4,1623.5h0M2908.7,1669.4h0M2909.8,1643.3h0M2884.3,1634.8h0M2906.0,1638.4h0M2902.8,1651.4h0M2905.2,1670.9h0M2902.1,1600.0h0M2910.6,1722.1h0M2891.9,1642.3h0M2898.7,1647.4h0M2891.1,1635.3h0M2919.6,1687.3h0M2917.0,1667.3h0M2915.4,1719.4h0M2913.3,1670.4h0M2887.8,1659.9h0M2907.4,1687.9h0M2885.9,1689.4h0M2902.2,1635.2h0M2906.4,1595.3h0M2903.9,1737.4h0M2890.0,1608.3h0M2885.8,1663.6h0M2903.1,1705.6h0M2887.8,1640.1h0M2896.7,1646.0h0M2884.3,1645.9h0M2884.1,1670.7h0M2899.4,1671.7h0M2883.4,1673.0h0M2918.3,1672.5h0M2908.8,1678.2h0M2891.5,1692.2h0M2914.0,1715.1h0M2903.5,1640.7h0M2918.8,1698.1h0M2894.6,1685.4h0M2891.6,1690.5h0M2910.2,1739.3h0M2915.5,1706.8h0M2892.6,1673.6h0M2901.0,1616.2h0M2900.1,1682.4h0M2888.8,1625.5h0M2912.3,1657.8h0M2909.8,1672.9h0M2910.5,1729.8h0M2919.4,1667.4h0M2918.1,1698.5h0M2907.2,1628.6h0M2910.7,1723.0h0M2900.8,1608.0h0M2891.1,1693.5h0M2913.4,1727.1h0M2888.2,1631.6h0M2902.2,1599.8h0M2910.6,1721.5h0M2905.2,1682.1h0M2882.3,1660.6h0M2897.3,1607.6h0M2902.3,1600.7h0M2916.8,1699.3h0M2914.5,1696.8h0M2913.5,1619.9h0M2888.7,1641.5h0M2899.2,1713.5h0M2917.6,1704.9h0M2896.8,1704.5h0M2906.3,1736.5h0M2897.7,1648.3h0M2913.8,1697.6h0M2909.2,1605.8h0M2903.0,1699.6h0M2914.1,1675.7h0M2887.8,1666.4h0M2918.7,1658.6h0M2896.4,1686.0h0M2886.5,1672.9h0M2905.6,1641.2h0M2918.9,1640.8h0M2886.3,1694.2h0M2916.9,1684.3h0M2902.2,1644.7h0M2886.4,1698.2h0M2913.4,1655.5h0M2895.8,1699.7h0M2897.8,1688.8h0M2908.1,1655.1h0M2919.7,1658.1h0M2890.4,1604.7h0M2919.2,1645.7h0M2906.0,1624.3h0M2918.6,1643.6h0M2910.0,1686.0h0M2917.8,1675.0h0M2898.1,1612.1h0M2892.3,1631.8h0M2906.0,1612.2h0M2921.5,1669.8h0M2894.5,1637.9h0M2894.0,1604.1h0M2893.5,1630.2h0M2886.6,1691.5h0M2906.3,1725.1h0M2894.3,1644.9h0M2898.4,1611.3h0M2901.8,1597.1h0M2892.7,1619.2h0M2901.0,1595.9h0M2884.7,1679.4h0M2905.2,1734.0h0M2909.4,1681.6h0M2911.9,1720.1h0M2883.9,1633.5h0M2896.7,1626.8h0M2904.4,1644.4h0M2913.5,1689.3h0M2880.8,1661.9h0M2881.9,1634.1h0M2885.7,1658.8h0M2904.7,1640.7h0M2915.7,1716.0h0M2900.8,1627.1h0M2913.6,1649.0h0M2904.1,1596.6h0M2907.8,1626.6h0M2904.3,1647.6h0M2893.7,1641.8h0M2895.5,1621.0h0M2901.0,1706.0h0M2918.7,1692.7h0M2900.6,1685.0h0M2904.4,1616.3h0M2889.8,1643.5h0M2893.4,1697.2h0M2889.9,1676.9h0M2909.9,1615.9h0M2888.8,1696.5h0M2901.5,1604.4h0M2905.9,1590.9h0M2899.5,1703.4h0M2906.3,1710.0h0M2913.0,1624.9h0M2889.2,1694.0h0M2909.2,1732.9h0M2892.9,1658.8h0M2911.6,1707.4h0M2893.6,1662.5h0M2912.6,1665.5h0M2910.4,1641.6h0M2897.1,1668.4h0M2888.9,1658.7h0M2886.8,1679.4h0M2916.2,1667.9h0M2905.5,1625.7h0M2904.7,1597.4h0M2909.0,1722.8h0M2914.2,1689.3h0M2903.8,1634.8h0M2905.6,1718.0h0M2880.4,1648.1h0M2893.9,1647.9h0M2890.2,1651.8h0M2894.4,1639.7h0M2898.5,1626.3h0M2899.2,1635.4h0M2901.5,1715.7h0M2912.1,1690.0h0M2916.0,1728.5h0M2903.7,1714.6h0M2887.1,1689.4h0M2907.1,1650.2h0M2918.5,1643.4h0M2912.6,1610.3h0M2914.4,1696.5h0M2914.4,1626.1h0M2910.4,1646.4h0M2888.5,1681.9h0M2903.8,1705.8h0M2913.0,1637.0h0M2916.6,1665.3h0M2888.6,1666.8h0M2896.6,1685.4h0M2903.1,1726.8h0M2883.7,1683.6h0M2906.1,1717.6h0M2898.6,1678.8h0M2908.5,1728.4h0M2913.1,1700.7h0M2882.3,1682.2h0M2914.4,1681.6h0M2921.2,1660.8h0M2897.8,1707.5h0M2914.9,1669.8h0M2894.0,1684.1h0M2880.7,1645.1h0M2913.0,1656.2h0M2909.9,1696.2h0M2910.7,1652.7h0M2914.4,1673.0h0M2911.0,1615.5h0M2890.7,1704.4h0M2895.3,1708.6h0M2898.8,1647.8h0M2906.2,1633.1h0M2904.8,1645.0h0M2899.1,1708.2h0M2905.8,1639.5h0M2907.0,1694.0h0M2893.8,1659.3h0M2911.4,1607.0h0M2917.8,1695.0h0M2908.3,1662.8h0M2915.3,1668.2h0M2900.0,1607.0h0M2918.8,1639.7h0M2900.0,1602.4h0M2895.6,1689.2h0M2886.1,1684.8h0M2912.5,1727.3h0M2899.0,1697.1h0M2901.8,1720.5h0M2887.1,1649.6h0M2906.1,1619.5h0M2901.4,1618.5h0M2899.5,1697.3h0M2881.0,1655.1h0M2917.0,1682.0h0M2887.0,1655.8h0M2896.4,1712.6h0M2899.1,1675.4h0M2909.1,1661.5h0M2887.5,1661.8h0M2917.4,1653.2h0M2904.0,1587.1h0M2906.2,1650.2h0M2906.1,1706.1h0M2884.7,1648.7h0M2908.4,1713.8h0M2905.6,1700.7h0M2909.2,1644.4h0M2883.7,1662.7h0M2911.3,1615.9h0M2916.7,1625.9h0M2911.9,1605.2h0M2908.6,1718.4h0M2905.4,1701.1h0M2904.7,1714.7h0M2896.3,1704.2h0M2909.2,1664.6h0M2902.9,1631.1h0M2890.6,1637.1h0M2899.2,1668.9h0M2886.5,1668.9h0M2886.3,1648.0h0M2908.9,1684.7h0M2901.4,1697.3h0M2903.1,1667.1h0M2918.8,1657.3h0M2894.7,1631.2h0M2912.0,1671.3h0M2903.0,1613.1h0M2919.0,1682.0h0M2908.6,1713.8h0M2891.3,1682.5h0M2907.5,1658.4h0M2899.4,1615.7h0M2911.0,1608.9h0M2913.2,1723.9h0M2920.1,1687.6h0M2894.3,1607.1h0M2915.7,1678.2h0M2893.1,1666.6h0M2890.6,1655.6h0M2917.3,1639.2h0M2908.1,1623.3h0M2885.5,1691.3h0M2890.9,1694.1h0M2921.2,1673.8h0M2913.2,1720.3h0M2909.4,1659.7h0M2907.0,1641.7h0M2899.9,1595.8h0M2903.0,1708.3h0M2913.9,1669.6h0M2880.2,1662.7h0M2888.3,1651.6h0M2891.3,1688.1h0M2898.8,1667.9h0M2905.8,1672.7h0M2914.3,1656.8h0M2884.8,1621.7h0M2901.4,1588.4h0M2892.5,1660.0h0M2913.0,1697.7h0M2902.2,1641.5h0M2900.6,1609.4h0M2909.3,1683.1h0M2916.0,1676.5h0M2887.4,1679.0h0M2904.4,1675.6h0M2889.9,1681.0h0M2892.1,1595.6h0M2884.5,1678.9h0M2902.4,1671.6h0M2901.9,1689.6h0M2903.5,1690.8h0M2905.9,1712.6h0M2902.8,1694.7h0M2915.1,1712.5h0M2900.3,1595.5h0M2900.3,1688.6h0M2914.4,1681.2h0M2899.5,1625.1h0M2920.2,1692.5h0M2907.1,1731.0h0M2908.8,1602.8h0M2918.6,1683.1h0M2910.2,1672.4h0M2886.0,1687.3h0M2885.1,1669.7h0M2908.1,1626.6h0M2915.9,1654.5h0M2899.5,1692.0h0M2891.1,1679.6h0M2890.2,1682.3h0M2906.7,1731.9h0M2908.3,1630.2h0M2917.6,1701.9h0M2904.2,1604.6h0M2910.0,1642.4h0M2890.6,1626.1h0M2890.1,1706.0h0M2890.8,1687.2h0M2920.9,1677.8h0M2881.2,1645.9h0M2892.5,1708.7h0M2905.2,1734.1h0M2914.1,1627.3h0M2891.2,1683.7h0M2915.0,1651.8h0M2888.7,1674.7h0M2905.7,1652.5h0M2881.0,1658.3h0M2907.1,1653.5h0M2917.5,1647.7h0M2896.3,1712.9h0M2916.3,1720.0h0M2887.3,1662.3h0M2911.8,1625.0h0M2891.4,1635.3h0M2891.1,1661.9h0M2909.4,1638.7h0M2899.0,1617.2h0M2909.9,1697.1h0M2904.1,1714.3h0M2917.6,1721.2h0M2907.9,1691.8h0M2910.7,1701.0h0M2894.1,1691.5h0M2915.6,1694.5h0M2899.6,1668.0h0M2888.2,1613.5h0M2906.3,1611.7h0M2913.0,1690.0h0M2912.4,1703.3h0M2899.2,1618.5h0M2905.4,1707.0h0M2915.5,1668.7h0M2916.9,1632.3h0M2885.9,1635.3h0M2912.9,1660.8h0M2901.6,1719.9h0M2911.1,1611.1h0M2918.1,1649.5h0M2906.5,1643.4h0M2895.1,1654.1h0M2893.2,1669.8h0M2888.3,1607.9h0M2898.4,1661.8h0M2896.0,1666.3h0M2892.1,1643.4h0M2903.8,1671.0h0M2911.1,1703.1h0M2919.3,1675.9h0M2902.0,1678.0h0M2904.4,1639.4h0M2908.4,1622.6h0M2883.6,1640.7h0M2901.7,1685.1h0M2908.1,1623.2h0M2917.7,1636.6h0M2882.5,1679.2h0M2898.4,1698.2h0M2895.5,1657.0h0M2889.6,1651.9h0M2891.2,1690.5h0M2893.0,1689.9h0M2908.5,1703.5h0M2914.1,1693.7h0M2908.0,1703.4h0M2902.2,1654.4h0M2904.4,1617.7h0M2900.8,1619.7h0M2894.5,1617.3h0M2917.9,1684.6h0M2913.4,1632.2h0M2887.2,1681.7h0M2898.5,1591.9h0M2893.6,1654.8h0M2896.1,1645.3h0M2909.6,1619.8h0M2900.1,1620.9h0M2914.7,1699.8h0M2890.5,1661.1h0M2889.3,1652.5h0M2893.2,1617.2h0M2887.8,1670.2h0M2898.3,1638.4h0M2910.6,1716.0h0M2909.9,1601.9h0M2897.6,1662.6h0M2891.1,1633.9h0M2896.0,1703.6h0M2897.7,1685.7h0M2905.7,1713.9h0M2915.9,1635.4h0M2901.3,1594.8h0M2912.6,1634.1h0M2897.1,1713.5h0M2903.1,1702.0h0M2907.9,1634.2h0M2892.1,1611.6h0M2889.8,1607.9h0M2911.0,1681.4h0M2914.6,1689.4h0M2912.4,1712.3h0M2911.6,1724.0h0M2916.7,1723.9h0M2885.1,1660.8h0M2900.4,1675.0h0M2915.2,1732.3h0M2903.0,1632.6h0M2890.3,1705.5h0M2903.9,1685.8h0M2893.4,1658.2h0M2895.4,1593.1h0M2900.0,1699.5h0M2888.6,1679.2h0M2912.8,1629.4h0M2913.6,1671.8h0M2897.0,1651.9h0M2903.9,1611.8h0M2908.3,1680.0h0M2880.1,1646.1h0M2898.2,1601.2h0M2891.6,1602.3h0M2907.8,1601.6h0M2891.8,1669.9h0M2911.4,1646.8h0M2888.4,1679.7h0M2902.5,1588.7h0M2903.9,1599.1h0M2899.9,1628.3h0M2883.8,1630.5h0M2903.9,1597.0h0M2916.1,1675.3h0M2905.0,1600.2h0M2902.7,1621.6h0M2920.9,1690.7h0M2905.4,1589.0h0M2897.6,1602.2h0M2908.3,1695.5h0M2916.2,1646.3h0M2918.0,1646.4h0M2920.2,1655.6h0M2908.9,1618.4h0M2901.8,1695.4h0M2896.5,1708.6h0M2902.4,1725.7h0M2894.2,1636.9h0M2897.1,1633.0h0M2913.7,1639.5h0M2910.8,1733.3h0M2912.8,1653.6h0M2912.1,1691.0h0M2896.2,1616.5h0M2918.4,1681.4h0M2918.4,1669.2h0M2899.4,1596.7h0M2918.3,1671.2h0M2908.1,1694.7h0M2903.6,1701.2h0M2901.4,1681.7h0M2898.7,1685.2h0M2902.6,1710.9h0M2898.4,1625.1h0M2890.3,1643.7h0M2892.9,1688.3h0M2882.5,1659.0h0M2896.3,1605.8h0M2915.9,1656.2h0M2910.2,1698.1h0M2892.4,1670.2h0M2905.6,1666.0h0M2901.3,1724.9h0M2901.2,1592.5h0M2899.9,1655.6h0M2902.0,1708.3h0M2911.5,1712.5h0M2909.3,1625.4h0M2886.6,1640.2h0M2883.8,1638.2h0M2912.2,1696.9h0M2910.6,1672.3h0M2901.2,1665.6h0M2897.2,1650.2h0M2889.0,1634.9h0M2914.9,1627.8h0M2907.6,1640.6h0M2909.3,1627.1h0M2900.1,1662.9h0M2894.7,1700.5h0M2917.5,1627.5h0M2901.2,1608.3h0M2895.8,1708.0h0M2919.3,1694.7h0M2905.2,1700.7h0M2914.2,1658.2h0M2901.3,1628.0h0M2915.5,1621.7h0M2911.0,1614.8h0M2911.8,1615.9h0M2916.4,1720.2h0M2905.6,1669.2h0M2889.9,1638.1h0M2915.9,1705.4h0M2904.1,1693.9h0M2889.7,1637.1h0M2913.7,1673.2h0M2883.4,1645.8h0M2883.5,1596.9h0M2880.7,1595.9h0M2885.5,1600.7h0M2882.8,1596.7h0M2877.5,1591.9h0M2878.1,1593.4h0M2887.7,1601.3h0M2891.6,1600.1h0M2877.8,1594.2h0M2874.6,1592.4h0M2875.1,1594.6h0M2884.9,1597.9h0M2888.1,1598.3h0M2893.0,1599.9h0M2887.5,1600.5h0M2877.6,1595.7h0M2876.6,1592.1h0M2886.8,1598.3h0M2886.8,1601.2h0M2879.7,1596.1h0M2886.6,1599.0h0M2881.1,1594.0h0M2891.8,1598.6h0M2877.5,1596.0h0M2883.8,1597.7h0M2890.3,1598.6h0M2876.1,1617.3h0M2876.3,1619.6h0M2876.1,1618.2h0M2876.4,1618.7h0M2875.6,1616.7h0M2879.3,1617.8h0" stroke="#1f3160" stroke-width="3.1" stroke-linecap="round" fill="none"/>
<path d="M2775.0,1657.2h0M2758.9,1725.3h0M2776.1,1686.5h0M2784.0,1618.7h0M2777.3,1646.5h0M2774.8,1650.8h0M2749.7,1709.6h0M2753.1,1714.0h0M2776.3,1659.6h0M2761.1,1728.2h0M2756.7,1718.6h0M2770.0,1697.9h0M2785.2,1632.3h0M2770.5,1683.4h0M2751.4,1708.4h0M2785.0,1633.6h0M2773.3,1674.4h0M2789.3,1623.1h0M2778.3,1660.3h0M2756.5,1722.1h0M2756.6,1718.2h0M2782.5,1631.0h0M2769.7,1687.7h0M2773.2,1664.2h0M2774.6,1661.5h0M2750.3,1708.9h0M2757.6,1720.3h0M2774.1,1696.8h0M2777.5,1641.7h0M2759.7,1727.6h0M2783.3,1634.0h0M2749.0,1708.1h0M2752.8,1707.0h0M2756.0,1713.6h0M2783.2,1637.2h0M2786.2,1611.7h0M2756.4,1721.4h0M2760.3,1730.7h0M2761.4,1730.2h0M2770.4,1658.6h0M2785.1,1635.4h0M2779.1,1648.2h0M2758.3,1725.8h0M2762.3,1731.2h0M2772.3,1666.9h0M2778.2,1664.1h0M2759.2,1727.8h0M2778.9,1643.7h0M2755.3,1718.3h0M2761.1,1730.7h0M2768.1,1697.2h0M2774.9,1660.1h0M2768.6,1682.6h0M2771.9,1703.3h0M2759.1,1721.2h0M2786.2,1614.3h0M2757.3,1722.7h0M2777.0,1655.5h0" stroke="#7690c0" stroke-width="3.1" stroke-linecap="round" fill="none"/>
<path d="M2789.3,1653.1h0M2784.3,1640.1h0M2764.5,1723.0h0M2789.2,1642.2h0M2780.4,1666.7h0M2786.6,1606.5h0M2779.7,1682.6h0M2764.4,1714.6h0M2775.8,1659.6h0M2765.2,1711.6h0M2781.7,1644.8h0M2779.5,1651.4h0M2781.0,1686.0h0M2786.0,1605.0h0M2777.8,1668.5h0M2780.2,1684.0h0M2773.2,1678.9h0M2779.0,1671.1h0M2785.7,1652.9h0M2772.5,1683.2h0M2772.8,1674.7h0M2764.4,1707.2h0M2775.0,1679.9h0M2764.0,1719.6h0M2762.9,1718.6h0M2791.4,1626.9h0M2762.7,1707.4h0M2787.6,1611.7h0M2780.0,1669.0h0M2764.5,1710.8h0M2774.1,1702.3h0M2776.4,1663.7h0M2790.2,1626.4h0M2790.1,1622.3h0M2764.4,1729.1h0M2775.4,1667.8h0M2777.0,1664.4h0M2777.5,1651.7h0M2779.3,1667.8h0M2779.6,1677.7h0M2765.2,1715.5h0M2762.6,1709.0h0M2787.1,1613.6h0M2784.2,1646.8h0M2776.7,1660.4h0M2764.8,1712.2h0M2764.2,1716.6h0M2787.9,1613.4h0M2766.0,1717.5h0M2780.6,1654.5h0M2764.0,1707.8h0M2765.1,1718.1h0M2765.7,1715.2h0M2764.3,1712.4h0M2765.6,1713.2h0M2761.2,1712.2h0M2781.8,1668.4h0M2762.6,1717.8h0M2771.2,1686.6h0M2781.6,1636.1h0M2782.4,1660.8h0M2773.9,1685.2h0M2774.1,1685.3h0M2781.1,1672.2h0M2766.0,1722.3h0M2788.5,1614.2h0M2790.8,1628.1h0M2762.5,1719.5h0M2777.4,1680.4h0M2776.0,1667.2h0M2764.6,1708.7h0M2765.7,1740.0h0M2765.1,1734.6h0M2788.2,1785.7h0M2780.0,1743.5h0M2787.8,1788.6h0M2787.8,1791.8h0M2782.1,1757.9h0M2789.9,1795.0h0M2784.3,1760.1h0M2790.7,1787.3h0" stroke="#4e6fae" stroke-width="3.1" stroke-linecap="round" fill="none"/>
<path d="M2779.3,1650.9h0M2775.3,1685.2h0M2770.7,1689.5h0M2772.3,1665.0h0M2760.1,1713.1h0M2758.6,1708.8h0M2775.4,1657.6h0M2758.1,1711.4h0M2785.6,1607.7h0M2758.2,1709.0h0M2758.2,1716.6h0M2775.6,1685.0h0M2779.5,1661.6h0M2779.0,1650.0h0M2761.5,1718.1h0M2757.8,1712.3h0M2769.8,1674.9h0M2780.8,1650.0h0M2779.3,1665.1h0M2759.3,1710.9h0M2777.2,1655.2h0M2761.5,1718.1h0M2773.7,1664.6h0M2759.9,1710.7h0M2758.3,1708.9h0M2776.6,1655.8h0M2760.2,1717.4h0M2791.3,1614.2h0M2758.6,1712.4h0M2776.5,1654.5h0M2789.3,1647.5h0M2778.5,1653.7h0M2753.7,1706.6h0M2758.5,1717.5h0M2761.5,1727.5h0M2773.6,1662.2h0M2776.8,1670.3h0M2779.8,1647.7h0M2753.5,1706.6h0M2785.7,1635.4h0M2783.9,1629.8h0M2789.5,1622.4h0M2786.5,1637.7h0M2783.6,1641.6h0M2761.0,1715.2h0M2781.1,1674.1h0M2781.1,1648.8h0M2787.5,1616.2h0M2761.2,1727.6h0M2782.2,1595.8h0M2771.5,1663.5h0M2787.7,1616.5h0M2790.5,1615.7h0M2756.5,1712.6h0M2758.2,1710.9h0M2792.0,1639.3h0M2776.1,1654.1h0M2781.2,1660.2h0M2773.3,1700.8h0M2774.8,1662.9h0M2778.1,1665.1h0M2783.7,1683.3h0" stroke="#6280b6" stroke-width="3.1" stroke-linecap="round" fill="none"/>
<path d="M2762.9,1687.4h0M2770.4,1628.3h0M2754.8,1704.6h0M2762.8,1648.4h0M2764.4,1663.5h0M2752.1,1660.2h0M2768.8,1659.4h0M2778.6,1619.3h0M2765.7,1671.0h0M2763.1,1706.1h0M2749.8,1699.4h0M2770.2,1631.1h0M2759.7,1675.2h0M2762.7,1669.7h0M2765.3,1607.6h0M2773.3,1644.5h0M2764.1,1650.3h0M2760.5,1706.3h0M2768.2,1611.5h0M2763.2,1698.0h0M2771.8,1644.1h0M2757.8,1700.3h0M2760.6,1704.0h0M2762.8,1705.6h0M2778.1,1601.9h0M2776.3,1623.2h0M2771.0,1642.3h0M2771.2,1641.8h0M2762.6,1672.7h0M2761.1,1695.2h0M2755.5,1692.5h0M2762.7,1678.6h0M2758.6,1685.7h0M2762.4,1687.9h0M2764.9,1662.5h0M2759.8,1702.2h0M2768.4,1622.6h0M2760.5,1642.4h0M2778.5,1631.1h0M2752.5,1694.0h0M2767.3,1645.2h0M2780.9,1608.0h0M2773.3,1635.6h0M2755.6,1694.0h0" stroke="#b9c5d7" stroke-width="3.1" stroke-linecap="round" fill="none"/>
<path d="M2760.1,1643.9h0M2745.7,1685.5h0M2766.2,1613.8h0M2745.9,1700.1h0M2753.6,1650.9h0M2748.7,1701.9h0M2745.2,1696.6h0M2766.0,1615.3h0M2754.2,1673.8h0M2750.8,1658.4h0M2748.0,1704.1h0M2751.0,1644.8h0M2749.2,1673.7h0" stroke="#e0bfbf" stroke-width="3.1" stroke-linecap="round" fill="none"/>
<path d="M2764.7,1635.1h0M2757.1,1703.3h0M2775.5,1630.7h0M2777.5,1610.7h0M2770.9,1629.8h0M2760.7,1643.4h0M2756.7,1643.2h0M2773.9,1599.4h0M2750.9,1694.1h0M2752.1,1672.1h0M2771.7,1606.6h0M2767.4,1643.7h0M2768.7,1595.4h0M2770.3,1642.2h0M2757.7,1660.9h0M2750.3,1698.5h0M2773.6,1610.6h0M2757.9,1637.9h0M2750.4,1647.3h0M2750.0,1693.7h0M2757.0,1685.8h0M2752.8,1682.1h0M2749.9,1690.1h0M2754.1,1641.3h0M2759.5,1686.9h0M2756.1,1658.9h0M2766.0,1621.2h0M2758.5,1639.7h0M2747.4,1686.1h0M2769.2,1593.8h0M2776.9,1615.1h0M2752.9,1688.7h0M2764.4,1618.0h0M2756.2,1663.4h0M2758.6,1655.0h0M2761.1,1654.7h0M2755.0,1689.4h0M2760.0,1672.0h0M2750.8,1676.9h0M2751.2,1677.9h0M2769.1,1617.8h0M2768.2,1639.1h0M2754.9,1684.9h0M2757.1,1689.3h0M2764.6,1632.9h0M2747.1,1688.9h0M2767.8,1622.4h0M2753.2,1683.6h0M2766.5,1620.3h0M2754.3,1682.9h0M2757.7,1700.4h0M2749.3,1689.6h0M2772.3,1627.2h0M2765.6,1641.1h0M2775.1,1606.6h0M2768.5,1596.4h0M2751.6,1692.6h0M2776.8,1594.1h0M2759.8,1668.4h0M2767.7,1652.0h0M2763.4,1643.3h0M2757.9,1638.7h0M2757.4,1665.5h0M2774.1,1620.4h0M2766.0,1618.9h0M2767.7,1624.8h0M2757.2,1691.0h0M2770.2,1610.1h0M2763.2,1617.5h0M2771.6,1631.8h0M2763.8,1618.0h0M2770.9,1637.1h0M2764.4,1645.6h0M2768.9,1632.6h0M2772.0,1620.4h0M2760.4,1625.4h0M2772.4,1638.2h0M2761.5,1625.6h0M2759.3,1654.4h0M2758.8,1688.9h0M2761.0,1655.6h0M2756.5,1687.1h0M2776.6,1615.9h0M2769.7,1596.0h0M2768.4,1638.5h0M2777.7,1595.2h0M2767.1,1633.8h0M2774.5,1625.0h0M2775.3,1605.5h0M2775.5,1605.2h0M2769.3,1632.8h0M2753.0,1655.4h0M2753.0,1703.4h0M2754.6,1663.9h0M2771.2,1623.1h0M2758.2,1630.0h0M2754.3,1665.8h0M2757.5,1664.1h0M2753.0,1683.2h0M2756.6,1671.8h0M2760.1,1648.3h0M2762.2,1624.0h0" stroke="#ced2d8" stroke-width="3.1" stroke-linecap="round" fill="none"/>
<path d="M2790.4,1672.2h0M2792.7,1598.6h0M2786.1,1692.7h0M2785.1,1700.0h0M2792.0,1657.7h0M2789.9,1600.7h0M2786.2,1698.4h0M2783.7,1710.1h0M2780.3,1709.0h0M2776.1,1722.3h0M2787.9,1699.0h0M2786.1,1680.3h0M2797.1,1646.5h0M2782.9,1709.4h0M2792.6,1666.1h0M2779.6,1714.5h0M2790.4,1687.3h0M2795.3,1652.7h0M2797.7,1634.8h0M2798.4,1664.8h0M2789.0,1658.8h0M2787.7,1699.5h0M2796.9,1672.9h0M2801.3,1631.9h0M2791.7,1666.3h0M2803.1,1628.3h0M2802.0,1635.6h0M2799.3,1654.2h0M2796.9,1628.9h0M2798.7,1677.9h0M2785.4,1664.3h0M2773.9,1726.2h0M2798.6,1632.4h0M2781.4,1712.1h0M2784.6,1672.2h0M2804.3,1625.6h0M2796.1,1606.0h0M2784.0,1708.7h0M2779.7,1713.2h0M2793.7,1664.3h0M2805.0,1624.2h0M2785.9,1691.6h0M2799.0,1644.5h0M2798.7,1628.4h0M2794.8,1598.2h0M2798.4,1647.3h0M2792.8,1643.5h0M2792.5,1659.0h0M2799.1,1650.2h0M2796.8,1659.9h0M2784.6,1697.5h0M2776.8,1722.2h0M2794.8,1651.0h0M2791.7,1682.9h0M2782.5,1713.6h0M2787.5,1690.4h0M2796.1,1676.7h0M2794.0,1666.3h0M2799.8,1639.9h0M2787.6,1704.6h0M2798.2,1660.0h0M2802.8,1642.3h0M2793.7,1655.8h0M2781.6,1712.1h0M2792.5,1602.4h0M2777.5,1721.1h0M2801.5,1634.4h0M2778.5,1712.4h0M2802.6,1630.2h0M2796.9,1650.6h0M2783.8,1662.2h0M2791.1,1654.6h0M2791.1,1686.9h0M2780.9,1715.9h0M2804.6,1629.1h0M2781.1,1710.3h0M2787.1,1780.4h0M2787.6,1780.6h0M2792.7,1809.5h0M2786.4,1818.6h0M2793.1,1814.6h0M2797.8,1812.6h0M2793.2,1804.0h0M2797.3,1812.3h0M2792.1,1821.4h0M2793.0,1818.1h0M2790.4,1806.5h0M2795.8,1808.1h0M2788.0,1813.8h0M2790.2,1822.0h0M2796.4,1798.2h0M2901.9,1588.2h0" stroke="#26417c" stroke-width="3.1" stroke-linecap="round" fill="none"/>
<path d="M2744.9,1690.0h0M2762.1,1633.5h0M2766.6,1617.2h0M2765.3,1637.4h0M2748.3,1673.6h0M2762.8,1645.2h0M2759.5,1649.9h0M2749.4,1692.0h0M2766.9,1627.0h0M2754.2,1656.8h0M2748.3,1668.1h0M2761.6,1644.9h0M2762.1,1638.5h0M2749.8,1647.1h0M2764.3,1627.6h0M2764.4,1646.9h0M2744.0,1695.2h0" stroke="#dccccc" stroke-width="3.1" stroke-linecap="round" fill="none"/>
<path d="M2769.1,1708.7h0M2791.4,1608.3h0M2780.8,1660.5h0M2784.0,1662.7h0M2793.8,1622.4h0M2788.6,1614.8h0M2792.9,1621.7h0M2778.2,1654.7h0M2768.9,1718.8h0M2767.9,1708.2h0M2788.2,1623.2h0M2769.1,1717.8h0M2794.9,1618.5h0M2783.8,1653.7h0M2790.1,1620.4h0M2782.6,1673.6h0M2794.5,1624.7h0M2781.0,1691.9h0M2769.4,1714.3h0M2770.1,1711.2h0M2767.5,1715.5h0M2792.3,1628.8h0M2787.6,1657.7h0M2789.6,1628.1h0M2779.6,1704.8h0M2790.1,1618.7h0M2783.5,1664.7h0M2780.5,1663.6h0M2792.2,1632.1h0M2788.6,1662.5h0M2791.6,1626.9h0M2787.6,1645.6h0M2789.4,1630.8h0M2789.3,1678.2h0M2781.0,1658.6h0M2769.0,1718.6h0M2766.0,1709.5h0M2781.7,1664.3h0M2785.3,1671.4h0M2767.3,1716.3h0M2778.3,1664.0h0M2782.9,1659.6h0M2789.2,1622.3h0M2767.4,1731.1h0M2768.3,1714.6h0M2791.3,1646.4h0M2792.2,1619.6h0M2792.1,1613.2h0M2793.9,1618.6h0M2793.1,1601.0h0M2786.2,1632.0h0M2773.2,1699.2h0M2784.7,1602.6h0M2773.6,1704.3h0M2766.0,1708.5h0M2787.1,1600.4h0M2779.2,1695.5h0M2777.4,1687.7h0M2786.7,1652.9h0M2787.1,1645.6h0M2779.1,1679.9h0M2769.9,1714.4h0M2777.9,1674.2h0M2779.7,1663.4h0M2780.7,1666.1h0M2785.1,1651.5h0M2786.1,1661.9h0M2767.5,1723.0h0M2769.8,1710.5h0M2786.5,1617.6h0M2796.1,1620.3h0M2780.2,1655.7h0M2768.4,1710.0h0M2790.3,1626.5h0M2778.6,1665.6h0M2777.6,1661.8h0M2766.7,1752.8h0M2765.0,1744.1h0M2766.1,1733.5h0M2764.0,1750.1h0M2766.2,1743.3h0M2783.1,1765.7h0M2782.4,1753.5h0M2785.2,1767.8h0M2778.2,1737.7h0M2788.4,1793.3h0M2779.9,1748.7h0M2784.4,1767.0h0M2788.5,1788.8h0M2783.5,1770.2h0M2787.2,1777.0h0M2781.4,1740.2h0M2780.3,1740.7h0M2786.0,1772.2h0M2782.3,1762.9h0M2779.8,1747.1h0M2787.7,1786.4h0M2785.6,1777.5h0" stroke="#395ea4" stroke-width="3.1" stroke-linecap="round" fill="none"/>
<path d="M2746.3,1709.8h0M2778.1,1638.4h0M2769.4,1665.0h0M2776.7,1647.6h0M2767.9,1667.8h0M2745.9,1711.0h0M2767.7,1671.3h0M2770.9,1668.1h0M2769.3,1666.6h0M2774.4,1647.3h0M2785.8,1623.3h0M2765.5,1674.5h0M2778.7,1637.2h0M2778.5,1620.7h0M2769.1,1679.7h0M2784.5,1622.1h0M2779.2,1637.8h0M2750.2,1715.7h0M2784.3,1631.0h0M2763.5,1705.1h0M2758.3,1729.1h0M2754.2,1719.7h0M2781.8,1627.2h0M2750.4,1712.5h0M2759.5,1729.7h0M2750.3,1711.6h0M2778.5,1640.1h0M2767.4,1678.2h0M2784.3,1623.9h0M2768.3,1674.3h0M2770.5,1652.2h0M2763.5,1700.2h0M2754.0,1723.3h0M2778.4,1644.4h0M2764.2,1700.1h0M2755.1,1720.4h0M2756.1,1727.0h0M2749.0,1712.7h0M2779.6,1633.5h0M2779.2,1601.2h0M2767.6,1668.1h0M2754.0,1717.1h0M2764.6,1677.3h0M2780.9,1629.7h0M2766.0,1674.6h0M2775.8,1654.9h0M2773.5,1650.9h0M2782.5,1610.0h0M2779.9,1610.5h0M2781.5,1623.2h0M2766.8,1691.2h0M2755.6,1723.8h0M2781.3,1622.4h0M2775.3,1648.1h0M2755.3,1721.8h0M2770.2,1689.7h0" stroke="#8aa2c8" stroke-width="3.1" stroke-linecap="round" fill="none"/>
<path d="M2738.1,1686.9h0M2744.8,1662.7h0M2744.6,1657.7h0M2739.2,1681.7h0M2740.6,1663.3h0M2743.9,1701.5h0M2744.9,1706.3h0" stroke="#e37778" stroke-width="3.1" stroke-linecap="round" fill="none"/>
<path d="M2741.3,1679.7h0M2740.5,1681.9h0M2739.4,1673.1h0M2740.3,1692.5h0M2743.9,1655.0h0M2741.7,1690.3h0M2743.2,1663.7h0M2741.9,1663.9h0M2741.0,1698.1h0M2745.6,1705.1h0M2739.4,1689.7h0M2743.1,1662.9h0M2747.1,1654.3h0" stroke="#e16768" stroke-width="3.1" stroke-linecap="round" fill="none"/>
<path d="M2739.8,1678.2h0M2739.5,1682.2h0M2739.9,1678.0h0M2740.1,1682.8h0" stroke="#cc5157" stroke-width="3.1" stroke-linecap="round" fill="none"/>
<path d="M2748.1,1654.5h0" stroke="#b33f48" stroke-width="3.1" stroke-linecap="round" fill="none"/>
<path d="M2743.7,1676.3h0M2743.8,1672.9h0M2750.5,1660.3h0M2747.2,1697.2h0M2745.8,1677.4h0M2747.2,1659.5h0M2748.0,1660.9h0M2745.0,1672.5h0" stroke="#e3b3b3" stroke-width="3.1" stroke-linecap="round" fill="none"/>
<path d="M2742.9,1703.4h0M2738.3,1689.9h0M2738.8,1682.4h0M2738.8,1681.6h0" stroke="#d95b5e" stroke-width="3.1" stroke-linecap="round" fill="none"/>
<line x1="3028.7" y1="1574.7" x2="3028.7" y2="1834.8" stroke="#000" stroke-width="2" />
<line x1="3027.7" y1="1833.8" x2="3230.5" y2="1833.8" stroke="#000" stroke-width="2" />
<text x="3053.7" y="1564.8" font-family='"Liberation Serif", serif' font-size="20.5" font-weight="bold" font-style="normal" fill="#000" text-anchor="start" textLength="170.3" lengthAdjust="spacingAndGlyphs" >Predicted Weights</text>
<path d="M3075.6,1626.4h0M3074.1,1713.5h0M3090.9,1602.4h0M3067.8,1727.0h0M3064.2,1663.7h0M3091.7,1634.2h0M3073.9,1657.2h0M3088.2,1653.1h0M3073.9,1728.7h0M3089.3,1672.2h0M3068.0,1708.7h0M3077.9,1717.9h0M3074.2,1685.2h0M3095.1,1667.4h0M3074.4,1630.7h0M3059.1,1637.2h0M3076.4,1610.7h0M3072.1,1645.0h0M3069.6,1689.5h0M3063.4,1723.0h0M3092.1,1613.4h0M3091.6,1598.6h0M3090.3,1608.3h0M3077.0,1638.4h0M3090.6,1678.7h0M3086.1,1615.8h0M3071.0,1730.5h0M3070.1,1726.3h0M3085.0,1692.7h0M3075.6,1647.6h0M3075.0,1686.5h0M3088.1,1642.2h0M3083.0,1670.2h0M3090.7,1692.5h0M3061.9,1700.2h0M3094.2,1597.7h0M3076.2,1646.5h0M3079.7,1660.5h0M3084.0,1700.0h0M3082.9,1662.7h0M3094.4,1641.0h0M3090.8,1654.0h0M3090.9,1657.7h0M3079.3,1666.7h0M3092.7,1622.4h0M3088.8,1600.7h0M3095.0,1630.3h0M3085.5,1606.5h0M3094.2,1659.5h0M3087.5,1677.3h0M3087.5,1614.8h0M3085.1,1698.4h0M3082.6,1710.1h0M3100.9,1655.7h0M3078.6,1682.6h0M3100.6,1621.1h0M3096.1,1624.3h0M3079.2,1709.0h0M3069.8,1668.1h0M3075.0,1722.3h0M3088.4,1606.8h0M3086.8,1699.0h0M3063.3,1714.6h0M3091.8,1621.7h0M3096.2,1663.9h0M3084.5,1607.7h0M3104.8,1642.5h0M3096.3,1667.4h0M3091.5,1666.1h0M3074.7,1659.6h0M3068.2,1666.6h0M3097.3,1652.4h0M3064.1,1711.6h0M3075.9,1623.2h0M3065.2,1663.4h0M3078.5,1714.5h0M3080.6,1644.8h0M3074.9,1720.9h0M3073.3,1647.3h0M3100.7,1651.9h0M3078.4,1651.4h0M3075.2,1712.0h0M3091.7,1642.6h0M3077.1,1654.7h0M3084.7,1623.3h0M3064.8,1697.3h0M3101.0,1630.7h0M3075.2,1659.6h0M3078.4,1661.6h0M3091.2,1606.5h0M3077.9,1650.0h0M3075.1,1607.5h0M3065.0,1664.8h0M3104.1,1637.0h0M3077.5,1619.3h0M3107.2,1624.4h0M3090.4,1690.8h0M3094.2,1652.7h0M3064.4,1674.5h0M3076.5,1599.6h0M3089.5,1660.5h0M3092.9,1605.0h0M3106.2,1638.9h0M3077.6,1637.2h0M3077.4,1620.7h0M3102.9,1627.8h0M3084.9,1605.0h0M3099.9,1628.8h0M3090.4,1694.8h0M3082.6,1677.3h0M3066.8,1708.2h0M3096.6,1634.8h0M3102.7,1621.3h0M3079.1,1684.0h0M3091.6,1654.0h0M3097.4,1617.1h0M3097.3,1664.8h0M3070.9,1668.8h0M3087.9,1658.8h0M3098.7,1609.4h0M3068.9,1697.9h0M3086.6,1699.5h0M3097.3,1611.3h0M3072.1,1678.9h0M3077.9,1671.1h0M3105.2,1621.1h0M3083.9,1633.6h0M3072.2,1674.4h0M3078.2,1711.2h0M3080.9,1690.1h0M3093.8,1618.5h0M3099.5,1648.3h0M3084.6,1652.9h0M3088.2,1623.1h0M3098.1,1615.9h0M3095.3,1605.1h0M3100.2,1651.8h0M3062.0,1706.1h0M3081.5,1673.6h0M3093.4,1624.7h0M3100.2,1631.9h0M3095.5,1679.5h0M3081.5,1617.3h0M3093.9,1610.9h0M3079.7,1650.0h0M3090.0,1651.4h0M3096.3,1633.9h0M3087.8,1707.2h0M3075.8,1615.1h0M3078.1,1637.8h0M3090.6,1666.3h0M3078.2,1665.1h0M3081.6,1690.7h0M3079.9,1691.9h0M3072.1,1646.0h0M3080.5,1665.4h0M3071.7,1674.7h0M3096.5,1617.6h0M3068.3,1714.3h0M3099.2,1624.8h0M3073.9,1679.9h0M3102.0,1628.3h0M3090.8,1703.0h0M3077.2,1660.3h0M3085.0,1664.1h0M3100.9,1635.6h0M3097.8,1651.1h0M3074.4,1605.7h0M3090.3,1626.9h0M3080.6,1658.7h0M3069.7,1710.1h0M3091.2,1628.8h0M3101.7,1652.9h0M3095.8,1684.9h0M3061.6,1707.4h0M3078.9,1669.0h0M3085.8,1710.8h0M3094.5,1620.5h0M3086.5,1657.7h0M3068.1,1652.8h0M3095.8,1628.9h0M3063.5,1697.1h0M3073.0,1702.3h0M3090.0,1649.4h0M3077.3,1642.7h0M3082.5,1710.1h0M3090.9,1605.4h0M3075.3,1663.7h0M3089.1,1626.4h0M3064.2,1698.0h0M3089.0,1622.3h0M3084.3,1664.3h0M3063.3,1729.1h0M3078.5,1704.8h0M3089.0,1618.7h0M3087.0,1703.9h0M3098.7,1678.4h0M3064.2,1607.6h0M3104.0,1613.6h0M3082.4,1664.7h0M3069.3,1600.7h0M3100.5,1618.5h0M3074.7,1630.8h0M3079.4,1663.6h0M3072.8,1726.2h0M3075.5,1655.8h0M3075.9,1664.4h0M3081.4,1631.0h0M3064.4,1674.6h0M3091.1,1632.1h0M3077.3,1675.3h0M3083.2,1631.0h0M3068.9,1667.3h0M3088.5,1694.8h0M3092.8,1602.8h0M3086.1,1609.3h0M3082.1,1686.7h0M3090.4,1692.8h0M3062.4,1705.1h0M3077.3,1671.0h0M3076.4,1651.7h0M3090.2,1614.2h0M3078.2,1667.8h0M3085.4,1684.3h0M3093.4,1653.0h0M3092.2,1693.3h0M3094.5,1687.2h0M3093.6,1633.3h0M3068.6,1687.7h0M3077.2,1724.0h0M3080.3,1712.1h0M3087.4,1658.6h0M3087.4,1645.3h0M3057.2,1729.1h0M3073.5,1661.5h0M3090.5,1626.9h0M3098.7,1651.0h0M3077.6,1642.8h0M3091.7,1647.8h0M3092.6,1597.4h0M3090.5,1607.4h0M3082.9,1618.7h0M3086.5,1645.6h0M3083.5,1672.2h0M3088.3,1630.8h0M3071.2,1710.4h0M3069.5,1614.0h0M3093.0,1607.8h0M3089.2,1664.5h0M3095.0,1601.5h0M3095.8,1652.1h0M3088.2,1678.2h0M3078.5,1677.7h0M3096.5,1684.4h0M3078.2,1696.0h0M3062.1,1698.0h0M3073.0,1696.8h0M3075.4,1654.5h0M3100.7,1640.8h0M3089.5,1652.8h0M3094.0,1642.1h0M3103.2,1625.6h0M3088.2,1647.5h0M3077.4,1653.7h0M3092.0,1660.0h0M3107.3,1629.7h0M3086.0,1594.9h0M3095.0,1606.0h0M3096.7,1684.9h0M3087.6,1648.5h0M3105.8,1640.3h0M3093.5,1656.4h0M3086.0,1613.6h0M3097.2,1620.1h0M3071.5,1715.7h0M3067.9,1718.6h0M3083.2,1623.9h0M3085.2,1697.6h0M3092.8,1619.4h0M3075.8,1596.4h0M3087.2,1654.8h0M3083.1,1697.9h0M3082.9,1708.7h0M3064.9,1709.5h0M3083.1,1714.3h0M3067.2,1674.3h0M3081.4,1625.1h0M3069.4,1652.2h0M3078.6,1713.2h0M3062.4,1700.2h0M3084.2,1671.4h0M3092.6,1664.3h0M3074.5,1713.6h0M3063.7,1712.2h0M3093.7,1630.3h0M3070.3,1730.7h0M3066.2,1716.3h0M3072.5,1662.2h0M3103.9,1624.2h0M3084.8,1691.6h0M3077.3,1644.4h0M3067.4,1596.4h0M3086.8,1613.4h0M3077.2,1664.0h0M3075.7,1594.1h0M3097.9,1644.5h0M3087.6,1663.6h0M3095.0,1667.3h0M3094.1,1635.5h0M3092.3,1672.8h0M3070.4,1725.7h0M3079.5,1654.5h0M3104.4,1637.3h0M3062.9,1707.8h0M3066.9,1661.1h0M3074.7,1712.6h0M3086.8,1597.3h0M3091.9,1658.9h0M3066.3,1731.1h0M3067.2,1714.6h0M3061.7,1705.6h0M3073.7,1723.7h0M3063.1,1700.1h0M3064.0,1718.1h0M3088.6,1659.1h0M3082.1,1637.2h0M3097.6,1628.4h0M3088.4,1706.1h0M3093.7,1598.2h0M3085.1,1611.7h0M3088.0,1683.5h0M3091.7,1643.5h0M3084.6,1635.4h0M3089.7,1672.0h0M3094.1,1641.2h0M3090.2,1646.4h0M3082.8,1629.8h0M3075.2,1623.2h0M3091.7,1628.9h0M3091.1,1619.6h0M3063.2,1712.4h0M3066.8,1686.7h0M3088.4,1622.4h0M3091.4,1659.0h0M3085.4,1637.7h0M3064.5,1713.2h0M3096.6,1647.4h0M3082.5,1641.6h0M3095.7,1659.9h0M3101.1,1658.7h0M3091.0,1613.2h0M3075.7,1722.2h0M3100.0,1650.5h0M3077.4,1594.6h0M3080.0,1674.1h0M3092.8,1618.6h0M3089.1,1643.7h0M3106.6,1619.1h0M3080.7,1668.4h0M3093.7,1651.0h0M3092.0,1601.0h0M3085.1,1632.0h0M3078.5,1599.6h0M3100.9,1662.7h0M3090.6,1682.9h0M3090.4,1600.1h0M3103.7,1623.1h0M3082.3,1679.7h0M3097.7,1605.8h0M3096.7,1612.6h0M3101.4,1649.1h0M3095.7,1681.0h0M3066.6,1624.8h0M3081.4,1713.6h0M3100.0,1614.1h0M3084.0,1635.4h0M3075.8,1639.3h0M3078.0,1648.2h0M3072.1,1699.2h0M3066.5,1668.1h0M3087.5,1656.4h0M3083.6,1602.6h0M3086.4,1690.4h0M3067.8,1652.9h0M3103.6,1632.9h0M3086.4,1616.2h0M3106.0,1624.2h0M3083.3,1701.2h0M3082.8,1693.7h0M3064.9,1708.5h0M3086.0,1600.4h0M3076.8,1662.9h0M3081.1,1595.8h0M3088.1,1650.4h0M3092.9,1672.6h0M3099.1,1644.6h0M3093.7,1612.8h0M3103.1,1614.5h0M3078.9,1612.0h0M3078.1,1695.5h0M3077.0,1602.2h0M3086.1,1660.3h0M3095.0,1676.7h0M3076.3,1687.7h0M3085.6,1652.9h0M3077.1,1620.9h0M3085.9,1666.3h0M3071.2,1666.9h0M3069.7,1719.6h0M3077.1,1664.1h0M3072.6,1650.9h0M3064.5,1630.7h0M3063.9,1681.7h0M3070.9,1620.4h0M3074.3,1619.4h0M3080.5,1636.1h0M3070.4,1663.5h0M3086.6,1616.5h0M3098.7,1639.9h0M3078.9,1594.1h0M3077.8,1643.7h0M3072.4,1651.6h0M3097.1,1660.0h0M3071.5,1721.7h0M3091.5,1642.7h0M3091.1,1666.2h0M3068.4,1722.7h0M3075.7,1623.2h0M3080.1,1701.0h0M3080.5,1712.1h0M3075.5,1615.9h0M3086.0,1645.6h0M3079.8,1629.7h0M3078.0,1679.9h0M3060.0,1730.7h0M3067.0,1697.2h0M3068.8,1714.4h0M3095.1,1642.3h0M3093.8,1637.3h0M3094.5,1648.9h0M3073.8,1660.1h0M3081.8,1715.2h0M3091.4,1602.4h0M3076.8,1674.2h0M3072.8,1721.7h0M3075.8,1676.6h0M3079.8,1689.1h0M3103.0,1639.4h0M3064.9,1674.6h0M3085.5,1655.6h0M3076.6,1595.2h0M3081.3,1660.8h0M3077.4,1631.1h0M3078.6,1663.4h0M3082.5,1695.3h0M3099.4,1669.8h0M3085.5,1633.8h0M3079.6,1666.1h0M3074.7,1654.9h0M3092.9,1698.4h0M3076.4,1721.1h0M3084.0,1651.5h0M3085.0,1661.9h0M3099.0,1647.2h0M3080.0,1672.2h0M3090.7,1706.1h0M3064.9,1722.3h0M3100.4,1634.4h0M3077.4,1712.4h0M3062.3,1678.6h0M3066.1,1605.0h0M3070.8,1703.3h0M3074.4,1605.2h0M3095.7,1634.0h0M3089.7,1628.1h0M3095.8,1650.6h0M3068.2,1632.8h0M3082.7,1662.2h0M3090.9,1639.3h0M3075.0,1654.1h0M3068.7,1710.5h0M3078.8,1610.5h0M3080.4,1623.2h0M3065.7,1691.2h0M3080.1,1660.2h0M3079.8,1608.0h0M3077.6,1719.1h0M3075.4,1599.1h0M3098.4,1622.3h0M3070.1,1623.1h0M3090.1,1690.1h0M3091.7,1644.7h0M3072.2,1700.8h0M3070.6,1647.6h0M3085.6,1696.7h0M3090.0,1654.6h0M3083.4,1699.9h0M3090.0,1686.9h0M3069.5,1717.2h0M3079.1,1717.3h0M3093.5,1642.5h0M3072.9,1649.4h0M3091.9,1598.7h0M3097.8,1673.4h0M3095.0,1620.3h0M3065.4,1633.3h0M3088.7,1695.1h0M3094.4,1647.0h0M3079.1,1655.7h0M3072.2,1635.6h0M3080.1,1672.1h0M3074.2,1648.1h0M3067.3,1710.0h0M3074.9,1667.2h0M3086.8,1668.0h0M3089.2,1626.5h0M3097.9,1644.9h0M3091.3,1626.1h0M3063.5,1708.7h0M3073.5,1630.3h0M3077.5,1665.6h0M3076.5,1661.8h0M3067.0,1650.9h0M3080.0,1710.3h0M3080.9,1716.2h0M3097.4,1615.2h0M3074.8,1729.5h0M3100.6,1607.9h0M3085.1,1614.3h0M3077.0,1665.1h0M3094.9,1671.1h0M3082.6,1683.3h0M3064.1,1733.4h0M3079.7,1742.3h0M3086.1,1777.0h0M3082.6,1758.3h0M3096.3,1812.4h0M3091.6,1809.5h0M3090.7,1798.9h0M3095.7,1803.5h0M3095.9,1800.5h0M3085.6,1808.7h0M3091.3,1815.7h0M3085.3,1818.6h0M3093.0,1814.9h0M3084.9,1811.0h0M3085.2,1809.2h0M3092.0,1814.6h0M3094.6,1805.1h0M3096.7,1812.6h0M3092.9,1818.1h0M3094.2,1799.5h0M3096.4,1804.4h0M3092.2,1804.8h0M3088.1,1804.3h0M3090.6,1821.1h0M3093.5,1818.3h0M3086.8,1820.9h0M3086.6,1816.6h0M3089.4,1811.3h0M3086.8,1811.9h0M3092.1,1804.0h0M3096.2,1812.3h0M3091.0,1821.4h0M3088.3,1817.0h0M3087.7,1803.4h0M3090.9,1808.6h0M3084.7,1817.9h0M3089.5,1802.7h0M3090.6,1800.4h0M3091.2,1818.6h0M3090.8,1812.5h0M3091.9,1818.1h0M3091.9,1802.3h0M3085.0,1816.2h0M3088.6,1803.5h0M3089.3,1806.5h0M3094.7,1808.1h0M3090.3,1822.6h0M3085.4,1814.0h0M3088.2,1810.5h0M3087.4,1815.7h0M3086.9,1813.8h0M3093.7,1810.8h0M3091.3,1801.8h0M3089.1,1822.0h0M3089.4,1822.8h0M3095.8,1809.4h0M3084.9,1816.3h0M3090.6,1808.0h0M3086.3,1807.0h0M3088.0,1822.8h0M3092.8,1802.6h0M3093.7,1802.3h0M3090.2,1820.5h0M3095.0,1799.7h0M3095.3,1798.2h0M3094.4,1797.9h0M3193.3,1677.1h0M3209.1,1631.9h0M3218.4,1698.6h0M3219.1,1652.5h0M3199.2,1646.8h0M3214.9,1723.3h0M3207.0,1629.1h0M3208.3,1604.0h0M3206.1,1701.6h0M3202.6,1710.5h0M3210.8,1617.4h0M3195.5,1646.7h0M3209.0,1631.1h0M3214.3,1660.7h0M3198.0,1657.8h0M3180.5,1668.4h0M3202.4,1630.3h0M3191.6,1654.9h0M3206.2,1736.2h0M3189.2,1683.3h0M3187.9,1615.1h0M3187.3,1671.6h0M3208.0,1728.4h0M3197.8,1667.3h0M3186.5,1677.3h0M3190.5,1654.9h0M3214.7,1710.9h0M3186.6,1692.7h0M3185.9,1622.9h0M3196.1,1610.8h0M3190.1,1687.2h0M3202.3,1673.3h0M3201.1,1642.4h0M3195.2,1649.4h0M3198.1,1647.7h0M3211.2,1645.8h0M3191.8,1695.5h0M3219.4,1647.8h0M3216.8,1669.3h0M3191.8,1597.3h0M3218.5,1695.1h0M3188.1,1603.8h0M3195.4,1652.2h0M3214.1,1685.1h0M3187.8,1684.8h0M3190.3,1649.5h0M3195.9,1641.2h0M3211.0,1714.3h0M3210.4,1660.6h0M3201.8,1640.8h0M3193.7,1697.6h0M3209.6,1650.2h0M3212.3,1679.2h0M3205.3,1667.6h0M3198.7,1700.8h0M3204.2,1613.6h0M3201.7,1609.5h0M3212.2,1721.8h0M3189.2,1664.4h0M3181.6,1636.6h0M3195.8,1641.2h0M3211.6,1636.8h0M3200.6,1678.8h0M3199.5,1612.3h0M3179.7,1644.5h0M3206.0,1638.5h0M3212.2,1643.8h0M3206.9,1606.3h0M3190.3,1657.8h0M3181.1,1678.7h0M3199.0,1605.5h0M3202.0,1707.7h0M3203.5,1595.5h0M3193.2,1696.9h0M3192.5,1606.7h0M3186.6,1649.6h0M3187.7,1642.3h0M3208.0,1607.0h0M3189.2,1664.4h0M3199.4,1654.1h0M3184.0,1642.1h0M3214.8,1702.7h0M3191.5,1673.0h0M3194.5,1681.9h0M3201.5,1680.2h0M3201.1,1613.1h0M3212.7,1609.0h0M3201.0,1666.3h0M3205.0,1651.4h0M3205.1,1652.5h0M3193.0,1667.9h0M3214.4,1647.0h0M3214.3,1716.3h0M3193.3,1646.1h0M3193.3,1622.5h0M3218.1,1677.7h0M3211.8,1708.3h0M3215.9,1643.5h0M3208.9,1617.5h0M3195.0,1644.3h0M3191.7,1595.4h0M3212.8,1691.5h0M3212.2,1671.9h0M3207.8,1635.6h0M3210.6,1617.5h0M3218.3,1663.6h0M3192.1,1645.7h0M3218.6,1661.4h0M3211.3,1688.1h0M3198.4,1635.5h0M3200.4,1645.1h0M3185.1,1634.0h0M3192.5,1648.5h0M3205.4,1596.2h0M3203.7,1603.0h0M3214.5,1695.2h0M3204.0,1727.3h0M3211.7,1639.8h0M3186.8,1664.0h0M3191.7,1626.0h0M3195.3,1683.4h0M3205.3,1603.6h0M3192.8,1612.8h0M3202.4,1604.4h0M3197.1,1608.7h0M3201.2,1671.5h0M3202.4,1705.0h0M3189.5,1687.8h0M3193.4,1656.2h0M3219.1,1684.6h0M3186.4,1640.8h0M3189.6,1615.4h0M3203.9,1661.8h0M3198.4,1628.2h0M3202.5,1703.2h0M3189.0,1668.6h0M3192.4,1637.5h0M3202.3,1704.0h0M3207.6,1678.6h0M3203.4,1609.3h0M3190.5,1665.0h0M3195.2,1673.0h0M3193.5,1597.5h0M3184.2,1687.1h0M3199.0,1695.2h0M3203.5,1687.2h0M3206.7,1625.1h0M3187.7,1623.4h0M3198.4,1616.6h0M3183.0,1680.5h0M3208.5,1689.3h0M3208.0,1670.7h0M3220.0,1668.7h0M3218.1,1693.9h0M3210.6,1677.9h0M3189.6,1686.4h0M3205.0,1603.7h0M3205.7,1647.6h0M3192.5,1621.8h0M3179.0,1646.8h0M3192.3,1614.6h0M3196.1,1640.1h0M3195.8,1588.5h0M3196.8,1635.1h0M3218.2,1652.3h0M3200.9,1683.3h0M3201.3,1601.3h0M3187.9,1685.2h0M3182.2,1661.9h0M3206.1,1729.9h0M3197.6,1622.4h0M3180.2,1647.0h0M3208.4,1681.2h0M3185.2,1621.2h0M3196.5,1629.6h0M3199.7,1715.0h0M3211.4,1645.2h0M3207.1,1716.1h0M3194.7,1676.0h0M3207.0,1721.9h0M3213.3,1702.2h0M3183.3,1663.7h0M3193.3,1655.3h0M3207.8,1639.3h0M3186.5,1623.5h0M3203.3,1653.8h0M3210.3,1625.0h0M3189.3,1619.9h0M3207.2,1738.5h0M3214.4,1637.0h0M3219.7,1710.5h0M3193.5,1640.5h0M3183.4,1675.4h0M3183.2,1698.8h0M3205.2,1652.7h0M3199.2,1685.2h0M3184.3,1623.5h0M3207.6,1669.4h0M3208.7,1643.3h0M3204.9,1638.4h0M3197.0,1626.3h0M3201.7,1651.4h0M3204.1,1670.9h0M3201.0,1600.0h0M3209.5,1722.1h0M3190.8,1642.3h0M3197.6,1647.4h0M3190.0,1635.3h0M3194.9,1608.0h0M3215.9,1667.3h0M3214.3,1719.4h0M3212.2,1670.4h0M3184.8,1689.4h0M3201.1,1635.2h0M3205.3,1595.3h0M3202.8,1737.4h0M3184.7,1663.6h0M3202.0,1705.6h0M3186.7,1640.1h0M3183.0,1670.7h0M3182.3,1673.0h0M3217.2,1672.5h0M3207.7,1678.2h0M3212.9,1715.1h0M3202.4,1640.7h0M3217.7,1698.1h0M3193.5,1685.4h0M3190.5,1690.5h0M3214.4,1706.8h0M3191.5,1673.6h0M3199.9,1616.2h0M3199.0,1682.4h0M3209.4,1729.8h0M3218.3,1667.4h0M3217.0,1698.5h0M3187.1,1631.6h0M3204.1,1682.1h0M3181.2,1660.6h0M3196.2,1607.6h0M3201.2,1600.7h0M3213.4,1696.8h0M3212.4,1619.9h0M3189.2,1688.5h0M3210.2,1732.5h0M3187.6,1641.5h0M3205.2,1736.5h0M3196.6,1648.3h0M3212.7,1697.6h0M3214.3,1667.7h0M3201.9,1699.6h0M3213.0,1675.7h0M3186.7,1666.4h0M3217.6,1658.6h0M3195.3,1686.0h0M3217.8,1640.8h0M3185.2,1694.2h0M3215.8,1684.3h0M3201.1,1644.7h0M3185.3,1698.2h0M3212.3,1655.5h0M3194.7,1699.7h0M3196.7,1688.8h0M3207.0,1655.1h0M3189.3,1604.7h0M3218.1,1645.7h0M3217.5,1643.6h0M3208.9,1686.0h0M3216.7,1675.0h0M3197.0,1612.1h0M3191.2,1631.8h0M3204.9,1612.2h0M3220.4,1669.8h0M3193.4,1637.9h0M3192.9,1604.1h0M3192.4,1630.2h0M3185.5,1691.5h0M3205.2,1725.1h0M3193.2,1644.9h0M3197.3,1611.3h0M3208.8,1680.9h0M3183.6,1679.4h0M3204.1,1734.0h0M3208.3,1681.6h0M3210.7,1679.5h0M3182.8,1633.5h0M3179.7,1661.9h0M3184.6,1658.8h0M3214.6,1716.0h0M3199.7,1627.1h0M3212.5,1649.0h0M3206.7,1626.6h0M3192.6,1641.8h0M3194.4,1621.0h0M3199.9,1706.0h0M3190.6,1600.1h0M3204.1,1686.2h0M3203.3,1616.3h0M3192.3,1697.2h0M3208.8,1615.9h0M3187.7,1696.5h0M3204.8,1590.9h0M3198.4,1703.4h0M3205.2,1710.0h0M3188.1,1694.0h0M3207.7,1735.9h0M3208.1,1732.9h0M3191.8,1658.8h0M3211.5,1665.5h0M3196.0,1668.4h0M3205.6,1676.8h0M3205.9,1700.4h0M3185.7,1679.4h0M3215.1,1667.9h0M3203.6,1597.4h0M3213.1,1689.3h0M3202.7,1634.8h0M3204.5,1718.0h0M3192.8,1647.9h0M3189.1,1651.8h0M3193.3,1639.7h0M3197.4,1626.3h0M3200.4,1715.7h0M3205.8,1622.4h0M3202.6,1714.6h0M3206.0,1650.2h0M3217.4,1643.4h0M3211.5,1610.3h0M3191.2,1705.1h0M3213.3,1696.5h0M3209.3,1646.4h0M3187.4,1681.9h0M3202.7,1705.8h0M3211.9,1637.0h0M3215.5,1665.3h0M3187.5,1666.8h0M3202.0,1726.8h0M3182.6,1683.6h0M3205.0,1717.6h0M3203.5,1600.8h0M3197.5,1678.8h0M3207.4,1728.4h0M3213.3,1681.6h0M3220.1,1660.8h0M3196.7,1707.5h0M3194.9,1707.9h0M3192.9,1684.1h0M3179.6,1645.1h0M3208.8,1696.2h0M3216.1,1669.9h0M3213.3,1673.0h0M3209.9,1615.5h0M3205.1,1633.1h0M3205.9,1694.0h0M3196.7,1709.1h0M3192.7,1659.3h0M3189.8,1625.9h0M3210.3,1607.0h0M3216.7,1695.0h0M3207.2,1662.8h0M3214.2,1668.2h0M3204.5,1711.9h0M3180.7,1672.2h0M3209.2,1699.4h0M3198.9,1602.4h0M3194.5,1689.2h0M3185.0,1684.8h0M3197.9,1697.1h0M3200.7,1720.5h0M3205.0,1619.5h0M3200.3,1618.5h0M3198.4,1697.3h0M3183.4,1669.7h0M3198.0,1675.4h0M3186.4,1661.8h0M3200.1,1631.0h0M3202.9,1587.1h0M3207.3,1713.8h0M3182.6,1662.7h0M3210.2,1615.9h0M3215.6,1625.9h0M3210.8,1605.2h0M3207.5,1718.4h0M3203.6,1714.7h0M3195.2,1704.2h0M3208.1,1664.6h0M3201.8,1631.1h0M3194.0,1636.8h0M3185.4,1668.9h0M3190.6,1610.1h0M3206.7,1633.8h0M3217.7,1657.3h0M3210.9,1671.3h0M3197.7,1622.0h0M3217.8,1652.5h0M3201.9,1613.1h0M3217.9,1682.0h0M3207.5,1713.8h0M3206.4,1658.4h0M3198.3,1615.7h0M3209.9,1608.9h0M3193.2,1607.1h0M3189.5,1655.6h0M3216.2,1639.2h0M3207.0,1623.3h0M3189.8,1694.1h0M3220.1,1673.8h0M3201.9,1708.3h0M3195.2,1676.8h0M3212.8,1669.6h0M3187.2,1651.6h0M3190.2,1688.1h0M3197.7,1667.9h0M3200.4,1661.3h0M3213.2,1656.8h0M3200.8,1588.2h0M3215.0,1629.7h0M3198.4,1678.4h0M3183.7,1621.7h0M3191.4,1660.0h0M3197.6,1598.1h0M3208.2,1683.1h0M3214.9,1676.5h0M3186.3,1679.0h0M3203.3,1675.6h0M3188.8,1681.0h0M3191.0,1595.6h0M3183.4,1678.9h0M3201.3,1671.6h0M3202.4,1690.8h0M3204.8,1712.6h0M3201.7,1694.7h0M3207.6,1675.9h0M3214.0,1712.5h0M3199.2,1595.5h0M3213.3,1681.2h0M3198.4,1625.1h0M3206.0,1731.0h0M3209.1,1672.4h0M3184.0,1669.7h0M3214.8,1654.5h0M3190.0,1679.6h0M3189.1,1682.3h0M3207.2,1630.2h0M3216.5,1701.9h0M3203.1,1604.6h0M3208.9,1642.4h0M3189.0,1706.0h0M3189.7,1687.2h0M3219.8,1677.8h0M3180.1,1645.9h0M3191.4,1708.7h0M3213.0,1627.3h0M3204.0,1638.6h0M3206.0,1653.5h0M3216.4,1647.7h0M3188.6,1676.8h0M3215.2,1720.0h0M3186.2,1662.3h0M3208.3,1638.7h0M3208.8,1697.1h0M3203.0,1714.3h0M3216.5,1721.2h0M3206.8,1691.8h0M3193.0,1691.5h0M3198.5,1668.0h0M3211.9,1690.0h0M3211.3,1703.3h0M3204.3,1707.0h0M3214.4,1668.7h0M3184.8,1635.3h0M3210.0,1611.1h0M3205.9,1676.1h0M3217.0,1649.5h0M3205.4,1643.4h0M3191.6,1684.7h0M3197.3,1661.8h0M3191.0,1643.4h0M3210.0,1703.1h0M3218.2,1675.9h0M3203.3,1639.4h0M3207.3,1622.6h0M3182.5,1640.7h0M3200.6,1685.1h0M3207.0,1623.2h0M3216.6,1636.6h0M3197.3,1698.2h0M3194.4,1657.0h0M3188.5,1651.9h0M3203.3,1712.5h0M3190.1,1690.5h0M3191.9,1689.9h0M3207.4,1703.5h0M3213.0,1693.7h0M3206.9,1703.4h0M3201.1,1654.4h0M3203.3,1617.7h0M3216.8,1684.6h0M3186.1,1681.7h0M3197.4,1591.9h0M3203.6,1607.6h0M3195.0,1645.3h0M3199.0,1620.9h0M3202.1,1671.9h0M3205.8,1636.4h0M3189.4,1661.1h0M3186.7,1670.2h0M3197.2,1638.4h0M3209.5,1716.0h0M3208.8,1601.9h0M3216.0,1670.1h0M3196.5,1662.6h0M3190.0,1633.9h0M3194.9,1703.6h0M3196.6,1685.7h0M3209.4,1714.5h0M3204.6,1713.9h0M3200.2,1594.8h0M3211.5,1634.1h0M3196.0,1713.5h0M3206.8,1634.2h0M3209.9,1681.4h0M3213.5,1689.4h0M3206.6,1633.1h0M3215.6,1723.9h0M3184.0,1660.8h0M3199.3,1675.0h0M3214.1,1732.3h0M3201.9,1632.6h0M3202.8,1685.8h0M3194.3,1593.1h0M3212.5,1671.8h0M3202.8,1611.8h0M3207.2,1680.0h0M3179.0,1646.1h0M3206.7,1601.6h0M3190.7,1669.9h0M3210.3,1646.8h0M3187.3,1679.7h0M3202.8,1599.1h0M3198.8,1628.3h0M3212.1,1668.5h0M3182.7,1630.5h0M3202.8,1597.0h0M3215.0,1675.3h0M3210.7,1616.6h0M3208.6,1645.9h0M3203.9,1600.2h0M3204.7,1698.8h0M3201.6,1621.6h0M3219.8,1690.7h0M3204.3,1589.0h0M3196.5,1602.2h0M3207.2,1695.5h0M3215.1,1646.3h0M3216.9,1646.4h0M3219.1,1655.6h0M3212.2,1656.4h0M3196.0,1633.0h0M3209.7,1733.3h0M3211.0,1691.0h0M3195.1,1616.5h0M3198.3,1596.7h0M3217.2,1671.2h0M3207.0,1694.7h0M3190.8,1690.1h0M3200.3,1681.7h0M3197.6,1685.2h0M3201.5,1710.9h0M3189.2,1643.7h0M3202.1,1645.7h0M3191.8,1688.3h0M3181.4,1659.0h0M3195.2,1605.8h0M3214.8,1656.2h0M3200.2,1724.9h0M3200.1,1592.5h0M3200.9,1708.3h0M3208.2,1625.4h0M3185.5,1640.2h0M3182.7,1638.2h0M3211.1,1696.9h0M3216.2,1632.4h0M3200.1,1665.6h0M3196.1,1650.2h0M3187.9,1634.9h0M3208.2,1627.1h0M3199.0,1662.9h0M3202.5,1715.1h0M3200.1,1608.3h0M3194.7,1708.0h0M3218.2,1694.7h0M3215.9,1659.6h0M3204.1,1700.7h0M3200.2,1628.0h0M3209.9,1614.8h0M3210.7,1615.9h0M3215.3,1720.2h0M3204.5,1669.2h0M3203.0,1693.9h0M3188.6,1637.1h0M3212.6,1673.2h0M3182.3,1645.8h0M3173.5,1592.4h0" stroke="#dccccc" stroke-width="3.1" stroke-linecap="round" fill="none"/>
<path d="M3041.2,1680.0h0M3049.8,1694.1h0M3042.7,1672.9h0M3043.7,1662.7h0M3050.3,1708.4h0M3043.5,1657.7h0M3055.4,1722.1h0M3055.5,1718.2h0M3049.3,1712.5h0M3043.5,1666.7h0M3044.1,1688.6h0M3048.3,1692.0h0M3052.9,1723.3h0M3051.2,1692.2h0M3045.4,1661.7h0M3054.0,1720.4h0M3042.0,1662.9h0M3043.6,1669.5h0M3043.9,1672.5h0M3052.9,1717.1h0M3046.9,1704.1h0M3049.0,1696.4h0" stroke="#7690c0" stroke-width="3.1" stroke-linecap="round" fill="none"/>
<path d="M3070.7,1709.1h0M3081.0,1670.8h0M3078.2,1650.9h0M3061.8,1687.4h0M3069.3,1628.3h0M3063.6,1635.1h0M3083.2,1640.1h0M3061.3,1705.0h0M3065.9,1651.6h0M3061.0,1633.5h0M3062.4,1674.6h0M3067.0,1603.5h0M3069.8,1629.8h0M3071.2,1665.0h0M3068.3,1665.0h0M3059.1,1674.5h0M3070.9,1596.8h0M3082.9,1618.7h0M3072.8,1599.4h0M3065.1,1613.8h0M3075.2,1604.3h0M3066.8,1667.8h0M3065.5,1617.2h0M3068.7,1596.7h0M3070.6,1606.6h0M3077.4,1608.1h0M3066.6,1671.3h0M3074.3,1657.6h0M3067.6,1595.4h0M3073.7,1650.8h0M3069.2,1642.2h0M3097.6,1650.5h0M3072.5,1610.6h0M3056.8,1637.9h0M3067.8,1684.7h0M3074.5,1685.0h0M3060.9,1689.5h0M3067.7,1659.4h0M3060.0,1728.2h0M3079.9,1686.0h0M3068.0,1679.7h0M3064.6,1671.0h0M3078.5,1626.7h0M3064.9,1621.2h0M3067.8,1718.8h0M3064.2,1637.4h0M3076.7,1668.5h0M3084.1,1632.3h0M3087.1,1623.2h0M3068.0,1717.8h0M3059.4,1690.1h0M3079.6,1642.1h0M3069.4,1683.4h0M3068.1,1593.8h0M3062.6,1670.0h0M3071.4,1683.2h0M3083.4,1622.1h0M3089.0,1620.4h0M3068.7,1674.9h0M3058.8,1674.3h0M3090.7,1658.9h0M3061.5,1675.1h0M3065.1,1675.3h0M3063.3,1618.0h0M3065.5,1612.4h0M3076.1,1655.2h0M3063.3,1707.2h0M3062.9,1719.6h0M3096.3,1639.5h0M3069.0,1711.2h0M3066.4,1715.5h0M3061.7,1698.1h0M3069.1,1631.1h0M3072.6,1664.6h0M3065.2,1665.6h0M3072.7,1623.5h0M3086.5,1611.7h0M3063.4,1710.8h0M3059.4,1692.8h0M3088.5,1628.1h0M3090.0,1648.9h0M3074.2,1614.5h0M3074.3,1667.8h0M3073.0,1621.4h0M3069.0,1656.4h0M3063.0,1614.3h0M3058.4,1631.9h0M3074.8,1633.4h0M3068.0,1617.8h0M3087.5,1662.5h0M3061.0,1685.4h0M3079.4,1603.9h0M3075.1,1624.3h0M3064.6,1604.5h0M3078.1,1614.4h0M3076.8,1612.1h0M3070.4,1720.8h0M3072.1,1664.2h0M3079.1,1595.1h0M3068.2,1727.1h0M3072.2,1644.5h0M3062.5,1639.7h0M3076.8,1642.4h0M3063.5,1632.9h0M3074.4,1628.3h0M3080.7,1627.2h0M3067.1,1611.5h0M3066.7,1622.4h0M3079.9,1658.6h0M3064.1,1715.5h0M3058.4,1729.7h0M3077.4,1640.1h0M3087.5,1658.3h0M3061.5,1709.0h0M3065.4,1620.3h0M3056.3,1639.6h0M3066.3,1678.2h0M3073.8,1632.4h0M3070.7,1644.1h0M3065.1,1676.8h0M3073.8,1628.8h0M3076.4,1641.7h0M3069.2,1657.7h0M3090.7,1629.8h0M3062.1,1660.3h0M3058.6,1727.6h0M3060.4,1727.5h0M3075.6,1660.4h0M3074.3,1642.7h0M3077.0,1632.3h0M3082.2,1634.0h0M3080.6,1664.3h0M3071.2,1627.2h0M3074.0,1606.6h0M3075.7,1670.3h0M3064.9,1717.5h0M3058.7,1668.4h0M3081.8,1659.6h0M3064.0,1605.1h0M3088.1,1622.3h0M3066.6,1652.0h0M3065.8,1627.0h0M3078.7,1647.7h0M3065.5,1610.5h0M3077.0,1601.9h0M3064.9,1615.3h0M3059.2,1730.7h0M3072.8,1599.3h0M3068.8,1652.0h0M3064.6,1715.2h0M3060.3,1730.2h0M3068.5,1601.8h0M3069.9,1642.3h0M3065.1,1602.2h0M3056.8,1638.7h0M3072.7,1631.0h0M3070.1,1641.8h0M3083.5,1697.5h0M3055.0,1727.0h0M3078.5,1633.5h0M3060.1,1712.2h0M3089.0,1682.7h0M3078.1,1601.2h0M3064.9,1618.9h0M3062.0,1661.7h0M3078.0,1617.3h0M3067.1,1631.7h0M3069.3,1658.6h0M3070.2,1597.2h0M3080.0,1648.8h0M3070.1,1686.6h0M3069.1,1610.1h0M3062.1,1617.5h0M3070.5,1631.8h0M3070.0,1619.9h0M3062.7,1618.0h0M3063.3,1699.3h0M3072.5,1704.3h0M3061.0,1638.5h0M3060.1,1727.6h0M3061.3,1626.6h0M3063.3,1645.6h0M3061.2,1731.2h0M3064.9,1603.4h0M3067.8,1632.6h0M3063.3,1625.9h0M3066.7,1624.9h0M3059.3,1625.4h0M3058.1,1727.8h0M3089.4,1615.7h0M3060.4,1625.6h0M3070.4,1625.3h0M3063.5,1677.3h0M3066.6,1627.1h0M3061.3,1628.2h0M3063.8,1662.5h0M3068.6,1596.0h0M3067.3,1638.5h0M3072.2,1712.8h0M3078.8,1604.2h0M3067.3,1622.6h0M3061.1,1671.3h0M3073.2,1639.4h0M3067.5,1682.6h0M3061.8,1618.1h0M3066.0,1633.8h0M3073.4,1625.0h0M3072.8,1685.2h0M3063.2,1627.6h0M3066.4,1723.0h0M3066.7,1602.6h0M3068.7,1637.0h0M3066.7,1625.8h0M3087.4,1614.2h0M3072.4,1650.9h0M3078.5,1609.3h0M3074.2,1605.5h0M3081.4,1610.0h0M3061.4,1719.5h0M3063.3,1646.9h0M3077.0,1708.5h0M3085.4,1617.6h0M3073.7,1662.9h0M3068.8,1656.6h0M3061.9,1665.1h0M3067.4,1665.4h0M3080.2,1622.4h0M3071.6,1629.5h0M3061.1,1624.0h0M3069.1,1689.7h0M3075.9,1655.5h0M3062.8,1744.4h0M3065.6,1752.8h0M3064.2,1735.9h0M3064.6,1740.0h0M3063.9,1744.1h0M3065.0,1733.5h0M3063.4,1733.6h0M3064.7,1741.5h0M3064.4,1746.1h0M3064.0,1734.6h0M3062.9,1750.1h0M3064.6,1742.2h0M3063.0,1734.5h0M3064.1,1734.6h0M3063.7,1746.2h0M3064.3,1740.8h0M3065.1,1743.3h0M3082.0,1765.7h0M3082.0,1762.4h0M3081.3,1753.5h0M3078.4,1737.1h0M3084.1,1767.8h0M3084.9,1772.1h0M3087.1,1791.1h0M3087.1,1785.7h0M3085.0,1789.4h0M3077.1,1737.7h0M3087.3,1793.3h0M3082.9,1765.7h0M3080.7,1749.4h0M3086.7,1788.6h0M3079.2,1746.1h0M3080.8,1755.2h0M3078.8,1748.7h0M3084.4,1770.0h0M3083.3,1767.0h0M3087.4,1788.8h0M3078.2,1741.7h0M3082.4,1770.2h0M3081.8,1757.8h0M3079.2,1747.2h0M3080.3,1740.2h0M3086.7,1791.8h0M3087.1,1794.3h0M3081.0,1757.9h0M3088.8,1795.0h0M3079.2,1740.7h0M3084.9,1772.2h0M3081.2,1762.9h0M3077.2,1744.8h0M3078.7,1747.1h0M3085.9,1783.6h0M3085.3,1767.8h0M3085.3,1792.1h0M3083.2,1760.1h0M3086.1,1785.9h0M3086.6,1786.4h0M3084.5,1777.5h0M3083.0,1771.2h0M3081.7,1759.7h0M3083.2,1761.7h0M3085.9,1787.0h0M3086.5,1780.6h0M3080.8,1744.6h0M3082.1,1763.4h0M3088.5,1791.5h0M3081.3,1750.2h0M3093.4,1798.8h0M3191.5,1652.5h0M3198.7,1644.8h0M3212.5,1708.1h0M3210.1,1678.3h0M3202.8,1705.0h0M3207.0,1698.7h0M3188.4,1606.1h0M3187.4,1653.7h0M3204.7,1607.3h0M3189.1,1641.6h0M3187.7,1623.6h0M3218.0,1688.8h0M3192.4,1634.1h0M3193.4,1710.0h0M3200.6,1590.3h0M3193.8,1660.2h0M3210.7,1709.7h0M3208.8,1710.4h0M3206.8,1642.1h0M3215.0,1651.8h0M3198.8,1678.6h0M3211.4,1647.5h0M3204.0,1615.5h0M3200.8,1685.7h0M3192.3,1659.3h0M3197.2,1643.3h0M3189.4,1614.2h0M3211.5,1669.9h0M3209.9,1683.1h0M3196.0,1675.4h0M3216.9,1690.9h0M3198.0,1634.5h0M3217.9,1683.7h0M3194.2,1709.7h0M3210.6,1729.3h0M3210.3,1673.1h0M3217.0,1705.1h0M3201.3,1601.1h0M3218.8,1663.4h0M3202.8,1629.0h0M3189.8,1661.4h0M3215.4,1691.9h0M3179.1,1644.8h0M3193.0,1699.6h0M3193.0,1662.1h0M3200.5,1597.2h0M3196.7,1628.1h0M3196.7,1599.4h0M3214.1,1699.0h0M3198.3,1636.9h0M3186.9,1693.1h0M3201.3,1715.4h0M3212.5,1692.8h0M3196.8,1610.2h0M3191.4,1630.9h0M3203.3,1673.1h0M3197.3,1707.9h0M3211.9,1696.2h0M3188.4,1705.1h0M3208.4,1620.1h0M3210.1,1720.7h0M3202.4,1704.0h0M3214.6,1726.3h0M3188.9,1627.6h0M3194.6,1674.9h0M3198.8,1689.6h0M3183.3,1682.6h0M3202.6,1728.4h0M3196.8,1632.0h0M3209.3,1681.7h0M3181.2,1656.4h0M3207.4,1654.8h0M3217.7,1665.7h0M3193.6,1696.9h0M3196.4,1623.6h0M3204.2,1687.8h0M3210.5,1732.7h0M3191.7,1634.4h0M3199.8,1599.3h0M3210.0,1664.1h0M3216.1,1681.4h0M3210.7,1716.7h0M3203.7,1605.2h0M3205.4,1613.0h0M3212.0,1646.3h0M3202.0,1704.5h0M3193.7,1655.1h0M3196.8,1644.0h0M3187.8,1694.8h0M3217.4,1694.2h0M3204.0,1738.5h0M3199.7,1655.7h0M3182.4,1665.2h0M3205.7,1651.3h0M3204.3,1682.5h0M3208.9,1733.2h0M3196.1,1646.5h0M3181.8,1640.5h0M3188.3,1694.9h0M3181.5,1656.5h0M3201.3,1635.4h0M3188.2,1601.7h0M3204.9,1732.7h0M3185.7,1688.8h0M3204.4,1691.4h0M3213.6,1655.3h0M3206.7,1615.0h0M3212.0,1728.5h0M3211.7,1730.8h0M3212.3,1640.3h0M3199.6,1604.1h0M3199.6,1601.2h0M3202.9,1658.7h0M3213.3,1653.7h0M3191.7,1624.9h0M3192.2,1658.6h0M3210.1,1694.2h0M3210.5,1692.2h0M3183.2,1634.8h0M3218.5,1687.3h0M3186.7,1659.9h0M3206.3,1687.9h0M3188.9,1608.3h0M3195.6,1646.0h0M3183.2,1645.9h0M3198.3,1671.7h0M3185.2,1612.2h0M3213.6,1714.7h0M3203.0,1723.7h0M3190.4,1692.2h0M3209.1,1739.3h0M3187.7,1625.5h0M3211.2,1657.8h0M3208.7,1672.9h0M3206.1,1628.6h0M3209.6,1723.0h0M3205.1,1641.1h0M3199.7,1608.0h0M3190.0,1693.5h0M3193.3,1683.4h0M3201.1,1599.8h0M3209.5,1721.5h0M3215.7,1699.3h0M3198.1,1713.5h0M3216.5,1704.9h0M3208.1,1605.8h0M3185.4,1672.9h0M3204.5,1641.2h0M3218.6,1658.1h0M3204.9,1624.3h0M3182.9,1672.3h0M3200.7,1597.1h0M3191.6,1619.2h0M3199.9,1595.9h0M3210.8,1720.1h0M3195.6,1626.8h0M3190.2,1669.1h0M3212.4,1689.3h0M3180.8,1634.1h0M3203.6,1640.7h0M3203.0,1596.6h0M3203.2,1647.6h0M3217.6,1692.7h0M3200.2,1590.5h0M3199.5,1685.0h0M3188.7,1643.5h0M3188.8,1676.9h0M3200.4,1604.4h0M3211.9,1624.9h0M3210.5,1707.4h0M3192.5,1662.5h0M3209.3,1641.6h0M3187.8,1658.7h0M3204.4,1625.7h0M3207.9,1722.8h0M3179.3,1648.1h0M3198.1,1635.4h0M3207.0,1729.1h0M3203.2,1610.3h0M3211.0,1690.0h0M3214.9,1728.5h0M3186.0,1689.4h0M3213.3,1626.1h0M3203.0,1685.0h0M3210.3,1718.1h0M3195.5,1685.4h0M3212.0,1700.7h0M3181.2,1682.2h0M3181.1,1629.9h0M3213.8,1669.8h0M3211.9,1656.2h0M3209.6,1652.7h0M3201.4,1709.7h0M3189.6,1704.4h0M3194.2,1708.6h0M3197.7,1647.8h0M3203.7,1645.0h0M3198.0,1708.2h0M3204.7,1639.5h0M3217.7,1639.7h0M3211.4,1727.3h0M3186.0,1649.6h0M3185.9,1606.8h0M3179.9,1655.1h0M3215.9,1682.0h0M3185.9,1655.8h0M3195.3,1712.6h0M3208.0,1661.5h0M3216.3,1653.2h0M3205.1,1650.2h0M3205.0,1706.1h0M3183.6,1648.7h0M3204.5,1700.7h0M3208.1,1644.4h0M3204.3,1701.1h0M3189.5,1637.1h0M3198.1,1668.9h0M3185.2,1648.0h0M3207.8,1684.7h0M3200.3,1697.3h0M3202.0,1667.1h0M3193.6,1631.2h0M3190.2,1682.5h0M3212.1,1723.9h0M3219.0,1687.6h0M3214.6,1678.2h0M3192.0,1666.6h0M3212.1,1720.3h0M3208.3,1659.7h0M3205.9,1641.7h0M3198.8,1595.8h0M3190.4,1620.8h0M3179.1,1662.7h0M3204.7,1672.7h0M3200.3,1588.4h0M3211.9,1697.7h0M3201.1,1641.5h0M3199.5,1609.4h0M3200.8,1689.6h0M3199.2,1688.6h0M3219.1,1692.5h0M3207.7,1602.8h0M3217.5,1683.1h0M3184.9,1687.3h0M3207.0,1626.6h0M3198.4,1692.0h0M3205.6,1731.9h0M3199.6,1616.3h0M3189.5,1626.1h0M3194.5,1614.5h0M3204.1,1734.1h0M3190.1,1683.7h0M3213.9,1651.8h0M3187.6,1674.7h0M3204.6,1652.5h0M3195.2,1712.9h0M3210.7,1625.0h0M3190.3,1635.3h0M3190.0,1661.9h0M3197.9,1617.2h0M3209.6,1701.0h0M3194.5,1643.1h0M3214.5,1694.5h0M3187.1,1613.5h0M3205.2,1611.7h0M3198.1,1618.5h0M3208.3,1736.0h0M3211.8,1660.8h0M3200.5,1719.9h0M3194.0,1654.1h0M3192.1,1669.8h0M3187.2,1607.9h0M3194.9,1666.3h0M3202.7,1671.0h0M3200.9,1678.0h0M3199.7,1619.7h0M3193.4,1617.3h0M3212.3,1632.2h0M3210.5,1606.2h0M3192.5,1654.8h0M3208.5,1619.8h0M3209.9,1610.3h0M3213.6,1699.8h0M3188.2,1652.5h0M3192.1,1617.2h0M3184.9,1663.7h0M3214.9,1670.3h0M3185.6,1618.2h0M3214.8,1635.4h0M3202.0,1702.0h0M3191.0,1611.6h0M3188.7,1607.9h0M3184.5,1682.9h0M3211.3,1712.3h0M3210.5,1724.0h0M3209.9,1688.7h0M3189.2,1705.5h0M3192.3,1658.2h0M3198.9,1699.5h0M3187.5,1679.2h0M3211.7,1629.4h0M3195.9,1651.9h0M3197.1,1601.2h0M3190.5,1602.3h0M3201.4,1588.7h0M3207.8,1618.4h0M3200.7,1695.4h0M3195.4,1708.6h0M3201.3,1725.7h0M3193.1,1636.9h0M3203.1,1712.4h0M3212.6,1639.5h0M3211.7,1653.6h0M3217.3,1681.4h0M3217.3,1669.2h0M3185.6,1691.5h0M3202.5,1701.2h0M3197.3,1625.1h0M3198.0,1718.2h0M3191.3,1670.2h0M3204.5,1666.0h0M3210.4,1712.5h0M3209.5,1672.3h0M3213.8,1627.8h0M3206.5,1640.6h0M3193.6,1700.5h0M3216.4,1627.5h0M3208.9,1597.1h0M3213.1,1658.2h0M3214.4,1621.7h0M3188.8,1638.1h0M3214.8,1705.4h0" stroke="#d8d8d8" stroke-width="3.1" stroke-linecap="round" fill="none"/>
<path d="M3051.7,1692.2h0M3047.7,1677.9h0M3051.0,1672.1h0M3050.4,1657.2h0M3057.1,1716.6h0M3051.1,1695.5h0M3051.0,1660.2h0M3045.2,1657.3h0M3051.8,1688.7h0M3050.0,1675.4h0M3053.9,1689.4h0M3056.5,1720.3h0M3052.1,1683.6h0M3048.5,1674.7h0M3053.6,1699.7h0M3046.1,1659.5h0M3050.9,1689.0h0M3054.9,1713.6h0M3052.4,1706.6h0M3056.3,1665.5h0M3047.2,1668.1h0M3046.9,1660.9h0M3049.7,1658.4h0M3055.4,1712.6h0M3051.9,1655.4h0M3051.9,1703.4h0M3054.3,1701.3h0" stroke="#9fb2d2" stroke-width="3.1" stroke-linecap="round" fill="none"/>
<path d="M3094.0,1605.8h0M3105.3,1636.9h0M3092.7,1659.5h0M3098.4,1680.4h0M3099.7,1607.3h0M3078.5,1711.5h0M3083.6,1716.5h0M3086.4,1713.9h0M3085.0,1680.3h0M3096.0,1646.5h0M3081.8,1709.4h0M3105.5,1632.6h0M3105.2,1626.2h0M3099.7,1610.2h0M3102.1,1610.1h0M3078.4,1694.8h0M3089.3,1687.3h0M3094.3,1647.2h0M3084.1,1676.7h0M3091.7,1666.9h0M3095.8,1672.9h0M3082.7,1653.7h0M3095.5,1620.0h0M3096.2,1680.0h0M3098.2,1654.2h0M3097.6,1677.9h0M3103.5,1633.0h0M3083.6,1698.3h0M3097.5,1632.4h0M3101.9,1613.6h0M3094.0,1596.9h0M3100.1,1610.1h0M3100.2,1668.9h0M3104.6,1631.1h0M3103.4,1651.8h0M3087.7,1649.7h0M3086.5,1710.8h0M3086.5,1708.8h0M3103.2,1620.1h0M3083.1,1646.8h0M3090.1,1657.7h0M3098.2,1673.5h0M3092.3,1667.4h0M3101.9,1634.8h0M3104.1,1628.1h0M3089.0,1600.4h0M3100.5,1616.1h0M3097.3,1647.3h0M3087.2,1710.7h0M3087.1,1594.6h0M3098.0,1650.2h0M3090.2,1601.4h0M3080.6,1705.1h0M3077.3,1677.5h0M3097.3,1630.3h0M3092.9,1666.3h0M3086.5,1704.6h0M3101.7,1642.3h0M3092.6,1655.8h0M3091.9,1652.0h0M3081.6,1720.8h0M3082.8,1716.5h0M3073.0,1685.3h0M3084.3,1696.3h0M3092.8,1679.8h0M3104.0,1641.8h0M3101.5,1630.2h0M3091.4,1692.0h0M3076.3,1680.4h0M3097.1,1638.7h0M3079.8,1715.9h0M3086.0,1662.6h0M3103.5,1629.1h0M3104.5,1635.8h0M3087.9,1598.6h0M3097.3,1673.3h0M3103.7,1652.1h0M3093.3,1815.0h0M3086.5,1813.3h0M3088.2,1802.1h0M3085.2,1816.9h0M3090.3,1811.5h0M3091.2,1808.6h0M3096.1,1813.3h0M3195.3,1635.8h0M3188.5,1635.8h0M3201.1,1693.4h0M3212.3,1727.1h0M3195.7,1704.5h0M3184.4,1691.3h0M3179.9,1658.3h0M3215.8,1632.3h0M3181.4,1679.2h0M3209.1,1698.1h0M3198.8,1655.6h0M3176.5,1595.7h0M3182.7,1597.7h0M3175.0,1618.2h0" stroke="#e0bfbf" stroke-width="3.1" stroke-linecap="round" fill="none"/>
<path d="M3039.8,1678.5h0M3044.6,1685.5h0M3043.3,1669.0h0M3044.8,1700.1h0M3041.0,1675.4h0M3047.6,1701.9h0M3046.1,1697.2h0M3053.1,1719.7h0M3046.0,1688.9h0M3048.5,1695.9h0M3048.0,1703.6h0M3038.8,1678.0h0M3039.0,1682.8h0M3040.9,1682.4h0" stroke="#4e6fae" stroke-width="3.1" stroke-linecap="round" fill="none"/>
<path d="M3038.8,1676.4h0M3044.8,1711.0h0M3038.7,1678.2h0M3042.5,1689.1h0M3050.5,1720.0h0M3038.3,1673.1h0M3041.0,1681.2h0M3037.2,1672.9h0M3049.2,1708.9h0M3044.1,1696.6h0M3044.5,1705.1h0M3047.9,1712.7h0M3037.7,1682.4h0M3037.7,1681.6h0M3042.9,1695.2h0" stroke="#395ea4" stroke-width="3.1" stroke-linecap="round" fill="none"/>
<path d="M3040.8,1680.9h0M3045.2,1709.8h0M3039.4,1681.9h0M3038.4,1682.2h0M3042.1,1703.9h0M3040.6,1690.3h0M3038.1,1681.7h0M3041.8,1703.4h0M3042.8,1701.5h0M3043.8,1706.3h0" stroke="#2d5199" stroke-width="3.1" stroke-linecap="round" fill="none"/>
<path d="M3059.0,1643.9h0M3059.6,1643.4h0M3057.7,1698.2h0M3060.4,1642.5h0M3066.3,1643.7h0M3061.3,1653.3h0M3056.6,1660.9h0M3057.1,1709.0h0M3056.8,1682.7h0M3053.0,1641.3h0M3058.7,1652.5h0M3058.4,1686.9h0M3059.4,1702.7h0M3055.0,1666.2h0M3056.2,1663.5h0M3061.8,1718.6h0M3058.6,1675.2h0M3057.5,1655.0h0M3061.6,1669.7h0M3059.1,1717.4h0M3067.1,1639.1h0M3053.8,1684.9h0M3064.9,1652.6h0M3059.6,1693.8h0M3053.0,1678.3h0M3061.7,1645.2h0M3056.7,1700.3h0M3048.6,1649.8h0M3060.3,1637.8h0M3061.5,1717.8h0M3060.6,1642.3h0M3056.1,1691.0h0M3056.8,1644.5h0M3048.7,1647.1h0M3061.6,1678.6h0M3056.7,1691.5h0M3058.2,1654.4h0M3059.9,1655.6h0M3058.7,1702.2h0M3056.3,1699.8h0M3053.7,1657.5h0M3060.2,1666.6h0M3061.6,1666.0h0M3056.4,1664.1h0" stroke="#c3cbd7" stroke-width="3.1" stroke-linecap="round" fill="none"/>
<path d="M3053.7,1704.6h0M3061.7,1648.4h0M3059.0,1713.1h0M3057.5,1708.8h0M3051.6,1660.7h0M3055.6,1643.2h0M3057.9,1705.1h0M3049.4,1660.3h0M3055.9,1685.8h0M3055.0,1658.9h0M3060.4,1718.1h0M3057.4,1639.7h0M3052.9,1678.5h0M3052.5,1650.9h0M3058.2,1710.9h0M3060.4,1718.1h0M3052.1,1667.8h0M3056.4,1680.0h0M3058.8,1710.7h0M3055.7,1686.9h0M3063.0,1650.3h0M3057.5,1712.4h0M3056.6,1700.4h0M3052.6,1706.6h0M3054.0,1654.3h0M3058.4,1649.9h0M3052.3,1679.6h0M3050.8,1671.4h0M3059.9,1715.2h0M3053.1,1656.8h0M3060.5,1644.9h0M3055.7,1643.7h0M3057.7,1688.9h0M3060.5,1647.2h0M3057.1,1710.9h0M3054.1,1658.6h0M3053.2,1686.0h0M3053.2,1665.8h0M3054.5,1694.0h0M3055.5,1671.8h0" stroke="#b9c5d7" stroke-width="3.1" stroke-linecap="round" fill="none"/>
<path d="M3043.8,1690.0h0M3040.2,1679.7h0M3049.2,1698.5h0M3048.6,1709.6h0M3042.6,1676.3h0M3048.9,1693.7h0M3048.8,1690.1h0M3046.3,1686.1h0M3047.2,1673.6h0M3048.7,1699.4h0M3042.1,1663.7h0M3049.1,1715.7h0M3039.5,1663.3h0M3040.8,1663.9h0M3040.3,1668.6h0M3048.9,1697.2h0M3048.2,1689.6h0M3047.9,1708.1h0M3043.2,1684.2h0M3055.3,1721.4h0M3039.8,1673.9h0M3049.9,1697.6h0M3054.5,1723.8h0" stroke="#6280b6" stroke-width="3.1" stroke-linecap="round" fill="none"/>
<path d="M3050.2,1666.7h0M3057.8,1725.3h0M3055.6,1704.9h0M3053.8,1683.3h0M3057.0,1711.4h0M3055.8,1660.3h0M3049.3,1647.3h0M3054.5,1671.9h0M3051.7,1682.1h0M3055.6,1718.6h0M3056.7,1712.3h0M3057.8,1700.9h0M3055.1,1663.4h0M3057.4,1690.3h0M3052.9,1651.8h0M3056.0,1689.3h0M3053.2,1682.9h0M3057.4,1717.5h0M3054.4,1692.5h0M3058.2,1650.8h0M3059.7,1639.1h0M3053.1,1673.8h0M3057.2,1725.8h0M3055.4,1687.1h0M3051.5,1654.8h0M3049.9,1644.8h0M3053.6,1702.9h0M3058.0,1721.2h0M3054.0,1658.9h0M3053.5,1663.9h0M3052.1,1652.5h0M3048.3,1652.2h0M3059.0,1648.3h0" stroke="#aebed6" stroke-width="3.1" stroke-linecap="round" fill="none"/>
<path d="M3056.0,1703.3h0M3047.0,1654.5h0M3052.0,1714.0h0M3044.9,1670.6h0M3051.1,1691.9h0M3042.8,1655.0h0M3047.6,1662.7h0M3050.5,1691.3h0M3051.0,1700.9h0M3049.7,1676.9h0M3050.1,1677.9h0M3044.7,1677.4h0M3049.2,1711.6h0M3050.5,1692.6h0M3051.7,1707.0h0M3046.0,1654.3h0M3054.2,1718.3h0M3048.6,1681.6h0M3051.4,1694.0h0M3048.1,1673.7h0M3051.9,1683.2h0M3050.5,1684.8h0M3054.2,1721.8h0M3056.2,1722.7h0" stroke="#8aa2c8" stroke-width="3.1" stroke-linecap="round" fill="none"/>
<path d="M3057.1,1674.9h0M3061.0,1678.2h0M3055.9,1660.0h0M3071.3,1641.4h0M3063.3,1663.5h0M3052.7,1638.7h0M3058.3,1671.1h0M3058.7,1680.0h0M3070.7,1640.6h0M3063.4,1654.3h0M3062.2,1606.6h0M3057.7,1678.9h0M3057.2,1708.9h0M3060.0,1654.7h0M3058.9,1672.0h0M3067.9,1648.2h0M3059.4,1706.3h0M3064.1,1646.4h0M3057.6,1700.1h0M3058.6,1670.4h0M3058.9,1645.8h0M3062.3,1652.0h0M3064.5,1641.1h0M3063.1,1716.6h0M3060.6,1677.5h0M3059.5,1704.0h0M3055.9,1676.9h0M3061.4,1653.2h0M3058.8,1637.1h0M3062.3,1643.3h0M3061.5,1672.7h0M3060.0,1695.2h0M3067.6,1637.8h0M3069.8,1637.1h0M3059.5,1631.0h0M3067.6,1644.7h0M3057.5,1685.7h0M3061.3,1687.9h0M3071.3,1638.2h0M3057.8,1703.2h0M3062.8,1652.5h0M3062.8,1605.8h0M3059.4,1642.4h0M3066.2,1645.2h0M3057.6,1680.4h0M3069.1,1648.7h0M3057.1,1630.0h0M3063.0,1644.3h0M3085.4,1782.6h0M3086.0,1780.4h0M3078.9,1743.5h0M3078.9,1745.5h0M3089.6,1787.3h0M3086.1,1783.9h0M3077.7,1737.2h0M3213.2,1655.7h0" stroke="#ced2d8" stroke-width="3.1" stroke-linecap="round" fill="none"/>
<path d="M3037.0,1686.9h0M3039.2,1692.5h0M3037.2,1689.9h0M3042.8,1694.4h0M3038.3,1685.5h0M3038.3,1689.7h0" stroke="#2a498b" stroke-width="3.1" stroke-linecap="round" fill="none"/>
<path d="M3083.5,1674.8h0M3073.0,1620.4h0M3075.9,1606.6h0" stroke="#c0484f" stroke-width="3.1" stroke-linecap="round" fill="none"/>
<path d="M3039.9,1698.1h0" stroke="#23396e" stroke-width="3.1" stroke-linecap="round" fill="none"/>
<path d="M3196.0,1605.1h0M3203.3,1644.4h0M3198.9,1607.0h0M3191.2,1661.5h0" stroke="#a73641" stroke-width="3.1" stroke-linecap="round" fill="none"/>
<path d="M3182.4,1596.9h0M3184.4,1600.7h0M3181.7,1596.7h0M3176.4,1591.9h0M3183.8,1597.9h0M3187.0,1598.3h0M3191.9,1599.9h0M3185.7,1601.2h0M3178.6,1596.1h0M3180.0,1594.0h0M3190.7,1598.6h0M3175.2,1619.6h0M3174.5,1616.7h0" stroke="#e89898" stroke-width="3.1" stroke-linecap="round" fill="none"/>
<path d="M3179.6,1595.9h0M3177.0,1593.4h0M3186.6,1601.3h0M3187.4,1597.5h0M3178.2,1617.8h0" stroke="#e7a6a6" stroke-width="3.1" stroke-linecap="round" fill="none"/>
<path d="M3190.5,1600.1h0" stroke="#e37778" stroke-width="3.1" stroke-linecap="round" fill="none"/>
<path d="M3176.7,1594.2h0" stroke="#e16768" stroke-width="3.1" stroke-linecap="round" fill="none"/>
<path d="M3185.9,1598.2h0M3174.0,1594.6h0M3186.4,1600.5h0M3175.5,1592.1h0M3185.7,1598.3h0M3176.4,1596.0h0M3189.2,1598.6h0M3175.0,1617.3h0M3175.3,1618.7h0" stroke="#e3b3b3" stroke-width="3.1" stroke-linecap="round" fill="none"/>
<path d="M3185.5,1599.0h0" stroke="#e68788" stroke-width="3.1" stroke-linecap="round" fill="none"/>
<rect x="2435.8" y="1578.2" width="81.7" height="250.6" fill="none" stroke="#000" stroke-width="1.6" stroke-dasharray="1.6 2.4"/>
<rect x="3034.7" y="1578.2" width="82.2" height="250.6" fill="none" stroke="#000" stroke-width="1.6" stroke-dasharray="1.6 2.4"/>
<rect x="3150.8" y="1578.2" width="80.7" height="170.9" fill="none" stroke="#000" stroke-width="1.6" stroke-dasharray="1.6 2.4"/>
<defs><linearGradient id="cbar" x1="0" y1="0" x2="0" y2="1"><stop offset="0.00" stop-color="#8e2433"/><stop offset="0.22" stop-color="#e06062"/><stop offset="0.35" stop-color="#e9a0a0"/><stop offset="0.50" stop-color="#d8d8d8"/><stop offset="0.65" stop-color="#a9bbd6"/><stop offset="0.85" stop-color="#2f55a0"/><stop offset="1.00" stop-color="#1f3160"/></linearGradient><linearGradient id="cbar2" x1="0" y1="1" x2="0" y2="0"><stop offset="0.00" stop-color="#8e2433"/><stop offset="0.22" stop-color="#e06062"/><stop offset="0.35" stop-color="#e9a0a0"/><stop offset="0.50" stop-color="#d8d8d8"/><stop offset="0.65" stop-color="#a9bbd6"/><stop offset="0.85" stop-color="#2f55a0"/><stop offset="1.00" stop-color="#1f3160"/></linearGradient></defs>
<rect x="2641.6" y="1574.7" width="15.0" height="259.1" fill="url(#cbar)" stroke="#000" stroke-width="1" />
<rect x="2941.0" y="1574.7" width="15.0" height="259.1" fill="url(#cbar)" stroke="#000" stroke-width="1" />
<rect x="3240.5" y="1574.7" width="14.5" height="259.1" fill="url(#cbar2)" stroke="#000" stroke-width="1" />
<line x1="3255.0" y1="1575.7" x2="3261.0" y2="1575.7" stroke="#000" stroke-width="1.5" />
<text x="3267.0" y="1585.2" font-family='"Liberation Serif", serif' font-size="29" font-weight="normal" font-style="normal" fill="#000" text-anchor="start" >2</text>
<line x1="3255.0" y1="1704.3" x2="3261.0" y2="1704.3" stroke="#000" stroke-width="1.5" />
<text x="3267.0" y="1713.8" font-family='"Liberation Serif", serif' font-size="29" font-weight="normal" font-style="normal" fill="#000" text-anchor="start" >1</text>
<line x1="3255.0" y1="1833.8" x2="3261.0" y2="1833.8" stroke="#000" stroke-width="1.5" />
<text x="3267.0" y="1843.3" font-family='"Liberation Serif", serif' font-size="29" font-weight="normal" font-style="normal" fill="#000" text-anchor="start" >0</text>
<text x="2263.9" y="1565.8" font-family='"Liberation Sans", sans-serif' font-size="29.91" font-weight="bold" font-style="normal" fill="#000" text-anchor="start" textLength="146.5" lengthAdjust="spacingAndGlyphs" >Trametinib</text>
<text x="2262.4" y="1608.6" font-family='"Liberation Sans", sans-serif' font-size="28.95" font-weight="normal" font-style="normal" fill="#000" text-anchor="start" textLength="112.1" lengthAdjust="spacingAndGlyphs" word-spacing="3.9" >after 24h</text>
<line x1="2517.5" y1="1735.2" x2="2621.0" y2="1858.0" stroke="#000" stroke-width="2.8" />
<polygon points="2630.1,1868.7 2615.5,1861.4 2625.4,1853.0" fill="#000"/>
<text x="2638.6" y="1895.1" font-family='"Liberation Sans", sans-serif' font-size="26.05" font-weight="normal" font-style="normal" fill="#000" text-anchor="start" textLength="50.8" lengthAdjust="spacingAndGlyphs" >MelA</text>
<text x="2638.6" y="1927.0" font-family='"Liberation Sans", sans-serif' font-size="26.05" font-weight="normal" font-style="normal" fill="#000" text-anchor="start" textLength="62.3" lengthAdjust="spacingAndGlyphs" >cluster</text>
<line x1="3078.6" y1="1828.8" x2="3078.6" y2="1890.0" stroke="#000" stroke-width="2.8" />
<polygon points="3078.6,1903.0 3072.1,1888.0 3085.1,1888.0" fill="#000"/>
<line x1="3191.7" y1="1749.0" x2="3191.7" y2="1890.0" stroke="#000" stroke-width="2.8" />
<polygon points="3191.7,1903.0 3185.2,1888.0 3198.2,1888.0" fill="#000"/>
<text x="2995.9" y="1932.0" font-family='"Liberation Sans", sans-serif' font-size="25.09" font-weight="normal" font-style="normal" fill="#000" text-anchor="start" textLength="118.5" lengthAdjust="spacingAndGlyphs" word-spacing="3.4" >high weights</text>
<text x="2995.9" y="1964.4" font-family='"Liberation Sans", sans-serif' font-size="25.09" font-weight="normal" font-style="normal" fill="#000" text-anchor="start" textLength="145.0" lengthAdjust="spacingAndGlyphs" word-spacing="3.4" >in MelA cluster</text>
<text x="3160.3" y="1932.0" font-family='"Liberation Sans", sans-serif' font-size="25.09" font-weight="normal" font-style="normal" fill="#000" text-anchor="start" textLength="110.1" lengthAdjust="spacingAndGlyphs" word-spacing="3.4" >low weights</text>
<text x="3160.3" y="1964.4" font-family='"Liberation Sans", sans-serif' font-size="25.09" font-weight="normal" font-style="normal" fill="#000" text-anchor="start" textLength="141.0" lengthAdjust="spacingAndGlyphs" word-spacing="3.4" >in Sox9 cluster</text>
<text x="2069.4" y="1937.7" font-family='"Liberation Serif", serif' font-size="27" font-weight="bold" font-style="normal" fill="#000" text-anchor="start" textLength="34.0" lengthAdjust="spacingAndGlyphs" >8 h</text>
<path d="M2174.8,2269.0 L2329.5,2117.5 L2484.3,1946.3 L2484.3,1979.3 L2329.5,2129.5 L2174.8,2298.2 Z" fill="#dcdcdc" />
<line x1="2174.8" y1="2283.6" x2="2484.3" y2="1963.3" stroke="#000" stroke-width="1.5" />
<rect x="2159.3" y="1916.9" width="340.5" height="399.4" fill="none" stroke="#777" stroke-width="1" />
<line x1="2155.3" y1="2273.0" x2="2159.3" y2="2273.0" stroke="#000" stroke-width="1" />
<text x="2151.0" y="2279.5" font-family='"Liberation Serif", serif' font-size="20" font-weight="normal" font-style="normal" fill="#000" text-anchor="end" >0.35</text>
<line x1="2155.3" y1="2219.4" x2="2159.3" y2="2219.4" stroke="#000" stroke-width="1" />
<text x="2151.0" y="2225.9" font-family='"Liberation Serif", serif' font-size="20" font-weight="normal" font-style="normal" fill="#000" text-anchor="end" >0.40</text>
<line x1="2155.3" y1="2165.8" x2="2159.3" y2="2165.8" stroke="#000" stroke-width="1" />
<text x="2151.0" y="2172.3" font-family='"Liberation Serif", serif' font-size="20" font-weight="normal" font-style="normal" fill="#000" text-anchor="end" >0.45</text>
<line x1="2155.3" y1="2112.2" x2="2159.3" y2="2112.2" stroke="#000" stroke-width="1" />
<text x="2151.0" y="2118.7" font-family='"Liberation Serif", serif' font-size="20" font-weight="normal" font-style="normal" fill="#000" text-anchor="end" >0.50</text>
<line x1="2155.3" y1="2058.6" x2="2159.3" y2="2058.6" stroke="#000" stroke-width="1" />
<text x="2151.0" y="2065.1" font-family='"Liberation Serif", serif' font-size="20" font-weight="normal" font-style="normal" fill="#000" text-anchor="end" >0.55</text>
<line x1="2155.3" y1="2005.0" x2="2159.3" y2="2005.0" stroke="#000" stroke-width="1" />
<text x="2151.0" y="2011.5" font-family='"Liberation Serif", serif' font-size="20" font-weight="normal" font-style="normal" fill="#000" text-anchor="end" >0.60</text>
<line x1="2155.3" y1="1951.4" x2="2159.3" y2="1951.4" stroke="#000" stroke-width="1" />
<text x="2151.0" y="1957.9" font-family='"Liberation Serif", serif' font-size="20" font-weight="normal" font-style="normal" fill="#000" text-anchor="end" >0.65</text>
<line x1="2199.8" y1="2316.3" x2="2199.8" y2="2320.3" stroke="#000" stroke-width="1" />
<text x="2206.3" y="2324.0" font-family='"Liberation Serif", serif' font-size="20" font-weight="normal" font-style="normal" fill="#000" text-anchor="end" transform="rotate(-90 2206.3 2324)">800</text>
<line x1="2249.8" y1="2316.3" x2="2249.8" y2="2320.3" stroke="#000" stroke-width="1" />
<text x="2256.3" y="2324.0" font-family='"Liberation Serif", serif' font-size="20" font-weight="normal" font-style="normal" fill="#000" text-anchor="end" transform="rotate(-90 2256.3 2324)">900</text>
<line x1="2299.8" y1="2316.3" x2="2299.8" y2="2320.3" stroke="#000" stroke-width="1" />
<text x="2306.3" y="2324.0" font-family='"Liberation Serif", serif' font-size="20" font-weight="normal" font-style="normal" fill="#000" text-anchor="end" transform="rotate(-90 2306.3 2324)">1000</text>
<line x1="2349.8" y1="2316.3" x2="2349.8" y2="2320.3" stroke="#000" stroke-width="1" />
<text x="2356.3" y="2324.0" font-family='"Liberation Serif", serif' font-size="20" font-weight="normal" font-style="normal" fill="#000" text-anchor="end" transform="rotate(-90 2356.3 2324)">1100</text>
<line x1="2399.8" y1="2316.3" x2="2399.8" y2="2320.3" stroke="#000" stroke-width="1" />
<text x="2406.3" y="2324.0" font-family='"Liberation Serif", serif' font-size="20" font-weight="normal" font-style="normal" fill="#000" text-anchor="end" transform="rotate(-90 2406.3 2324)">1200</text>
<line x1="2449.8" y1="2316.3" x2="2449.8" y2="2320.3" stroke="#000" stroke-width="1" />
<text x="2456.3" y="2324.0" font-family='"Liberation Serif", serif' font-size="20" font-weight="normal" font-style="normal" fill="#000" text-anchor="end" transform="rotate(-90 2456.3 2324)">1300</text>
<line x1="2499.8" y1="2316.3" x2="2499.8" y2="2320.3" stroke="#000" stroke-width="1" />
<text x="2506.3" y="2324.0" font-family='"Liberation Serif", serif' font-size="20" font-weight="normal" font-style="normal" fill="#000" text-anchor="end" transform="rotate(-90 2506.3 2324)">1400</text>
<text x="2106.0" y="2112.0" font-family='"Liberation Serif", serif' font-size="22.5" font-weight="bold" font-style="normal" fill="#000" text-anchor="middle" textLength="184.5" lengthAdjust="spacingAndGlyphs" transform="rotate(-90 2106 2112)">Cell Type Fraction</text>
<text x="2249.8" y="2387.0" font-family='"Liberation Serif", serif' font-size="22.5" font-weight="bold" font-style="normal" fill="#000" text-anchor="start" textLength="173.2" lengthAdjust="spacingAndGlyphs" >Summed Weights</text>
<text x="2176.0" y="1949.6" font-family='"Liberation Serif", serif' font-size="22" font-weight="normal" font-style="normal" fill="#000" text-anchor="start" textLength="77.3" lengthAdjust="spacingAndGlyphs" >R = 0.95</text>
<text x="2176.0" y="1975.2" font-family='"Liberation Serif", serif' font-size="22" font-weight="normal" font-style="normal" fill="#000" text-anchor="start" textLength="103.0" lengthAdjust="spacingAndGlyphs" >P = 2.2e-25</text>
<circle cx="2174.8" cy="2290.7" r="3.0" fill="#e06062" />
<text x="2178.3" y="2287.7" font-family='"Liberation Serif", serif' font-size="12.3" font-weight="normal" font-style="normal" fill="#222" text-anchor="start" letter-spacing="0.25" >Dasatinib</text>
<circle cx="2183.1" cy="2256.8" r="3.0" fill="#e06062" />
<text x="2186.6" y="2253.8" font-family='"Liberation Serif", serif' font-size="12.3" font-weight="normal" font-style="normal" fill="#222" text-anchor="start" letter-spacing="0.25" >Staurosporine</text>
<circle cx="2227.1" cy="2247.3" r="3.0" fill="#e06062" />
<text x="2230.6" y="2244.3" font-family='"Liberation Serif", serif' font-size="12.3" font-weight="normal" font-style="normal" fill="#222" text-anchor="start" letter-spacing="0.25" >Olaparib</text>
<circle cx="2245.0" cy="2243.7" r="3.0" fill="#e06062" />
<text x="2248.5" y="2240.7" font-family='"Liberation Serif", serif' font-size="12.3" font-weight="normal" font-style="normal" fill="#222" text-anchor="start" letter-spacing="0.25" >Sorafenib</text>
<circle cx="2249.8" cy="2241.9" r="3.0" fill="#e06062" />
<text x="2253.3" y="2238.9" font-family='"Liberation Serif", serif' font-size="12.3" font-weight="normal" font-style="normal" fill="#222" text-anchor="start" letter-spacing="0.25" >Hydroxyurea</text>
<circle cx="2230.7" cy="2226.4" r="3.0" fill="#e06062" />
<text x="2234.2" y="2223.4" font-family='"Liberation Serif", serif' font-size="12.3" font-weight="normal" font-style="normal" fill="#222" text-anchor="start" letter-spacing="0.25" >Dabrafenib</text>
<circle cx="2233.1" cy="2217.5" r="3.0" fill="#e06062" />
<text x="2236.6" y="2214.5" font-family='"Liberation Serif", serif' font-size="12.3" font-weight="normal" font-style="normal" fill="#222" text-anchor="start" letter-spacing="0.25" >Lenalidomide</text>
<circle cx="2215.2" cy="2211.0" r="3.0" fill="#e06062" />
<text x="2218.7" y="2208.0" font-family='"Liberation Serif", serif' font-size="12.3" font-weight="normal" font-style="normal" fill="#222" text-anchor="start" letter-spacing="0.25" >Dexamethasone</text>
<circle cx="2234.3" cy="2204.4" r="3.0" fill="#e06062" />
<text x="2237.8" y="2201.4" font-family='"Liberation Serif", serif' font-size="12.3" font-weight="normal" font-style="normal" fill="#222" text-anchor="start" letter-spacing="0.25" >Everolimus</text>
<circle cx="2241.4" cy="2208.0" r="3.0" fill="#e06062" />
<text x="2244.9" y="2205.0" font-family='"Liberation Serif", serif' font-size="12.3" font-weight="normal" font-style="normal" fill="#222" text-anchor="start" letter-spacing="0.25" >Crizotinib</text>
<circle cx="2249.2" cy="2206.8" r="3.0" fill="#e06062" />
<text x="2252.7" y="2203.8" font-family='"Liberation Serif", serif' font-size="12.3" font-weight="normal" font-style="normal" fill="#222" text-anchor="start" letter-spacing="0.25" >Palbociclib</text>
<circle cx="2253.3" cy="2209.2" r="3.0" fill="#e06062" />
<text x="2256.8" y="2206.2" font-family='"Liberation Serif", serif' font-size="12.3" font-weight="normal" font-style="normal" fill="#222" text-anchor="start" letter-spacing="0.25" >Cisplatin</text>
<circle cx="2260.5" cy="2205.0" r="3.0" fill="#e06062" />
<text x="2264.0" y="2202.0" font-family='"Liberation Serif", serif' font-size="12.3" font-weight="normal" font-style="normal" fill="#222" text-anchor="start" letter-spacing="0.25" >Melphalan</text>
<circle cx="2264.0" cy="2211.0" r="3.0" fill="#e06062" />
<text x="2267.5" y="2208.0" font-family='"Liberation Serif", serif' font-size="12.3" font-weight="normal" font-style="normal" fill="#222" text-anchor="start" letter-spacing="0.25" >Imatinib</text>
<circle cx="2255.7" cy="2213.3" r="3.0" fill="#e06062" />
<text x="2259.2" y="2210.3" font-family='"Liberation Serif", serif' font-size="12.3" font-weight="normal" font-style="normal" fill="#222" text-anchor="start" letter-spacing="0.25" >Paclitaxel</text>
<circle cx="2249.2" cy="2191.3" r="3.0" fill="#e06062" />
<text x="2252.7" y="2188.3" font-family='"Liberation Serif", serif' font-size="12.3" font-weight="normal" font-style="normal" fill="#222" text-anchor="start" letter-spacing="0.25" >Erlotinib</text>
<circle cx="2251.0" cy="2183.6" r="3.0" fill="#e06062" />
<text x="2254.5" y="2180.6" font-family='"Liberation Serif", serif' font-size="12.3" font-weight="normal" font-style="normal" fill="#222" text-anchor="start" letter-spacing="0.25" >Ulixertinib</text>
<circle cx="2270.0" cy="2199.6" r="3.0" fill="#e06062" />
<text x="2273.5" y="2196.6" font-family='"Liberation Serif", serif' font-size="12.3" font-weight="normal" font-style="normal" fill="#222" text-anchor="start" letter-spacing="0.25" >Temozolomide</text>
<circle cx="2273.0" cy="2162.7" r="3.0" fill="#e06062" />
<text x="2276.5" y="2159.7" font-family='"Liberation Serif", serif' font-size="12.3" font-weight="normal" font-style="normal" fill="#222" text-anchor="start" letter-spacing="0.25" >Vindesine</text>
<circle cx="2318.2" cy="2183.6" r="3.0" fill="#e06062" />
<text x="2321.7" y="2180.6" font-family='"Liberation Serif", serif' font-size="12.3" font-weight="normal" font-style="normal" fill="#222" text-anchor="start" letter-spacing="0.25" >Regorafenib</text>
<circle cx="2298.6" cy="2230.0" r="3.0" fill="#e06062" />
<text x="2302.1" y="2227.0" font-family='"Liberation Serif", serif' font-size="12.3" font-weight="normal" font-style="normal" fill="#222" text-anchor="start" letter-spacing="0.25" >Midostaurin</text>
<circle cx="2284.9" cy="2217.5" r="3.0" fill="#e06062" />
<text x="2288.4" y="2214.5" font-family='"Liberation Serif", serif' font-size="12.3" font-weight="normal" font-style="normal" fill="#222" text-anchor="start" letter-spacing="0.25" >Dacarbazine</text>
<circle cx="2281.9" cy="2214.5" r="3.0" fill="#e06062" />
<text x="2285.4" y="2211.5" font-family='"Liberation Serif", serif' font-size="12.3" font-weight="normal" font-style="normal" fill="#222" text-anchor="start" letter-spacing="0.25" >Decitabine</text>
<circle cx="2229.5" cy="2219.3" r="3.0" fill="#e06062" />
<text x="2233.0" y="2216.3" font-family='"Liberation Serif", serif' font-size="12.3" font-weight="normal" font-style="normal" fill="#222" text-anchor="start" letter-spacing="0.25" >Ixazomib</text>
<circle cx="2239.0" cy="2212.1" r="3.0" fill="#e06062" />
<text x="2242.5" y="2209.1" font-family='"Liberation Serif", serif' font-size="12.3" font-weight="normal" font-style="normal" fill="#222" text-anchor="start" letter-spacing="0.25" >Trametinib</text>
<circle cx="2409.9" cy="1934.8" r="3.0" fill="#a9bbd6" />
<text x="2413.4" y="1931.8" font-family='"Liberation Serif", serif' font-size="12.3" font-weight="normal" font-style="normal" fill="#222" text-anchor="start" letter-spacing="0.25" >Dasatinib</text>
<circle cx="2483.1" cy="1969.3" r="3.0" fill="#a9bbd6" />
<text x="2486.6" y="1966.3" font-family='"Liberation Serif", serif' font-size="12.3" font-weight="normal" font-style="normal" fill="#222" text-anchor="start" letter-spacing="0.25" >Staurosporine</text>
<circle cx="2478.3" cy="1978.2" r="3.0" fill="#a9bbd6" />
<text x="2481.8" y="1975.2" font-family='"Liberation Serif", serif' font-size="12.3" font-weight="normal" font-style="normal" fill="#222" text-anchor="start" letter-spacing="0.25" >Olaparib</text>
<circle cx="2434.9" cy="1981.2" r="3.0" fill="#a9bbd6" />
<text x="2438.4" y="1978.2" font-family='"Liberation Serif", serif' font-size="12.3" font-weight="normal" font-style="normal" fill="#222" text-anchor="start" letter-spacing="0.25" >Hydroxyurea</text>
<circle cx="2443.8" cy="1982.4" r="3.0" fill="#a9bbd6" />
<text x="2447.3" y="1979.4" font-family='"Liberation Serif", serif' font-size="12.3" font-weight="normal" font-style="normal" fill="#222" text-anchor="start" letter-spacing="0.25" >Sorafenib</text>
<circle cx="2440.8" cy="1995.5" r="3.0" fill="#a9bbd6" />
<text x="2444.3" y="1992.5" font-family='"Liberation Serif", serif' font-size="12.3" font-weight="normal" font-style="normal" fill="#222" text-anchor="start" letter-spacing="0.25" >Midostaurin</text>
<circle cx="2460.5" cy="1997.9" r="3.0" fill="#a9bbd6" />
<text x="2464.0" y="1994.9" font-family='"Liberation Serif", serif' font-size="12.3" font-weight="normal" font-style="normal" fill="#222" text-anchor="start" letter-spacing="0.25" >Dabrafenib</text>
<circle cx="2381.9" cy="2009.8" r="3.0" fill="#a9bbd6" />
<text x="2385.4" y="2006.8" font-family='"Liberation Serif", serif' font-size="12.3" font-weight="normal" font-style="normal" fill="#222" text-anchor="start" letter-spacing="0.25" >Crizotinib</text>
<circle cx="2401.0" cy="2006.8" r="3.0" fill="#a9bbd6" />
<text x="2404.5" y="2003.8" font-family='"Liberation Serif", serif' font-size="12.3" font-weight="normal" font-style="normal" fill="#222" text-anchor="start" letter-spacing="0.25" >Dacarbazine</text>
<circle cx="2472.4" cy="2007.4" r="3.0" fill="#a9bbd6" />
<text x="2475.9" y="2004.4" font-family='"Liberation Serif", serif' font-size="12.3" font-weight="normal" font-style="normal" fill="#222" text-anchor="start" letter-spacing="0.25" >Lenalidomide</text>
<circle cx="2466.4" cy="2012.1" r="3.0" fill="#a9bbd6" />
<text x="2469.9" y="2009.1" font-family='"Liberation Serif", serif' font-size="12.3" font-weight="normal" font-style="normal" fill="#222" text-anchor="start" letter-spacing="0.25" >Dexamethasone</text>
<circle cx="2365.2" cy="2020.5" r="3.0" fill="#a9bbd6" />
<text x="2368.7" y="2017.5" font-family='"Liberation Serif", serif' font-size="12.3" font-weight="normal" font-style="normal" fill="#222" text-anchor="start" letter-spacing="0.25" >Trametinib</text>
<circle cx="2403.9" cy="2023.5" r="3.0" fill="#a9bbd6" />
<text x="2407.4" y="2020.5" font-family='"Liberation Serif", serif' font-size="12.3" font-weight="normal" font-style="normal" fill="#222" text-anchor="start" letter-spacing="0.25" >Imatinib</text>
<circle cx="2472.4" cy="2021.1" r="3.0" fill="#a9bbd6" />
<text x="2475.9" y="2018.1" font-family='"Liberation Serif", serif' font-size="12.3" font-weight="normal" font-style="normal" fill="#222" text-anchor="start" letter-spacing="0.25" >Everolimus</text>
<circle cx="2475.4" cy="2024.6" r="3.0" fill="#a9bbd6" />
<text x="2478.9" y="2021.6" font-family='"Liberation Serif", serif' font-size="12.3" font-weight="normal" font-style="normal" fill="#222" text-anchor="start" letter-spacing="0.25" >Temozolomide</text>
<circle cx="2428.9" cy="2033.6" r="3.0" fill="#a9bbd6" />
<text x="2432.4" y="2030.6" font-family='"Liberation Serif", serif' font-size="12.3" font-weight="normal" font-style="normal" fill="#222" text-anchor="start" letter-spacing="0.25" >Erlotinib</text>
<circle cx="2442.6" cy="2041.9" r="3.0" fill="#a9bbd6" />
<text x="2446.1" y="2038.9" font-family='"Liberation Serif", serif' font-size="12.3" font-weight="normal" font-style="normal" fill="#222" text-anchor="start" letter-spacing="0.25" >Regorafenib</text>
<circle cx="2453.3" cy="2041.3" r="3.0" fill="#a9bbd6" />
<text x="2456.8" y="2038.3" font-family='"Liberation Serif", serif' font-size="12.3" font-weight="normal" font-style="normal" fill="#222" text-anchor="start" letter-spacing="0.25" >Ulixertinib</text>
<circle cx="2316.4" cy="2062.7" r="3.0" fill="#a9bbd6" />
<text x="2319.9" y="2059.7" font-family='"Liberation Serif", serif' font-size="12.3" font-weight="normal" font-style="normal" fill="#222" text-anchor="start" letter-spacing="0.25" >Vindesine</text>
<circle cx="2408.1" cy="2008.6" r="3.0" fill="#a9bbd6" />
<text x="2411.6" y="2005.6" font-family='"Liberation Serif", serif' font-size="12.3" font-weight="normal" font-style="normal" fill="#222" text-anchor="start" letter-spacing="0.25" >Decitabine</text>
<circle cx="2424.8" cy="2012.1" r="3.0" fill="#a9bbd6" />
<text x="2428.3" y="2009.1" font-family='"Liberation Serif", serif' font-size="12.3" font-weight="normal" font-style="normal" fill="#222" text-anchor="start" letter-spacing="0.25" >Paclitaxel</text>
<circle cx="2430.7" cy="2009.8" r="3.0" fill="#a9bbd6" />
<text x="2434.2" y="2006.8" font-family='"Liberation Serif", serif' font-size="12.3" font-weight="normal" font-style="normal" fill="#222" text-anchor="start" letter-spacing="0.25" >Cisplatin</text>
<circle cx="2436.7" cy="2014.5" r="3.0" fill="#a9bbd6" />
<text x="2440.2" y="2011.5" font-family='"Liberation Serif", serif' font-size="12.3" font-weight="normal" font-style="normal" fill="#222" text-anchor="start" letter-spacing="0.25" >Melphalan</text>
<circle cx="2445.6" cy="2011.0" r="3.0" fill="#a9bbd6" />
<text x="2449.1" y="2008.0" font-family='"Liberation Serif", serif' font-size="12.3" font-weight="normal" font-style="normal" fill="#222" text-anchor="start" letter-spacing="0.25" >Palbociclib</text>
<circle cx="2454.5" cy="2015.7" r="3.0" fill="#a9bbd6" />
<text x="2458.0" y="2012.7" font-family='"Liberation Serif", serif' font-size="12.3" font-weight="normal" font-style="normal" fill="#222" text-anchor="start" letter-spacing="0.25" >Ixazomib</text>
<circle cx="2414.6" cy="2250.2" r="3.6" fill="#e06062" />
<text x="2430.7" y="2256.8" font-family='"Liberation Serif", serif' font-size="24" font-weight="normal" font-style="normal" fill="#000" text-anchor="start" textLength="51.8" lengthAdjust="spacingAndGlyphs" >MelA</text>
<circle cx="2414.6" cy="2281.2" r="3.6" fill="#a9bbd6" />
<text x="2430.7" y="2288.3" font-family='"Liberation Serif", serif' font-size="24" font-weight="normal" font-style="normal" fill="#000" text-anchor="start" textLength="46.0" lengthAdjust="spacingAndGlyphs" >Sox9</text>
<text x="2548.6" y="1937.7" font-family='"Liberation Serif", serif' font-size="27" font-weight="bold" font-style="normal" fill="#000" text-anchor="start" textLength="48.8" lengthAdjust="spacingAndGlyphs" >24 h</text>
<path d="M2664.6,2141.9 L2734.3,2136.0 L2811.7,2128.8 L2883.1,2100.2 L2945.6,2069.3 L2945.6,2130.0 L2883.1,2134.8 L2811.7,2143.1 L2734.3,2189.5 L2664.6,2244.3 Z" fill="#d9d9d9" />
<line x1="2664.6" y1="2187.1" x2="2945.6" y2="2100.2" stroke="#000" stroke-width="1.5" />
<rect x="2619.4" y="1958.6" width="341.1" height="357.7" fill="none" stroke="#777" stroke-width="1" />
<line x1="2615.4" y1="2305.0" x2="2619.4" y2="2305.0" stroke="#000" stroke-width="1" />
<text x="2611.0" y="2311.5" font-family='"Liberation Serif", serif' font-size="20" font-weight="normal" font-style="normal" fill="#000" text-anchor="end" >0.2</text>
<line x1="2615.4" y1="2249.6" x2="2619.4" y2="2249.6" stroke="#000" stroke-width="1" />
<text x="2611.0" y="2256.1" font-family='"Liberation Serif", serif' font-size="20" font-weight="normal" font-style="normal" fill="#000" text-anchor="end" >0.3</text>
<line x1="2615.4" y1="2194.1" x2="2619.4" y2="2194.1" stroke="#000" stroke-width="1" />
<text x="2611.0" y="2200.6" font-family='"Liberation Serif", serif' font-size="20" font-weight="normal" font-style="normal" fill="#000" text-anchor="end" >0.4</text>
<line x1="2615.4" y1="2138.7" x2="2619.4" y2="2138.7" stroke="#000" stroke-width="1" />
<text x="2611.0" y="2145.2" font-family='"Liberation Serif", serif' font-size="20" font-weight="normal" font-style="normal" fill="#000" text-anchor="end" >0.5</text>
<line x1="2615.4" y1="2083.2" x2="2619.4" y2="2083.2" stroke="#000" stroke-width="1" />
<text x="2611.0" y="2089.7" font-family='"Liberation Serif", serif' font-size="20" font-weight="normal" font-style="normal" fill="#000" text-anchor="end" >0.6</text>
<line x1="2615.4" y1="2027.8" x2="2619.4" y2="2027.8" stroke="#000" stroke-width="1" />
<text x="2611.0" y="2034.2" font-family='"Liberation Serif", serif' font-size="20" font-weight="normal" font-style="normal" fill="#000" text-anchor="end" >0.7</text>
<line x1="2615.4" y1="1972.3" x2="2619.4" y2="1972.3" stroke="#000" stroke-width="1" />
<text x="2611.0" y="1978.8" font-family='"Liberation Serif", serif' font-size="20" font-weight="normal" font-style="normal" fill="#000" text-anchor="end" >0.8</text>
<line x1="2642.0" y1="2316.3" x2="2642.0" y2="2320.3" stroke="#000" stroke-width="1" />
<text x="2648.5" y="2324.0" font-family='"Liberation Serif", serif' font-size="20" font-weight="normal" font-style="normal" fill="#000" text-anchor="end" transform="rotate(-90 2648.5 2324)">800</text>
<line x1="2710.0" y1="2316.3" x2="2710.0" y2="2320.3" stroke="#000" stroke-width="1" />
<text x="2716.5" y="2324.0" font-family='"Liberation Serif", serif' font-size="20" font-weight="normal" font-style="normal" fill="#000" text-anchor="end" transform="rotate(-90 2716.5 2324)">1000</text>
<line x1="2778.0" y1="2316.3" x2="2778.0" y2="2320.3" stroke="#000" stroke-width="1" />
<text x="2784.5" y="2324.0" font-family='"Liberation Serif", serif' font-size="20" font-weight="normal" font-style="normal" fill="#000" text-anchor="end" transform="rotate(-90 2784.5 2324)">1200</text>
<line x1="2846.0" y1="2316.3" x2="2846.0" y2="2320.3" stroke="#000" stroke-width="1" />
<text x="2852.5" y="2324.0" font-family='"Liberation Serif", serif' font-size="20" font-weight="normal" font-style="normal" fill="#000" text-anchor="end" transform="rotate(-90 2852.5 2324)">1400</text>
<line x1="2914.0" y1="2316.3" x2="2914.0" y2="2320.3" stroke="#000" stroke-width="1" />
<text x="2920.5" y="2324.0" font-family='"Liberation Serif", serif' font-size="20" font-weight="normal" font-style="normal" fill="#000" text-anchor="end" transform="rotate(-90 2920.5 2324)">1600</text>
<text x="2565.5" y="2144.9" font-family='"Liberation Serif", serif' font-size="22.5" font-weight="bold" font-style="normal" fill="#000" text-anchor="middle" textLength="184.5" lengthAdjust="spacingAndGlyphs" transform="rotate(-90 2565.5 2144.9)">Cell Type Fraction</text>
<text x="2707.5" y="2387.0" font-family='"Liberation Serif", serif' font-size="22.5" font-weight="bold" font-style="normal" fill="#000" text-anchor="start" textLength="172.6" lengthAdjust="spacingAndGlyphs" >Summed Weights</text>
<text x="2636.0" y="2042.5" font-family='"Liberation Serif", serif' font-size="22" font-weight="normal" font-style="normal" fill="#000" text-anchor="start" textLength="77.5" lengthAdjust="spacingAndGlyphs" >R = 0.44</text>
<text x="2636.0" y="2068.0" font-family='"Liberation Serif", serif' font-size="22" font-weight="normal" font-style="normal" fill="#000" text-anchor="start" textLength="86.0" lengthAdjust="spacingAndGlyphs" >P = 0.004</text>
<circle cx="2833.1" cy="1975.2" r="3.0" fill="#e3e3e3" />
<text x="2836.6" y="1972.2" font-family='"Liberation Serif", serif' font-size="12.3" font-weight="normal" font-style="normal" fill="#c4c4c4" text-anchor="start" letter-spacing="0.25" >Trametinib</text>
<circle cx="2678.9" cy="2002.6" r="3.0" fill="#e3e3e3" />
<text x="2682.4" y="1999.6" font-family='"Liberation Serif", serif' font-size="12.3" font-weight="normal" font-style="normal" fill="#c4c4c4" text-anchor="start" letter-spacing="0.25" >Staurosporine</text>
<circle cx="2802.1" cy="2005.0" r="3.0" fill="#e3e3e3" />
<text x="2805.6" y="2002.0" font-family='"Liberation Serif", serif' font-size="12.3" font-weight="normal" font-style="normal" fill="#c4c4c4" text-anchor="start" letter-spacing="0.25" >Vindesine</text>
<circle cx="2824.8" cy="2005.0" r="3.0" fill="#e3e3e3" />
<text x="2828.3" y="2002.0" font-family='"Liberation Serif", serif' font-size="12.3" font-weight="normal" font-style="normal" fill="#c4c4c4" text-anchor="start" letter-spacing="0.25" >Ulixertinib</text>
<circle cx="2634.9" cy="2273.5" r="3.0" fill="#e3e3e3" />
<text x="2638.4" y="2270.5" font-family='"Liberation Serif", serif' font-size="12.3" font-weight="normal" font-style="normal" fill="#c4c4c4" text-anchor="start" letter-spacing="0.25" >Staurosporine</text>
<circle cx="2823.6" cy="2271.1" r="3.0" fill="#e3e3e3" />
<text x="2827.1" y="2268.1" font-family='"Liberation Serif", serif' font-size="12.3" font-weight="normal" font-style="normal" fill="#c4c4c4" text-anchor="start" letter-spacing="0.25" >Ulixertinib</text>
<circle cx="2848.6" cy="2270.5" r="3.0" fill="#e3e3e3" />
<text x="2852.1" y="2267.5" font-family='"Liberation Serif", serif' font-size="12.3" font-weight="normal" font-style="normal" fill="#c4c4c4" text-anchor="start" letter-spacing="0.25" >Vindesine</text>
<circle cx="2798.6" cy="2300.8" r="3.0" fill="#e3e3e3" />
<text x="2802.1" y="2297.8" font-family='"Liberation Serif", serif' font-size="12.3" font-weight="normal" font-style="normal" fill="#c4c4c4" text-anchor="start" letter-spacing="0.25" >Trametinib</text>
<circle cx="2667.0" cy="2115.7" r="3.0" fill="#8e3548" />
<text x="2670.5" y="2112.7" font-family='"Liberation Serif", serif' font-size="12.3" font-weight="normal" font-style="normal" fill="#222" text-anchor="start" letter-spacing="0.25" >Regorafenib</text>
<circle cx="2810.5" cy="2072.9" r="3.0" fill="#8e3548" />
<text x="2814.0" y="2069.9" font-family='"Liberation Serif", serif' font-size="12.3" font-weight="normal" font-style="normal" fill="#222" text-anchor="start" letter-spacing="0.25" >Erlotinib</text>
<circle cx="2764.6" cy="2134.8" r="3.0" fill="#8e3548" />
<text x="2768.1" y="2131.8" font-family='"Liberation Serif", serif' font-size="12.3" font-weight="normal" font-style="normal" fill="#222" text-anchor="start" letter-spacing="0.25" >Decitabine</text>
<circle cx="2784.3" cy="2141.3" r="3.0" fill="#8e3548" />
<text x="2787.8" y="2138.3" font-family='"Liberation Serif", serif' font-size="12.3" font-weight="normal" font-style="normal" fill="#222" text-anchor="start" letter-spacing="0.25" >Sorafenib</text>
<circle cx="2809.3" cy="2126.4" r="3.0" fill="#8e3548" />
<text x="2812.8" y="2123.4" font-family='"Liberation Serif", serif' font-size="12.3" font-weight="normal" font-style="normal" fill="#222" text-anchor="start" letter-spacing="0.25" >Olaparib</text>
<circle cx="2827.1" cy="2116.3" r="3.0" fill="#8e3548" />
<text x="2830.6" y="2113.3" font-family='"Liberation Serif", serif' font-size="12.3" font-weight="normal" font-style="normal" fill="#222" text-anchor="start" letter-spacing="0.25" >Dexamethasone</text>
<circle cx="2854.5" cy="2105.0" r="3.0" fill="#8e3548" />
<text x="2858.0" y="2102.0" font-family='"Liberation Serif", serif' font-size="12.3" font-weight="normal" font-style="normal" fill="#222" text-anchor="start" letter-spacing="0.25" >Crizotinib</text>
<circle cx="2790.2" cy="2154.4" r="3.0" fill="#8e3548" />
<text x="2793.7" y="2151.4" font-family='"Liberation Serif", serif' font-size="12.3" font-weight="normal" font-style="normal" fill="#222" text-anchor="start" letter-spacing="0.25" >Dabrafenib</text>
<circle cx="2784.3" cy="2169.9" r="3.0" fill="#8e3548" />
<text x="2787.8" y="2166.9" font-family='"Liberation Serif", serif' font-size="12.3" font-weight="normal" font-style="normal" fill="#222" text-anchor="start" letter-spacing="0.25" >Dacarbazine</text>
<circle cx="2798.0" cy="2174.0" r="3.0" fill="#8e3548" />
<text x="2801.5" y="2171.0" font-family='"Liberation Serif", serif' font-size="12.3" font-weight="normal" font-style="normal" fill="#222" text-anchor="start" letter-spacing="0.25" >Ulixertinib</text>
<circle cx="2783.1" cy="2200.8" r="3.0" fill="#8e3548" />
<text x="2786.6" y="2197.8" font-family='"Liberation Serif", serif' font-size="12.3" font-weight="normal" font-style="normal" fill="#222" text-anchor="start" letter-spacing="0.25" >Dasatinib</text>
<circle cx="2770.0" cy="2220.5" r="3.0" fill="#8e3548" />
<text x="2773.5" y="2217.5" font-family='"Liberation Serif", serif' font-size="12.3" font-weight="normal" font-style="normal" fill="#222" text-anchor="start" letter-spacing="0.25" >Melphalan</text>
<circle cx="2751.0" cy="2231.2" r="3.0" fill="#8e3548" />
<text x="2754.5" y="2228.2" font-family='"Liberation Serif", serif' font-size="12.3" font-weight="normal" font-style="normal" fill="#222" text-anchor="start" letter-spacing="0.25" >Ixazomib</text>
<circle cx="2796.8" cy="2142.5" r="3.0" fill="#8e3548" />
<text x="2800.3" y="2139.5" font-family='"Liberation Serif", serif' font-size="12.3" font-weight="normal" font-style="normal" fill="#222" text-anchor="start" letter-spacing="0.25" >Midostaurin</text>
<circle cx="2824.8" cy="2152.6" r="3.0" fill="#8e3548" />
<text x="2828.3" y="2149.6" font-family='"Liberation Serif", serif' font-size="12.3" font-weight="normal" font-style="normal" fill="#222" text-anchor="start" letter-spacing="0.25" >Cisplatin</text>
<circle cx="2828.3" cy="2158.6" r="3.0" fill="#8e3548" />
<text x="2831.8" y="2155.6" font-family='"Liberation Serif", serif' font-size="12.3" font-weight="normal" font-style="normal" fill="#222" text-anchor="start" letter-spacing="0.25" >Imatinib</text>
<circle cx="2846.2" cy="2147.9" r="3.0" fill="#8e3548" />
<text x="2849.7" y="2144.9" font-family='"Liberation Serif", serif' font-size="12.3" font-weight="normal" font-style="normal" fill="#222" text-anchor="start" letter-spacing="0.25" >Temozolomide</text>
<circle cx="2821.2" cy="2170.5" r="3.0" fill="#8e3548" />
<text x="2824.7" y="2167.5" font-family='"Liberation Serif", serif' font-size="12.3" font-weight="normal" font-style="normal" fill="#222" text-anchor="start" letter-spacing="0.25" >Lenalidomide</text>
<circle cx="2848.6" cy="2146.7" r="3.0" fill="#8e3548" />
<text x="2852.1" y="2143.7" font-family='"Liberation Serif", serif' font-size="12.3" font-weight="normal" font-style="normal" fill="#222" text-anchor="start" letter-spacing="0.25" >Paclitaxel</text>
<circle cx="2823.6" cy="2155.0" r="3.0" fill="#8e3548" />
<text x="2827.1" y="2152.0" font-family='"Liberation Serif", serif' font-size="12.3" font-weight="normal" font-style="normal" fill="#222" text-anchor="start" letter-spacing="0.25" >Everolimus</text>
<circle cx="2945.0" cy="2045.5" r="3.0" fill="#1e3a5f" />
<text x="2948.5" y="2042.5" font-family='"Liberation Serif", serif' font-size="12.3" font-weight="normal" font-style="normal" fill="#222" text-anchor="start" letter-spacing="0.25" >Ixazomib</text>
<circle cx="2902.7" cy="2056.2" r="3.0" fill="#1e3a5f" />
<text x="2906.2" y="2053.2" font-family='"Liberation Serif", serif' font-size="12.3" font-weight="normal" font-style="normal" fill="#222" text-anchor="start" letter-spacing="0.25" >Melphalan</text>
<circle cx="2838.5" cy="2075.2" r="3.0" fill="#1e3a5f" />
<text x="2842.0" y="2072.2" font-family='"Liberation Serif", serif' font-size="12.3" font-weight="normal" font-style="normal" fill="#222" text-anchor="start" letter-spacing="0.25" >Dasatinib</text>
<circle cx="2665.2" cy="2160.4" r="3.0" fill="#1e3a5f" />
<text x="2668.7" y="2157.4" font-family='"Liberation Serif", serif' font-size="12.3" font-weight="normal" font-style="normal" fill="#222" text-anchor="start" letter-spacing="0.25" >Regorafenib</text>
<circle cx="2881.9" cy="2203.2" r="3.0" fill="#1e3a5f" />
<text x="2885.4" y="2200.2" font-family='"Liberation Serif", serif' font-size="12.3" font-weight="normal" font-style="normal" fill="#222" text-anchor="start" letter-spacing="0.25" >Erlotinib</text>
<circle cx="2926.0" cy="2141.3" r="3.0" fill="#1e3a5f" />
<text x="2929.5" y="2138.3" font-family='"Liberation Serif", serif' font-size="12.3" font-weight="normal" font-style="normal" fill="#222" text-anchor="start" letter-spacing="0.25" >Decitabine</text>
<circle cx="2905.7" cy="2149.6" r="3.0" fill="#1e3a5f" />
<text x="2909.2" y="2146.6" font-family='"Liberation Serif", serif' font-size="12.3" font-weight="normal" font-style="normal" fill="#222" text-anchor="start" letter-spacing="0.25" >Olaparib</text>
<circle cx="2873.0" cy="2102.0" r="3.0" fill="#1e3a5f" />
<text x="2876.5" y="2099.0" font-family='"Liberation Serif", serif' font-size="12.3" font-weight="normal" font-style="normal" fill="#222" text-anchor="start" letter-spacing="0.25" >Lenalidomide</text>
<circle cx="2805.7" cy="2170.5" r="3.0" fill="#1e3a5f" />
<text x="2809.2" y="2167.5" font-family='"Liberation Serif", serif' font-size="12.3" font-weight="normal" font-style="normal" fill="#222" text-anchor="start" letter-spacing="0.25" >Ulixertinib</text>
<circle cx="2837.3" cy="2159.8" r="3.0" fill="#1e3a5f" />
<text x="2840.8" y="2156.8" font-family='"Liberation Serif", serif' font-size="12.3" font-weight="normal" font-style="normal" fill="#222" text-anchor="start" letter-spacing="0.25" >Dexamethasone</text>
<circle cx="2884.3" cy="2106.2" r="3.0" fill="#1e3a5f" />
<text x="2887.8" y="2103.2" font-family='"Liberation Serif", serif' font-size="12.3" font-weight="normal" font-style="normal" fill="#222" text-anchor="start" letter-spacing="0.25" >Dabrafenib</text>
<circle cx="2892.0" cy="2105.0" r="3.0" fill="#1e3a5f" />
<text x="2895.5" y="2102.0" font-family='"Liberation Serif", serif' font-size="12.3" font-weight="normal" font-style="normal" fill="#222" text-anchor="start" letter-spacing="0.25" >Hydroxyurea</text>
<circle cx="2841.4" cy="2118.1" r="3.0" fill="#1e3a5f" />
<text x="2844.9" y="2115.1" font-family='"Liberation Serif", serif' font-size="12.3" font-weight="normal" font-style="normal" fill="#222" text-anchor="start" letter-spacing="0.25" >Everolimus</text>
<circle cx="2822.4" cy="2128.2" r="3.0" fill="#1e3a5f" />
<text x="2825.9" y="2125.2" font-family='"Liberation Serif", serif' font-size="12.3" font-weight="normal" font-style="normal" fill="#222" text-anchor="start" letter-spacing="0.25" >Dacarbazine</text>
<circle cx="2850.4" cy="2127.0" r="3.0" fill="#1e3a5f" />
<text x="2853.9" y="2124.0" font-family='"Liberation Serif", serif' font-size="12.3" font-weight="normal" font-style="normal" fill="#222" text-anchor="start" letter-spacing="0.25" >Temozolomide</text>
<circle cx="2887.9" cy="2133.0" r="3.0" fill="#1e3a5f" />
<text x="2891.4" y="2130.0" font-family='"Liberation Serif", serif' font-size="12.3" font-weight="normal" font-style="normal" fill="#222" text-anchor="start" letter-spacing="0.25" >Midostaurin</text>
<circle cx="2859.3" cy="2134.8" r="3.0" fill="#1e3a5f" />
<text x="2862.8" y="2131.8" font-family='"Liberation Serif", serif' font-size="12.3" font-weight="normal" font-style="normal" fill="#222" text-anchor="start" letter-spacing="0.25" >Sorafenib</text>
<circle cx="2856.3" cy="2143.1" r="3.0" fill="#1e3a5f" />
<text x="2859.8" y="2140.1" font-family='"Liberation Serif", serif' font-size="12.3" font-weight="normal" font-style="normal" fill="#222" text-anchor="start" letter-spacing="0.25" >Paclitaxel</text>
<circle cx="2883.1" cy="2107.4" r="3.0" fill="#1e3a5f" />
<text x="2886.6" y="2104.4" font-family='"Liberation Serif", serif' font-size="12.3" font-weight="normal" font-style="normal" fill="#222" text-anchor="start" letter-spacing="0.25" >Palbociclib</text>
<circle cx="2844.4" cy="2121.1" r="3.0" fill="#1e3a5f" />
<text x="2847.9" y="2118.1" font-family='"Liberation Serif", serif' font-size="12.3" font-weight="normal" font-style="normal" fill="#222" text-anchor="start" letter-spacing="0.25" >Cisplatin</text>
<circle cx="2881.9" cy="2252.6" r="3.6" fill="#8e3548" />
<text x="2898.0" y="2259.2" font-family='"Liberation Serif", serif' font-size="24" font-weight="normal" font-style="normal" fill="#000" text-anchor="start" textLength="51.8" lengthAdjust="spacingAndGlyphs" >MelA</text>
<circle cx="2881.9" cy="2283.6" r="3.6" fill="#1e3a5f" />
<text x="2898.0" y="2290.7" font-family='"Liberation Serif", serif' font-size="24" font-weight="normal" font-style="normal" fill="#000" text-anchor="start" textLength="46.0" lengthAdjust="spacingAndGlyphs" >Sox9</text>
<path d="M3199.1,2166.6h0M3206.1,2166.6h0M3233.9,2166.6h0M3240.8,2166.6h0M3157.4,2173.5h0M3178.2,2173.5h0M3185.2,2173.5h0M3192.1,2173.5h0M3213.0,2173.5h0M3226.9,2173.5h0M3240.8,2173.5h0M3157.4,2180.5h0M3171.3,2180.5h0M3178.2,2180.5h0M3199.1,2180.5h0M3226.9,2180.5h0M3171.3,2187.4h0M3178.2,2187.4h0M3185.2,2187.4h0M3192.1,2187.4h0M3199.1,2187.4h0M3206.1,2187.4h0M3220.0,2187.4h0M3233.9,2187.4h0M3240.8,2187.4h0M3171.3,2194.4h0M3192.1,2194.4h0M3206.1,2194.4h0M3226.9,2194.4h0M3240.8,2194.4h0M3164.3,2201.3h0M3171.3,2201.3h0M3178.2,2201.3h0M3192.1,2201.3h0M3220.0,2201.3h0M3226.9,2201.3h0M3157.4,2208.3h0M3171.3,2208.3h0M3185.2,2208.3h0M3199.1,2208.3h0M3213.0,2208.3h0M3226.9,2208.3h0M3240.8,2208.3h0M3157.4,2215.2h0M3164.3,2215.2h0M3171.3,2215.2h0M3178.2,2215.2h0M3185.2,2215.2h0M3206.1,2215.2h0M3213.0,2215.2h0M3233.9,2215.2h0M3240.8,2215.2h0M3115.7,2222.2h0M3122.6,2222.2h0M3129.6,2222.2h0M3143.5,2222.2h0M3164.3,2222.2h0M3199.1,2222.2h0M3206.1,2222.2h0M3213.0,2222.2h0M3226.9,2222.2h0M3233.9,2222.2h0M3261.7,2222.2h0M3289.5,2222.2h0M3296.4,2222.2h0M3101.8,2229.1h0M3108.7,2229.1h0M3150.4,2229.1h0M3157.4,2229.1h0M3178.2,2229.1h0M3220.0,2229.1h0M3233.9,2229.1h0M3261.7,2229.1h0M3289.5,2229.1h0M3101.8,2236.1h0M3115.7,2236.1h0M3143.5,2236.1h0M3171.3,2236.1h0M3226.9,2236.1h0M3275.6,2236.1h0M3101.8,2243.0h0M3136.5,2243.0h0M3150.4,2243.0h0M3164.3,2243.0h0M3185.2,2243.0h0M3199.1,2243.0h0M3206.1,2243.0h0M3213.0,2243.0h0M3220.0,2243.0h0M3226.9,2243.0h0M3233.9,2243.0h0M3240.8,2243.0h0M3247.8,2243.0h0M3254.7,2243.0h0M3275.6,2243.0h0M3289.5,2243.0h0M3296.4,2243.0h0M3101.8,2250.0h0M3108.7,2250.0h0M3115.7,2250.0h0M3129.6,2250.0h0M3136.5,2250.0h0M3143.5,2250.0h0M3150.4,2250.0h0M3164.3,2250.0h0M3192.1,2250.0h0M3213.0,2250.0h0M3220.0,2250.0h0M3261.7,2250.0h0M3275.6,2250.0h0M3282.5,2250.0h0M3101.8,2256.9h0M3122.6,2256.9h0M3129.6,2256.9h0M3136.5,2256.9h0M3157.4,2256.9h0M3185.2,2256.9h0M3206.1,2256.9h0M3213.0,2256.9h0M3233.9,2256.9h0M3247.8,2256.9h0M3261.7,2256.9h0M3268.6,2256.9h0M3289.5,2256.9h0M3101.8,2263.9h0M3122.6,2263.9h0M3129.6,2263.9h0M3136.5,2263.9h0M3143.5,2263.9h0M3150.4,2263.9h0M3192.1,2263.9h0M3206.1,2263.9h0M3220.0,2263.9h0M3226.9,2263.9h0M3240.8,2263.9h0M3247.8,2263.9h0M3268.6,2263.9h0M3275.6,2263.9h0M3282.5,2263.9h0M3108.7,2270.9h0M3122.6,2270.9h0M3164.3,2270.9h0M3171.3,2270.9h0M3185.2,2270.9h0M3192.1,2270.9h0M3206.1,2270.9h0M3226.9,2270.9h0M3233.9,2270.9h0M3254.7,2270.9h0M3282.5,2270.9h0M3289.5,2270.9h0M3108.7,2277.8h0M3115.7,2277.8h0M3143.5,2277.8h0M3178.2,2277.8h0M3192.1,2277.8h0M3220.0,2277.8h0M3226.9,2277.8h0M3240.8,2277.8h0M3254.7,2277.8h0M3261.7,2277.8h0M3275.6,2277.8h0M3282.5,2277.8h0M3289.5,2277.8h0M3296.4,2277.8h0M3101.8,2284.8h0M3129.6,2284.8h0M3136.5,2284.8h0M3171.3,2284.8h0M3178.2,2284.8h0M3192.1,2284.8h0M3233.9,2284.8h0M3247.8,2284.8h0M3268.6,2284.8h0M3275.6,2284.8h0M3282.5,2284.8h0M3296.4,2284.8h0M3115.7,2291.7h0M3129.6,2291.7h0M3136.5,2291.7h0M3143.5,2291.7h0M3150.4,2291.7h0M3171.3,2291.7h0M3185.2,2291.7h0M3199.1,2291.7h0M3206.1,2291.7h0M3226.9,2291.7h0M3233.9,2291.7h0M3261.7,2291.7h0M3275.6,2291.7h0M3282.5,2291.7h0M3289.5,2291.7h0M3101.8,2298.7h0M3108.7,2298.7h0M3115.7,2298.7h0M3185.2,2298.7h0M3192.1,2298.7h0M3199.1,2298.7h0M3206.1,2298.7h0M3213.0,2298.7h0M3240.8,2298.7h0M3268.6,2298.7h0M3275.6,2298.7h0M3282.5,2298.7h0M3289.5,2298.7h0M3296.4,2298.7h0M3101.8,2305.6h0M3108.7,2305.6h0M3122.6,2305.6h0M3129.6,2305.6h0M3136.5,2305.6h0M3143.5,2305.6h0M3150.4,2305.6h0M3157.4,2305.6h0M3171.3,2305.6h0M3185.2,2305.6h0M3226.9,2305.6h0M3240.8,2305.6h0M3247.8,2305.6h0M3254.7,2305.6h0M3261.7,2305.6h0M3268.6,2305.6h0M3275.6,2305.6h0M3282.5,2305.6h0M3289.5,2305.6h0M3296.4,2305.6h0M3164.3,2312.6h0M3171.3,2312.6h0M3178.2,2312.6h0M3185.2,2312.6h0M3206.1,2312.6h0M3213.0,2312.6h0M3240.8,2312.6h0M3268.6,2312.6h0M3275.6,2312.6h0M3282.5,2312.6h0M3164.3,2319.5h0M3171.3,2319.5h0M3178.2,2319.5h0M3206.1,2319.5h0M3213.0,2319.5h0M3220.0,2319.5h0M3226.9,2319.5h0M3233.9,2319.5h0M3240.8,2319.5h0M3254.7,2319.5h0M3268.6,2319.5h0M3282.5,2319.5h0M3296.4,2319.5h0M3164.3,2326.5h0M3171.3,2326.5h0M3178.2,2326.5h0M3213.0,2326.5h0M3220.0,2326.5h0M3240.8,2326.5h0M3268.6,2326.5h0M3275.6,2326.5h0M3282.5,2326.5h0M3296.4,2326.5h0M3157.4,2333.4h0M3164.3,2333.4h0M3171.3,2333.4h0M3192.1,2333.4h0M3199.1,2333.4h0M3206.1,2333.4h0M3213.0,2333.4h0M3220.0,2333.4h0M3226.9,2333.4h0M3240.8,2333.4h0M3247.8,2333.4h0M3254.7,2333.4h0M3261.7,2333.4h0M3268.6,2333.4h0M3275.6,2333.4h0M3282.5,2333.4h0M3289.5,2333.4h0M3296.4,2333.4h0M3157.4,2340.4h0M3206.1,2340.4h0M3247.8,2340.4h0M3261.7,2340.4h0M3268.6,2340.4h0M3275.6,2340.4h0M3282.5,2340.4h0M3289.5,2340.4h0M3157.4,2347.3h0M3164.3,2347.3h0M3185.2,2347.3h0M3192.1,2347.3h0M3199.1,2347.3h0M3206.1,2347.3h0M3233.9,2347.3h0M3240.8,2347.3h0M3247.8,2347.3h0M3254.7,2347.3h0M3261.7,2347.3h0M3289.5,2347.3h0M3157.4,2354.3h0M3171.3,2354.3h0M3192.1,2354.3h0M3199.1,2354.3h0M3213.0,2354.3h0M3220.0,2354.3h0M3226.9,2354.3h0M3268.6,2354.3h0M3282.5,2354.3h0M3289.5,2354.3h0M3157.4,2361.2h0M3185.2,2361.2h0M3192.1,2361.2h0M3199.1,2361.2h0M3206.1,2361.2h0M3220.0,2361.2h0M3233.9,2361.2h0M3240.8,2361.2h0M3247.8,2361.2h0M3282.5,2361.2h0M3289.5,2361.2h0" stroke="#fff" stroke-width="6.26" stroke-linecap="round" fill="none"/>
<rect x="3101.8" y="2166.6" width="41.7" height="41.7" fill="none" rx="13.208275862068964" stroke="#fff" stroke-width="6.951724137931034" />
<rect x="3112.2" y="2177.0" width="20.9" height="20.9" fill="#fff" rx="6.256551724137931" />
<rect x="3254.7" y="2166.6" width="41.7" height="41.7" fill="none" rx="13.208275862068964" stroke="#fff" stroke-width="6.951724137931034" />
<rect x="3265.1" y="2177.0" width="20.9" height="20.9" fill="#fff" rx="6.256551724137931" />
<rect x="3101.8" y="2319.5" width="41.7" height="41.7" fill="none" rx="13.208275862068964" stroke="#fff" stroke-width="6.951724137931034" />
<rect x="3112.2" y="2329.9" width="20.9" height="20.9" fill="#fff" rx="6.256551724137931" />
<text x="3106.3" y="2406.8" font-family='"Liberation Sans", sans-serif' font-size="23.16" font-weight="normal" font-style="normal" fill="#fff" text-anchor="start" textLength="184.5" lengthAdjust="spacingAndGlyphs" word-spacing="3.1" >*equal contribution</text>
</svg>
</body></html>
